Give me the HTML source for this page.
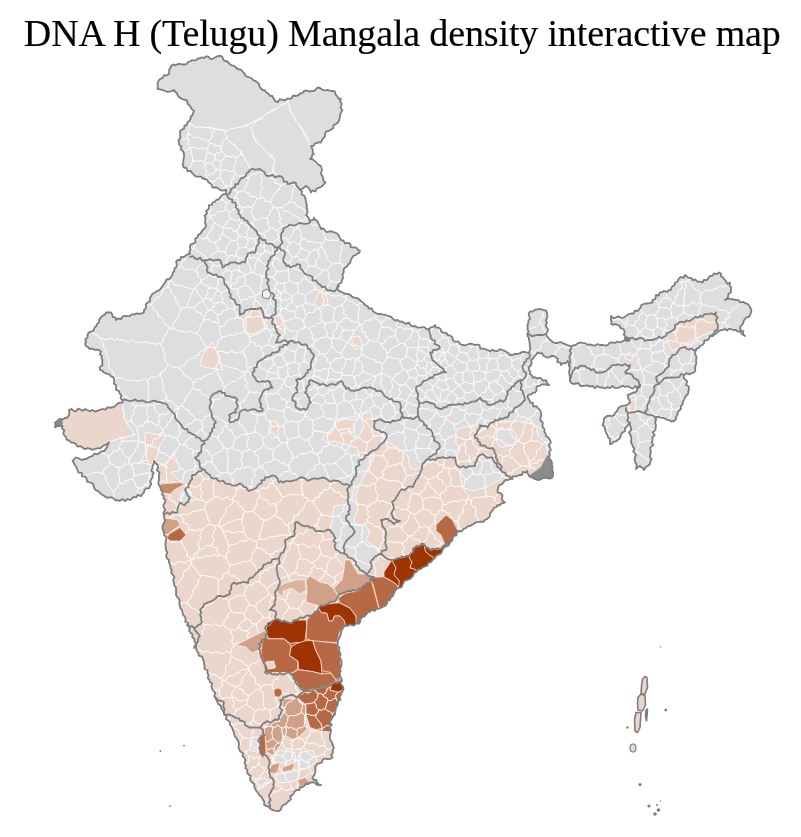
<!DOCTYPE html>
<html><head><meta charset="utf-8"><title>DNA H (Telugu) Mangala density interactive map</title>
<style>
html,body{margin:0;padding:0;background:#fff}
body{width:801px;height:837px;position:relative;overflow:hidden}
h1{position:absolute;left:1.75px;top:10.6px;width:801px;margin:0;text-align:center;font-family:"Liberation Serif","Times New Roman",serif;font-weight:normal;font-size:38px;line-height:44px;color:#000;white-space:nowrap;letter-spacing:-0.128px;word-spacing:-0.118px;-webkit-text-stroke:0.15px #000}
</style></head><body>
<h1>DNA H (Telugu) Mangala density interactive map</h1>
<svg width="801" height="837" viewBox="0 0 801 837" style="position:absolute;left:0;top:0">
<defs><clipPath id="ind"><path d="M157.5 84.0 L158.1 82.2 L158.7 80.4 L160.0 79.0 L162.4 78.1 L163.9 75.5 L166.8 75.3 L169.0 74.0 L169.2 71.9 L169.1 69.8 L170.5 68.0 L171.0 66.0 L173.2 64.4 L175.6 65.3 L177.9 64.0 L180.2 63.8 L182.6 64.5 L185.0 64.5 L186.9 63.9 L188.0 62.0 L190.0 61.5 L191.8 60.2 L194.1 60.3 L196.3 60.2 L198.0 58.5 L200.0 58.2 L201.9 57.3 L204.2 58.0 L206.0 56.5 L208.5 56.6 L210.1 58.8 L212.5 59.0 L214.5 57.8 L216.5 56.7 L218.6 55.9 L221.0 56.0 L222.6 57.5 L223.3 59.7 L225.0 61.0 L227.7 61.5 L229.3 63.8 L231.4 65.3 L234.0 65.9 L236.0 67.5 L237.7 69.1 L240.4 69.5 L242.2 71.0 L243.8 72.8 L245.0 75.0 L246.8 76.7 L249.3 77.3 L251.5 78.3 L253.2 80.2 L255.5 81.1 L257.5 82.5 L259.1 84.1 L259.4 86.6 L260.9 88.4 L262.5 90.0 L264.9 90.5 L266.4 92.6 L268.5 93.7 L269.9 95.8 L272.5 96.0 L273.0 97.8 L274.4 99.2 L275.0 101.0 L277.7 102.1 L279.8 99.2 L282.5 99.8 L285.1 100.4 L287.4 98.3 L290.0 99.0 L292.0 97.8 L293.3 95.5 L296.3 96.0 L298.4 95.1 L300.1 93.5 L302.6 93.1 L304.0 91.0 L306.5 90.5 L309.0 91.5 L311.5 91.2 L314.0 91.0 L315.8 89.3 L317.5 87.5 L320.0 88.0 L322.3 89.7 L324.7 90.5 L327.5 89.8 L329.9 90.9 L332.5 91.0 L335.1 91.6 L335.5 94.6 L337.3 96.1 L338.3 98.5 L341.0 99.0 L340.0 101.2 L341.6 103.5 L341.3 105.8 L340.5 108.0 L342.4 110.2 L341.0 112.5 L340.1 114.8 L339.9 117.5 L339.1 119.9 L338.2 122.2 L336.0 124.0 L333.6 125.1 L333.1 128.2 L331.0 129.6 L328.9 130.9 L326.1 131.5 L325.0 134.0 L324.9 136.6 L323.1 138.3 L321.9 140.3 L321.0 142.5 L318.7 142.2 L316.7 143.1 L314.7 143.7 L313.2 145.9 L311.0 146.0 L311.9 147.9 L312.8 149.9 L312.5 152.3 L314.0 154.0 L312.1 155.2 L311.8 157.7 L310.0 159.0 L312.4 159.3 L314.1 160.7 L315.9 161.8 L317.4 163.6 L319.0 165.1 L321.0 166.0 L321.5 168.0 L322.0 170.0 L321.2 172.0 L321.0 174.0 L322.4 176.0 L323.1 178.3 L323.4 180.9 L325.5 182.5 L323.8 184.1 L322.5 186.0 L320.6 187.0 L318.5 187.9 L316.5 188.8 L315.5 191.5 L312.3 190.4 L311.0 192.5 L310.2 190.5 L309.1 188.8 L307.8 187.2 L306.0 186.0 L304.1 187.5 L302.1 188.8 L300.0 190.0 L302.1 191.6 L301.6 194.3 L304.2 195.7 L305.2 197.8 L305.8 200.0 L306.0 202.5 L307.0 205.0 L306.5 207.5 L307.3 210.0 L307.5 212.5 L306.0 215.0 L307.7 216.5 L308.8 218.3 L309.3 220.5 L310.0 222.5 L310.7 220.3 L313.2 219.6 L314.0 217.5 L314.9 219.6 L317.2 220.8 L318.1 222.9 L319.1 224.9 L320.2 226.9 L321.0 229.0 L323.6 228.5 L325.4 231.2 L327.6 232.2 L330.4 231.2 L332.7 231.9 L335.0 232.5 L337.3 233.7 L338.8 235.6 L339.8 237.9 L341.0 240.0 L343.5 240.6 L344.7 243.3 L347.8 242.8 L350.2 243.7 L350.9 247.3 L353.6 247.4 L356.3 247.6 L357.8 249.9 L360.0 251.0 L359.2 252.8 L357.3 253.6 L356.0 255.0 L353.4 255.8 L352.0 257.9 L350.8 260.0 L350.3 262.6 L348.4 264.2 L347.3 266.4 L345.0 267.5 L343.6 269.8 L343.7 272.5 L342.4 274.8 L343.1 277.6 L342.0 280.0 L341.5 282.6 L339.0 284.1 L337.5 286.2 L337.5 289.0 L339.0 290.9 L341.1 291.8 L343.1 292.8 L345.2 293.6 L347.5 294.0 L350.1 294.6 L351.9 296.7 L354.4 297.6 L357.1 298.1 L359.3 299.5 L361.2 301.4 L363.4 302.7 L365.0 305.2 L367.5 306.0 L368.8 308.5 L371.8 308.5 L373.0 311.1 L375.0 312.6 L377.2 313.8 L380.0 314.0 L382.3 314.4 L384.6 314.7 L386.8 315.5 L389.0 316.1 L391.2 316.9 L393.0 318.9 L394.9 320.4 L397.5 320.0 L399.4 321.7 L401.9 321.4 L403.9 322.7 L406.0 323.9 L408.8 322.6 L410.5 325.0 L412.4 326.4 L415.0 326.0 L417.2 327.3 L419.5 327.7 L422.0 327.4 L424.5 327.1 L426.5 329.3 L429.0 329.0 L430.8 327.4 L433.3 326.8 L435.0 325.0 L435.9 327.5 L438.8 327.6 L440.5 329.1 L441.3 331.8 L443.5 332.7 L446.3 332.8 L447.5 335.0 L450.2 335.6 L452.3 337.2 L453.0 340.5 L455.3 341.7 L458.5 341.6 L460.0 344.0 L462.5 345.0 L465.0 345.4 L467.5 344.5 L470.0 343.6 L472.5 344.0 L474.6 345.0 L477.2 344.7 L479.5 345.2 L480.5 348.7 L483.0 348.7 L485.3 349.2 L487.5 350.0 L490.0 351.3 L492.5 349.8 L495.0 351.1 L497.5 351.0 L500.0 349.1 L502.5 350.0 L504.7 350.8 L506.5 352.1 L508.5 353.2 L510.0 355.0 L512.5 354.8 L514.9 353.9 L517.5 354.0 L520.0 353.2 L522.3 351.9 L525.0 352.0 L526.9 352.7 L529.0 352.5 L530.5 349.0 L529.9 346.7 L529.8 344.3 L529.5 342.0 L529.0 340.0 L528.8 337.8 L527.5 336.0 L527.3 333.8 L528.7 331.6 L527.5 329.4 L527.6 327.2 L527.5 325.0 L528.4 322.9 L528.4 320.5 L530.0 318.8 L529.5 316.9 L528.7 315.0 L528.8 313.0 L530.2 311.5 L532.4 311.7 L534.0 310.5 L535.9 309.4 L538.0 309.3 L540.0 308.8 L542.0 309.7 L544.1 310.1 L546.2 310.6 L546.9 312.3 L547.1 314.2 L547.5 316.0 L546.9 318.2 L545.9 320.4 L547.0 322.9 L545.6 325.0 L546.3 326.7 L547.5 328.2 L548.0 330.0 L547.2 332.1 L546.0 334.0 L546.6 335.8 L547.8 337.2 L548.8 338.8 L550.8 340.3 L552.6 342.0 L555.0 343.0 L557.6 343.0 L560.0 342.0 L561.9 342.6 L563.7 343.7 L565.6 344.3 L567.5 345.0 L571.0 346.5 L573.3 345.5 L575.7 345.0 L577.7 343.4 L580.0 342.5 L582.5 342.9 L585.0 343.1 L587.3 344.8 L589.9 344.3 L592.4 345.2 L594.8 345.7 L597.6 344.0 L600.0 345.0 L602.5 344.9 L605.2 345.7 L607.6 345.1 L609.9 342.7 L612.4 342.3 L615.0 343.0 L617.3 341.5 L620.0 342.5 L622.3 341.2 L624.7 340.1 L627.6 341.1 L630.0 340.0 L627.6 339.1 L625.0 339.0 L625.7 336.6 L623.7 334.6 L624.8 332.2 L624.0 330.0 L622.6 328.5 L620.3 328.1 L619.6 325.6 L617.5 325.0 L615.5 323.9 L613.1 324.8 L611.0 324.0 L611.9 322.0 L610.8 320.0 L611.0 318.0 L611.0 316.0 L613.0 317.8 L615.4 317.8 L618.1 316.2 L620.2 317.4 L622.5 318.0 L624.7 317.0 L626.6 315.6 L628.5 314.2 L630.8 313.5 L633.5 313.6 L634.7 310.7 L637.5 311.0 L639.2 309.3 L640.6 307.4 L641.5 304.9 L644.0 304.0 L646.1 303.3 L648.3 303.5 L650.4 302.9 L652.5 302.5 L652.5 300.2 L655.2 299.2 L655.7 297.1 L656.0 295.0 L658.6 295.6 L659.9 292.4 L662.2 292.2 L664.1 290.8 L667.0 292.2 L668.6 290.1 L671.0 290.0 L671.3 287.7 L672.8 286.2 L674.8 284.8 L675.0 282.5 L677.6 281.8 L678.6 278.9 L680.4 277.2 L683.8 277.5 L685.0 275.0 L686.8 276.4 L688.5 277.9 L691.2 277.9 L692.5 280.0 L695.3 279.5 L697.4 281.7 L700.0 281.7 L702.5 282.5 L703.7 280.0 L707.0 280.1 L708.4 277.9 L710.0 276.0 L712.5 275.8 L714.1 273.3 L717.1 274.2 L719.0 272.5 L721.0 273.6 L720.9 276.2 L722.8 277.3 L724.0 279.0 L725.4 280.5 L726.3 282.4 L727.5 284.0 L730.0 282.5 L729.5 285.1 L731.1 287.4 L731.0 290.0 L730.8 292.6 L728.5 294.0 L728.1 296.4 L727.2 298.6 L725.0 300.0 L727.2 299.0 L729.4 298.7 L731.6 299.1 L733.8 299.5 L736.0 300.0 L738.5 300.2 L740.3 302.3 L743.1 301.8 L745.2 303.2 L747.5 304.0 L749.1 305.4 L750.0 307.2 L751.0 309.0 L751.4 311.1 L750.7 313.1 L750.0 315.0 L748.8 317.0 L746.4 317.4 L745.0 319.0 L743.6 321.1 L743.2 323.7 L741.3 325.4 L740.0 327.5 L740.3 330.2 L743.4 331.2 L743.0 334.3 L745.0 336.0 L743.1 335.0 L741.4 333.6 L740.1 331.6 L737.6 331.5 L736.0 330.0 L733.8 330.0 L731.5 329.4 L729.2 328.6 L727.0 330.5 L724.8 329.0 L722.5 330.0 L720.1 330.4 L718.2 331.6 L716.4 333.3 L714.4 334.4 L712.7 336.2 L710.0 336.0 L709.1 338.5 L707.6 340.2 L704.5 340.5 L703.9 343.2 L702.4 345.0 L700.0 346.0 L699.1 347.8 L697.0 348.3 L696.0 350.0 L695.0 352.5 L695.6 355.0 L696.6 357.5 L696.0 360.0 L696.4 362.6 L695.8 365.1 L694.9 367.5 L695.4 370.2 L694.0 372.5 L691.5 373.3 L689.2 374.4 L686.2 373.2 L684.0 375.0 L683.5 377.8 L685.5 379.7 L687.2 381.7 L686.0 384.8 L688.7 386.5 L689.0 389.0 L688.3 391.3 L688.1 393.8 L686.3 395.5 L685.0 397.5 L684.0 399.7 L682.8 401.8 L682.6 404.3 L680.7 406.1 L681.0 408.9 L679.2 410.7 L677.5 412.5 L677.5 415.0 L676.0 416.8 L675.9 419.3 L674.0 421.0 L671.4 421.5 L669.4 420.2 L667.1 419.8 L665.0 418.5 L662.8 417.9 L660.5 417.7 L658.3 416.8 L656.0 417.0 L655.7 419.0 L655.6 421.0 L655.2 423.0 L656.0 425.0 L655.7 427.6 L655.3 430.1 L652.8 432.2 L654.7 435.2 L652.4 437.3 L652.5 440.0 L651.8 442.4 L653.4 444.9 L650.7 447.1 L650.3 449.5 L650.9 452.0 L650.3 454.3 L649.8 456.7 L651.6 459.3 L650.2 461.6 L650.0 464.0 L648.5 465.5 L646.5 466.5 L645.0 468.0 L644.0 470.0 L643.0 468.3 L641.4 467.2 L640.0 466.0 L637.7 467.1 L636.0 469.0 L636.5 466.7 L636.6 464.3 L635.2 462.0 L634.6 459.7 L634.9 457.3 L636.0 455.0 L634.8 453.1 L633.2 451.3 L634.4 448.4 L632.8 446.6 L632.2 444.4 L631.0 442.5 L631.2 440.0 L631.3 437.5 L630.5 435.0 L628.9 432.6 L631.2 429.9 L630.9 427.5 L630.0 425.0 L630.0 422.5 L628.5 424.5 L626.9 426.4 L625.1 428.2 L625.0 431.3 L622.5 432.5 L620.8 434.1 L620.5 436.6 L619.6 438.7 L617.5 440.0 L615.9 441.5 L613.5 441.6 L612.2 443.6 L610.0 444.0 L609.9 441.6 L609.9 439.2 L608.1 437.3 L607.5 435.0 L606.2 433.2 L605.4 431.0 L605.0 428.8 L604.2 426.7 L602.5 425.0 L603.4 423.2 L604.0 421.3 L603.6 419.1 L605.0 417.5 L607.0 416.0 L609.3 415.7 L611.9 416.2 L614.0 415.0 L614.9 413.2 L616.4 411.7 L617.5 410.0 L618.8 407.5 L621.0 406.4 L623.4 405.7 L626.1 405.4 L628.2 404.2 L630.0 402.5 L629.7 400.5 L628.3 398.9 L628.2 396.9 L627.5 395.0 L629.4 394.3 L631.2 393.7 L632.9 392.4 L635.0 392.5 L637.0 391.1 L636.9 388.4 L639.7 387.5 L640.0 385.0 L637.5 387.5 L635.1 386.1 L632.4 388.7 L630.0 387.3 L627.5 386.1 L625.0 387.0 L622.5 385.6 L620.0 387.3 L617.5 387.8 L615.0 388.1 L612.5 385.9 L610.0 388.2 L607.5 387.1 L605.0 388.5 L602.5 387.4 L600.0 387.5 L597.6 385.9 L594.9 388.2 L592.6 385.9 L590.0 386.6 L587.6 385.3 L585.1 385.6 L582.5 386.0 L580.1 385.9 L578.8 383.2 L576.2 383.5 L573.6 384.0 L571.5 383.2 L570.0 381.0 L570.0 378.8 L569.9 376.5 L569.4 374.2 L568.9 372.0 L569.5 369.8 L570.0 367.5 L568.9 365.5 L568.9 362.9 L567.5 361.0 L565.9 363.2 L562.9 363.2 L561.0 365.0 L560.4 362.6 L557.3 362.1 L557.8 358.8 L555.9 357.4 L554.0 356.0 L551.7 355.8 L549.7 357.4 L547.5 357.5 L545.3 356.8 L543.4 355.8 L542.1 353.2 L539.6 353.3 L537.5 352.5 L536.1 354.6 L534.4 356.4 L533.1 358.5 L531.0 360.0 L531.7 362.7 L531.0 365.2 L528.6 367.3 L529.0 370.0 L530.3 371.7 L529.9 374.1 L532.1 375.4 L532.5 377.5 L534.9 377.2 L537.0 378.4 L539.4 377.8 L541.6 378.8 L543.5 380.9 L546.0 380.0 L546.5 382.0 L547.6 383.6 L549.0 385.0 L546.7 384.8 L544.3 384.2 L542.0 384.3 L539.8 385.7 L537.5 386.0 L536.3 388.0 L536.6 390.6 L535.0 392.5 L532.9 392.9 L531.3 394.3 L529.1 394.6 L527.5 396.0 L528.1 398.3 L529.5 400.2 L530.0 402.5 L532.8 402.9 L533.2 406.5 L536.7 406.1 L538.1 408.4 L540.0 410.0 L540.9 412.4 L541.4 414.9 L540.5 417.6 L540.3 420.2 L542.8 422.4 L542.5 425.0 L542.8 427.3 L544.5 429.2 L544.4 431.7 L545.6 433.7 L546.0 436.0 L547.7 437.0 L549.0 438.3 L550.0 440.0 L550.9 442.5 L548.8 445.0 L550.0 447.5 L550.8 450.0 L548.8 452.5 L550.0 455.0 L548.8 457.7 L550.7 460.0 L551.9 462.4 L552.0 464.9 L552.6 467.4 L552.1 469.9 L553.2 472.4 L553.0 474.9 L552.5 477.5 L550.1 478.6 L547.5 478.1 L544.8 477.6 L542.4 478.4 L540.0 479.8 L537.5 480.0 L535.3 479.2 L533.3 477.9 L531.0 477.3 L529.0 476.0 L528.3 474.4 L527.4 472.8 L527.5 471.0 L525.8 472.6 L522.9 471.8 L522.0 475.0 L519.5 475.0 L517.5 476.0 L515.3 476.3 L513.0 476.3 L511.5 478.8 L509.4 479.3 L507.3 480.1 L505.0 480.0 L503.7 482.2 L502.1 484.1 L499.4 485.2 L498.2 487.4 L497.5 490.0 L497.8 492.7 L501.2 493.4 L502.5 495.5 L502.0 498.7 L502.7 501.0 L505.0 502.5 L503.1 503.2 L501.2 503.6 L499.7 505.3 L497.5 505.0 L496.5 507.0 L493.9 507.9 L492.9 509.9 L491.6 511.7 L490.1 513.4 L490.0 516.0 L488.6 517.7 L487.1 519.2 L485.0 520.0 L483.2 521.8 L480.7 521.7 L478.4 522.1 L475.9 522.2 L474.0 523.7 L472.0 524.7 L470.0 526.0 L467.5 526.3 L465.7 528.1 L463.3 528.9 L461.8 531.3 L459.0 531.0 L456.8 532.4 L456.6 535.3 L453.5 536.0 L452.7 538.4 L452.0 540.9 L450.0 542.5 L449.2 544.7 L447.5 546.0 L445.2 546.7 L443.6 548.1 L442.5 550.0 L441.7 552.5 L440.1 554.2 L437.4 554.9 L435.7 556.5 L434.4 558.6 L432.5 560.0 L431.0 562.2 L428.3 562.8 L427.4 565.7 L424.9 566.5 L422.5 567.5 L420.7 569.2 L417.9 569.6 L416.6 571.9 L414.3 572.9 L413.2 575.4 L411.8 577.5 L409.9 579.0 L407.5 580.0 L404.8 580.5 L403.5 582.7 L402.5 585.1 L401.3 587.4 L398.6 587.9 L396.4 589.0 L395.0 591.0 L393.9 593.4 L393.1 595.8 L390.9 597.5 L390.0 600.0 L387.4 600.6 L386.9 603.7 L385.5 605.7 L383.1 606.6 L381.0 607.8 L378.9 608.8 L376.4 608.8 L374.7 610.9 L371.9 610.0 L370.0 611.6 L367.8 612.5 L366.2 614.3 L364.8 616.2 L362.5 617.0 L360.4 618.8 L360.3 621.7 L358.8 623.8 L356.4 623.1 L354.5 625.2 L352.3 625.5 L349.9 624.2 L347.9 625.9 L345.6 625.6 L343.4 626.9 L342.5 629.2 L341.0 631.0 L341.0 633.6 L340.2 636.0 L339.0 638.3 L338.0 640.6 L337.8 643.0 L337.4 645.4 L339.6 647.6 L339.0 650.0 L339.8 652.3 L340.7 654.6 L339.3 657.3 L341.0 659.4 L341.6 661.8 L341.6 664.2 L341.3 666.5 L340.0 668.8 L340.7 670.9 L339.6 673.5 L340.1 675.7 L340.9 677.9 L342.0 680.0 L340.7 682.3 L341.1 684.5 L343.0 686.6 L343.5 688.7 L342.8 691.0 L341.4 692.8 L341.0 695.0 L339.5 696.8 L340.6 699.7 L338.0 701.1 L338.0 703.5 L337.2 705.6 L336.0 707.5 L335.6 709.8 L335.3 712.0 L334.9 714.3 L333.3 716.1 L332.2 718.1 L331.0 720.0 L329.5 722.4 L331.8 725.1 L329.1 727.4 L331.2 730.1 L330.6 732.5 L330.0 735.0 L329.8 737.7 L330.4 740.2 L332.1 742.5 L332.5 745.0 L333.9 747.5 L332.6 750.0 L332.9 752.5 L331.2 755.0 L332.5 757.5 L330.2 758.9 L327.6 759.1 L324.7 758.3 L322.5 760.0 L321.9 762.4 L319.7 763.2 L317.4 763.9 L316.0 765.5 L315.0 767.5 L315.6 770.3 L315.0 772.8 L314.3 775.3 L312.5 777.5 L313.4 779.9 L316.4 780.0 L317.1 782.5 L318.5 784.4 L321.0 785.0 L318.7 785.0 L316.5 784.7 L314.7 782.2 L312.3 782.7 L310.0 782.5 L308.3 784.1 L305.7 783.9 L304.2 786.0 L302.3 787.1 L300.0 787.5 L299.5 790.0 L296.5 790.0 L294.7 791.2 L293.7 793.2 L292.5 795.0 L290.2 796.1 L291.0 799.4 L289.2 800.8 L287.4 802.2 L286.0 804.0 L283.4 804.9 L281.7 806.7 L281.0 809.5 L279.0 811.0 L276.8 811.1 L274.6 810.5 L272.5 810.0 L270.3 808.7 L268.6 806.6 L266.0 806.0 L264.0 804.7 L264.4 801.8 L263.1 800.1 L262.2 798.1 L260.9 796.4 L259.0 795.0 L258.2 792.8 L256.4 791.1 L255.3 789.0 L254.3 786.9 L254.3 784.2 L252.5 782.5 L250.5 780.9 L250.0 778.7 L250.7 776.0 L248.5 774.4 L247.1 772.6 L247.5 770.0 L245.3 768.1 L246.0 765.3 L244.5 763.2 L245.5 760.2 L244.4 757.9 L242.5 756.0 L243.2 753.3 L240.4 751.6 L239.2 749.5 L238.5 747.2 L238.9 744.6 L238.8 742.1 L237.5 740.0 L236.3 737.9 L234.6 736.1 L234.1 733.7 L233.5 731.3 L232.6 729.1 L231.7 726.8 L230.0 725.0 L229.9 722.4 L228.3 720.5 L225.8 719.1 L226.6 716.0 L224.1 714.6 L223.8 712.1 L222.5 710.0 L221.1 708.2 L221.0 705.7 L218.5 704.4 L217.5 702.4 L216.4 700.4 L216.0 698.0 L214.2 696.1 L215.4 693.0 L213.6 691.1 L212.1 689.0 L211.4 686.7 L212.2 683.8 L210.0 682.0 L209.3 679.7 L207.7 677.8 L208.6 675.0 L207.4 672.9 L207.6 670.3 L204.4 668.9 L204.7 666.3 L204.0 664.0 L203.9 661.4 L202.9 659.1 L202.1 656.7 L198.7 655.6 L198.4 653.0 L197.0 651.0 L196.1 648.6 L196.0 646.0 L196.4 643.3 L194.5 641.5 L194.5 638.9 L192.1 637.3 L192.6 634.5 L190.5 632.7 L189.1 630.7 L189.7 627.9 L188.0 626.0 L188.4 623.2 L185.2 621.8 L185.7 619.0 L184.9 616.7 L182.9 614.9 L182.5 612.4 L182.0 610.0 L180.3 608.1 L179.8 605.8 L179.3 603.5 L179.6 601.0 L179.1 598.8 L177.1 596.9 L175.9 594.9 L176.2 592.4 L176.0 590.0 L176.0 587.4 L174.1 585.2 L173.9 582.6 L173.1 580.2 L174.4 577.3 L173.1 575.0 L171.2 572.8 L172.0 570.0 L170.5 568.4 L170.3 566.3 L169.8 564.3 L169.0 562.5 L168.8 559.9 L166.6 557.8 L166.2 555.2 L167.2 552.4 L166.0 550.0 L165.8 547.5 L165.4 545.0 L165.5 542.5 L166.0 540.0 L166.6 537.1 L164.1 535.2 L164.1 532.4 L162.8 530.1 L162.5 527.5 L162.7 525.0 L164.2 522.6 L164.9 520.2 L164.0 517.5 L163.8 515.0 L163.4 512.4 L165.2 510.0 L163.8 507.4 L163.4 504.9 L165.0 502.5 L165.5 500.0 L163.4 498.4 L163.9 496.0 L162.1 494.3 L162.8 491.7 L161.0 490.0 L160.4 487.5 L159.1 485.2 L158.2 482.8 L159.0 480.0 L158.9 477.5 L158.9 475.0 L159.5 472.4 L156.8 470.1 L158.1 467.5 L157.5 465.0 L156.2 463.8 L155.2 462.3 L154.0 461.0 L154.0 462.8 L153.3 464.4 L152.5 466.0 L152.4 468.3 L151.2 470.6 L153.7 472.9 L152.5 475.2 L152.5 477.5 L151.2 479.4 L150.2 481.4 L151.3 484.1 L150.0 486.0 L149.3 488.3 L146.1 488.3 L144.5 489.9 L144.0 492.4 L142.5 494.0 L141.0 496.2 L137.8 494.8 L136.4 497.3 L133.6 496.9 L131.9 498.7 L130.0 500.0 L127.5 499.0 L125.0 501.0 L122.5 499.1 L120.0 500.8 L117.5 500.3 L115.0 500.0 L113.1 498.0 L110.7 497.1 L107.6 497.9 L105.3 496.8 L103.2 495.3 L101.0 494.0 L99.5 492.3 L97.6 491.0 L95.5 489.9 L94.2 488.0 L93.6 485.3 L92.4 483.3 L90.0 482.5 L87.2 481.7 L86.6 478.8 L85.2 476.6 L81.9 476.3 L81.8 472.9 L78.5 472.6 L77.5 470.0 L76.5 467.6 L75.1 465.4 L74.0 463.1 L72.5 461.0 L74.1 459.1 L76.0 457.5 L78.2 458.2 L80.3 459.3 L82.5 460.0 L84.4 459.0 L86.7 458.8 L88.4 457.5 L90.4 456.6 L92.5 456.0 L94.2 453.7 L97.2 454.3 L99.4 453.0 L101.4 451.3 L104.0 451.0 L105.8 449.2 L107.1 447.1 L107.7 444.6 L109.0 442.5 L107.2 444.1 L105.0 445.0 L103.0 445.9 L101.4 447.6 L99.4 448.4 L97.1 448.4 L95.0 449.0 L92.4 449.9 L90.0 448.6 L87.5 448.1 L84.8 449.2 L82.5 447.5 L80.4 446.1 L77.4 446.6 L75.9 443.9 L73.6 442.7 L71.0 442.5 L69.3 440.6 L66.6 439.6 L65.8 436.9 L64.0 435.0 L63.3 432.8 L64.3 430.3 L62.0 428.4 L62.5 426.0 L59.9 425.8 L57.3 426.0 L55.0 427.5 L55.3 425.0 L55.0 422.5 L57.0 421.7 L58.1 419.8 L60.0 419.0 L62.7 419.4 L65.0 418.0 L67.5 417.5 L68.9 415.2 L69.3 412.7 L69.0 410.0 L71.3 409.0 L73.6 410.9 L75.9 411.3 L78.2 408.7 L80.6 409.6 L82.9 410.8 L85.2 409.0 L87.5 410.0 L89.9 411.3 L92.6 409.9 L94.9 411.6 L97.5 411.0 L99.0 409.9 L100.8 409.7 L102.5 409.0 L105.2 409.7 L107.4 407.5 L109.9 407.3 L112.5 407.5 L114.5 406.5 L116.3 405.0 L117.9 403.3 L120.1 402.7 L122.5 402.5 L122.5 400.0 L120.5 398.4 L121.5 395.2 L119.7 393.5 L119.2 391.1 L116.2 390.0 L116.0 387.5 L116.2 385.2 L113.7 383.6 L114.3 381.2 L114.0 379.0 L113.0 377.0 L110.9 376.3 L109.4 374.2 L107.1 373.9 L105.0 373.0 L103.4 371.9 L102.0 370.5 L100.0 370.0 L99.6 367.2 L102.5 365.3 L102.2 362.6 L102.5 360.0 L101.5 358.1 L101.9 355.7 L99.8 354.2 L101.0 351.6 L99.0 350.0 L96.8 349.6 L94.5 349.8 L92.3 348.6 L90.0 349.0 L88.3 347.4 L86.2 346.1 L85.0 344.0 L86.2 341.9 L85.2 339.2 L87.6 337.5 L87.5 335.0 L88.6 332.7 L91.1 331.7 L93.5 330.6 L94.3 328.0 L96.1 326.4 L96.9 323.9 L99.0 322.5 L99.2 319.6 L100.7 317.7 L102.3 315.9 L104.9 314.7 L106.0 312.5 L108.5 312.4 L111.0 312.5 L112.2 314.4 L112.7 316.8 L115.5 317.6 L116.0 320.0 L118.1 318.5 L120.8 319.1 L122.6 316.6 L124.9 315.9 L127.5 316.2 L130.0 316.0 L132.0 314.3 L134.6 314.4 L136.8 313.4 L139.4 313.9 L141.7 313.3 L144.0 312.5 L143.9 310.2 L145.7 308.6 L146.0 306.5 L145.9 304.2 L147.5 302.5 L150.0 301.3 L149.9 298.0 L151.2 295.9 L152.5 293.8 L155.0 292.5 L157.1 291.1 L159.4 290.0 L161.1 288.2 L162.5 286.0 L163.9 284.0 L165.3 281.9 L166.4 279.5 L169.5 279.0 L171.0 277.0 L172.5 275.0 L172.8 272.7 L174.3 270.9 L174.5 268.5 L176.6 266.8 L176.7 264.5 L176.1 261.9 L177.5 260.0 L180.1 260.1 L181.1 256.8 L183.8 257.1 L185.7 255.7 L187.6 254.3 L190.0 254.0 L189.3 251.8 L190.5 249.7 L190.0 247.5 L190.3 244.6 L193.1 243.6 L195.6 242.3 L195.1 238.9 L197.5 237.5 L198.2 234.9 L200.6 233.5 L201.8 231.3 L203.5 229.4 L205.4 227.6 L206.0 225.0 L205.0 222.7 L205.4 220.3 L205.4 218.0 L204.6 215.7 L207.2 213.3 L206.0 211.0 L207.9 209.8 L209.1 208.0 L208.8 205.1 L212.0 204.8 L212.5 202.5 L214.8 201.9 L216.3 200.0 L218.7 199.5 L220.1 197.5 L221.7 195.7 L223.4 194.2 L226.0 194.0 L226.0 190.0 L223.6 190.4 L221.2 190.5 L219.2 189.2 L217.1 187.6 L214.9 187.3 L212.5 187.5 L211.9 185.2 L210.4 183.5 L208.3 182.2 L207.5 180.0 L205.3 179.0 L202.9 178.5 L201.1 176.7 L198.5 176.6 L196.0 176.5 L194.0 175.0 L192.3 173.2 L190.8 170.9 L187.5 171.2 L186.7 168.1 L184.0 167.5 L182.7 165.0 L183.4 162.5 L183.3 160.0 L184.0 157.5 L184.0 155.1 L183.8 152.8 L182.6 150.8 L180.7 149.1 L181.5 146.4 L179.2 144.8 L179.0 142.5 L178.4 140.1 L180.6 138.0 L180.0 135.6 L180.4 133.4 L180.0 131.0 L181.9 129.6 L184.1 128.5 L184.4 125.8 L186.8 124.9 L187.5 122.5 L189.1 120.9 L190.6 119.2 L190.6 116.7 L192.4 115.2 L193.1 113.0 L194.0 111.0 L192.5 109.7 L191.1 108.4 L190.4 106.3 L189.0 105.0 L187.5 103.7 L187.5 101.3 L186.0 100.0 L183.4 99.5 L181.1 98.5 L179.1 97.1 L177.5 95.0 L176.9 92.9 L175.0 91.8 L174.0 90.0 L171.8 91.1 L169.6 91.6 L167.4 91.8 L165.0 91.0 L162.6 90.0 L160.1 89.4 L157.5 89.0 L157.8 86.5Z"/></clipPath></defs>
<path d="M157.5 84.0 L158.1 82.2 L158.7 80.4 L160.0 79.0 L162.4 78.1 L163.9 75.5 L166.8 75.3 L169.0 74.0 L169.2 71.9 L169.1 69.8 L170.5 68.0 L171.0 66.0 L173.2 64.4 L175.6 65.3 L177.9 64.0 L180.2 63.8 L182.6 64.5 L185.0 64.5 L186.9 63.9 L188.0 62.0 L190.0 61.5 L191.8 60.2 L194.1 60.3 L196.3 60.2 L198.0 58.5 L200.0 58.2 L201.9 57.3 L204.2 58.0 L206.0 56.5 L208.5 56.6 L210.1 58.8 L212.5 59.0 L214.5 57.8 L216.5 56.7 L218.6 55.9 L221.0 56.0 L222.6 57.5 L223.3 59.7 L225.0 61.0 L227.7 61.5 L229.3 63.8 L231.4 65.3 L234.0 65.9 L236.0 67.5 L237.7 69.1 L240.4 69.5 L242.2 71.0 L243.8 72.8 L245.0 75.0 L246.8 76.7 L249.3 77.3 L251.5 78.3 L253.2 80.2 L255.5 81.1 L257.5 82.5 L259.1 84.1 L259.4 86.6 L260.9 88.4 L262.5 90.0 L264.9 90.5 L266.4 92.6 L268.5 93.7 L269.9 95.8 L272.5 96.0 L273.0 97.8 L274.4 99.2 L275.0 101.0 L277.7 102.1 L279.8 99.2 L282.5 99.8 L285.1 100.4 L287.4 98.3 L290.0 99.0 L292.0 97.8 L293.3 95.5 L296.3 96.0 L298.4 95.1 L300.1 93.5 L302.6 93.1 L304.0 91.0 L306.5 90.5 L309.0 91.5 L311.5 91.2 L314.0 91.0 L315.8 89.3 L317.5 87.5 L320.0 88.0 L322.3 89.7 L324.7 90.5 L327.5 89.8 L329.9 90.9 L332.5 91.0 L335.1 91.6 L335.5 94.6 L337.3 96.1 L338.3 98.5 L341.0 99.0 L340.0 101.2 L341.6 103.5 L341.3 105.8 L340.5 108.0 L342.4 110.2 L341.0 112.5 L340.1 114.8 L339.9 117.5 L339.1 119.9 L338.2 122.2 L336.0 124.0 L333.6 125.1 L333.1 128.2 L331.0 129.6 L328.9 130.9 L326.1 131.5 L325.0 134.0 L324.9 136.6 L323.1 138.3 L321.9 140.3 L321.0 142.5 L318.7 142.2 L316.7 143.1 L314.7 143.7 L313.2 145.9 L311.0 146.0 L311.9 147.9 L312.8 149.9 L312.5 152.3 L314.0 154.0 L312.1 155.2 L311.8 157.7 L310.0 159.0 L312.4 159.3 L314.1 160.7 L315.9 161.8 L317.4 163.6 L319.0 165.1 L321.0 166.0 L321.5 168.0 L322.0 170.0 L321.2 172.0 L321.0 174.0 L322.4 176.0 L323.1 178.3 L323.4 180.9 L325.5 182.5 L323.8 184.1 L322.5 186.0 L320.6 187.0 L318.5 187.9 L316.5 188.8 L315.5 191.5 L312.3 190.4 L311.0 192.5 L310.2 190.5 L309.1 188.8 L307.8 187.2 L306.0 186.0 L304.1 187.5 L302.1 188.8 L300.0 190.0 L302.1 191.6 L301.6 194.3 L304.2 195.7 L305.2 197.8 L305.8 200.0 L306.0 202.5 L307.0 205.0 L306.5 207.5 L307.3 210.0 L307.5 212.5 L306.0 215.0 L307.7 216.5 L308.8 218.3 L309.3 220.5 L310.0 222.5 L310.7 220.3 L313.2 219.6 L314.0 217.5 L314.9 219.6 L317.2 220.8 L318.1 222.9 L319.1 224.9 L320.2 226.9 L321.0 229.0 L323.6 228.5 L325.4 231.2 L327.6 232.2 L330.4 231.2 L332.7 231.9 L335.0 232.5 L337.3 233.7 L338.8 235.6 L339.8 237.9 L341.0 240.0 L343.5 240.6 L344.7 243.3 L347.8 242.8 L350.2 243.7 L350.9 247.3 L353.6 247.4 L356.3 247.6 L357.8 249.9 L360.0 251.0 L359.2 252.8 L357.3 253.6 L356.0 255.0 L353.4 255.8 L352.0 257.9 L350.8 260.0 L350.3 262.6 L348.4 264.2 L347.3 266.4 L345.0 267.5 L343.6 269.8 L343.7 272.5 L342.4 274.8 L343.1 277.6 L342.0 280.0 L341.5 282.6 L339.0 284.1 L337.5 286.2 L337.5 289.0 L339.0 290.9 L341.1 291.8 L343.1 292.8 L345.2 293.6 L347.5 294.0 L350.1 294.6 L351.9 296.7 L354.4 297.6 L357.1 298.1 L359.3 299.5 L361.2 301.4 L363.4 302.7 L365.0 305.2 L367.5 306.0 L368.8 308.5 L371.8 308.5 L373.0 311.1 L375.0 312.6 L377.2 313.8 L380.0 314.0 L382.3 314.4 L384.6 314.7 L386.8 315.5 L389.0 316.1 L391.2 316.9 L393.0 318.9 L394.9 320.4 L397.5 320.0 L399.4 321.7 L401.9 321.4 L403.9 322.7 L406.0 323.9 L408.8 322.6 L410.5 325.0 L412.4 326.4 L415.0 326.0 L417.2 327.3 L419.5 327.7 L422.0 327.4 L424.5 327.1 L426.5 329.3 L429.0 329.0 L430.8 327.4 L433.3 326.8 L435.0 325.0 L435.9 327.5 L438.8 327.6 L440.5 329.1 L441.3 331.8 L443.5 332.7 L446.3 332.8 L447.5 335.0 L450.2 335.6 L452.3 337.2 L453.0 340.5 L455.3 341.7 L458.5 341.6 L460.0 344.0 L462.5 345.0 L465.0 345.4 L467.5 344.5 L470.0 343.6 L472.5 344.0 L474.6 345.0 L477.2 344.7 L479.5 345.2 L480.5 348.7 L483.0 348.7 L485.3 349.2 L487.5 350.0 L490.0 351.3 L492.5 349.8 L495.0 351.1 L497.5 351.0 L500.0 349.1 L502.5 350.0 L504.7 350.8 L506.5 352.1 L508.5 353.2 L510.0 355.0 L512.5 354.8 L514.9 353.9 L517.5 354.0 L520.0 353.2 L522.3 351.9 L525.0 352.0 L526.9 352.7 L529.0 352.5 L530.5 349.0 L529.9 346.7 L529.8 344.3 L529.5 342.0 L529.0 340.0 L528.8 337.8 L527.5 336.0 L527.3 333.8 L528.7 331.6 L527.5 329.4 L527.6 327.2 L527.5 325.0 L528.4 322.9 L528.4 320.5 L530.0 318.8 L529.5 316.9 L528.7 315.0 L528.8 313.0 L530.2 311.5 L532.4 311.7 L534.0 310.5 L535.9 309.4 L538.0 309.3 L540.0 308.8 L542.0 309.7 L544.1 310.1 L546.2 310.6 L546.9 312.3 L547.1 314.2 L547.5 316.0 L546.9 318.2 L545.9 320.4 L547.0 322.9 L545.6 325.0 L546.3 326.7 L547.5 328.2 L548.0 330.0 L547.2 332.1 L546.0 334.0 L546.6 335.8 L547.8 337.2 L548.8 338.8 L550.8 340.3 L552.6 342.0 L555.0 343.0 L557.6 343.0 L560.0 342.0 L561.9 342.6 L563.7 343.7 L565.6 344.3 L567.5 345.0 L571.0 346.5 L573.3 345.5 L575.7 345.0 L577.7 343.4 L580.0 342.5 L582.5 342.9 L585.0 343.1 L587.3 344.8 L589.9 344.3 L592.4 345.2 L594.8 345.7 L597.6 344.0 L600.0 345.0 L602.5 344.9 L605.2 345.7 L607.6 345.1 L609.9 342.7 L612.4 342.3 L615.0 343.0 L617.3 341.5 L620.0 342.5 L622.3 341.2 L624.7 340.1 L627.6 341.1 L630.0 340.0 L627.6 339.1 L625.0 339.0 L625.7 336.6 L623.7 334.6 L624.8 332.2 L624.0 330.0 L622.6 328.5 L620.3 328.1 L619.6 325.6 L617.5 325.0 L615.5 323.9 L613.1 324.8 L611.0 324.0 L611.9 322.0 L610.8 320.0 L611.0 318.0 L611.0 316.0 L613.0 317.8 L615.4 317.8 L618.1 316.2 L620.2 317.4 L622.5 318.0 L624.7 317.0 L626.6 315.6 L628.5 314.2 L630.8 313.5 L633.5 313.6 L634.7 310.7 L637.5 311.0 L639.2 309.3 L640.6 307.4 L641.5 304.9 L644.0 304.0 L646.1 303.3 L648.3 303.5 L650.4 302.9 L652.5 302.5 L652.5 300.2 L655.2 299.2 L655.7 297.1 L656.0 295.0 L658.6 295.6 L659.9 292.4 L662.2 292.2 L664.1 290.8 L667.0 292.2 L668.6 290.1 L671.0 290.0 L671.3 287.7 L672.8 286.2 L674.8 284.8 L675.0 282.5 L677.6 281.8 L678.6 278.9 L680.4 277.2 L683.8 277.5 L685.0 275.0 L686.8 276.4 L688.5 277.9 L691.2 277.9 L692.5 280.0 L695.3 279.5 L697.4 281.7 L700.0 281.7 L702.5 282.5 L703.7 280.0 L707.0 280.1 L708.4 277.9 L710.0 276.0 L712.5 275.8 L714.1 273.3 L717.1 274.2 L719.0 272.5 L721.0 273.6 L720.9 276.2 L722.8 277.3 L724.0 279.0 L725.4 280.5 L726.3 282.4 L727.5 284.0 L730.0 282.5 L729.5 285.1 L731.1 287.4 L731.0 290.0 L730.8 292.6 L728.5 294.0 L728.1 296.4 L727.2 298.6 L725.0 300.0 L727.2 299.0 L729.4 298.7 L731.6 299.1 L733.8 299.5 L736.0 300.0 L738.5 300.2 L740.3 302.3 L743.1 301.8 L745.2 303.2 L747.5 304.0 L749.1 305.4 L750.0 307.2 L751.0 309.0 L751.4 311.1 L750.7 313.1 L750.0 315.0 L748.8 317.0 L746.4 317.4 L745.0 319.0 L743.6 321.1 L743.2 323.7 L741.3 325.4 L740.0 327.5 L740.3 330.2 L743.4 331.2 L743.0 334.3 L745.0 336.0 L743.1 335.0 L741.4 333.6 L740.1 331.6 L737.6 331.5 L736.0 330.0 L733.8 330.0 L731.5 329.4 L729.2 328.6 L727.0 330.5 L724.8 329.0 L722.5 330.0 L720.1 330.4 L718.2 331.6 L716.4 333.3 L714.4 334.4 L712.7 336.2 L710.0 336.0 L709.1 338.5 L707.6 340.2 L704.5 340.5 L703.9 343.2 L702.4 345.0 L700.0 346.0 L699.1 347.8 L697.0 348.3 L696.0 350.0 L695.0 352.5 L695.6 355.0 L696.6 357.5 L696.0 360.0 L696.4 362.6 L695.8 365.1 L694.9 367.5 L695.4 370.2 L694.0 372.5 L691.5 373.3 L689.2 374.4 L686.2 373.2 L684.0 375.0 L683.5 377.8 L685.5 379.7 L687.2 381.7 L686.0 384.8 L688.7 386.5 L689.0 389.0 L688.3 391.3 L688.1 393.8 L686.3 395.5 L685.0 397.5 L684.0 399.7 L682.8 401.8 L682.6 404.3 L680.7 406.1 L681.0 408.9 L679.2 410.7 L677.5 412.5 L677.5 415.0 L676.0 416.8 L675.9 419.3 L674.0 421.0 L671.4 421.5 L669.4 420.2 L667.1 419.8 L665.0 418.5 L662.8 417.9 L660.5 417.7 L658.3 416.8 L656.0 417.0 L655.7 419.0 L655.6 421.0 L655.2 423.0 L656.0 425.0 L655.7 427.6 L655.3 430.1 L652.8 432.2 L654.7 435.2 L652.4 437.3 L652.5 440.0 L651.8 442.4 L653.4 444.9 L650.7 447.1 L650.3 449.5 L650.9 452.0 L650.3 454.3 L649.8 456.7 L651.6 459.3 L650.2 461.6 L650.0 464.0 L648.5 465.5 L646.5 466.5 L645.0 468.0 L644.0 470.0 L643.0 468.3 L641.4 467.2 L640.0 466.0 L637.7 467.1 L636.0 469.0 L636.5 466.7 L636.6 464.3 L635.2 462.0 L634.6 459.7 L634.9 457.3 L636.0 455.0 L634.8 453.1 L633.2 451.3 L634.4 448.4 L632.8 446.6 L632.2 444.4 L631.0 442.5 L631.2 440.0 L631.3 437.5 L630.5 435.0 L628.9 432.6 L631.2 429.9 L630.9 427.5 L630.0 425.0 L630.0 422.5 L628.5 424.5 L626.9 426.4 L625.1 428.2 L625.0 431.3 L622.5 432.5 L620.8 434.1 L620.5 436.6 L619.6 438.7 L617.5 440.0 L615.9 441.5 L613.5 441.6 L612.2 443.6 L610.0 444.0 L609.9 441.6 L609.9 439.2 L608.1 437.3 L607.5 435.0 L606.2 433.2 L605.4 431.0 L605.0 428.8 L604.2 426.7 L602.5 425.0 L603.4 423.2 L604.0 421.3 L603.6 419.1 L605.0 417.5 L607.0 416.0 L609.3 415.7 L611.9 416.2 L614.0 415.0 L614.9 413.2 L616.4 411.7 L617.5 410.0 L618.8 407.5 L621.0 406.4 L623.4 405.7 L626.1 405.4 L628.2 404.2 L630.0 402.5 L629.7 400.5 L628.3 398.9 L628.2 396.9 L627.5 395.0 L629.4 394.3 L631.2 393.7 L632.9 392.4 L635.0 392.5 L637.0 391.1 L636.9 388.4 L639.7 387.5 L640.0 385.0 L637.5 387.5 L635.1 386.1 L632.4 388.7 L630.0 387.3 L627.5 386.1 L625.0 387.0 L622.5 385.6 L620.0 387.3 L617.5 387.8 L615.0 388.1 L612.5 385.9 L610.0 388.2 L607.5 387.1 L605.0 388.5 L602.5 387.4 L600.0 387.5 L597.6 385.9 L594.9 388.2 L592.6 385.9 L590.0 386.6 L587.6 385.3 L585.1 385.6 L582.5 386.0 L580.1 385.9 L578.8 383.2 L576.2 383.5 L573.6 384.0 L571.5 383.2 L570.0 381.0 L570.0 378.8 L569.9 376.5 L569.4 374.2 L568.9 372.0 L569.5 369.8 L570.0 367.5 L568.9 365.5 L568.9 362.9 L567.5 361.0 L565.9 363.2 L562.9 363.2 L561.0 365.0 L560.4 362.6 L557.3 362.1 L557.8 358.8 L555.9 357.4 L554.0 356.0 L551.7 355.8 L549.7 357.4 L547.5 357.5 L545.3 356.8 L543.4 355.8 L542.1 353.2 L539.6 353.3 L537.5 352.5 L536.1 354.6 L534.4 356.4 L533.1 358.5 L531.0 360.0 L531.7 362.7 L531.0 365.2 L528.6 367.3 L529.0 370.0 L530.3 371.7 L529.9 374.1 L532.1 375.4 L532.5 377.5 L534.9 377.2 L537.0 378.4 L539.4 377.8 L541.6 378.8 L543.5 380.9 L546.0 380.0 L546.5 382.0 L547.6 383.6 L549.0 385.0 L546.7 384.8 L544.3 384.2 L542.0 384.3 L539.8 385.7 L537.5 386.0 L536.3 388.0 L536.6 390.6 L535.0 392.5 L532.9 392.9 L531.3 394.3 L529.1 394.6 L527.5 396.0 L528.1 398.3 L529.5 400.2 L530.0 402.5 L532.8 402.9 L533.2 406.5 L536.7 406.1 L538.1 408.4 L540.0 410.0 L540.9 412.4 L541.4 414.9 L540.5 417.6 L540.3 420.2 L542.8 422.4 L542.5 425.0 L542.8 427.3 L544.5 429.2 L544.4 431.7 L545.6 433.7 L546.0 436.0 L547.7 437.0 L549.0 438.3 L550.0 440.0 L550.9 442.5 L548.8 445.0 L550.0 447.5 L550.8 450.0 L548.8 452.5 L550.0 455.0 L548.8 457.7 L550.7 460.0 L551.9 462.4 L552.0 464.9 L552.6 467.4 L552.1 469.9 L553.2 472.4 L553.0 474.9 L552.5 477.5 L550.1 478.6 L547.5 478.1 L544.8 477.6 L542.4 478.4 L540.0 479.8 L537.5 480.0 L535.3 479.2 L533.3 477.9 L531.0 477.3 L529.0 476.0 L528.3 474.4 L527.4 472.8 L527.5 471.0 L525.8 472.6 L522.9 471.8 L522.0 475.0 L519.5 475.0 L517.5 476.0 L515.3 476.3 L513.0 476.3 L511.5 478.8 L509.4 479.3 L507.3 480.1 L505.0 480.0 L503.7 482.2 L502.1 484.1 L499.4 485.2 L498.2 487.4 L497.5 490.0 L497.8 492.7 L501.2 493.4 L502.5 495.5 L502.0 498.7 L502.7 501.0 L505.0 502.5 L503.1 503.2 L501.2 503.6 L499.7 505.3 L497.5 505.0 L496.5 507.0 L493.9 507.9 L492.9 509.9 L491.6 511.7 L490.1 513.4 L490.0 516.0 L488.6 517.7 L487.1 519.2 L485.0 520.0 L483.2 521.8 L480.7 521.7 L478.4 522.1 L475.9 522.2 L474.0 523.7 L472.0 524.7 L470.0 526.0 L467.5 526.3 L465.7 528.1 L463.3 528.9 L461.8 531.3 L459.0 531.0 L456.8 532.4 L456.6 535.3 L453.5 536.0 L452.7 538.4 L452.0 540.9 L450.0 542.5 L449.2 544.7 L447.5 546.0 L445.2 546.7 L443.6 548.1 L442.5 550.0 L441.7 552.5 L440.1 554.2 L437.4 554.9 L435.7 556.5 L434.4 558.6 L432.5 560.0 L431.0 562.2 L428.3 562.8 L427.4 565.7 L424.9 566.5 L422.5 567.5 L420.7 569.2 L417.9 569.6 L416.6 571.9 L414.3 572.9 L413.2 575.4 L411.8 577.5 L409.9 579.0 L407.5 580.0 L404.8 580.5 L403.5 582.7 L402.5 585.1 L401.3 587.4 L398.6 587.9 L396.4 589.0 L395.0 591.0 L393.9 593.4 L393.1 595.8 L390.9 597.5 L390.0 600.0 L387.4 600.6 L386.9 603.7 L385.5 605.7 L383.1 606.6 L381.0 607.8 L378.9 608.8 L376.4 608.8 L374.7 610.9 L371.9 610.0 L370.0 611.6 L367.8 612.5 L366.2 614.3 L364.8 616.2 L362.5 617.0 L360.4 618.8 L360.3 621.7 L358.8 623.8 L356.4 623.1 L354.5 625.2 L352.3 625.5 L349.9 624.2 L347.9 625.9 L345.6 625.6 L343.4 626.9 L342.5 629.2 L341.0 631.0 L341.0 633.6 L340.2 636.0 L339.0 638.3 L338.0 640.6 L337.8 643.0 L337.4 645.4 L339.6 647.6 L339.0 650.0 L339.8 652.3 L340.7 654.6 L339.3 657.3 L341.0 659.4 L341.6 661.8 L341.6 664.2 L341.3 666.5 L340.0 668.8 L340.7 670.9 L339.6 673.5 L340.1 675.7 L340.9 677.9 L342.0 680.0 L340.7 682.3 L341.1 684.5 L343.0 686.6 L343.5 688.7 L342.8 691.0 L341.4 692.8 L341.0 695.0 L339.5 696.8 L340.6 699.7 L338.0 701.1 L338.0 703.5 L337.2 705.6 L336.0 707.5 L335.6 709.8 L335.3 712.0 L334.9 714.3 L333.3 716.1 L332.2 718.1 L331.0 720.0 L329.5 722.4 L331.8 725.1 L329.1 727.4 L331.2 730.1 L330.6 732.5 L330.0 735.0 L329.8 737.7 L330.4 740.2 L332.1 742.5 L332.5 745.0 L333.9 747.5 L332.6 750.0 L332.9 752.5 L331.2 755.0 L332.5 757.5 L330.2 758.9 L327.6 759.1 L324.7 758.3 L322.5 760.0 L321.9 762.4 L319.7 763.2 L317.4 763.9 L316.0 765.5 L315.0 767.5 L315.6 770.3 L315.0 772.8 L314.3 775.3 L312.5 777.5 L313.4 779.9 L316.4 780.0 L317.1 782.5 L318.5 784.4 L321.0 785.0 L318.7 785.0 L316.5 784.7 L314.7 782.2 L312.3 782.7 L310.0 782.5 L308.3 784.1 L305.7 783.9 L304.2 786.0 L302.3 787.1 L300.0 787.5 L299.5 790.0 L296.5 790.0 L294.7 791.2 L293.7 793.2 L292.5 795.0 L290.2 796.1 L291.0 799.4 L289.2 800.8 L287.4 802.2 L286.0 804.0 L283.4 804.9 L281.7 806.7 L281.0 809.5 L279.0 811.0 L276.8 811.1 L274.6 810.5 L272.5 810.0 L270.3 808.7 L268.6 806.6 L266.0 806.0 L264.0 804.7 L264.4 801.8 L263.1 800.1 L262.2 798.1 L260.9 796.4 L259.0 795.0 L258.2 792.8 L256.4 791.1 L255.3 789.0 L254.3 786.9 L254.3 784.2 L252.5 782.5 L250.5 780.9 L250.0 778.7 L250.7 776.0 L248.5 774.4 L247.1 772.6 L247.5 770.0 L245.3 768.1 L246.0 765.3 L244.5 763.2 L245.5 760.2 L244.4 757.9 L242.5 756.0 L243.2 753.3 L240.4 751.6 L239.2 749.5 L238.5 747.2 L238.9 744.6 L238.8 742.1 L237.5 740.0 L236.3 737.9 L234.6 736.1 L234.1 733.7 L233.5 731.3 L232.6 729.1 L231.7 726.8 L230.0 725.0 L229.9 722.4 L228.3 720.5 L225.8 719.1 L226.6 716.0 L224.1 714.6 L223.8 712.1 L222.5 710.0 L221.1 708.2 L221.0 705.7 L218.5 704.4 L217.5 702.4 L216.4 700.4 L216.0 698.0 L214.2 696.1 L215.4 693.0 L213.6 691.1 L212.1 689.0 L211.4 686.7 L212.2 683.8 L210.0 682.0 L209.3 679.7 L207.7 677.8 L208.6 675.0 L207.4 672.9 L207.6 670.3 L204.4 668.9 L204.7 666.3 L204.0 664.0 L203.9 661.4 L202.9 659.1 L202.1 656.7 L198.7 655.6 L198.4 653.0 L197.0 651.0 L196.1 648.6 L196.0 646.0 L196.4 643.3 L194.5 641.5 L194.5 638.9 L192.1 637.3 L192.6 634.5 L190.5 632.7 L189.1 630.7 L189.7 627.9 L188.0 626.0 L188.4 623.2 L185.2 621.8 L185.7 619.0 L184.9 616.7 L182.9 614.9 L182.5 612.4 L182.0 610.0 L180.3 608.1 L179.8 605.8 L179.3 603.5 L179.6 601.0 L179.1 598.8 L177.1 596.9 L175.9 594.9 L176.2 592.4 L176.0 590.0 L176.0 587.4 L174.1 585.2 L173.9 582.6 L173.1 580.2 L174.4 577.3 L173.1 575.0 L171.2 572.8 L172.0 570.0 L170.5 568.4 L170.3 566.3 L169.8 564.3 L169.0 562.5 L168.8 559.9 L166.6 557.8 L166.2 555.2 L167.2 552.4 L166.0 550.0 L165.8 547.5 L165.4 545.0 L165.5 542.5 L166.0 540.0 L166.6 537.1 L164.1 535.2 L164.1 532.4 L162.8 530.1 L162.5 527.5 L162.7 525.0 L164.2 522.6 L164.9 520.2 L164.0 517.5 L163.8 515.0 L163.4 512.4 L165.2 510.0 L163.8 507.4 L163.4 504.9 L165.0 502.5 L165.5 500.0 L163.4 498.4 L163.9 496.0 L162.1 494.3 L162.8 491.7 L161.0 490.0 L160.4 487.5 L159.1 485.2 L158.2 482.8 L159.0 480.0 L158.9 477.5 L158.9 475.0 L159.5 472.4 L156.8 470.1 L158.1 467.5 L157.5 465.0 L156.2 463.8 L155.2 462.3 L154.0 461.0 L154.0 462.8 L153.3 464.4 L152.5 466.0 L152.4 468.3 L151.2 470.6 L153.7 472.9 L152.5 475.2 L152.5 477.5 L151.2 479.4 L150.2 481.4 L151.3 484.1 L150.0 486.0 L149.3 488.3 L146.1 488.3 L144.5 489.9 L144.0 492.4 L142.5 494.0 L141.0 496.2 L137.8 494.8 L136.4 497.3 L133.6 496.9 L131.9 498.7 L130.0 500.0 L127.5 499.0 L125.0 501.0 L122.5 499.1 L120.0 500.8 L117.5 500.3 L115.0 500.0 L113.1 498.0 L110.7 497.1 L107.6 497.9 L105.3 496.8 L103.2 495.3 L101.0 494.0 L99.5 492.3 L97.6 491.0 L95.5 489.9 L94.2 488.0 L93.6 485.3 L92.4 483.3 L90.0 482.5 L87.2 481.7 L86.6 478.8 L85.2 476.6 L81.9 476.3 L81.8 472.9 L78.5 472.6 L77.5 470.0 L76.5 467.6 L75.1 465.4 L74.0 463.1 L72.5 461.0 L74.1 459.1 L76.0 457.5 L78.2 458.2 L80.3 459.3 L82.5 460.0 L84.4 459.0 L86.7 458.8 L88.4 457.5 L90.4 456.6 L92.5 456.0 L94.2 453.7 L97.2 454.3 L99.4 453.0 L101.4 451.3 L104.0 451.0 L105.8 449.2 L107.1 447.1 L107.7 444.6 L109.0 442.5 L107.2 444.1 L105.0 445.0 L103.0 445.9 L101.4 447.6 L99.4 448.4 L97.1 448.4 L95.0 449.0 L92.4 449.9 L90.0 448.6 L87.5 448.1 L84.8 449.2 L82.5 447.5 L80.4 446.1 L77.4 446.6 L75.9 443.9 L73.6 442.7 L71.0 442.5 L69.3 440.6 L66.6 439.6 L65.8 436.9 L64.0 435.0 L63.3 432.8 L64.3 430.3 L62.0 428.4 L62.5 426.0 L59.9 425.8 L57.3 426.0 L55.0 427.5 L55.3 425.0 L55.0 422.5 L57.0 421.7 L58.1 419.8 L60.0 419.0 L62.7 419.4 L65.0 418.0 L67.5 417.5 L68.9 415.2 L69.3 412.7 L69.0 410.0 L71.3 409.0 L73.6 410.9 L75.9 411.3 L78.2 408.7 L80.6 409.6 L82.9 410.8 L85.2 409.0 L87.5 410.0 L89.9 411.3 L92.6 409.9 L94.9 411.6 L97.5 411.0 L99.0 409.9 L100.8 409.7 L102.5 409.0 L105.2 409.7 L107.4 407.5 L109.9 407.3 L112.5 407.5 L114.5 406.5 L116.3 405.0 L117.9 403.3 L120.1 402.7 L122.5 402.5 L122.5 400.0 L120.5 398.4 L121.5 395.2 L119.7 393.5 L119.2 391.1 L116.2 390.0 L116.0 387.5 L116.2 385.2 L113.7 383.6 L114.3 381.2 L114.0 379.0 L113.0 377.0 L110.9 376.3 L109.4 374.2 L107.1 373.9 L105.0 373.0 L103.4 371.9 L102.0 370.5 L100.0 370.0 L99.6 367.2 L102.5 365.3 L102.2 362.6 L102.5 360.0 L101.5 358.1 L101.9 355.7 L99.8 354.2 L101.0 351.6 L99.0 350.0 L96.8 349.6 L94.5 349.8 L92.3 348.6 L90.0 349.0 L88.3 347.4 L86.2 346.1 L85.0 344.0 L86.2 341.9 L85.2 339.2 L87.6 337.5 L87.5 335.0 L88.6 332.7 L91.1 331.7 L93.5 330.6 L94.3 328.0 L96.1 326.4 L96.9 323.9 L99.0 322.5 L99.2 319.6 L100.7 317.7 L102.3 315.9 L104.9 314.7 L106.0 312.5 L108.5 312.4 L111.0 312.5 L112.2 314.4 L112.7 316.8 L115.5 317.6 L116.0 320.0 L118.1 318.5 L120.8 319.1 L122.6 316.6 L124.9 315.9 L127.5 316.2 L130.0 316.0 L132.0 314.3 L134.6 314.4 L136.8 313.4 L139.4 313.9 L141.7 313.3 L144.0 312.5 L143.9 310.2 L145.7 308.6 L146.0 306.5 L145.9 304.2 L147.5 302.5 L150.0 301.3 L149.9 298.0 L151.2 295.9 L152.5 293.8 L155.0 292.5 L157.1 291.1 L159.4 290.0 L161.1 288.2 L162.5 286.0 L163.9 284.0 L165.3 281.9 L166.4 279.5 L169.5 279.0 L171.0 277.0 L172.5 275.0 L172.8 272.7 L174.3 270.9 L174.5 268.5 L176.6 266.8 L176.7 264.5 L176.1 261.9 L177.5 260.0 L180.1 260.1 L181.1 256.8 L183.8 257.1 L185.7 255.7 L187.6 254.3 L190.0 254.0 L189.3 251.8 L190.5 249.7 L190.0 247.5 L190.3 244.6 L193.1 243.6 L195.6 242.3 L195.1 238.9 L197.5 237.5 L198.2 234.9 L200.6 233.5 L201.8 231.3 L203.5 229.4 L205.4 227.6 L206.0 225.0 L205.0 222.7 L205.4 220.3 L205.4 218.0 L204.6 215.7 L207.2 213.3 L206.0 211.0 L207.9 209.8 L209.1 208.0 L208.8 205.1 L212.0 204.8 L212.5 202.5 L214.8 201.9 L216.3 200.0 L218.7 199.5 L220.1 197.5 L221.7 195.7 L223.4 194.2 L226.0 194.0 L226.0 190.0 L223.6 190.4 L221.2 190.5 L219.2 189.2 L217.1 187.6 L214.9 187.3 L212.5 187.5 L211.9 185.2 L210.4 183.5 L208.3 182.2 L207.5 180.0 L205.3 179.0 L202.9 178.5 L201.1 176.7 L198.5 176.6 L196.0 176.5 L194.0 175.0 L192.3 173.2 L190.8 170.9 L187.5 171.2 L186.7 168.1 L184.0 167.5 L182.7 165.0 L183.4 162.5 L183.3 160.0 L184.0 157.5 L184.0 155.1 L183.8 152.8 L182.6 150.8 L180.7 149.1 L181.5 146.4 L179.2 144.8 L179.0 142.5 L178.4 140.1 L180.6 138.0 L180.0 135.6 L180.4 133.4 L180.0 131.0 L181.9 129.6 L184.1 128.5 L184.4 125.8 L186.8 124.9 L187.5 122.5 L189.1 120.9 L190.6 119.2 L190.6 116.7 L192.4 115.2 L193.1 113.0 L194.0 111.0 L192.5 109.7 L191.1 108.4 L190.4 106.3 L189.0 105.0 L187.5 103.7 L187.5 101.3 L186.0 100.0 L183.4 99.5 L181.1 98.5 L179.1 97.1 L177.5 95.0 L176.9 92.9 L175.0 91.8 L174.0 90.0 L171.8 91.1 L169.6 91.6 L167.4 91.8 L165.0 91.0 L162.6 90.0 L160.1 89.4 L157.5 89.0 L157.8 86.5Z" fill="#dedede"/>
<g clip-path="url(#ind)" stroke-linejoin="round">
<path d="M658.7 383.7 L658.1 384.3 L659.0 384.0ZM296.3 185.4 L297.1 185.5 L296.0 183.0 L296.2 185.2ZM306.0 393.4 L305.8 391.6 L305.0 392.5ZM501.1 469.8 L501.8 470.9 L501.9 470.7 L501.3 469.0ZM190.4 480.5 L190.0 482.5 L190.8 480.2ZM188.5 484.2 L188.5 484.7 L190.0 482.5ZM430.7 338.1 L431.2 338.7 L431.6 338.0 L430.7 336.2ZM288.0 481.1 L285.7 481.1 L284.5 481.9 L289.5 481.3ZM281.1 481.3 L279.0 482.5 L282.7 482.1ZM278.0 480.1 L277.3 478.3 L276.7 478.8 L279.0 482.5ZM470.0 402.5 L470.7 402.2 L468.3 403.1 L468.3 403.5ZM298.9 770.8 L299.6 770.1 L298.7 770.3ZM282.9 340.7 L281.4 341.7 L283.8 342.0 L283.3 340.6ZM347.0 554.9 L345.0 554.0 L347.4 555.9ZM678.3 323.2 L677.5 324.0 L678.4 323.7ZM277.3 478.3 L277.0 477.7 L275.0 476.0 L276.7 478.8ZM185.0 490.0 L185.2 490.3 L185.6 489.3 L185.3 489.5ZM179.8 481.8 L180.0 482.0 L181.8 482.6 L181.3 480.9ZM631.7 412.2 L631.1 411.9 L630.4 412.8ZM628.5 424.5 L629.5 423.1 L629.0 422.5 L628.2 421.6 L628.7 422.5 L628.4 424.6ZM630.0 423.6 L630.0 422.5 L629.5 423.1ZM247.5 410.8 L248.2 410.6 L247.2 410.1 L246.1 409.9ZM430.7 335.7 L430.2 334.4 L430.0 334.7 L430.7 336.2ZM505.1 430.2 L506.5 429.4 L504.3 429.5ZM425.8 460.1 L425.1 461.4 L428.0 459.0ZM218.9 189.0 L219.2 189.2 L221.2 190.5 L221.5 190.5 L221.5 190.5 L219.2 189.0ZM660.1 374.4 L662.3 373.2 L662.8 372.7 L659.9 373.9 L659.8 374.6ZM274.8 253.5 L274.4 253.7 L273.9 254.3 L274.0 254.9 L274.9 254.4ZM305.1 478.3 L304.0 477.9 L303.5 478.2 L303.3 478.3 L305.7 478.9ZM522.7 365.7 L522.5 367.5 L522.5 367.6 L524.3 367.0 L522.8 365.6ZM230.7 294.3 L230.3 293.9 L230.1 295.7 L230.5 296.0ZM717.6 317.4 L716.3 316.1 L716.6 319.0ZM349.2 514.3 L348.7 513.2 L348.1 514.8ZM349.9 505.8 L348.7 504.8 L349.5 507.8ZM417.9 385.9 L416.3 387.2 L418.0 386.7 L418.3 385.8ZM245.0 409.3 L244.0 409.5 L244.2 409.6 L246.1 409.9ZM571.4 348.7 L571.4 348.4 L570.7 348.7 L571.0 349.2ZM684.0 375.0 L683.8 374.9 L683.2 376.7 L683.6 377.4ZM686.3 380.7 L685.5 379.7 L683.9 378.2 L684.2 378.9 L685.8 380.8ZM391.8 398.6 L389.7 399.1 L389.9 399.3 L389.9 399.3ZM306.6 409.3 L307.4 408.2 L308.2 406.4 L307.7 406.7 L306.5 409.0ZM333.0 533.7 L331.4 532.1 L334.0 536.0ZM628.2 404.2 L628.0 404.4 L628.1 404.9 L629.0 406.1 L629.0 403.5ZM297.6 186.8 L297.8 187.0 L297.1 185.5 L296.3 185.4ZM658.4 375.4 L659.8 376.6 L659.8 374.6ZM321.0 174.0 L322.9 177.5 L322.4 176.0ZM348.3 484.6 L346.1 484.1 L345.5 484.2 L350.0 486.0ZM522.9 393.3 L524.0 395.0 L524.1 395.6 L524.5 394.9 L522.9 391.8 L522.8 391.8ZM533.4 424.0 L533.5 424.6 L534.7 424.9ZM276.5 774.7 L275.0 775.0 L275.5 776.4ZM290.0 267.5 L291.4 266.9 L290.2 266.2 L289.8 267.0ZM656.0 385.0 L655.3 385.5 L657.7 384.7 L658.1 384.3ZM322.0 228.8 L322.7 229.5 L322.8 228.6ZM675.0 282.5 L674.9 283.7 L675.4 283.5 L676.5 282.1ZM442.5 457.2 L440.0 458.0 L444.9 457.8ZM437.6 457.6 L436.9 458.3 L440.0 458.0ZM436.6 451.5 L436.5 451.7 L436.2 452.8 L436.9 451.6ZM508.8 390.0 L507.3 391.5 L508.8 390.7 L510.3 389.3ZM349.2 500.3 L347.8 499.1 L347.8 499.2 L347.9 501.2ZM298.0 771.7 L298.9 770.8 L298.7 770.3 L296.8 770.6ZM109.0 442.5 L105.8 444.7 L107.2 444.1ZM355.9 437.5 L355.7 437.8 L357.3 438.7 L358.1 437.3ZM628.2 421.6 L627.3 419.9 L627.1 420.4ZM261.4 480.4 L261.5 481.5 L262.6 480.2ZM422.0 421.1 L421.1 420.7 L421.6 421.8 L422.5 421.5ZM246.5 487.5 L245.8 488.0 L247.2 489.4ZM418.8 417.2 L418.0 415.3 L418.0 416.0ZM357.5 418.7 L356.5 419.1 L356.9 419.9ZM311.9 156.6 L310.0 159.0 L311.8 157.7ZM256.0 779.8 L255.0 780.0 L255.8 780.8ZM439.5 448.3 L440.0 446.0 L438.5 448.9ZM437.4 449.7 L436.6 451.5 L436.9 451.6 L438.3 449.1ZM304.0 477.9 L302.7 477.4 L300.0 477.5 L300.0 477.5 L303.3 478.3 L303.5 478.2ZM605.4 431.0 L605.6 431.4 L606.0 431.2 L605.6 428.6 L605.0 429.0ZM627.6 339.1 L629.9 340.0 L628.1 338.8 L627.0 339.1ZM463.3 487.5 L462.4 487.0 L462.5 487.5 L463.4 487.8ZM694.4 317.7 L694.3 317.6 L693.3 318.4 L695.3 317.7ZM686.3 320.3 L685.7 321.1 L687.2 320.6ZM224.6 266.3 L225.7 266.6 L225.8 264.9ZM327.6 479.6 L327.5 480.0 L328.1 480.5 L329.0 481.0ZM452.5 457.6 L450.0 457.2 L448.6 457.7 L455.0 457.5ZM290.1 183.7 L287.6 184.0 L287.7 184.0 L289.6 183.9ZM285.2 181.6 L283.4 179.6 L283.7 181.6ZM246.5 487.5 L246.4 487.3 L244.7 487.1 L245.8 488.0ZM266.2 381.4 L265.3 381.8 L263.8 381.4 L265.2 382.9 L266.2 381.4ZM465.9 467.9 L466.8 467.3 L465.3 467.4ZM457.8 464.1 L459.0 467.0 L458.0 463.9ZM433.5 349.6 L432.7 351.5 L433.8 351.4 L433.7 349.6ZM434.6 343.9 L435.5 344.3 L436.5 342.7 L434.7 343.0ZM280.7 342.2 L281.4 341.7 L281.0 341.7 L279.2 342.4ZM306.6 390.8 L305.8 391.0 L305.8 391.6ZM215.3 478.3 L215.4 478.2 L213.6 478.5 L214.1 478.7ZM178.3 462.9 L177.4 462.4 L178.7 466.3ZM694.3 317.6 L694.4 317.7 L695.3 317.7 L696.6 317.2 L695.3 316.9ZM325.0 384.9 L326.9 385.8 L326.0 384.5 L324.8 384.8ZM265.1 173.7 L265.4 174.5 L267.5 176.0 L266.8 175.3 L266.5 175.3 L266.1 174.7ZM268.0 175.6 L267.5 176.0 L269.6 175.8Z" fill="#dedede" stroke="#dedede" stroke-width="0.5"/>
<path d="M220.2 595.9 L219.6 595.4 L219.3 596.0ZM214.3 599.6 L215.9 598.1 L214.2 597.9 L214.1 599.7ZM276.0 619.0 L280.0 620.0 L280.0 620.0 L278.1 619.3ZM296.8 684.2 L298.7 685.6 L300.0 687.5 L300.0 687.5 L297.3 683.4 L296.4 683.7ZM302.9 692.4 L300.9 693.8 L300.6 694.0 L301.6 693.9 L305.0 691.0ZM217.9 480.6 L220.3 481.5 L220.9 481.4 L217.6 480.1ZM225.1 483.3 L227.5 484.0 L224.9 483.0ZM492.5 457.5 L492.3 457.5 L491.6 457.8 L492.0 458.0 L492.8 458.5ZM492.8 458.5 L493.4 458.8 L492.5 457.5ZM192.2 479.1 L191.8 477.1 L190.8 480.2ZM349.2 525.4 L353.3 530.0 L350.0 526.0 L349.5 525.2ZM356.0 532.0 L355.5 532.5 L356.0 533.0ZM283.6 482.6 L284.5 481.9 L282.7 482.1ZM290.3 481.4 L292.5 481.0 L289.5 481.3ZM296.6 479.9 L298.2 478.6 L300.0 477.5 L294.4 480.1ZM262.8 733.7 L263.3 734.0 L263.4 733.9 L263.9 732.9 L263.3 731.3ZM357.8 590.1 L357.7 590.1 L355.3 590.7 L355.7 590.8ZM314.0 613.5 L313.8 613.6 L315.6 612.5 L315.5 611.6ZM494.2 450.1 L492.7 448.2 L493.6 450.1 L494.5 451.9ZM507.9 428.6 L506.5 429.4 L508.6 429.3ZM517.3 441.6 L516.7 439.9 L516.0 441.9ZM186.2 488.1 L185.6 489.3 L186.6 488.7ZM183.0 504.7 L183.2 504.8 L183.6 504.0 L181.7 503.3ZM188.3 501.9 L188.4 501.8 L188.7 500.3 L187.6 502.1ZM261.4 655.9 L261.0 655.0 L261.0 655.0 L261.0 655.0 L261.0 656.2ZM255.5 635.3 L258.0 634.0 L256.2 634.6ZM185.0 505.0 L185.0 504.6 L183.6 504.0 L183.2 504.8ZM276.8 774.2 L276.5 774.7 L279.4 774.1ZM344.5 549.7 L344.0 546.0 L343.4 548.1ZM344.3 552.1 L345.0 554.0 L344.6 550.5ZM347.9 557.3 L350.0 558.0 L347.4 555.9ZM304.5 704.3 L306.0 705.0 L305.0 704.2ZM295.0 680.0 L293.4 677.6 L293.3 678.4ZM186.1 488.0 L185.3 489.5 L185.6 489.3 L186.2 488.1 L186.2 488.0ZM363.0 585.8 L362.5 586.9 L364.1 585.4 L363.3 585.6ZM362.5 586.9 L363.0 585.8 L359.9 588.4 L361.2 588.0ZM370.0 580.0 L363.3 585.6 L364.1 585.4ZM283.3 673.1 L284.8 672.5 L282.2 672.5 L282.2 672.7ZM341.0 678.1 L340.9 677.9 L340.7 677.3 L340.6 677.4 L340.4 677.5 L340.2 677.7 L340.1 677.8 L340.0 678.0 L339.9 678.2 L339.8 678.4 L339.7 678.6 L339.7 678.8 L339.6 679.0 L340.7 678.5ZM422.3 465.0 L422.6 463.5 L424.7 462.2 L425.1 461.4 L422.1 463.9ZM342.5 629.2 L342.7 628.7 L341.9 629.4 L342.2 629.6ZM270.0 610.0 L271.3 610.0 L271.3 610.0 L270.7 609.2ZM278.7 291.3 L279.0 290.0 L277.0 289.5 L277.9 290.9ZM279.9 672.9 L280.5 673.2 L282.2 672.7 L282.2 672.5 L278.1 672.5 L279.4 673.4ZM262.3 659.3 L262.2 659.2 L261.0 657.3 L261.0 656.2 L261.0 656.3 L260.5 658.7ZM279.9 672.9 L279.4 673.4 L279.6 673.5 L280.5 673.2ZM283.6 322.2 L283.5 323.1 L283.9 324.0 L283.6 322.2ZM214.6 348.3 L215.9 350.3 L214.9 348.1ZM420.5 472.0 L420.3 472.9 L420.6 472.8 L420.8 471.5ZM422.0 466.0 L422.0 466.8 L422.4 466.2 L422.3 465.0ZM386.9 603.7 L387.0 603.3 L384.4 606.1 L385.5 605.7ZM317.6 478.9 L320.1 478.3 L322.5 477.5 L316.5 478.7ZM263.4 733.9 L263.3 734.0 L264.3 734.6 L264.5 734.5 L263.9 732.9ZM265.4 741.6 L265.7 741.6 L265.4 737.0 L265.1 736.2ZM262.1 734.8 L264.3 734.6 L263.3 734.0ZM310.0 782.5 L307.0 784.0 L308.3 784.1ZM697.5 317.4 L698.0 317.6 L700.0 316.0 L697.5 316.9ZM715.2 315.1 L716.3 316.1 L716.0 312.5ZM715.9 320.1 L716.5 322.4 L716.9 322.7 L716.6 319.0ZM334.0 540.0 L333.3 540.9 L334.5 541.9 L334.3 540.1ZM334.6 545.6 L335.0 548.0 L334.8 545.3ZM336.3 549.9 L338.0 550.7 L337.6 549.9 L335.0 548.0ZM349.5 525.2 L347.9 522.9 L348.0 524.0 L349.2 525.4ZM348.0 504.0 L348.0 504.0 L348.0 504.2 L348.7 504.8 L348.0 502.0ZM347.3 515.2 L347.4 516.6 L348.1 514.8ZM354.3 426.8 L354.3 427.6 L355.0 427.5 L354.3 426.1ZM356.3 421.3 L356.2 421.6 L357.3 420.7 L356.9 419.9ZM339.6 647.6 L337.7 645.7 L338.2 647.4 L339.6 647.7ZM505.0 472.7 L502.5 472.0 L505.5 474.1ZM348.2 487.8 L347.0 490.0 L350.0 486.0ZM272.8 778.9 L272.6 778.4 L271.1 777.5 L272.7 778.9 L272.8 778.9ZM266.8 636.6 L266.9 636.4 L266.9 636.2 L267.0 636.0 L267.0 635.8 L267.0 635.5 L267.0 635.3 L267.0 635.1 L266.9 634.9 L266.9 634.9 L266.7 636.7 L266.7 636.8ZM292.9 621.5 L296.0 620.0 L293.6 620.3ZM286.1 621.6 L284.1 620.9 L283.6 621.1 L284.6 621.4 L289.2 622.7 L289.4 622.8 L289.4 622.8 L288.0 622.3ZM200.1 614.9 L201.0 617.0 L200.9 614.3 L200.6 613.8ZM274.0 782.5 L273.9 782.8 L274.3 782.1 L273.5 780.4ZM436.0 454.0 L436.2 452.8 L435.5 454.1ZM436.9 451.6 L436.2 452.8 L436.0 454.0 L437.2 451.6ZM347.9 501.3 L347.9 501.2 L347.8 499.2 L347.6 499.6ZM365.4 455.3 L365.1 456.1 L368.0 455.0ZM274.7 752.6 L273.3 754.5 L275.2 753.2ZM260.5 754.4 L260.3 756.4 L261.4 756.4ZM188.5 486.1 L186.1 487.4 L186.2 488.0 L188.5 486.9ZM267.5 477.3 L269.1 476.9 L269.0 476.9 L265.0 477.5ZM251.3 490.0 L253.5 489.4 L253.2 489.3 L252.8 488.8 L249.0 491.0ZM295.0 698.0 L294.0 698.8 L295.0 698.8 L295.5 697.8ZM297.5 697.5 L297.7 697.2 L297.6 696.8 L296.6 697.2ZM376.1 421.0 L378.0 420.0 L374.0 421.0ZM376.1 421.0 L374.0 421.0 L375.0 422.0 L378.0 420.0ZM714.9 330.6 L714.8 330.9 L717.5 330.0ZM284.2 329.7 L285.0 330.0 L284.9 329.2ZM438.5 448.9 L440.0 446.0 L438.3 449.1ZM438.3 449.1 L436.9 451.6 L437.2 451.6 L438.5 448.9ZM322.8 294.0 L324.1 293.6 L322.5 293.3ZM684.6 322.5 L685.7 321.1 L683.1 322.0ZM331.2 481.7 L331.9 481.3 L329.0 481.0ZM492.3 457.5 L491.0 457.5 L491.6 457.8ZM492.3 457.5 L492.3 457.5 L490.0 457.0 L491.0 457.5ZM315.5 611.6 L315.6 612.5 L317.1 611.6 L317.3 611.4 L317.5 611.3 L317.6 611.1 L317.7 611.1 L315.5 611.5ZM335.6 600.4 L335.5 600.3 L332.6 601.7 L334.3 601.7ZM446.3 458.0 L447.5 458.1 L448.6 457.7 L446.1 457.8ZM339.6 679.0 L339.6 679.0 L339.6 679.2 L339.7 679.5 L339.7 679.7 L339.7 679.8 L340.7 678.5ZM475.2 437.8 L474.8 437.6 L474.8 436.7 L472.4 437.3 L475.1 437.8ZM243.7 486.9 L244.7 487.1 L242.5 485.0ZM456.4 431.5 L456.0 431.1 L456.0 433.7ZM393.9 508.8 L393.7 507.4 L393.4 507.5 L393.2 509.9ZM459.0 467.0 L457.8 464.1 L456.8 465.1ZM338.0 596.0 L336.0 600.0 L337.1 598.1ZM213.3 478.6 L213.6 478.5 L211.0 477.5ZM697.5 317.7 L697.5 317.4 L696.6 317.2 L695.3 317.7ZM697.5 317.4 L697.5 316.9 L696.6 317.2ZM280.2 620.1 L282.0 620.6 L281.4 619.7ZM259.5 748.8 L259.5 747.4 L259.1 748.0Z" fill="#ebd6cc" stroke="#ebd6cc" stroke-width="0.5"/>
<path d="M263.4 730.7 L262.8 729.9 L263.3 731.3ZM280.2 742.6 L281.3 742.8 L281.6 741.3ZM297.8 736.5 L296.0 738.0 L295.8 738.2 L298.2 737.3ZM296.6 697.2 L295.9 697.0 L295.5 697.8Z" fill="#d1a088" stroke="#d1a088" stroke-width="0.5"/>
<path d="M328.6 684.9 L329.8 685.0 L329.7 684.9 L329.5 684.9 L329.3 684.8 L329.1 684.7 L328.8 684.7 L328.6 684.7 L328.4 684.7 L328.2 684.8 L328.0 684.8 L328.0 684.8 L326.9 685.2 L325.7 685.6 L326.5 685.7Z" fill="#b66944" stroke="#b66944" stroke-width="0.5"/>
<path d="M189.2 128.5 L189.7 125.7 L187.3 123.1 L186.8 124.9 L184.6 125.8 L184.4 126.0 L184.1 128.5 L181.9 129.6 L180.0 131.0 L180.4 133.4 L180.0 135.6 L180.6 138.0 L180.2 138.4 L180.9 138.1 L184.3 139.5 L187.0 138.2 L188.0 134.2 L187.9 131.4ZM197.4 293.6 L197.2 290.2 L194.6 288.8 L192.7 289.5 L192.4 292.5 L191.0 295.2 L190.2 298.1 L189.0 300.9 L187.2 303.4 L187.5 306.6 L190.2 307.7 L193.1 307.7 L195.2 306.3 L197.3 304.9 L199.0 303.1 L201.1 301.6 L203.2 300.3 L203.6 299.2 L201.1 297.7 L199.6 295.4ZM552.0 464.9 L551.9 462.4 L551.1 460.7 L551.6 465.9 L552.2 465.5ZM305.1 298.6 L305.4 295.7 L303.1 294.1 L299.9 294.3 L298.0 291.9 L296.4 293.7 L294.2 294.8 L292.3 296.3 L291.9 297.5 L292.3 300.8 L293.1 303.4 L294.9 305.1 L297.2 306.5 L302.0 305.4 L304.3 304.0 L305.6 301.5ZM280.8 463.3 L284.1 462.8 L286.0 465.3 L288.9 465.7 L289.5 462.6 L292.0 460.5 L293.1 457.8 L291.9 455.2 L291.7 452.2 L289.5 450.0 L288.0 447.5 L286.9 444.9 L287.2 441.7 L284.8 442.9 L282.2 442.8 L280.1 444.9 L277.3 446.1 L275.3 448.3 L272.9 450.1 L273.3 452.9 L272.9 455.8 L273.8 458.6 L276.3 459.7 L278.9 460.8ZM201.4 340.0 L200.4 337.0 L198.4 334.9 L195.9 333.2 L193.1 332.8 L190.5 331.4 L187.7 331.3 L184.6 332.6 L182.0 330.7 L179.1 331.3 L176.5 329.7 L174.0 327.9 L170.9 328.7 L169.7 329.3 L167.3 331.2 L166.2 333.9 L164.6 336.2 L163.1 338.6 L163.0 341.9 L160.8 343.8 L161.3 346.6 L163.9 348.7 L162.7 352.1 L165.3 354.1 L164.5 357.4 L165.0 360.1 L166.1 362.7 L168.3 364.9 L171.0 366.0 L173.6 367.5 L176.9 366.7 L179.4 368.2 L181.6 366.1 L184.5 365.1 L185.9 362.3 L188.1 360.2 L190.3 358.4 L194.2 358.5 L195.9 356.1 L198.8 355.0 L199.9 351.6 L202.9 350.7 L205.2 348.9 L207.1 346.6 L204.2 345.2 L203.1 342.3ZM620.5 347.2 L619.7 344.5 L620.4 342.3 L620.0 342.5 L617.3 341.5 L615.0 343.0 L612.4 342.3 L609.9 342.7 L607.6 345.1 L605.2 345.7 L605.2 345.7 L604.7 346.2 L603.4 348.6 L604.5 351.7 L603.1 354.0 L605.6 354.8 L608.5 354.4 L610.7 356.2 L613.0 357.8 L615.5 358.5 L618.1 358.8 L620.9 355.2 L622.1 352.4 L620.1 349.9ZM216.1 370.0 L218.1 372.0 L217.8 375.3 L220.4 377.0 L220.2 380.3 L223.1 381.8 L222.4 385.3 L225.0 387.0 L227.1 384.9 L229.5 383.4 L231.7 381.4 L235.3 381.8 L237.2 379.4 L239.8 378.2 L241.9 376.2 L244.6 375.0 L245.5 372.4 L242.7 371.8 L240.0 370.9 L237.7 368.8 L234.7 368.6 L232.0 367.7 L229.2 367.1 L226.6 366.0 L223.9 365.0 L221.3 363.9 L220.7 363.6 L222.5 370.0 L216.0 368.9ZM218.2 279.0 L217.8 281.7 L218.5 284.5 L216.3 287.1 L217.5 289.9 L217.7 290.2 L222.0 292.7 L224.2 291.0 L226.5 290.0 L229.1 290.4 L229.2 289.5 L227.5 287.5 L226.4 285.5 L224.5 284.0 L224.1 281.8 L223.0 279.9 L221.6 277.7ZM224.4 282.2 L224.1 281.8 L224.5 284.0 L226.4 285.5 L227.5 287.5 L229.2 289.5 L229.1 290.4 L229.3 290.4 L231.4 288.4 L231.1 286.1 L228.4 285.3 L228.4 281.5ZM221.3 150.7 L219.8 153.0 L216.8 152.8 L215.2 154.9 L214.7 159.8 L217.0 160.0 L219.2 160.5 L221.0 162.2 L222.3 160.3 L223.9 158.7 L225.2 156.9 L227.5 156.0 L224.9 154.9 L223.3 152.5ZM631.6 342.6 L633.5 344.4 L634.4 346.8 L636.7 348.1 L638.0 350.3 L640.1 349.3 L639.9 346.5 L640.4 343.8 L642.5 341.6 L641.5 338.6 L641.8 338.2 L640.1 337.9 L637.5 339.0 L634.9 339.5 L633.1 338.1 L632.5 338.2 L630.5 340.3ZM635.7 337.3 L633.1 338.1 L634.9 339.5 L637.5 339.0 L640.1 337.9 L641.8 338.2 L643.2 336.2 L640.6 332.3 L638.7 332.0 L637.3 334.8ZM283.7 300.3 L286.5 299.5 L289.3 299.0 L291.9 297.5 L292.3 296.3 L289.7 295.0 L287.2 293.5 L285.5 291.1 L282.5 292.0 L280.6 294.5 L280.0 299.0 L280.7 299.9ZM238.6 288.8 L240.6 286.7 L243.5 286.8 L245.7 285.5 L244.7 282.9 L245.9 280.1 L245.2 277.5 L244.9 274.9 L244.0 274.6 L242.6 276.9 L239.1 276.8 L237.1 278.4 L236.8 282.2 L234.4 283.3 L231.9 284.3 L231.1 286.1 L231.4 288.4 L236.1 289.4ZM195.3 161.4 L192.7 161.0 L191.4 163.6 L190.8 166.5 L188.1 168.2 L187.7 171.2 L190.8 170.9 L192.3 173.2 L194.0 175.0 L196.0 176.5 L198.5 176.6 L201.1 176.7 L202.9 178.5 L205.1 179.0 L206.3 178.0 L206.7 176.7 L205.4 174.2 L207.1 171.4 L204.9 169.0 L204.4 166.4 L205.3 163.7 L203.3 162.2 L200.8 160.3 L198.1 161.1ZM654.1 415.2 L652.9 415.6 L654.0 416.0 L655.3 417.9 L655.7 419.0 L655.7 419.0 L656.0 417.0 L658.0 416.8 L657.7 416.0 L654.6 415.2ZM651.5 429.3 L654.8 429.8 L655.0 430.4 L655.3 430.1 L655.7 427.6 L656.0 425.0 L655.2 423.0 L655.6 421.0 L655.7 419.0 L655.3 417.9 L654.0 416.0 L652.9 415.6 L651.7 416.1 L650.7 418.8 L647.8 419.2 L647.4 422.5 L644.8 423.3 L647.8 424.3 L649.3 427.3ZM456.5 359.4 L456.3 357.3 L453.6 356.6 L451.7 354.9 L449.7 353.2 L447.7 351.6 L445.0 352.7 L444.8 353.6 L444.9 356.5 L445.0 359.4 L446.9 361.0 L447.4 363.7 L449.1 365.5 L452.5 365.4 L453.1 363.0 L454.4 360.9ZM300.8 453.6 L304.0 454.2 L306.7 453.3 L309.4 452.4 L312.2 451.5 L312.6 448.8 L311.4 446.6 L309.6 444.6 L309.5 442.1 L308.0 440.0 L305.4 440.1 L303.1 439.6 L301.2 437.7 L299.1 436.6 L296.5 438.0 L293.3 437.6 L290.6 438.6 L288.1 440.4 L287.2 441.7 L286.9 444.9 L288.0 447.5 L289.5 450.0 L291.7 452.2 L291.9 455.2 L293.1 457.8 L296.0 457.4 L298.4 455.5ZM478.6 352.9 L477.2 350.4 L477.4 347.8 L477.6 345.2 L475.5 346.2 L473.0 346.2 L470.9 347.3 L470.4 349.7 L468.8 351.3 L467.2 352.9 L467.1 355.7 L469.3 357.6 L469.9 360.1 L472.5 360.3 L475.1 360.2 L477.6 359.5 L479.0 358.0 L478.6 355.5ZM332.5 403.8 L335.2 403.1 L334.8 400.4 L333.6 398.0 L332.7 395.4 L332.5 392.7 L331.8 390.1 L330.0 389.6 L328.7 392.7 L325.6 393.8 L323.3 395.7 L324.2 397.9 L325.3 400.1 L324.6 402.6 L327.2 403.4 L329.9 403.0ZM242.9 155.2 L243.6 155.8 L241.1 151.8 L240.1 154.4ZM492.3 402.5 L492.4 404.3 L494.4 403.9 L496.2 402.1 L498.5 401.8 L500.3 400.0 L503.3 401.9 L505.0 400.0 L506.3 398.2 L506.4 396.1 L505.0 394.9 L506.2 392.2 L505.4 392.0 L502.5 391.2 L500.0 392.5 L497.9 395.0 L495.0 394.5 L493.6 397.0 L492.5 399.7ZM495.9 408.8 L498.0 409.0 L499.7 410.1 L501.6 408.3 L503.7 407.6 L506.5 408.9 L508.4 407.4 L507.1 405.0 L508.1 402.3 L508.7 399.6 L507.6 397.2 L506.4 396.1 L506.3 398.2 L505.0 400.0 L503.3 401.9 L500.3 400.0 L498.5 401.8 L496.2 402.1 L494.4 403.9 L492.4 404.3 L492.4 405.2 L494.2 407.5ZM249.9 252.8 L252.4 252.4 L255.0 252.5 L255.4 251.6 L255.1 250.2 L253.6 248.0 L249.4 249.7 L249.1 252.2 L249.2 253.2ZM251.2 258.3 L253.9 256.5 L255.9 259.2 L258.5 258.6 L259.2 258.3 L260.1 256.0 L259.1 253.6 L255.7 252.9 L255.4 251.6 L255.0 252.5 L252.4 252.4 L249.9 252.8 L249.2 253.2 L249.2 254.7 L248.9 257.2ZM616.0 317.4 L615.4 317.8 L613.0 317.8 L611.0 316.0 L611.0 318.0 L610.8 320.0 L611.5 321.3 L613.6 320.6 L616.2 319.2ZM485.0 428.8 L485.0 426.0 L483.8 426.1 L481.7 426.0 L480.0 425.0 L480.0 427.5 L478.6 429.3 L477.4 431.2 L477.2 431.7 L484.6 429.1ZM475.9 425.0 L472.7 425.5 L475.0 432.5 L477.2 431.7 L477.4 431.2 L478.6 429.3 L480.0 427.5 L480.0 425.0 L481.7 426.0 L483.8 426.1 L485.0 426.0 L485.0 420.5 L483.5 419.7 L481.7 418.3 L478.6 419.2 L477.5 422.4ZM420.0 349.7 L417.2 349.1 L418.1 351.5 L416.4 354.0 L417.0 356.5 L417.9 359.0 L417.2 361.5 L419.8 361.5 L422.0 360.5 L424.3 359.4 L424.9 356.8 L426.3 354.5 L424.4 352.5 L422.1 351.2ZM369.3 456.9 L370.9 459.5 L368.7 462.2 L370.4 464.8 L368.6 467.4 L368.8 468.0 L370.0 466.0 L374.0 456.0 L371.3 455.6ZM339.2 263.4 L336.5 263.1 L334.0 263.4 L331.7 264.8 L330.3 266.8 L328.3 268.4 L326.8 270.2 L329.1 272.5 L328.4 275.8 L328.8 278.7 L330.3 281.3 L333.2 281.0 L335.7 282.7 L338.7 281.8 L341.3 282.5 L341.5 282.6 L341.5 282.6 L342.0 280.0 L343.1 277.6 L342.4 274.8 L343.7 272.5 L343.6 269.8 L345.0 267.5 L342.9 266.5 L341.8 263.7ZM263.5 233.8 L265.1 236.2 L265.4 239.2 L267.3 241.4 L269.2 242.4 L271.3 242.0 L273.3 242.0 L275.5 240.6 L277.7 239.4 L279.1 237.2 L278.1 234.9 L278.7 232.3 L277.9 230.0 L274.9 230.6 L272.7 227.8 L269.8 228.0 L268.5 230.8 L265.2 231.4ZM658.7 383.7 L659.0 384.0 L660.6 382.2 L662.2 380.5 L662.5 380.2 L661.2 380.2 L659.7 382.6ZM667.0 394.8 L668.4 392.5 L671.4 392.4 L673.5 391.1 L674.7 388.7 L673.8 386.3 L672.5 384.2 L670.9 382.4 L668.6 381.2 L666.2 380.3 L663.7 380.2 L662.5 380.2 L662.2 380.5 L660.6 382.2 L659.0 384.0 L658.1 384.3 L657.7 384.7 L658.9 387.2 L659.1 390.0 L659.7 392.7 L660.1 395.4 L662.5 395.9 L664.8 396.0ZM411.4 394.2 L411.7 390.6 L409.3 388.8 L407.7 386.2 L404.9 384.8 L401.6 385.0 L399.6 387.2 L399.4 389.9 L400.5 393.0 L399.1 395.3 L397.5 397.6 L399.6 398.6 L402.0 399.0 L404.1 400.3 L406.4 401.0 L407.8 398.6 L408.8 395.8ZM616.8 438.6 L613.8 439.3 L613.3 441.9 L613.5 441.6 L615.9 441.5 L617.5 440.0 L619.6 438.7 L620.5 436.6 L620.8 434.1 L622.2 432.8 L620.1 433.3 L618.0 435.4ZM638.8 447.3 L638.0 443.9 L640.3 441.7 L638.5 439.5 L638.1 436.9 L638.7 433.8 L636.7 431.7 L634.3 431.6 L631.9 431.8 L630.7 430.5 L628.9 432.6 L630.5 435.0 L631.3 437.5 L631.2 440.0 L631.0 442.5 L632.2 444.4 L632.8 446.6 L634.4 448.4 L633.2 451.3 L634.8 453.1 L634.8 453.2 L636.5 452.5 L636.4 449.4ZM296.0 183.0 L292.1 183.5 L292.4 184.1 L294.9 185.2 L296.3 185.4 L296.2 185.2ZM298.3 400.0 L300.2 398.6 L301.9 397.1 L303.7 395.5 L306.3 395.3 L306.0 393.4 L305.0 392.5 L305.8 391.6 L305.8 391.0 L304.0 388.9 L301.5 390.8 L298.6 391.3 L297.3 391.8 L297.2 392.5 L294.7 393.5 L293.5 395.4 L292.5 397.5 L292.4 398.1 L294.6 397.9 L296.6 398.5ZM293.5 395.4 L294.7 393.5 L297.2 392.5 L297.3 391.8 L295.9 392.2 L292.8 392.2 L293.2 395.2 L292.3 398.1 L292.4 398.1 L292.5 397.5ZM135.6 448.7 L135.1 451.9 L132.7 453.6 L131.4 456.2 L129.1 458.0 L128.7 460.8 L129.5 463.5 L131.1 464.6 L133.5 463.3 L136.3 463.1 L139.2 463.5 L140.8 462.7 L140.0 462.5 L146.0 452.5 L145.6 444.8 L145.1 444.6 L143.2 442.2 L140.5 441.9 L137.8 443.4 L137.9 447.0ZM639.2 309.3 L637.5 311.0 L634.7 310.7 L633.5 313.6 L630.8 313.5 L628.9 314.1 L628.5 314.7 L627.3 317.4 L627.9 320.7 L625.9 323.2 L626.7 324.4 L628.9 324.0 L630.8 326.0 L633.0 325.3 L635.4 323.9 L635.5 320.6 L639.0 320.1 L639.0 316.8 L640.1 314.4 L642.7 313.1 L642.0 310.3 L639.3 309.3ZM215.2 154.9 L216.8 152.8 L219.8 153.0 L221.3 150.7 L220.4 146.2 L217.7 145.8 L215.0 145.6 L212.7 143.7 L209.9 143.6 L208.6 145.9 L207.0 148.0 L208.4 152.4 L210.6 153.4 L212.9 154.3ZM310.7 364.8 L311.0 367.5 L310.2 369.5 L307.5 370.2 L307.7 372.8 L305.6 373.8 L305.0 376.0 L302.9 377.4 L302.4 377.8 L303.1 378.5 L305.3 376.7 L308.5 378.6 L310.9 377.5 L313.1 375.8 L313.2 375.7 L314.4 374.0 L314.7 371.9 L315.2 369.9 L313.9 367.5 L313.4 364.8 L310.8 364.6 L310.7 364.6ZM303.7 361.7 L299.2 363.8 L299.7 366.2 L298.7 368.8 L298.9 371.3 L299.5 373.7 L300.7 376.0 L302.4 377.8 L302.9 377.4 L305.0 376.0 L305.6 373.8 L307.7 372.8 L307.5 370.2 L310.2 369.5 L311.0 367.5 L310.7 364.8 L310.7 364.6 L308.3 364.0 L306.4 361.7ZM147.4 484.4 L149.1 486.8 L149.7 487.0 L150.0 486.0 L151.3 484.1 L150.2 481.4 L151.2 479.4 L152.5 477.5 L152.5 476.3 L149.9 476.0 L149.6 478.9 L147.9 481.5ZM225.0 235.5 L222.6 234.1 L220.3 235.6 L220.1 239.0 L217.9 240.6 L215.5 242.0 L215.5 245.1 L217.7 247.5 L218.4 250.4 L221.1 251.4 L224.0 251.9 L226.4 250.4 L226.3 247.1 L228.1 245.1 L229.1 242.6 L231.3 240.9 L229.8 238.3 L227.0 237.4ZM278.1 337.1 L278.3 336.5 L280.0 335.0 L278.0 333.6 L276.6 331.9 L276.5 329.2 L275.0 327.5 L274.0 327.6 L272.1 329.6 L269.2 329.7 L269.8 332.3 L271.4 334.4 L274.0 335.4 L276.4 337.3ZM283.0 335.0 L285.2 333.1 L284.2 329.8 L284.2 329.7 L277.5 327.5 L277.4 327.1 L276.8 327.3 L275.0 327.5 L276.5 329.2 L276.6 331.9 L278.0 333.6 L280.0 335.0 L278.3 336.5 L278.1 337.1 L279.5 336.9 L282.2 337.6ZM286.4 327.8 L284.7 325.6 L283.9 324.0 L284.9 329.2ZM343.2 313.5 L346.7 315.4 L346.4 318.5 L349.0 318.7 L350.9 321.2 L353.4 321.7 L355.9 322.2 L358.5 322.2 L358.7 319.2 L358.1 316.3 L358.1 313.4 L358.9 310.4 L359.0 307.4 L358.1 304.5 L355.3 304.3 L353.5 302.0 L350.8 301.3 L348.3 300.4 L346.3 298.4 L345.5 301.0 L343.9 303.0 L342.1 304.9 L342.2 307.8 L344.3 310.2ZM223.3 480.7 L220.9 481.4 L224.9 483.0ZM216.2 478.1 L215.4 478.2 L215.3 478.3 L214.1 478.7 L217.6 480.1ZM233.1 479.0 L230.5 477.1 L230.3 474.1 L227.9 473.0 L225.5 472.3 L223.0 473.1 L220.6 472.8 L219.7 475.6 L216.3 475.5 L215.4 478.2 L216.2 478.1 L217.6 480.1 L220.9 481.4 L223.3 480.7 L224.9 483.0 L227.5 484.0 L233.3 484.4 L232.7 482.2ZM450.4 345.1 L449.0 347.1 L448.5 349.4 L447.7 351.6 L449.7 353.2 L451.7 354.9 L453.6 356.6 L456.3 357.3 L457.0 355.3 L459.2 354.4 L460.3 352.7 L459.1 350.6 L458.9 348.4 L458.7 346.1 L457.7 345.3 L455.3 344.8 L452.9 345.0ZM239.3 258.3 L237.9 260.9 L239.0 263.4 L238.9 263.6 L240.0 263.6 L242.5 261.6 L245.0 262.5 L245.7 260.4 L245.9 258.1 L246.2 257.7 L244.8 257.1 L242.0 257.8ZM245.7 260.4 L245.0 262.5 L242.5 261.6 L240.0 263.6 L238.9 263.6 L238.3 266.0 L239.3 268.6 L239.2 271.2 L242.1 272.1 L244.0 274.6 L244.9 274.9 L247.8 274.1 L250.2 272.4 L250.7 269.4 L250.5 266.5 L248.6 263.9 L247.2 261.3 L247.6 258.3 L246.2 257.7 L245.9 258.1ZM437.4 367.6 L439.7 368.9 L441.6 367.9 L441.5 367.7 L441.2 367.5 L439.5 366.0 L437.6 364.6 L436.1 362.9 L435.7 362.6 L435.7 362.8 L437.4 365.0ZM437.6 364.6 L439.5 366.0 L441.2 367.5 L441.5 367.7 L440.8 366.0 L441.6 363.7 L440.4 361.9 L436.7 360.2 L435.8 360.2 L435.7 362.6 L436.1 362.9ZM384.3 343.3 L385.3 339.6 L387.5 337.8 L390.1 336.6 L393.2 336.2 L395.4 334.3 L395.8 330.0 L392.8 330.5 L390.5 328.1 L387.9 327.0 L384.9 327.3 L382.1 327.1 L379.8 329.4 L379.2 332.2 L379.0 335.2 L378.2 338.1 L377.2 340.8 L378.9 342.6 L381.2 343.7ZM219.2 321.2 L217.9 323.3 L220.5 326.7 L223.7 326.4 L225.2 323.5 L227.1 321.3 L229.3 319.4 L232.0 318.3 L235.6 318.7 L237.3 316.0 L237.1 313.6 L234.9 312.1 L234.2 309.9 L232.3 308.9 L230.2 308.4 L228.0 308.5 L225.9 310.1 L222.9 310.5 L222.0 313.9 L219.1 314.4 L217.9 316.5 L217.5 318.7ZM239.0 248.4 L237.2 250.4 L236.3 252.8 L236.2 255.6 L239.3 258.3 L242.0 257.8 L244.8 257.1 L246.2 257.7 L247.3 256.3 L247.5 254.0 L249.2 253.2 L249.1 252.2 L249.4 249.7 L246.6 247.4 L243.9 247.0 L241.5 248.0ZM249.2 254.7 L249.2 253.2 L247.5 254.0 L247.3 256.3 L246.2 257.7 L247.6 258.3 L248.9 257.2ZM669.5 309.4 L667.1 308.2 L664.5 307.8 L661.9 307.5 L659.3 307.6 L658.6 309.9 L657.5 311.9 L656.8 314.1 L654.5 315.3 L656.6 317.8 L659.1 318.9 L662.0 317.3 L664.3 319.5 L667.0 319.5 L669.4 318.0 L672.0 316.9 L671.6 314.2 L671.4 311.5ZM241.4 401.9 L244.6 400.9 L245.3 397.9 L247.2 395.8 L248.4 393.2 L248.9 390.4 L246.8 388.1 L245.3 385.7 L247.8 382.5 L244.9 380.4 L244.9 377.7 L244.6 375.0 L241.9 376.2 L239.8 378.2 L237.2 379.4 L235.3 381.8 L231.7 381.4 L229.5 383.4 L227.1 384.9 L225.0 387.0 L223.6 389.6 L223.6 392.3 L223.7 392.8 L224.8 392.8 L225.3 395.5 L227.5 396.0 L229.7 396.2 L231.6 397.3 L234.0 397.2 L236.0 397.9 L237.5 400.0 L235.9 402.3 L237.7 402.9 L239.9 404.3ZM231.0 398.7 L233.4 399.7 L235.1 402.0 L235.9 402.3 L237.5 400.0 L236.0 397.9 L234.0 397.2 L231.6 397.3 L229.7 396.2 L227.5 396.0 L225.3 395.5 L224.8 392.8 L223.7 392.8 L223.8 395.1 L226.3 396.1 L229.2 396.5ZM225.0 387.0 L222.4 385.3 L223.1 381.8 L220.2 380.3 L220.4 377.0 L217.8 375.3 L218.1 372.0 L216.1 370.0 L213.7 371.8 L211.3 373.5 L208.4 374.4 L205.9 375.9 L203.0 376.8 L201.1 379.4 L197.3 378.5 L195.8 381.9 L192.8 382.5 L193.6 387.2 L195.4 389.8 L199.3 389.2 L200.7 392.4 L202.7 394.6 L205.8 395.4 L208.1 397.2 L210.2 399.0 L210.7 397.2 L212.5 395.0 L214.3 393.3 L216.7 392.8 L218.6 391.3 L221.0 391.0 L222.2 392.9 L223.7 392.8 L223.6 392.3 L223.6 389.6ZM221.0 391.0 L218.6 391.3 L216.7 392.8 L214.3 393.3 L212.5 395.0 L210.7 397.2 L210.2 399.0 L210.3 399.1 L213.2 400.1 L216.2 399.7 L219.2 399.0 L221.7 397.4 L223.8 395.1 L223.7 392.8 L222.2 392.9ZM414.2 361.4 L412.1 359.9 L410.3 358.1 L408.3 356.5 L405.6 356.4 L404.4 358.5 L401.8 358.8 L400.4 360.6 L399.8 363.3 L401.7 365.1 L401.6 367.5 L403.4 369.3 L406.6 370.6 L409.3 370.6 L411.4 369.3 L413.8 368.5 L415.6 366.5 L416.3 365.5 L416.5 362.2ZM316.1 360.5 L316.0 363.4 L313.4 364.8 L313.9 367.5 L315.2 369.9 L317.8 370.4 L320.5 371.1 L322.9 368.8 L325.6 368.7 L328.2 369.1 L330.0 367.7 L330.3 362.9 L327.3 361.7 L327.2 358.2 L324.7 356.6 L323.4 354.1 L319.9 353.8 L317.9 355.6 L316.0 357.5ZM323.4 234.3 L324.6 236.5 L325.6 238.8 L328.0 240.5 L330.6 240.3 L333.2 240.0 L335.7 241.1 L338.5 239.3 L341.0 240.0 L343.4 241.0 L343.6 241.0 L343.5 240.6 L341.0 240.0 L339.8 237.9 L338.8 235.6 L337.3 233.7 L335.0 232.5 L332.7 231.9 L330.4 231.2 L327.6 232.2 L325.4 231.2 L323.6 228.5 L322.8 228.6 L322.7 229.5 L323.9 231.6ZM497.4 462.9 L499.2 464.1 L497.5 460.0ZM491.5 463.2 L490.9 466.5 L492.2 469.1 L493.4 471.7 L495.6 472.4 L497.9 472.7 L500.2 472.8 L501.6 471.1 L500.8 470.1 L499.4 468.0 L497.0 466.6 L496.6 463.9 L494.5 462.2 L493.4 460.0 L492.8 458.5 L492.0 458.0 L491.6 457.8 L490.3 458.4 L489.6 460.9ZM493.4 460.0 L494.5 462.2 L496.6 463.9 L497.0 466.6 L499.4 468.0 L500.8 470.1 L501.6 471.1 L501.8 470.9 L501.1 469.8 L501.3 469.0 L499.2 464.1 L497.4 462.9 L497.5 460.0 L492.5 457.5 L493.4 458.8 L492.8 458.5ZM287.0 344.9 L288.6 343.0 L290.0 341.0 L287.8 342.3 L286.0 340.9 L284.6 342.7 L284.7 344.8ZM292.5 340.6 L294.3 342.6 L296.7 342.4 L299.1 342.2 L299.2 341.9 L296.8 340.5 L296.4 338.0 L293.5 337.7 L292.1 340.7ZM286.0 340.9 L287.8 342.3 L290.0 341.0 L291.8 340.7 L288.8 339.5 L286.4 340.4ZM290.0 341.0 L288.6 343.0 L287.0 344.9 L284.7 344.8 L284.8 345.6 L286.0 348.2 L288.5 349.4 L290.9 351.2 L293.9 351.2 L296.7 350.6 L298.1 347.9 L300.4 346.6 L298.1 345.1 L299.1 342.2 L296.7 342.4 L294.3 342.6 L292.5 340.6 L292.1 340.7 L292.0 340.8 L291.8 340.7ZM190.0 482.5 L190.4 480.5 L190.8 480.2 L191.8 477.1 L191.8 476.8 L192.5 475.0 L197.1 472.2 L195.6 470.9 L194.5 468.3 L192.4 469.4 L190.0 469.7 L187.9 471.0 L185.7 471.7 L184.2 473.8 L182.7 475.9 L183.8 479.3 L181.3 480.9 L181.8 482.6 L186.0 484.0 L187.5 486.2 L188.5 484.7 L188.5 484.2ZM621.3 320.6 L619.1 319.1 L616.2 319.2 L613.6 320.6 L611.5 321.3 L611.9 322.0 L611.0 324.0 L613.1 324.8 L615.5 323.9 L617.5 325.0 L619.6 325.6 L620.3 328.1 L622.6 328.5 L623.2 329.1 L623.3 328.7 L625.2 326.7 L626.7 324.4 L625.9 323.2 L623.2 322.9ZM250.3 288.6 L248.3 286.7 L245.7 285.5 L243.5 286.8 L240.6 286.7 L238.6 288.8 L236.1 289.4 L238.4 290.9 L237.1 294.4 L239.2 296.1 L239.7 298.5 L241.7 300.2 L244.2 299.0 L247.2 299.3 L249.2 296.6 L252.3 296.9 L254.8 295.9 L255.2 295.0 L253.1 293.3 L252.0 290.6ZM226.3 204.5 L225.0 207.0 L225.8 209.4 L228.7 212.1 L231.4 211.5 L233.3 209.2 L236.2 209.0 L236.7 208.4 L235.7 207.4 L236.0 205.0 L235.2 202.7 L232.2 202.3 L232.3 199.3 L230.2 199.0 L228.6 202.2 L225.4 202.1ZM238.5 199.1 L235.9 197.5 L233.2 198.6 L230.2 198.9 L230.2 199.0 L232.3 199.3 L232.2 202.3 L235.2 202.7 L236.0 205.0 L235.7 207.4 L236.7 208.4 L238.2 206.8 L241.1 206.8 L239.4 204.7 L237.5 202.7ZM419.8 337.2 L421.9 339.4 L424.9 338.7 L427.6 339.1 L429.9 340.6 L431.2 338.7 L430.7 338.1 L430.7 336.2 L430.0 334.7 L430.2 334.4 L429.9 333.6 L429.3 331.3 L429.0 329.0 L426.5 329.3 L425.0 327.6 L424.4 328.7 L421.1 327.9 L419.4 330.4 L417.0 331.4 L418.4 333.1 L418.5 335.4ZM433.5 326.6 L433.3 326.8 L430.8 327.4 L429.0 329.0 L429.3 331.3 L429.9 333.6 L430.2 334.4 L431.7 332.1 L431.8 329.2ZM427.7 362.7 L424.3 359.4 L422.0 360.5 L419.8 361.5 L417.2 361.5 L416.5 362.2 L416.3 365.5 L419.2 365.4 L420.5 368.6 L423.8 367.6 L425.6 369.7 L426.9 367.5 L426.6 364.9ZM474.0 390.0 L471.7 390.9 L469.8 392.9 L466.9 392.3 L464.8 393.8 L463.5 397.4 L465.1 399.3 L466.8 401.2 L468.3 403.1 L470.7 402.2 L472.1 401.6 L474.6 401.6 L476.6 400.6 L478.2 399.7 L478.6 399.4 L479.3 396.9 L479.3 396.3 L476.6 394.9 L475.3 392.5ZM476.3 401.3 L478.2 399.7 L476.6 400.6 L474.6 401.6 L472.1 401.6 L470.7 402.2 L470.8 402.1 L473.8 402.2ZM343.8 523.4 L344.2 526.3 L340.9 528.3 L341.2 531.2 L341.3 534.0 L340.2 536.5 L339.7 539.2 L342.1 543.3 L344.3 544.6 L344.4 544.6 L344.7 543.6 L345.9 541.6 L347.4 539.8 L349.0 538.0 L350.8 536.8 L352.4 535.4 L353.6 533.6 L355.0 532.0 L353.8 530.4 L353.1 528.5 L351.8 527.1 L350.0 526.0 L353.3 530.0 L349.2 525.4 L348.9 525.6 L346.5 523.3ZM354.5 524.9 L351.9 523.9 L349.7 525.1 L350.0 526.0 L351.8 527.1 L353.1 528.5 L353.8 530.4 L355.0 532.0 L353.6 533.6 L352.4 535.4 L350.8 536.8 L349.0 538.0 L347.4 539.8 L345.9 541.6 L344.7 543.6 L344.4 544.6 L346.6 545.8 L349.2 546.2 L351.3 547.9 L354.2 547.2 L357.3 546.5 L358.5 543.0 L361.5 542.1 L361.9 539.4 L361.7 536.6 L361.4 533.9 L363.1 531.2 L362.0 528.4 L362.5 525.7 L359.8 525.3 L357.1 525.3ZM356.0 532.0 L356.0 533.0 L355.5 532.5ZM282.3 474.0 L279.9 475.6 L277.9 477.7 L277.3 478.3 L278.0 480.1 L279.0 482.5 L281.1 481.3 L282.7 482.1 L284.5 481.9 L285.7 481.1 L288.0 481.1 L289.5 481.3 L292.5 481.0 L294.4 480.1 L294.4 480.1 L300.0 477.5 L300.0 477.5 L300.0 477.4 L297.0 476.8 L295.8 474.1 L292.6 473.8 L290.8 471.9 L289.6 469.3 L287.8 471.7 L284.1 471.5ZM364.9 563.5 L362.2 562.2 L359.5 560.5 L356.5 560.4 L355.8 561.9 L356.0 562.0 L358.8 567.6 L359.1 568.0 L360.0 570.0 L362.3 570.9 L364.4 572.1 L366.0 574.0 L370.0 570.0 L371.1 564.5 L370.8 564.4 L367.7 564.6ZM364.4 572.1 L362.3 570.9 L360.0 570.0 L366.0 574.0ZM292.3 398.1 L293.2 395.2 L292.8 392.2 L292.5 390.1 L291.2 388.5 L289.8 387.0 L287.5 386.6 L285.6 385.6 L284.3 383.5 L281.6 384.9 L281.5 388.3 L278.9 389.7 L277.4 392.1 L278.8 394.6 L280.8 396.6 L282.1 399.3 L285.4 400.0 L287.1 402.2 L289.2 401.3 L289.9 398.7ZM480.3 406.7 L481.1 403.8 L479.6 401.7 L478.6 399.4 L478.5 399.5 L478.2 399.7 L476.3 401.3 L473.8 402.2 L470.8 402.1 L470.7 402.2 L470.0 402.5 L468.3 403.5 L468.1 405.5 L466.4 407.4 L465.2 409.5 L465.9 412.1 L466.2 412.7 L469.0 414.5 L472.1 413.2 L475.0 413.9 L477.8 415.0 L480.9 414.4 L482.5 411.3 L482.5 408.7ZM141.4 488.0 L138.9 488.0 L137.5 490.6 L138.0 493.7 L136.4 496.2 L136.6 497.0 L137.8 494.8 L141.0 496.2 L142.5 494.0 L144.0 492.4 L144.5 489.9 L146.1 488.3 L149.3 488.3 L149.7 487.0 L149.1 486.8 L147.4 484.4 L144.8 484.1 L143.6 487.4ZM125.3 396.6 L123.3 394.6 L121.0 392.9 L119.7 390.2 L118.8 387.1 L116.1 385.7 L116.1 385.7 L116.0 387.5 L116.2 390.0 L119.2 391.1 L119.7 393.5 L121.5 395.2 L120.6 398.3 L122.5 398.0 L122.5 400.0 L125.0 399.7 L127.5 400.3 L130.0 400.8 L132.2 400.9 L130.2 399.8 L128.1 397.9ZM131.3 421.1 L131.5 418.4 L131.7 415.7 L134.7 413.9 L133.2 410.6 L135.2 408.5 L136.1 406.0 L132.9 405.1 L132.8 401.3 L132.2 400.9 L130.0 400.8 L127.5 400.3 L125.0 399.7 L122.5 400.0 L122.5 402.5 L125.0 420.0 L126.2 421.8 L128.5 420.9ZM424.2 434.3 L421.5 434.2 L418.7 434.4 L418.2 436.9 L418.0 439.4 L416.2 441.6 L415.9 444.1 L416.0 446.7 L415.7 449.2 L418.2 448.0 L420.8 448.7 L423.3 448.7 L425.8 448.4 L428.4 448.2 L429.4 445.6 L430.1 442.8 L431.6 440.4 L432.3 437.7 L432.4 436.2 L432.3 436.1 L432.6 435.3 L432.6 434.8 L429.8 434.8 L427.0 435.5ZM225.4 202.1 L222.7 200.1 L220.3 199.9 L218.1 201.7 L215.6 201.3 L215.0 201.6 L214.8 201.9 L214.5 202.0 L213.0 202.9 L211.7 205.3 L210.3 207.5 L210.8 210.9 L208.9 212.9 L209.0 214.4 L210.3 216.0 L210.4 216.1 L213.2 215.4 L215.7 214.2 L217.5 211.5 L220.7 211.8 L223.6 211.4 L225.8 209.4 L225.0 207.0 L226.3 204.5ZM719.1 330.3 L718.7 331.3 L720.1 330.4 L722.5 330.0 L724.8 329.0 L727.0 330.5 L729.2 328.6 L730.4 329.0 L729.7 326.3 L726.2 325.4 L725.1 322.4 L724.0 323.3 L721.7 325.3 L721.4 328.3ZM300.5 759.6 L299.3 760.4 L299.7 763.0 L299.0 765.6 L298.8 766.1 L299.9 769.7 L300.9 768.7 L303.6 768.7 L306.1 768.3 L307.2 768.2 L308.8 767.8 L309.3 765.9 L308.8 763.9 L308.3 761.8 L305.4 762.0 L303.1 760.4ZM164.4 322.7 L163.4 319.9 L161.8 317.5 L158.2 316.7 L157.9 313.4 L156.5 310.9 L153.4 309.7 L153.4 306.1 L150.7 304.6 L147.7 305.7 L146.0 305.5 L146.0 306.5 L145.7 308.6 L143.9 310.2 L144.0 312.5 L141.7 313.3 L139.4 313.9 L136.8 313.4 L134.6 314.4 L132.0 314.3 L130.0 316.0 L127.5 316.2 L124.9 315.9 L122.6 316.6 L120.8 319.1 L118.1 318.5 L116.0 320.0 L115.5 317.6 L112.7 316.8 L112.2 314.4 L111.0 312.5 L108.5 312.4 L106.0 312.5 L104.9 314.7 L102.3 315.9 L100.7 317.7 L99.2 319.6 L99.0 322.5 L96.9 323.9 L96.1 326.4 L94.3 328.0 L93.5 330.6 L91.7 331.4 L92.8 333.4 L95.3 334.8 L97.9 336.1 L99.7 338.3 L102.6 338.2 L105.4 339.9 L108.4 339.2 L111.5 337.9 L114.1 341.1 L117.3 338.3 L120.0 340.4 L123.0 339.8 L125.8 341.3 L128.7 342.0 L131.8 339.8 L134.6 342.2 L137.4 342.9 L140.5 341.7 L143.3 342.7 L146.4 341.3 L149.1 343.4 L152.1 342.9 L154.9 344.6 L158.0 342.8 L160.8 343.8 L163.0 341.9 L163.1 338.6 L164.6 336.2 L166.2 333.9 L167.3 331.2 L169.7 329.3 L168.8 326.4 L165.9 325.1ZM210.3 216.0 L209.0 214.4 L206.3 214.6 L205.9 214.5 L204.6 215.7 L205.4 218.0 L205.4 220.3 L205.3 221.2 L207.1 220.7 L208.8 218.4ZM294.9 305.1 L293.1 303.4 L292.3 300.8 L290.4 303.0 L287.9 304.6 L286.4 307.2 L283.8 308.6 L286.5 309.2 L288.9 311.1 L291.9 311.0 L294.6 311.6 L296.3 309.2 L297.2 306.5ZM409.4 377.7 L408.9 375.2 L407.2 373.1 L406.6 370.6 L403.4 369.3 L401.1 371.0 L399.5 373.5 L396.1 374.0 L394.7 376.8 L392.6 378.7 L392.7 378.9 L394.6 380.9 L396.3 383.2 L398.6 384.6 L401.6 385.0 L404.9 384.8 L405.7 382.0 L407.9 380.1ZM181.5 264.7 L181.7 261.4 L185.3 260.6 L184.8 256.8 L187.4 255.2 L187.6 254.3 L187.6 254.3 L185.7 255.7 L183.8 257.1 L181.1 256.8 L180.1 260.1 L177.5 260.0 L176.1 261.9 L176.7 264.5 L176.6 266.8 L174.8 268.3 L176.9 267.0 L179.5 266.7ZM194.1 246.3 L194.9 243.9 L194.7 242.7 L193.1 243.6 L190.3 244.6 L190.0 247.5 L190.5 249.7 L189.6 251.1 L190.5 250.6 L192.9 248.9ZM458.7 346.1 L461.3 346.1 L462.3 344.9 L460.0 344.0 L458.5 341.6 L457.2 341.7 L456.8 342.6 L457.7 345.3ZM246.9 359.6 L246.9 362.7 L246.1 365.9 L248.0 368.5 L250.3 366.7 L253.6 367.7 L255.6 365.1 L257.1 364.8 L257.1 364.8 L257.5 362.5 L259.5 360.9 L261.7 359.7 L262.7 359.0 L262.9 358.9 L263.0 355.9 L263.2 353.0 L261.5 350.4 L261.2 347.5 L259.3 345.4 L255.8 346.3 L255.0 342.4 L252.0 342.3 L249.8 341.0 L249.8 343.9 L248.2 345.7 L245.9 347.1 L243.9 348.8 L243.5 351.4 L244.0 354.3 L245.3 357.0ZM261.2 360.6 L262.7 359.0 L261.7 359.7 L259.5 360.9 L257.5 362.5 L257.1 364.8 L257.1 364.8 L258.4 364.7 L260.3 363.1ZM411.4 394.2 L408.8 395.8 L407.8 398.6 L406.4 401.0 L406.8 402.4 L409.7 402.7 L411.9 405.2 L414.9 405.2 L417.4 406.7 L418.9 406.9 L419.5 406.1 L419.0 404.0 L418.8 403.0 L419.0 403.0 L418.6 400.8 L417.3 398.7 L417.7 397.1 L416.2 395.5 L413.1 396.3ZM417.7 397.1 L417.3 398.7 L418.6 400.8 L419.0 403.0 L421.2 403.2 L421.6 403.1 L421.7 402.2 L422.4 399.7 L420.1 398.8 L418.0 397.5ZM421.6 403.1 L421.2 403.2 L419.0 403.0 L418.8 403.0 L419.0 404.0 L419.5 406.1 L418.9 406.9 L420.3 407.1 L421.4 404.8ZM245.1 319.3 L243.2 320.6 L244.0 323.3 L242.8 326.2 L243.8 328.9 L244.7 331.6 L245.7 333.7 L248.2 334.5 L249.1 336.7 L252.0 336.3 L253.2 334.5 L246.0 332.5 L246.0 320.0 L246.3 317.7ZM266.7 328.4 L266.7 325.5 L264.3 323.0 L266.4 319.9 L265.1 317.5 L264.1 317.5 L262.6 317.9 L264.8 328.8ZM238.5 237.2 L236.0 240.5 L238.0 242.7 L238.3 245.6 L239.0 248.4 L241.5 248.0 L243.9 247.0 L246.6 247.4 L246.3 244.4 L248.2 241.7 L247.7 238.7 L245.9 237.3 L243.4 237.1 L241.0 236.4ZM512.4 445.3 L509.6 445.3 L507.0 444.8 L504.4 444.2 L502.6 441.3 L500.2 440.1 L497.6 439.4 L496.1 439.6 L496.0 440.0 L500.0 447.5 L512.4 445.4ZM273.2 357.5 L272.5 359.6 L273.4 362.0 L274.3 364.5 L278.1 367.2 L281.1 367.8 L283.5 366.7 L285.7 365.0 L288.1 363.9 L285.4 362.3 L284.2 359.6 L283.3 356.7 L281.2 354.6 L276.4 354.9 L275.3 356.6ZM221.8 180.0 L220.2 178.1 L217.0 178.3 L215.1 181.2 L212.0 181.8 L212.9 184.1 L212.8 186.6 L213.2 187.5 L214.9 187.3 L217.1 187.6 L218.9 189.0 L219.2 189.0 L221.5 190.5 L223.1 188.7 L224.8 187.3 L226.7 185.9 L224.2 184.7 L223.2 182.1ZM512.4 435.2 L510.1 433.6 L509.8 430.5 L508.6 429.3 L506.5 429.4 L505.1 430.2 L504.3 429.5 L497.5 430.0 L496.1 439.6 L497.6 439.4 L500.2 440.1 L502.6 441.3 L504.4 444.2 L507.0 444.8 L509.6 445.3 L512.4 445.3 L514.1 444.2 L515.1 442.1 L516.0 441.9 L516.7 439.9 L516.4 438.9 L513.4 437.8ZM237.0 231.0 L233.9 231.4 L231.7 228.4 L229.0 227.8 L225.8 228.5 L223.2 227.5 L222.7 229.7 L222.6 231.9 L222.6 234.1 L225.0 235.5 L227.0 237.4 L229.8 238.3 L231.3 240.9 L236.0 240.5 L238.5 237.2 L238.6 235.0 L237.3 233.1ZM200.1 264.6 L203.1 263.5 L203.2 260.1 L205.9 258.8 L205.0 255.7 L202.2 254.4 L199.9 252.6 L197.5 250.9 L195.2 249.2 L194.1 246.3 L192.9 248.9 L190.5 250.6 L189.6 251.1 L189.3 251.8 L190.0 254.0 L187.6 254.3 L187.4 255.2 L184.8 256.8 L185.3 260.6 L181.7 261.4 L181.5 264.7 L179.5 266.7 L182.3 267.1 L184.7 269.1 L187.4 269.9 L190.6 268.9 L193.5 269.2 L195.8 271.5 L197.0 269.0 L198.3 266.6ZM289.0 422.0 L286.1 421.6 L283.2 425.5 L284.0 428.0 L284.4 430.6 L284.3 433.4 L285.8 435.6 L287.3 437.9 L288.1 440.4 L290.6 438.6 L293.3 437.6 L296.5 438.0 L299.1 436.6 L298.9 433.8 L298.3 431.0 L298.9 428.1 L298.2 425.2 L297.9 422.4 L295.0 421.6 L292.1 421.0ZM186.9 494.1 L188.1 496.1 L190.0 497.5 L188.8 499.4 L188.7 500.3 L190.0 498.0 L191.0 494.1 L189.9 492.3 L187.7 490.5 L186.6 488.7 L185.6 489.3 L185.2 490.3 L186.2 491.9ZM182.7 496.2 L181.0 497.4 L181.0 503.0 L181.7 503.3 L181.7 503.3 L183.6 504.0 L184.6 502.2 L187.5 502.2 L187.6 502.1 L188.7 500.3 L188.8 499.4 L190.0 497.5 L188.1 496.1 L186.9 494.1 L186.2 491.9 L185.2 490.3 L185.0 490.8 L183.7 493.5ZM208.7 288.6 L207.1 290.8 L208.5 293.8 L205.4 295.5 L205.7 298.3 L208.4 299.0 L211.1 299.2 L213.8 297.7 L214.5 294.8 L216.0 292.5 L217.7 290.2 L217.5 289.9 L214.7 288.4 L211.8 287.8ZM294.6 242.0 L297.3 244.5 L299.9 243.3 L302.1 239.5 L301.1 236.8 L301.0 233.7 L300.7 230.7 L298.4 228.2 L298.3 225.2 L297.2 225.6 L296.9 228.8 L293.6 230.1 L293.1 233.2 L291.5 235.6 L290.0 238.0 L287.5 239.7 L289.3 243.2 L292.0 241.6ZM314.6 339.6 L312.1 338.1 L312.4 335.2 L311.3 333.0 L311.3 330.3 L309.1 328.6 L304.6 327.0 L302.7 329.1 L299.5 329.3 L297.6 331.7 L297.1 333.8 L295.8 335.7 L296.4 338.0 L296.8 340.5 L299.2 341.9 L299.1 342.2 L299.1 342.2 L300.9 344.3 L303.1 344.8 L305.6 344.2 L307.5 346.0 L307.6 347.0 L308.0 346.6 L310.3 345.8 L312.9 346.0 L313.5 343.9 L314.8 341.9ZM303.2 347.4 L306.0 348.2 L307.6 347.0 L307.5 346.0 L305.6 344.2 L303.1 344.8 L300.9 344.3 L299.1 342.2 L299.1 342.2 L298.1 345.1 L300.4 346.6ZM297.3 244.5 L294.6 242.0 L292.0 241.6 L289.3 243.2 L289.3 245.8 L286.8 247.6 L286.8 250.2 L289.1 251.5 L289.5 254.0 L291.6 255.4 L292.0 257.9 L294.9 256.6 L296.6 254.9 L298.4 253.2 L299.6 251.1 L300.4 248.7 L300.2 246.0 L299.9 243.3ZM228.5 256.3 L226.8 258.6 L226.4 261.3 L225.8 263.9 L225.8 264.9 L226.0 264.6 L228.6 264.4 L230.0 262.5 L232.5 262.6 L235.0 262.1 L237.5 263.5 L238.9 263.6 L239.0 263.4 L237.9 260.9 L239.3 258.3 L236.2 255.6 L233.6 256.3 L230.9 255.0ZM231.2 271.5 L233.8 270.3 L236.4 270.1 L239.2 271.2 L239.3 268.6 L238.3 266.0 L238.9 263.6 L237.5 263.5 L235.0 262.1 L232.5 262.6 L230.0 262.5 L228.6 264.4 L226.0 264.6 L225.8 264.9 L225.7 266.6 L227.2 270.1ZM411.9 405.2 L409.7 402.7 L406.8 402.4 L406.6 404.7 L406.0 407.0 L405.2 409.2 L407.1 411.1 L408.2 413.4 L409.0 415.9 L411.9 414.6 L414.9 415.4 L417.8 414.8 L418.0 414.5 L418.0 412.0 L417.8 409.9 L418.0 407.9 L418.9 406.9 L417.4 406.7 L414.9 405.2ZM417.8 409.9 L418.0 412.0 L418.0 414.5 L419.1 412.8 L419.1 410.3 L420.7 408.4 L420.3 407.1 L418.9 406.9 L418.0 407.9ZM265.4 437.2 L262.9 437.7 L262.5 440.0 L263.4 442.2 L263.5 444.4 L265.8 445.9 L267.6 448.3 L270.4 449.0 L272.9 450.1 L275.3 448.3 L277.3 446.1 L280.1 444.9 L282.2 442.8 L279.6 441.5 L279.1 438.0 L276.1 437.3 L276.0 437.0 L272.0 438.7 L269.0 433.0 L268.4 433.7 L266.7 435.2ZM187.5 502.2 L185.7 502.8 L185.0 505.0 L185.2 504.7 L186.0 505.0 L187.6 502.2ZM185.7 502.8 L187.5 502.2 L184.6 502.2 L183.6 504.0 L185.0 504.6 L185.0 505.0ZM691.7 348.3 L693.6 350.4 L696.0 350.0 L697.0 348.3 L699.1 347.8 L700.0 346.0 L702.4 345.0 L702.9 344.3 L701.6 343.5 L699.9 341.2 L697.4 340.9 L694.8 342.3 L692.3 343.7 L691.2 346.3 L690.6 348.8ZM691.6 354.8 L691.1 357.5 L690.5 360.2 L689.7 362.9 L691.8 364.4 L694.9 362.9 L695.8 365.1 L695.8 365.1 L696.4 362.6 L696.0 360.0 L696.6 357.5 L695.6 355.0 L695.0 352.5 L696.0 350.0 L693.6 350.4 L691.7 348.3 L690.6 348.8 L690.6 349.1 L692.7 352.1ZM278.6 342.6 L279.2 342.4 L278.4 342.5 L276.0 342.5 L277.0 340.6 L277.6 338.5 L278.1 337.1 L276.4 337.3 L274.0 335.4 L271.4 334.4 L271.6 337.2 L268.8 339.4 L269.5 342.2 L269.3 344.9 L271.8 346.3 L274.6 346.7 L276.8 345.1ZM282.9 340.7 L283.3 340.6 L282.2 337.6 L279.5 336.9 L278.1 337.1 L277.6 338.5 L277.0 340.6 L276.0 342.5 L278.4 342.5 L279.2 342.4 L281.0 341.7 L281.4 341.7ZM286.2 761.8 L285.5 763.9 L289.2 764.8 L291.2 764.0 L295.8 760.2 L292.7 758.3 L290.7 759.8 L288.3 760.5ZM441.5 367.7 L441.9 367.9 L446.0 367.8 L449.1 365.5 L447.4 363.7 L446.9 361.0 L445.0 359.4 L442.7 360.6 L440.4 361.9 L441.6 363.7 L440.8 366.0ZM205.9 435.3 L204.8 433.1 L202.8 431.5 L202.1 429.1 L199.7 430.5 L198.0 432.9 L195.2 433.8 L194.9 435.0 L195.0 435.0 L196.1 437.3 L198.6 437.4 L200.3 438.8 L201.5 440.9 L204.0 441.0 L205.9 440.2 L206.5 439.8 L206.6 439.3 L207.5 437.0ZM188.9 448.8 L191.9 448.8 L193.2 451.5 L195.8 451.4 L198.3 450.8 L200.6 449.7 L201.3 449.3 L201.5 447.7 L201.7 445.3 L204.7 443.6 L204.0 441.0 L201.5 440.9 L200.3 438.8 L198.6 437.4 L196.1 437.3 L195.0 435.0 L194.9 435.0 L194.3 437.0 L190.3 436.6 L188.8 439.1 L186.3 440.4 L185.1 443.4 L182.5 444.6 L184.9 445.6 L187.6 446.2ZM204.9 443.9 L206.1 441.8 L206.5 439.8 L205.9 440.2 L204.0 441.0 L204.7 443.6 L201.7 445.3 L201.5 447.7 L201.3 449.3 L202.9 448.3 L203.7 446.1ZM288.5 780.4 L285.7 779.0 L285.2 776.2 L284.9 773.2 L284.6 773.1 L280.7 773.9 L280.5 774.1 L279.4 774.1 L276.5 774.7 L275.5 776.4 L277.5 782.5 L287.5 782.5 L289.8 781.9ZM351.6 469.6 L353.7 466.8 L352.8 464.2 L352.1 461.6 L350.4 459.1 L351.7 456.3 L350.1 454.4 L347.7 454.0 L345.8 452.7 L344.2 455.4 L342.0 457.4 L339.6 459.1 L337.7 461.4 L335.1 463.0 L337.2 465.1 L339.3 467.2 L341.5 469.2 L343.0 471.9 L345.8 473.3 L347.4 475.9 L350.1 476.0 L353.2 472.1ZM504.5 378.9 L506.0 381.6 L508.4 383.2 L511.4 384.1 L512.3 381.6 L513.9 379.4 L511.9 377.3 L509.4 375.7 L509.0 372.1 L506.1 370.9 L503.3 370.9 L500.7 371.8 L500.3 375.0 L503.3 375.9ZM550.3 443.2 L550.9 442.5 L550.0 440.0 L549.2 438.6 L549.0 439.6 L549.5 442.2ZM511.0 388.6 L511.0 388.6 L511.6 386.6 L514.2 386.1 L515.0 383.8 L516.9 382.3 L518.7 380.8 L521.0 380.0 L520.8 381.1 L521.0 381.0 L522.5 380.0 L523.7 379.0 L522.4 378.5 L520.9 376.5 L518.5 376.1 L516.1 377.5 L513.9 379.4 L512.3 381.6 L511.4 384.1ZM525.1 387.9 L525.7 385.8 L526.1 383.5 L525.5 381.4 L524.6 379.3 L523.7 379.0 L522.5 380.0 L521.0 381.0 L520.8 381.1 L520.5 382.5 L521.7 385.0 L521.0 387.5 L520.8 389.8 L522.8 391.1 L522.8 391.8 L522.9 391.8 L523.6 389.7ZM517.9 391.4 L520.3 391.9 L522.8 391.8 L522.8 391.1 L520.8 389.8 L521.0 387.5 L521.7 385.0 L520.5 382.5 L520.8 381.1 L521.0 380.0 L518.7 380.8 L516.9 382.3 L515.0 383.8 L514.2 386.1 L511.6 386.6 L511.0 388.6 L513.4 389.0 L515.4 391.0ZM628.1 404.9 L628.0 404.4 L626.1 405.4 L623.4 405.7 L621.0 406.4 L618.8 407.5 L617.5 410.0 L616.4 411.7 L614.9 413.2 L614.2 414.6 L615.4 414.1 L618.1 414.1 L620.9 415.3 L623.7 414.9 L626.5 416.1 L627.7 415.4 L627.7 415.2 L627.9 413.9 L630.0 413.0 L630.4 412.8 L631.1 411.9 L630.2 410.8 L629.0 411.0 L629.0 406.1ZM630.0 413.0 L627.9 413.9 L627.7 415.2 L627.7 415.4 L629.2 414.4 L630.4 412.8ZM340.2 545.3 L340.3 548.1 L337.6 549.7 L337.6 549.9 L342.0 553.0 L343.4 548.1 L343.4 548.1 L344.0 546.0 L344.4 544.6 L344.3 544.6 L342.1 543.3ZM346.6 545.8 L344.4 544.6 L344.0 546.0 L344.5 549.7 L344.7 550.0 L344.6 550.5 L345.0 554.0 L347.0 554.9 L347.4 555.9 L350.0 558.0 L352.5 558.6 L354.2 560.4 L355.8 561.9 L356.5 560.4 L356.1 557.7 L354.5 555.3 L356.5 552.3 L355.1 549.8 L354.2 547.2 L351.3 547.9 L349.2 546.2ZM355.8 561.9 L354.2 560.4 L352.5 558.6 L350.0 558.0 L355.8 561.9ZM316.2 266.3 L313.7 266.4 L311.2 266.1 L308.8 266.6 L306.7 268.7 L305.3 271.1 L304.8 273.5 L304.8 273.5 L305.0 273.9 L307.5 275.0 L310.1 275.7 L312.4 276.8 L312.6 280.6 L314.5 280.6 L315.0 277.7 L317.2 276.0 L318.8 273.9 L321.3 272.4 L322.6 270.1 L320.4 269.0 L318.3 267.7ZM307.4 280.2 L309.6 281.9 L312.5 282.6 L314.5 280.7 L314.5 280.6 L312.6 280.6 L312.4 276.8 L310.1 275.7 L307.5 275.0 L305.0 273.9 L304.8 273.5 L305.1 275.8 L305.5 278.1ZM312.5 282.6 L309.6 281.9 L307.4 280.2 L305.5 278.1 L302.9 278.7 L301.5 281.4 L299.5 282.9 L296.8 283.4 L297.7 286.2 L298.5 288.9 L298.0 291.9 L299.9 294.3 L303.1 294.1 L305.4 295.7 L307.0 293.6 L309.5 293.1 L311.2 291.2 L313.4 290.1 L315.7 289.3 L314.7 287.1 L314.2 284.6ZM214.8 304.0 L214.1 306.2 L212.0 307.6 L211.4 309.8 L213.5 310.6 L214.8 312.8 L216.6 314.3 L219.1 314.4 L222.0 313.9 L222.9 310.5 L225.9 310.1 L228.0 308.5 L226.6 305.9 L224.8 303.6 L221.8 302.5 L219.3 302.3 L217.0 302.8ZM318.9 257.6 L318.8 254.5 L318.0 251.4 L319.0 248.5 L317.2 250.4 L314.2 249.6 L312.0 250.7 L310.3 252.6 L309.7 254.9 L307.5 256.3 L306.9 258.5 L306.5 260.8 L307.4 262.7 L308.5 264.5 L308.8 266.6 L311.2 266.1 L313.7 266.4 L316.2 266.3 L315.9 263.2 L316.1 260.2ZM641.5 393.1 L642.8 395.8 L644.4 397.9 L646.5 399.6 L649.3 398.8 L649.8 398.9 L650.0 397.5 L651.6 395.7 L653.1 393.8 L654.2 391.8 L654.6 389.4 L654.0 386.6 L655.3 385.5 L654.8 385.7 L651.9 385.1 L649.0 385.1 L646.0 384.3 L643.1 384.8 L641.7 387.5 L641.7 390.3ZM658.2 397.6 L660.1 395.4 L659.7 392.7 L659.1 390.0 L658.9 387.2 L657.7 384.7 L655.3 385.5 L654.0 386.6 L654.6 389.4 L654.2 391.8 L653.1 393.8 L651.6 395.7 L650.0 397.5 L649.8 398.9 L652.6 400.1 L655.1 397.0ZM670.2 377.6 L671.2 377.4 L673.9 377.6 L676.5 377.4 L679.1 377.2 L681.2 373.9 L683.8 374.9 L684.2 373.6 L683.6 371.3 L681.2 369.6 L678.7 369.6 L676.1 369.9 L673.8 371.2 L671.1 373.0 L671.5 376.3ZM670.9 382.4 L672.5 384.2 L673.8 386.3 L674.7 388.7 L677.2 389.0 L679.7 387.3 L681.0 384.4 L682.7 381.8 L685.8 380.8 L684.2 378.9 L683.9 378.2 L683.5 377.8 L683.6 377.4 L683.2 376.7 L683.8 374.9 L681.2 373.9 L679.1 377.2 L676.5 377.4 L673.9 377.6 L671.2 377.4 L670.2 377.6 L669.3 378.3 L668.6 381.2ZM680.1 397.2 L681.8 399.4 L683.7 400.2 L684.0 399.7 L685.0 397.5 L686.3 395.5 L688.1 393.8 L688.3 391.3 L689.0 389.0 L688.7 386.5 L686.0 384.8 L687.2 381.7 L686.3 380.7 L685.8 380.8 L682.7 381.8 L681.0 384.4 L679.7 387.3 L677.2 389.0 L678.3 391.7 L680.7 393.5ZM327.0 336.3 L324.9 338.4 L322.0 337.2 L319.6 338.2 L317.4 340.1 L314.6 339.6 L314.8 341.9 L313.5 343.9 L312.9 346.0 L315.1 347.5 L316.4 349.9 L319.0 351.1 L319.9 353.8 L323.4 354.1 L326.4 353.6 L328.3 351.8 L329.8 349.5 L331.4 347.3 L332.3 344.5 L331.5 341.6 L331.7 338.8 L331.5 338.6 L329.2 337.7ZM275.5 372.2 L277.7 374.2 L278.7 371.9 L277.9 369.5 L278.1 367.2 L274.3 364.5 L272.1 365.7 L271.4 368.4 L268.5 368.9 L267.5 371.3 L270.1 372.0 L272.5 373.2ZM470.9 347.3 L473.0 346.2 L475.5 346.2 L477.6 345.2 L477.7 344.8 L477.2 344.7 L474.6 345.0 L472.5 344.0 L470.0 343.6 L467.5 344.5 L467.3 344.6 L467.7 344.8 L469.6 345.6ZM433.7 349.0 L433.7 349.6 L436.1 349.8 L438.3 349.1 L440.0 347.5 L438.9 345.6 L436.7 344.8 L435.5 344.3 L435.2 344.7 L433.9 346.7ZM441.1 352.3 L443.8 352.1 L442.8 349.4 L440.3 347.5 L439.9 344.4 L437.6 342.5 L436.5 342.7 L435.5 344.3 L436.7 344.8 L438.9 345.6 L440.0 347.5 L438.3 349.1 L436.1 349.8 L433.7 349.6 L433.8 351.4 L435.8 353.0 L438.4 351.7ZM675.0 324.9 L674.9 326.7 L677.5 324.0ZM675.0 324.9 L677.5 324.0 L678.3 323.2 L678.0 321.2 L676.7 318.9 L674.7 317.2 L672.0 316.9 L669.4 318.0 L667.0 319.5 L665.1 321.9 L667.7 324.9 L664.5 327.1 L665.3 329.9 L667.8 330.6 L670.3 331.5 L674.9 326.7ZM307.6 347.0 L307.7 348.6 L310.4 349.4 L310.9 351.8 L312.5 353.4 L314.0 355.0 L313.4 357.5 L312.0 359.8 L311.1 362.2 L310.7 364.6 L310.8 364.6 L313.4 364.8 L316.0 363.4 L316.1 360.5 L316.0 357.5 L317.9 355.6 L319.9 353.8 L319.0 351.1 L316.4 349.9 L315.1 347.5 L312.9 346.0 L310.3 345.8 L308.0 346.6ZM305.0 353.6 L303.9 356.2 L304.3 359.1 L303.7 361.7 L306.4 361.7 L308.3 364.0 L310.7 364.6 L311.1 362.2 L312.0 359.8 L313.4 357.5 L314.0 355.0 L312.5 353.4 L310.9 351.8 L310.4 349.4 L307.7 348.6 L307.6 347.0 L306.0 348.2 L305.9 351.0ZM407.1 411.1 L405.2 409.2 L402.7 409.7 L400.4 410.8 L400.4 410.8 L400.4 411.6 L402.5 413.6 L402.0 416.0 L404.0 418.0 L406.1 417.7 L408.0 418.3 L409.0 418.1 L409.0 415.9 L408.2 413.4ZM393.2 418.3 L395.5 419.4 L397.1 420.5 L397.6 420.4 L400.0 420.0 L401.3 418.1 L402.0 416.0 L402.5 413.6 L400.4 411.6 L400.4 410.8 L398.2 412.5 L395.5 412.0 L395.1 414.3 L393.4 416.0ZM402.3 423.1 L404.2 425.0 L404.1 422.0 L405.3 419.8 L408.9 418.8 L409.0 418.1 L408.0 418.3 L406.1 417.7 L404.0 418.0 L402.0 416.0 L401.3 418.1 L400.0 420.0 L397.6 420.4 L397.1 420.5 L397.7 420.9 L399.8 422.4ZM272.3 475.3 L270.0 476.7 L269.4 476.8 L275.0 476.0ZM267.0 473.1 L267.9 475.7 L269.0 476.9 L269.4 476.8 L270.0 476.7 L272.3 475.3 L275.0 476.0 L277.0 477.7 L277.3 478.3 L277.9 477.7 L279.9 475.6 L282.3 474.0 L284.1 471.5 L287.8 471.7 L289.6 469.3 L288.9 465.7 L286.0 465.3 L284.1 462.8 L280.8 463.3 L278.9 460.8 L276.3 459.7 L273.8 458.6 L271.7 460.8 L269.1 462.4 L265.6 462.6 L263.3 464.5 L261.7 467.4 L263.4 469.3 L265.4 471.1ZM667.7 324.9 L665.1 321.9 L667.0 319.5 L664.3 319.5 L662.0 317.3 L659.1 318.9 L656.6 317.8 L657.3 320.0 L657.8 322.3 L657.2 324.6 L657.0 326.8 L659.3 328.2 L662.3 328.2 L664.2 330.3 L665.3 329.9 L664.5 327.1ZM339.2 447.9 L337.1 444.8 L333.8 446.5 L331.4 444.6 L328.6 444.4 L327.0 446.5 L323.8 446.8 L321.9 448.5 L321.8 452.2 L318.4 452.4 L317.2 454.9 L318.8 457.5 L319.4 460.4 L320.1 463.3 L322.8 464.9 L325.3 464.7 L327.6 463.2 L330.3 464.5 L332.7 463.5 L335.1 463.0 L337.7 461.4 L339.6 459.1 L342.0 457.4 L344.2 455.4 L345.8 452.7 L345.0 450.4 L342.1 447.6ZM655.7 345.3 L652.9 345.5 L650.7 346.7 L649.7 349.0 L652.6 352.6 L655.2 351.9 L658.0 352.3 L660.5 350.8 L663.2 350.9 L664.5 348.2 L663.1 345.3 L663.9 342.6 L661.3 340.2 L659.2 341.6 L656.8 342.3ZM182.7 496.2 L183.7 493.5 L185.0 490.8 L185.2 490.3 L185.0 490.0 L185.3 489.5 L181.0 492.0 L181.0 497.4ZM224.1 281.8 L224.1 281.7 L224.0 279.2 L222.5 277.5 L221.6 277.2 L221.6 277.7 L223.0 279.9ZM230.7 279.2 L231.3 276.6 L232.1 274.0 L231.2 271.5 L227.2 270.1 L224.9 271.3 L223.3 273.1 L221.9 274.9 L221.6 277.2 L222.5 277.5 L224.0 279.2 L224.1 281.7 L224.1 281.8 L224.4 282.2 L228.4 281.5 L228.4 285.3 L231.1 286.1 L231.9 284.3 L230.7 281.8ZM636.7 431.7 L638.5 429.5 L639.7 426.7 L643.3 426.2 L644.4 423.4 L644.0 420.7 L640.7 420.0 L640.0 417.5 L640.2 414.4 L637.6 413.2 L635.4 412.9 L633.1 413.0 L631.7 412.2 L630.4 412.8 L629.2 414.4 L630.2 417.3 L627.8 419.1 L627.3 419.9 L628.2 421.6 L629.0 422.5 L629.5 423.1 L630.0 422.5 L630.0 423.6 L630.0 425.0 L630.9 427.5 L631.2 429.9 L630.7 430.5 L631.9 431.8 L634.3 431.6ZM386.3 374.3 L388.0 376.7 L390.6 377.0 L392.6 378.7 L394.7 376.8 L396.1 374.0 L399.5 373.5 L401.1 371.0 L403.4 369.3 L401.6 367.5 L401.7 365.1 L399.8 363.3 L400.4 360.6 L398.1 358.5 L395.2 358.5 L392.5 358.3 L390.0 356.6 L387.0 357.4 L385.8 360.2 L384.0 362.5 L381.8 364.4 L381.9 366.8 L382.6 369.2 L381.5 371.4 L381.0 373.7 L381.0 373.7 L383.6 374.1ZM318.6 377.1 L316.0 376.3 L313.2 375.7 L313.1 375.8 L312.9 378.9 L314.9 381.4 L314.9 382.0 L316.1 382.7 L318.3 383.3 L320.0 385.0 L322.5 383.7 L324.8 384.8 L326.0 384.5 L326.2 380.7 L323.6 379.7 L321.0 378.8ZM317.4 388.3 L319.7 387.8 L321.9 387.0 L323.7 385.1 L324.8 384.8 L322.5 383.7 L320.0 385.0 L318.3 383.3 L316.1 382.7 L314.9 382.0 L314.9 384.4 L315.8 387.2ZM439.2 371.4 L439.4 373.6 L441.0 372.7 L443.3 371.9 L446.0 372.5 L444.1 371.2 L443.3 368.6 L441.9 367.9 L441.6 367.9 L439.7 368.9ZM445.5 379.9 L446.9 379.0 L445.2 376.3 L446.3 373.4 L445.4 370.7 L446.0 367.8 L441.9 367.9 L443.3 368.6 L444.1 371.2 L446.0 372.5 L443.3 371.9 L441.0 372.7 L439.4 373.6 L439.5 374.1 L437.7 376.2 L439.2 379.8 L441.3 380.6 L443.4 380.4ZM138.9 405.5 L136.1 406.0 L135.2 408.5 L133.2 410.6 L134.7 413.9 L131.7 415.7 L131.5 418.4 L131.3 421.1 L132.5 423.2 L134.6 424.2 L135.6 426.5 L138.1 427.1 L140.3 425.6 L143.6 426.0 L144.5 422.1 L147.5 422.1 L147.1 419.3 L149.0 416.6 L146.3 413.8 L146.7 411.0 L147.3 408.2 L147.6 405.5 L144.7 406.3 L141.8 405.3ZM244.0 409.5 L241.2 409.0 L240.5 411.2 L242.5 410.0ZM237.0 419.9 L237.2 420.0 L237.5 420.0 L238.7 418.1 L239.2 415.9 L239.3 413.4 L239.7 412.5 L238.4 414.2 L236.9 416.7ZM239.3 413.4 L239.2 415.9 L238.7 418.1 L237.5 420.0 L237.2 420.0 L239.8 421.6 L239.8 424.8 L243.4 426.1 L244.3 428.9 L246.0 431.2 L246.5 434.1 L246.8 434.2 L249.1 433.4 L251.8 433.8 L253.7 432.0 L255.7 429.5 L254.4 426.2 L256.9 423.8 L257.9 421.1 L256.3 417.7 L258.0 415.1 L255.2 414.2 L252.1 413.9 L249.9 411.3 L248.2 410.6 L247.5 410.8 L246.1 409.9 L244.2 409.6 L244.0 409.5 L242.5 410.0 L240.5 411.2 L240.2 411.8 L239.7 412.5ZM217.7 145.8 L220.4 146.2 L222.4 144.4 L222.4 141.3 L224.6 139.6 L226.5 137.7 L226.6 136.7 L225.0 131.0 L214.9 129.1 L214.7 130.5 L211.4 132.2 L212.5 135.7 L210.8 138.1 L209.1 140.5 L209.9 143.6 L212.7 143.7 L215.0 145.6ZM455.9 434.3 L453.7 435.6 L451.3 436.6 L448.8 437.2 L447.2 439.5 L444.6 440.1 L445.7 442.8 L444.0 445.5 L444.8 448.2 L446.5 450.2 L449.6 449.7 L452.5 450.8 L455.4 451.5 L457.6 450.1 L459.5 449.0 L456.0 442.5 L456.0 434.5ZM200.1 312.5 L196.8 312.0 L195.2 309.6 L193.1 307.7 L190.2 307.7 L187.5 306.6 L185.7 307.6 L183.5 307.9 L181.6 308.9 L179.9 311.2 L178.8 313.8 L178.7 316.9 L176.6 319.0 L175.0 321.3 L173.6 323.8 L172.3 326.3 L170.9 328.7 L174.0 327.9 L176.5 329.7 L179.1 331.3 L182.0 330.7 L184.6 332.6 L187.7 331.3 L190.5 331.4 L193.1 332.8 L195.9 333.2 L198.4 331.6 L199.8 329.5 L200.0 326.6 L201.0 324.2 L202.9 322.4 L203.6 319.8 L203.5 317.2 L201.5 315.2ZM272.4 263.1 L274.7 259.1 L274.0 254.9 L272.5 255.9 L270.6 257.5 L270.0 260.0 L268.0 261.7 L268.6 264.1 L267.5 265.1 L268.4 265.1 L270.5 264.5ZM261.9 262.4 L263.7 264.0 L266.2 265.0 L267.5 265.1 L268.6 264.1 L268.0 261.7 L270.0 260.0 L270.6 257.5 L272.5 255.9 L274.0 254.9 L273.9 254.3 L272.1 252.2 L269.1 253.6 L267.5 250.8 L264.8 251.4 L263.9 253.6 L261.2 254.0 L260.1 256.0 L259.2 258.3 L260.0 260.9ZM286.2 761.8 L285.8 759.4 L283.4 757.9 L283.1 755.4 L280.6 756.2 L278.2 754.9 L275.7 755.3 L273.6 758.8 L274.0 762.1 L280.0 762.5 L285.5 763.9ZM432.2 341.8 L434.1 343.0 L434.7 343.0 L434.9 340.6 L432.5 340.0 L431.2 338.7 L429.9 340.6 L430.2 341.0ZM430.2 334.4 L430.7 335.7 L430.7 336.2 L431.6 338.0 L431.2 338.7 L432.5 340.0 L434.9 340.6 L434.7 343.0 L436.5 342.7 L437.6 342.5 L438.6 340.2 L441.3 339.6 L442.6 337.6 L442.2 334.6 L439.8 332.6 L438.9 329.9 L438.6 327.6 L435.9 327.5 L435.0 325.0 L433.5 326.6 L431.8 329.2 L431.7 332.1ZM450.4 345.1 L452.9 345.0 L455.3 344.8 L457.7 345.3 L456.8 342.6 L457.2 341.7 L455.3 341.7 L453.0 340.5 L452.3 337.2 L451.2 336.3 L449.7 337.3 L447.6 338.6 L448.8 340.7 L449.1 343.1ZM515.1 419.8 L516.4 417.1 L518.8 415.4 L516.1 411.3 L514.1 408.9 L514.0 408.9 L513.6 409.6 L512.7 412.1 L509.4 412.6 L508.8 415.3 L507.5 417.5 L504.9 417.5 L502.6 418.9 L499.9 418.5 L497.7 420.6 L497.5 420.5 L497.6 420.6 L496.9 422.0 L500.0 422.5 L514.2 421.3ZM496.7 417.7 L497.5 420.5 L497.7 420.6 L499.9 418.5 L502.6 418.9 L504.9 417.5 L507.5 417.5 L508.8 415.3 L509.4 412.6 L512.7 412.1 L513.6 409.6 L514.0 408.9 L510.8 409.1 L508.4 407.4 L506.5 408.9 L503.7 407.6 L501.6 408.3 L499.7 410.1 L500.0 412.9 L497.5 415.1ZM222.0 292.7 L220.8 295.1 L222.0 297.6 L223.1 300.1 L221.8 302.5 L224.8 303.6 L226.6 305.9 L228.0 308.5 L230.2 308.4 L232.3 308.9 L234.2 309.9 L235.1 307.8 L233.6 305.5 L234.9 302.3 L231.4 300.8 L232.2 298.7 L230.4 297.2 L230.5 296.0 L230.1 295.7 L230.3 293.9 L229.1 292.3 L229.1 290.4 L226.5 290.0 L224.2 291.0ZM230.3 293.9 L230.5 292.8 L229.3 290.4 L229.1 290.4 L229.1 292.3ZM230.4 297.2 L232.2 298.7 L232.6 297.6 L230.5 296.0ZM420.8 448.7 L418.2 448.0 L415.7 449.2 L414.5 450.2 L415.6 453.0 L417.1 455.5 L417.2 458.8 L418.7 461.4 L422.0 463.1 L422.1 463.9 L425.1 461.4 L425.8 460.1 L428.0 459.0 L429.7 457.2 L431.6 455.9 L432.1 455.6 L431.5 453.9 L432.7 451.6 L431.0 449.3 L428.4 448.2 L425.8 448.4 L423.3 448.7ZM432.1 455.6 L431.6 455.9 L429.7 457.2 L428.0 459.0 L432.4 458.6 L432.4 458.5 L432.3 456.2ZM222.5 195.0 L221.7 195.7 L220.1 197.5 L218.7 199.5 L216.3 200.0 L215.4 201.1 L215.6 201.3 L218.1 201.7 L220.3 199.9 L222.7 200.1 L222.2 197.7 L222.7 195.2ZM519.1 358.7 L520.9 356.9 L522.7 354.7 L524.9 352.8 L525.1 352.0 L525.0 352.0 L522.3 351.9 L520.0 353.2 L517.5 354.0 L514.9 353.9 L512.5 354.8 L510.0 355.0 L508.5 353.2 L506.5 352.1 L506.4 352.0 L505.7 352.6 L504.7 354.9 L506.6 356.3 L509.0 357.0 L511.0 358.2 L512.3 360.4 L514.7 360.2 L516.5 358.4ZM239.3 220.4 L241.5 223.2 L244.1 224.0 L246.7 225.2 L249.3 224.4 L248.2 223.5 L247.5 220.9 L244.7 220.3 L243.5 218.2 L240.8 217.6 L240.0 215.0 L239.8 214.8 L239.7 215.0 L239.9 217.8ZM239.8 214.8 L240.0 215.0 L240.8 217.6 L243.5 218.2 L244.7 220.3 L247.5 220.9 L248.2 223.5 L249.3 224.4 L249.5 224.4 L252.0 223.6 L254.5 219.6 L253.6 217.2 L252.7 214.8 L250.7 212.7 L252.5 209.4 L250.6 207.3 L248.0 206.6 L245.4 206.7 L242.9 207.8 L242.0 210.3 L240.7 212.6ZM149.3 465.2 L151.5 466.7 L152.5 466.1 L152.5 466.0 L152.9 465.2 L152.7 464.5 L152.5 465.0 L149.0 464.3ZM154.4 461.4 L157.5 462.0 L164.2 465.2 L164.5 465.2 L165.6 463.2 L167.5 461.8 L169.1 460.1 L170.3 458.2 L168.5 455.9 L165.7 455.3 L164.0 452.8 L160.6 453.0 L159.0 450.4 L158.7 450.1 L157.5 455.0 L154.3 461.4ZM386.4 420.6 L386.6 422.1 L388.0 422.0 L390.6 422.6 L392.7 420.5 L395.2 421.0 L397.1 420.5 L395.5 419.4 L393.2 418.3 L390.9 419.2 L388.8 420.3ZM384.5 437.0 L386.7 436.5 L387.0 435.0 L385.4 433.2 L383.9 432.2 L384.2 433.6 L383.6 435.8 L384.0 436.0 L383.8 436.4ZM384.3 428.3 L383.7 430.8 L383.9 432.2 L385.4 433.2 L387.0 435.0 L386.7 436.5 L387.3 436.4 L389.9 435.3 L392.3 433.4 L395.4 433.7 L397.7 431.5 L401.1 433.0 L403.4 431.0 L405.2 428.3 L404.2 425.0 L402.3 423.1 L399.8 422.4 L397.7 420.9 L397.1 420.5 L395.2 421.0 L392.7 420.5 L390.6 422.6 L388.0 422.0 L386.6 422.1 L386.7 423.4 L386.1 425.9ZM664.6 367.9 L663.5 370.1 L663.1 372.4 L664.1 371.3 L665.4 369.0 L667.5 367.5 L667.8 367.2 L667.0 366.5 L664.5 365.2ZM663.9 378.8 L666.0 377.5 L668.7 377.8 L670.2 377.6 L671.5 376.3 L671.1 373.0 L673.8 371.2 L671.3 370.1 L669.1 368.3 L667.8 367.2 L667.5 367.5 L665.4 369.0 L664.1 371.3 L663.1 372.4 L663.0 372.6 L662.8 372.7 L662.3 373.2 L660.1 374.4 L659.8 374.6 L659.8 376.6 L661.2 380.2 L662.5 380.2ZM668.6 381.2 L669.3 378.3 L670.2 377.6 L668.7 377.8 L666.0 377.5 L663.9 378.8 L662.5 380.2 L663.7 380.2 L666.2 380.3ZM155.6 377.7 L158.1 376.4 L160.4 374.4 L161.1 371.7 L163.8 370.8 L165.5 369.0 L166.8 366.8 L168.3 364.9 L166.1 362.7 L165.0 360.1 L164.5 357.4 L165.3 354.1 L162.7 352.1 L163.9 348.7 L161.3 346.6 L160.8 343.8 L158.0 342.8 L154.9 344.6 L152.1 342.9 L149.1 343.4 L146.4 341.3 L143.3 342.7 L140.5 341.7 L137.4 342.9 L134.6 342.2 L131.8 339.8 L128.7 342.0 L125.8 341.3 L123.0 339.8 L120.0 340.4 L117.3 338.3 L114.1 341.1 L111.5 337.9 L108.4 339.2 L105.4 339.9 L102.6 338.2 L99.7 338.3 L101.9 340.6 L103.0 343.2 L103.3 346.2 L105.3 348.6 L105.5 351.6 L107.0 354.1 L107.6 357.0 L109.1 359.5 L108.5 362.8 L108.7 365.8 L109.9 368.5 L112.0 370.8 L113.7 373.2 L114.0 376.2 L115.2 378.9 L118.1 377.8 L121.0 377.8 L123.9 378.9 L126.8 380.5 L129.7 380.2 L132.6 380.3 L135.5 380.7 L138.4 380.9 L141.3 380.6 L144.3 378.6 L147.2 379.9 L149.7 378.4 L151.9 376.4ZM195.5 137.9 L198.7 137.0 L200.9 139.2 L203.9 138.7 L206.1 141.1 L209.1 140.5 L210.8 138.1 L212.5 135.7 L211.4 132.2 L214.7 130.5 L214.9 129.1 L206.0 127.5 L194.0 126.0 L187.5 122.5 L187.3 123.1 L189.7 125.7 L189.2 128.5 L187.9 131.4 L188.0 134.2 L190.7 134.9 L193.1 136.3ZM334.1 371.8 L332.5 369.0 L330.0 367.7 L328.2 369.1 L328.8 371.9 L328.4 374.6 L327.7 377.2 L326.9 379.9 L329.6 379.9 L332.3 378.5 L335.1 380.4 L337.8 379.9 L340.5 379.4 L341.3 377.0 L342.3 374.7 L342.3 374.6 L340.4 372.2 L336.9 372.6ZM610.4 417.6 L611.0 416.0 L609.3 415.7 L607.0 416.0 L605.0 417.5 L603.6 419.0 L605.6 420.4 L608.4 419.5ZM144.2 473.6 L141.6 474.2 L139.1 473.8 L136.7 475.9 L134.0 474.8 L133.4 477.3 L132.3 479.6 L134.5 481.3 L135.7 483.8 L136.0 486.9 L138.9 488.0 L141.4 488.0 L143.6 487.4 L144.8 484.1 L147.4 484.4 L147.9 481.5 L149.6 478.9 L149.9 476.0 L149.3 473.4 L146.7 472.9ZM203.7 303.4 L203.2 300.3 L201.1 301.6 L199.0 303.1 L197.3 304.9 L195.2 306.3 L193.1 307.7 L195.2 309.6 L196.8 312.0 L200.1 312.5 L201.5 315.2 L203.5 317.2 L205.6 315.3 L206.3 312.2 L209.0 310.7 L207.2 308.3 L205.7 305.7ZM330.3 266.8 L331.7 264.8 L330.9 262.2 L328.6 260.4 L326.7 258.4 L326.8 255.2 L324.2 253.6 L325.0 250.1 L322.6 248.4 L321.3 246.0 L319.0 248.5 L318.0 251.4 L318.8 254.5 L318.9 257.6 L316.1 260.2 L315.9 263.2 L316.2 266.3 L318.3 267.7 L320.4 269.0 L322.6 270.1 L326.8 270.2 L328.3 268.4ZM378.6 447.1 L380.0 445.0 L381.9 443.4 L384.0 442.0 L385.1 440.1 L384.8 439.8 L384.5 437.0 L383.8 436.4 L380.0 444.0 L377.0 449.0ZM386.7 441.9 L385.1 440.1 L384.0 442.0 L386.7 442.0ZM381.9 443.4 L380.0 445.0 L378.6 447.1 L377.0 449.0 L384.0 442.0ZM369.3 456.9 L371.3 455.6 L368.3 455.1ZM280.0 241.4 L281.2 244.0 L282.5 242.5 L281.3 240.1 L281.1 238.2 L279.1 237.2 L277.7 239.4ZM289.3 245.8 L289.3 243.2 L287.5 239.7 L285.0 238.0 L281.8 238.5 L281.1 238.2 L281.3 240.1 L282.5 242.5 L281.2 244.0 L281.2 244.0 L282.4 246.6 L282.2 249.7 L286.8 250.2 L286.8 247.6ZM445.0 359.4 L444.9 356.5 L444.8 353.6 L442.2 354.5 L440.0 355.9 L439.6 359.5 L436.7 360.2 L440.4 361.9 L442.7 360.6ZM666.2 291.8 L664.1 290.8 L662.2 292.2 L659.9 292.4 L658.6 295.6 L656.0 295.0 L655.7 297.1 L655.2 299.2 L654.8 299.3 L655.1 299.7 L656.6 302.0 L658.5 303.9 L660.6 302.4 L662.1 299.9 L664.0 298.1 L667.0 297.9 L666.8 295.2 L666.1 292.6ZM431.3 368.8 L433.1 367.6 L431.9 365.1 L431.3 362.4 L427.7 362.7 L426.6 364.9 L426.9 367.5 L425.6 369.7 L427.3 372.6 L429.1 372.3 L430.6 370.9ZM289.9 262.7 L290.7 260.2 L292.0 257.9 L291.6 255.4 L289.5 254.0 L289.1 251.5 L286.8 250.2 L282.2 249.7 L281.1 250.1 L281.1 250.2 L283.7 250.4 L285.0 252.5 L284.8 255.0 L283.8 257.4 L283.0 259.9 L283.1 260.0 L285.2 260.1 L287.4 262.2ZM279.5 261.6 L282.5 260.0 L283.1 260.0 L283.0 259.9 L283.8 257.4 L284.8 255.0 L285.0 252.5 L283.7 250.4 L281.1 250.2 L281.1 250.1 L279.4 250.6 L277.0 252.4 L274.8 253.5 L274.9 254.4 L274.0 254.9 L274.7 259.1 L277.6 258.2ZM445.6 382.4 L445.5 379.9 L443.4 380.4 L441.3 380.6 L439.2 379.8 L437.0 381.2 L436.1 383.5 L434.6 385.5 L436.8 386.4 L438.7 387.8 L440.6 389.1 L442.1 391.1 L444.9 389.9 L447.8 389.5 L448.5 386.8 L447.2 384.6ZM462.8 377.5 L463.2 380.1 L464.5 382.6 L466.9 382.1 L469.0 383.3 L471.2 384.0 L473.5 384.1 L473.5 381.7 L474.2 379.1 L473.5 376.8 L473.3 374.4 L471.6 372.2 L469.3 371.0 L467.0 370.0 L463.4 372.3 L462.7 375.0ZM280.1 291.9 L280.6 294.5 L282.5 292.0 L285.5 291.1 L284.5 288.4 L284.2 285.6 L285.2 282.9 L282.4 283.4 L279.7 283.6 L276.9 282.8 L275.6 285.4 L274.3 288.0 L276.6 288.9 L277.0 289.5 L279.0 290.0 L278.7 291.3ZM533.8 327.6 L536.4 326.6 L538.3 324.7 L540.3 322.8 L539.6 319.7 L542.9 317.6 L543.2 314.7 L542.6 311.6 L543.7 310.0 L542.0 309.7 L540.0 308.8 L538.0 309.3 L535.9 309.4 L534.0 310.5 L532.4 311.7 L530.2 311.5 L528.8 313.0 L528.7 315.0 L529.5 316.9 L530.0 318.8 L528.4 320.5 L528.4 322.9 L527.5 325.0 L527.6 327.2 L527.5 329.4 L528.5 331.2 L529.2 330.4 L530.9 328.3ZM425.9 374.9 L427.3 372.6 L425.6 369.7 L423.8 367.6 L420.5 368.6 L419.2 365.4 L416.3 365.5 L415.6 366.5 L415.7 368.9 L416.9 371.1 L417.6 373.3 L417.8 375.7 L420.5 375.5 L423.3 375.9ZM294.9 330.6 L297.6 331.7 L299.5 329.3 L302.7 329.1 L304.6 327.0 L304.2 325.0 L304.3 322.9 L303.0 321.2 L301.3 319.8 L299.7 318.1 L296.7 318.5 L295.5 316.2 L293.7 318.6 L291.0 319.2 L288.6 320.3 L285.8 320.6 L283.6 322.2 L283.9 324.0 L284.7 325.6 L286.4 327.8 L288.8 330.1 L291.5 331.2ZM324.2 253.6 L326.8 255.2 L326.7 258.4 L328.6 260.4 L330.9 262.2 L331.7 264.8 L334.0 263.4 L336.5 263.1 L339.2 263.4 L340.1 260.7 L340.4 257.8 L340.1 254.9 L341.3 252.2 L341.6 249.3 L341.6 246.4 L344.0 244.0 L343.4 241.0 L341.0 240.0 L338.5 239.3 L335.7 241.1 L333.2 240.0 L330.6 240.3 L328.0 240.5 L325.6 238.8 L324.5 241.5 L322.1 243.1 L321.3 246.0 L322.6 248.4 L325.0 250.1ZM226.0 352.9 L228.9 352.7 L231.8 350.8 L234.8 353.1 L237.7 352.5 L240.6 352.2 L243.5 351.4 L243.9 348.8 L245.9 347.1 L248.2 345.7 L249.8 343.9 L249.8 341.0 L249.1 336.7 L248.2 334.5 L245.7 333.7 L244.7 331.6 L242.1 332.5 L239.5 333.6 L236.3 332.7 L234.5 336.3 L231.0 334.7 L228.3 335.3 L225.7 336.3 L223.0 337.1 L220.6 338.9 L217.8 340.4 L218.0 343.9 L216.9 346.5 L214.9 348.1 L215.9 350.3 L217.2 352.3 L220.1 351.1 L223.0 351.5ZM284.0 380.8 L286.1 379.8 L286.2 377.0 L288.3 376.0 L288.2 373.6 L287.3 371.2 L288.2 368.8 L287.6 366.4 L288.2 364.0 L288.1 363.9 L285.7 365.0 L283.5 366.7 L281.1 367.8 L278.1 367.2 L277.9 369.5 L278.7 371.9 L277.7 374.2 L279.0 377.6 L281.7 378.8ZM457.6 450.1 L455.4 451.5 L456.0 454.2 L456.5 456.5 L460.0 450.0 L459.5 449.0ZM256.3 748.6 L253.7 747.1 L251.4 745.3 L250.0 747.6 L250.0 750.0 L259.0 752.5 L258.5 749.5ZM240.4 176.3 L243.4 175.1 L244.5 177.0 L245.9 175.9 L246.5 173.2 L248.6 171.9 L250.0 170.0 L252.4 168.8 L255.0 169.7 L257.5 169.3 L260.0 169.0 L250.0 168.0 L245.0 158.0 L243.6 155.8 L242.9 155.2 L240.1 154.4 L238.4 156.6 L235.7 157.7 L235.4 160.2 L236.2 162.9 L234.4 165.2 L234.0 167.7 L233.5 170.2 L235.7 174.0 L237.8 176.1ZM250.3 176.3 L252.2 174.0 L255.2 174.3 L257.3 172.6 L260.2 172.4 L262.1 170.9 L260.0 169.0 L257.5 169.3 L255.0 169.7 L252.4 168.8 L250.0 170.0 L248.6 171.9 L246.5 173.2 L245.9 175.9 L244.5 177.0 L245.2 178.0 L248.0 177.5ZM391.4 404.7 L390.6 402.0 L389.9 399.3 L389.9 399.3 L389.0 402.2 L387.1 404.0 L383.5 404.4 L383.1 407.7 L380.8 409.2 L380.9 411.6 L381.6 413.9 L381.6 416.3 L383.4 417.6 L384.5 419.6 L386.4 420.6 L388.8 420.3 L390.9 419.2 L393.2 418.3 L393.4 416.0 L395.1 414.3 L395.5 412.0 L394.2 409.6 L394.7 406.3ZM380.8 409.2 L378.7 407.3 L376.2 406.3 L373.5 405.5 L371.4 407.6 L369.0 409.4 L366.2 410.8 L364.2 413.0 L363.9 413.5 L370.8 411.7 L372.7 419.0 L373.7 419.2 L376.4 418.5 L378.6 415.7 L381.6 416.3 L381.6 413.9 L380.9 411.6ZM360.5 417.7 L362.5 419.9 L362.8 420.0 L362.1 415.9ZM422.0 463.1 L418.7 461.4 L417.2 458.8 L417.1 455.5 L415.6 453.0 L414.5 450.2 L411.6 449.4 L408.9 451.1 L406.1 450.8 L404.7 451.5 L403.8 452.8 L408.0 456.0 L410.0 468.0 L416.0 470.0 L422.0 464.0 L422.1 463.9ZM456.7 396.9 L457.5 399.2 L459.6 398.6 L461.7 398.6 L463.5 397.4 L464.8 393.8 L464.6 391.1 L462.7 389.5 L461.2 387.6 L459.4 386.0 L458.3 385.9 L456.4 387.8 L454.3 389.5 L452.3 391.4 L453.5 393.4 L456.0 394.6ZM645.8 327.7 L643.4 328.4 L641.7 330.1 L640.6 332.3 L643.2 336.2 L645.2 336.7 L647.1 337.5 L649.0 338.4 L651.7 337.4 L653.5 335.2 L653.2 332.5 L653.2 329.8 L650.5 330.0 L648.2 328.8ZM255.8 250.7 L256.0 248.7 L256.3 246.7 L257.5 245.0 L258.0 244.5 L256.2 244.3 L253.6 248.0 L255.1 250.2 L255.4 251.6ZM260.1 256.0 L261.2 254.0 L263.9 253.6 L264.8 251.4 L263.9 247.0 L261.7 245.0 L259.0 244.6 L258.0 244.5 L257.5 245.0 L256.3 246.7 L256.0 248.7 L255.8 250.7 L255.4 251.6 L255.7 252.9 L259.1 253.6ZM412.4 326.4 L410.5 325.0 L408.8 322.6 L406.0 323.9 L403.9 322.7 L401.9 321.4 L399.4 321.7 L397.5 320.0 L397.0 320.1 L398.3 322.1 L396.4 325.2 L398.2 327.7 L401.1 327.2 L403.7 329.8 L406.7 328.1 L409.5 328.9 L412.3 329.1 L413.8 326.5 L413.7 326.2ZM208.0 238.1 L205.0 238.3 L202.2 238.9 L199.2 237.5 L196.7 240.6 L195.3 240.0 L195.6 242.3 L194.7 242.7 L194.9 243.9 L194.1 246.3 L195.2 249.2 L197.5 250.9 L199.9 252.6 L202.2 254.4 L205.0 255.7 L205.9 258.8 L208.9 259.1 L210.9 257.5 L211.8 254.6 L214.0 253.2 L216.4 252.0 L218.4 250.4 L217.7 247.5 L215.5 245.1 L215.5 242.0 L212.4 242.4 L209.7 241.5ZM327.5 480.0 L327.6 479.6 L327.1 479.3 L325.0 478.1 L322.5 477.5 L328.1 480.5ZM314.9 478.4 L312.4 478.8 L310.0 480.0 L316.5 478.7ZM326.7 471.8 L325.1 469.6 L324.4 467.1 L322.8 464.9 L320.1 463.3 L317.5 464.6 L315.1 466.0 L314.7 469.8 L311.1 469.9 L309.1 471.9 L307.4 474.2 L305.9 476.7 L304.0 477.9 L305.1 478.3 L305.7 478.9 L310.0 480.0 L312.4 478.8 L314.9 478.4 L316.5 478.7 L322.5 477.5 L325.0 478.1 L327.1 479.3 L327.6 479.6 L328.4 476.8 L327.4 474.4ZM359.8 325.3 L359.9 324.2 L358.5 322.2 L355.9 322.2 L353.4 321.7 L350.9 321.2 L349.0 318.7 L346.4 318.5 L343.6 318.5 L342.2 321.1 L340.0 322.2 L337.7 323.2 L337.9 323.9 L339.8 325.8 L341.5 327.8 L342.9 330.2 L345.6 330.1 L348.3 330.2 L351.0 330.9 L353.6 330.1 L356.4 329.5 L357.4 326.6ZM506.4 352.0 L504.7 350.8 L502.5 350.0 L500.0 349.1 L498.2 350.4 L498.7 350.8 L499.5 353.4 L500.0 356.2 L504.7 354.9 L505.7 352.6ZM680.6 305.4 L683.1 306.0 L683.1 305.9 L684.0 303.2 L684.1 300.5 L683.7 297.7 L684.4 295.0 L685.2 292.4 L684.2 289.5 L686.8 287.1 L685.9 284.2 L686.1 281.5 L683.8 281.8 L681.2 283.8 L682.5 287.7 L679.5 289.5 L677.1 291.6 L678.0 295.4 L675.1 297.2 L675.6 300.8 L673.0 302.8 L673.1 303.3 L675.6 304.0 L677.7 306.0ZM488.9 382.9 L488.7 387.8 L489.9 389.9 L491.8 391.2 L493.7 392.6 L495.0 394.5 L497.9 395.0 L500.0 392.5 L502.5 391.2 L505.4 392.0 L503.4 390.0 L502.8 386.9 L500.3 385.3 L497.7 383.8 L496.7 381.0 L493.9 380.8 L491.7 382.8ZM579.2 384.1 L580.1 385.9 L582.5 386.0 L584.6 385.7 L583.7 384.0 L580.8 383.3ZM518.4 371.2 L519.9 369.1 L522.0 367.8 L522.5 367.6 L522.5 367.5 L522.7 365.7 L522.8 365.6 L522.1 364.9 L521.6 362.3 L520.4 359.9 L520.9 356.9 L519.1 358.7 L516.5 358.4 L514.7 360.2 L512.3 360.4 L511.4 363.2 L512.3 366.0 L513.7 368.4 L516.1 369.8ZM229.4 198.9 L227.9 197.2 L227.0 195.0 L229.0 193.7 L230.5 191.9 L230.9 189.2 L232.5 188.3 L232.1 187.6 L230.5 185.6 L226.7 185.9 L224.8 187.3 L223.1 188.7 L221.5 190.5 L221.5 190.5 L223.6 190.4 L226.0 190.0 L226.0 194.0 L223.4 194.2 L222.5 195.0 L222.7 195.2 L222.2 197.7 L222.7 200.1 L225.4 202.1 L228.6 202.2 L230.2 199.0ZM235.9 197.5 L237.2 193.0 L236.5 190.3 L233.5 189.7 L232.5 188.3 L230.9 189.2 L230.5 191.9 L229.0 193.7 L227.0 195.0 L227.9 197.2 L229.4 198.9 L230.2 199.0 L230.2 198.9 L233.2 198.6ZM205.9 154.2 L208.4 152.4 L207.0 148.0 L204.1 149.0 L201.2 147.4 L198.3 149.2 L195.4 147.2 L192.5 147.2 L189.6 148.6 L191.7 150.7 L190.9 153.6 L192.6 155.8 L192.4 158.5 L192.7 161.0 L195.3 161.4 L198.1 161.1 L200.8 160.3 L203.3 162.2 L205.6 160.3 L206.2 157.5ZM356.5 375.3 L354.1 376.9 L354.5 379.3 L355.6 381.5 L355.8 384.0 L357.5 385.9 L358.7 386.6 L358.7 386.6 L360.5 384.0 L363.0 382.4 L365.2 380.5 L368.7 380.2 L370.8 378.0 L373.0 376.1 L371.4 374.0 L368.5 374.6 L366.5 373.4 L364.6 371.8 L361.4 371.9 L359.8 375.4ZM341.9 444.7 L342.1 447.6 L345.0 450.4 L347.9 449.2 L349.2 446.6 L349.6 445.7 L348.3 445.4 L342.7 443.6ZM355.9 437.5 L355.4 434.7 L353.4 432.5 L350.6 432.1 L349.0 431.8 L349.4 434.0 L355.7 437.8ZM512.4 445.3 L512.4 445.4 L515.0 445.0 L516.0 441.9 L515.1 442.1 L514.1 444.2ZM218.6 354.7 L217.2 352.3 L215.9 350.3 L219.0 357.5 L219.2 358.1 L219.2 357.2ZM207.1 346.6 L205.2 348.9 L202.9 350.7 L199.9 351.6 L198.8 355.0 L195.9 356.1 L194.2 358.5 L190.3 358.4 L188.1 360.2 L185.9 362.3 L184.5 365.1 L181.6 366.1 L179.4 368.2 L181.0 370.6 L183.1 372.4 L184.1 375.3 L186.8 376.7 L189.8 377.7 L191.5 379.9 L192.8 382.5 L195.8 381.9 L197.3 378.5 L201.1 379.4 L203.0 376.8 L205.9 375.9 L208.4 374.4 L211.3 373.5 L213.7 371.8 L216.1 370.0 L216.0 368.9 L207.5 367.5 L200.0 365.0 L202.5 355.0 L208.9 347.0ZM655.2 351.9 L652.6 352.6 L651.7 355.0 L651.5 357.4 L652.0 359.8 L652.7 362.2 L655.7 361.1 L658.4 362.1 L661.1 363.5 L664.0 363.7 L665.5 361.5 L666.3 358.8 L667.8 356.5 L666.1 354.8 L664.6 352.9 L663.2 350.9 L660.5 350.8 L658.0 352.3ZM636.4 449.4 L636.5 452.5 L639.5 453.2 L641.3 455.9 L644.3 456.6 L646.3 458.9 L648.4 461.1 L650.1 462.5 L650.2 461.6 L651.6 459.3 L649.8 456.7 L650.3 454.3 L650.9 452.0 L650.3 449.5 L650.7 447.1 L653.4 444.9 L651.8 442.4 L652.4 440.4 L651.9 440.2 L649.1 441.1 L646.1 440.6 L643.4 442.6 L640.3 441.7 L638.0 443.9 L638.8 447.3ZM233.9 445.9 L231.6 447.7 L234.0 449.2 L236.6 450.2 L239.6 450.6 L241.5 453.1 L243.6 451.1 L246.5 450.9 L249.0 449.8 L247.4 447.4 L247.0 444.8 L246.4 442.2 L248.2 439.3 L248.2 436.7 L246.8 434.2 L246.5 434.1 L243.8 434.8 L240.7 434.9 L238.5 437.0 L236.0 438.3 L234.6 440.5 L233.2 442.7ZM231.4 211.5 L228.7 212.1 L229.4 214.2 L229.6 216.4 L230.3 218.4 L232.5 219.2 L234.6 220.1 L236.9 220.8 L239.3 220.4 L239.9 217.8 L239.7 215.0 L239.8 214.8 L238.3 213.4 L238.9 210.8 L237.4 209.1 L236.7 208.4 L236.2 209.0 L233.3 209.2ZM236.7 208.4 L237.4 209.1 L238.9 210.8 L238.3 213.4 L239.8 214.8 L240.7 212.6 L242.0 210.3 L242.9 207.8 L241.1 206.8 L238.2 206.8ZM189.0 410.7 L190.1 413.7 L192.5 415.4 L194.8 417.1 L196.8 419.3 L201.4 420.8 L203.8 419.6 L205.1 416.6 L207.8 415.7 L210.4 414.5 L209.9 411.5 L210.2 410.1 L209.4 407.8 L210.0 405.0 L211.4 402.7 L210.0 399.7 L210.2 399.0 L208.1 397.2 L205.8 395.4 L202.7 394.6 L200.7 392.4 L199.3 389.2 L195.4 389.8 L193.6 387.2 L192.0 389.5 L190.2 391.7 L188.6 394.1 L187.5 396.7 L184.8 398.3 L184.7 401.7 L182.4 403.6 L181.4 406.2 L184.2 407.3 L186.1 409.6ZM213.0 403.1 L213.2 400.1 L210.3 399.1 L210.2 399.0 L210.0 399.7 L211.4 402.7 L210.0 405.0 L209.4 407.8 L210.2 410.1 L210.5 408.6 L212.2 405.9ZM211.9 417.1 L212.1 417.1 L211.7 415.3 L211.5 412.6 L210.3 410.3 L210.2 410.1 L209.9 411.5 L210.4 414.5ZM235.1 418.7 L236.9 416.7 L238.4 414.2 L239.7 412.5 L240.2 411.4 L240.5 411.2 L241.2 409.0 L239.9 404.3 L237.7 402.9 L235.9 402.3 L235.9 402.3 L237.7 405.1 L237.5 407.6 L235.3 409.9 L236.0 412.5 L233.3 412.4 L231.2 413.7 L229.0 415.0 L230.2 417.4 L229.0 420.1 L229.8 422.0 L230.9 421.5 L232.4 419.2ZM216.2 399.7 L213.2 400.1 L213.0 403.1 L212.2 405.9 L210.5 408.6 L210.2 410.1 L210.3 410.3 L211.5 412.6 L211.7 415.3 L212.1 417.1 L215.4 416.1 L217.7 417.3 L219.7 419.2 L222.3 419.8 L224.0 422.1 L226.1 423.5 L228.5 422.5 L229.8 422.0 L229.0 420.1 L230.2 417.4 L229.0 415.0 L231.2 413.7 L233.3 412.4 L236.0 412.5 L235.3 409.9 L237.5 407.6 L237.7 405.1 L235.9 402.3 L235.9 402.3 L235.1 402.0 L233.4 399.7 L231.0 398.7 L229.2 396.5 L226.3 396.1 L223.8 395.1 L221.7 397.4 L219.2 399.0ZM267.2 376.5 L265.7 378.8 L266.2 381.4 L266.4 381.3 L268.4 379.2 L271.0 378.9 L273.7 378.3 L276.6 378.8 L279.0 377.6 L277.7 374.2 L275.5 372.2 L272.5 373.2 L270.1 372.0 L267.5 371.3 L267.3 371.4 L267.3 373.9ZM222.3 445.5 L223.8 447.8 L227.6 448.8 L231.6 447.7 L233.9 445.9 L233.2 442.7 L234.6 440.5 L236.0 438.3 L234.1 436.1 L232.8 433.7 L232.0 430.9 L228.9 429.7 L226.9 427.7 L226.1 424.9 L224.1 426.8 L222.7 429.0 L222.6 432.0 L220.0 433.5 L218.5 435.7 L217.9 438.4 L219.1 440.9 L221.9 442.4ZM233.6 305.5 L235.1 307.8 L236.3 305.5 L237.9 304.8 L236.4 304.6 L235.3 302.5 L234.7 300.1 L232.5 299.0 L232.2 298.7 L231.4 300.8 L234.9 302.3ZM230.3 293.9 L230.7 294.3 L230.5 296.0 L232.6 297.6 L232.2 298.7 L232.5 299.0 L234.7 300.1 L235.3 302.5 L236.4 304.6 L237.9 304.8 L238.8 304.3 L241.2 303.1 L241.7 300.2 L239.7 298.5 L239.2 296.1 L237.1 294.4 L238.4 290.9 L236.1 289.4 L231.4 288.4 L229.3 290.4 L230.5 292.8ZM625.0 372.5 L626.6 373.8 L628.9 373.2 L629.2 371.3 L628.1 369.2 L626.3 370.7ZM618.3 360.9 L616.6 362.7 L616.1 365.2 L617.5 364.0 L619.9 365.0 L622.4 365.5 L622.7 365.3 L621.1 365.3 L619.2 363.6ZM624.4 365.4 L622.7 365.3 L622.4 365.5 L619.9 365.0 L617.5 364.0 L616.1 365.2 L616.1 365.4 L613.8 366.8 L612.2 368.7 L611.3 371.1 L613.0 373.0 L614.8 374.8 L616.2 377.0 L617.7 379.1 L619.0 381.3 L621.9 382.1 L622.6 379.5 L625.2 378.1 L627.1 376.2 L628.7 374.2 L628.9 373.2 L626.6 373.8 L625.0 372.5 L626.3 370.7 L628.1 369.2 L628.0 369.0 L626.0 367.4ZM286.0 348.2 L284.8 350.6 L283.7 353.2 L281.2 354.6 L283.3 356.7 L284.2 359.6 L285.4 362.3 L288.1 363.9 L288.2 364.0 L290.0 363.0 L292.1 362.9 L293.9 361.9 L295.0 359.2 L295.1 356.5 L295.4 353.8 L293.9 351.2 L290.9 351.2 L288.5 349.4ZM115.0 489.5 L113.6 491.8 L113.9 494.4 L113.2 496.8 L112.4 497.8 L113.1 498.0 L115.0 500.0 L117.5 500.3 L120.0 500.8 L122.5 499.1 L125.0 501.0 L127.5 499.0 L130.0 500.0 L131.9 498.7 L133.6 496.9 L136.4 497.3 L136.6 497.0 L136.4 496.2 L138.0 493.7 L137.5 490.6 L138.9 488.0 L136.0 486.9 L135.7 483.8 L134.5 481.3 L132.3 479.6 L129.6 479.3 L127.4 480.5 L125.0 481.1 L123.3 484.1 L120.4 483.3 L118.1 484.9 L117.2 487.7ZM711.4 313.4 L709.1 313.8 L706.8 314.1 L704.4 314.2 L703.6 315.2 L711.6 313.5ZM724.0 323.3 L725.1 322.4 L724.9 319.5 L728.5 318.3 L729.4 315.8 L729.5 313.0 L726.7 312.1 L724.3 309.8 L720.9 310.4 L718.2 309.1 L715.6 307.7 L713.1 305.8 L709.5 306.9 L706.9 305.2 L703.9 304.8 L701.6 302.6 L701.5 305.2 L700.5 307.7 L698.4 309.8 L699.0 312.7 L697.4 315.0 L697.5 316.9 L700.0 316.0 L703.6 315.2 L704.4 314.2 L706.8 314.1 L709.1 313.8 L711.4 313.4 L711.6 313.5 L716.0 312.5 L716.3 316.1 L717.6 317.4 L716.6 319.0 L716.9 322.7 L718.1 323.7 L721.2 322.0ZM358.2 414.4 L354.8 413.6 L355.4 410.0 L352.8 408.6 L352.7 405.6 L350.2 404.1 L348.6 402.1 L345.3 400.8 L342.2 401.0 L340.2 403.3 L337.7 404.6 L336.0 407.0 L337.9 409.7 L336.9 412.1 L337.3 414.7 L335.8 417.0 L336.1 419.6 L338.8 419.9 L341.4 418.1 L344.1 418.0 L345.9 418.5 L346.0 418.4 L355.0 416.0 L356.5 419.1 L357.5 418.7 L359.0 417.4 L358.9 417.0ZM292.0 752.0 L285.7 751.0 L285.4 753.9 L283.1 755.4 L283.4 757.9 L285.8 759.4 L286.2 761.8 L288.3 760.5 L290.7 759.8 L292.7 758.3 L291.8 756.1 L292.7 753.6ZM358.7 386.6 L358.5 389.4 L358.2 389.9 L359.4 389.6 L361.1 388.4 L362.1 388.1 L361.4 387.3 L358.7 386.6ZM370.7 396.7 L371.2 395.5 L369.0 394.2 L366.3 393.6 L365.8 389.9 L363.1 389.3 L362.1 388.1 L361.1 388.4 L359.4 389.6 L358.2 389.9 L356.7 391.9 L356.8 394.8 L356.7 397.7 L358.4 399.7 L361.4 399.0 L363.2 400.9 L365.5 399.1 L367.7 397.1ZM334.3 540.1 L334.3 540.1 L334.5 541.9 L335.8 543.1 L334.8 545.3 L335.0 548.0 L337.6 549.9 L337.6 549.7 L340.3 548.1 L340.2 545.3 L342.1 543.3 L339.7 539.2 L337.0 540.6ZM335.8 543.1 L334.5 541.9 L334.8 545.3ZM454.2 404.7 L455.0 404.8 L457.5 404.4 L460.0 404.0 L462.7 404.8 L464.9 402.8 L467.6 403.8 L468.3 403.5 L468.3 403.1 L466.8 401.2 L465.1 399.3 L463.5 397.4 L461.7 398.6 L459.6 398.6 L457.5 399.2 L455.6 401.1 L454.6 403.6ZM456.7 407.0 L459.0 408.3 L461.0 410.3 L463.9 410.2 L465.9 412.1 L465.2 409.5 L466.4 407.4 L468.1 405.5 L468.3 403.5 L467.6 403.8 L464.9 402.8 L462.7 404.8 L460.0 404.0 L457.5 404.4 L455.0 404.8 L454.2 404.7 L453.8 406.1 L453.9 406.8ZM175.2 417.7 L176.4 419.8 L177.0 420.4 L176.5 418.8 L176.6 416.0 L177.0 413.1 L175.0 415.0 L175.0 415.0ZM170.0 421.6 L167.5 423.0 L167.1 426.3 L164.8 428.0 L162.2 429.3 L163.1 432.7 L165.3 434.0 L167.3 435.9 L170.3 435.5 L171.9 438.1 L175.3 436.9 L177.1 439.2 L177.9 436.9 L179.7 434.9 L179.9 432.4 L178.5 429.8 L179.5 426.8 L178.2 424.2 L177.3 421.5 L177.0 420.4 L176.4 419.8 L175.2 417.7 L175.0 415.0 L172.3 416.2 L171.4 419.1ZM636.9 388.4 L637.0 391.1 L635.0 392.5 L632.9 392.4 L631.2 393.7 L629.4 394.3 L627.5 395.0 L628.2 396.9 L628.3 398.9 L629.0 399.7 L629.0 397.5 L635.0 395.0 L635.3 400.1 L635.6 400.1 L637.3 397.0 L639.8 395.7 L642.8 395.8 L641.5 393.1 L641.7 390.3 L641.7 387.5 L639.7 387.1 L639.7 387.5ZM627.5 385.2 L625.1 387.0 L627.5 386.1 L630.0 387.3 L632.4 388.7 L634.3 386.8 L633.2 386.0 L630.2 387.0ZM403.7 329.8 L401.1 327.2 L398.2 327.7 L395.8 330.0 L395.4 334.3 L395.5 337.1 L397.3 339.1 L398.2 341.6 L400.0 343.6 L402.7 343.5 L405.1 344.8 L405.1 341.6 L407.1 339.5 L410.3 338.0 L410.9 335.1 L412.7 332.9 L412.8 329.8 L412.3 329.1 L409.5 328.9 L406.7 328.1ZM207.5 180.0 L208.3 182.2 L210.4 183.5 L211.9 185.2 L212.5 187.5 L213.2 187.5 L212.8 186.6 L212.9 184.1 L212.0 181.8 L210.1 180.6 L208.0 179.6 L206.3 178.0 L205.1 179.0 L205.3 179.0ZM428.6 349.0 L427.6 346.3 L425.2 347.6 L422.7 346.6 L420.2 347.3 L417.8 347.0 L416.8 348.3 L417.2 349.1 L420.0 349.7 L422.1 351.2 L424.4 352.5 L426.3 354.5 L427.6 353.8 L429.2 351.7ZM419.4 330.4 L421.1 327.9 L424.4 328.7 L425.0 327.6 L424.5 327.1 L422.0 327.4 L419.5 327.7 L417.2 327.3 L415.0 326.0 L413.7 326.2 L413.8 326.5 L412.3 329.1 L412.8 329.8 L417.0 331.4ZM603.1 354.0 L604.5 351.7 L603.4 348.6 L604.7 346.2 L605.2 345.7 L602.5 344.9 L600.0 345.0 L597.6 344.0 L594.8 345.7 L592.4 345.2 L589.9 344.3 L587.3 344.8 L586.5 344.2 L586.6 347.4 L590.3 348.1 L591.1 351.0 L591.9 353.9 L594.4 355.5 L596.0 357.7 L597.9 355.6 L600.8 355.4ZM344.0 506.5 L343.9 509.6 L342.5 511.9 L340.6 513.9 L339.2 516.1 L340.6 518.6 L341.1 521.7 L343.8 523.4 L346.5 523.3 L348.9 525.6 L349.2 525.4 L348.0 524.0 L347.9 522.9 L349.5 525.2 L349.7 525.1 L349.2 523.7 L348.1 521.5 L346.0 520.0 L346.1 517.7 L346.5 515.5 L347.3 515.2 L347.0 512.0 L348.0 504.2 L348.0 504.1 L348.0 504.0 L345.8 504.3 L345.7 504.4ZM355.3 502.7 L353.3 500.4 L350.8 499.6 L349.2 500.3 L347.9 501.2 L348.0 502.0 L348.7 504.8 L349.9 505.8 L349.5 507.8 L350.0 510.0 L348.7 513.2 L349.2 514.3 L348.1 514.8 L347.4 516.6 L347.3 515.2 L346.5 515.5 L346.1 517.7 L346.0 520.0 L348.1 521.5 L349.2 523.7 L349.7 525.1 L351.9 523.9 L354.5 524.9 L357.1 525.3 L359.8 525.3 L362.5 525.7 L362.9 525.4 L356.0 524.0 L356.0 525.0 L354.0 520.0 L358.0 510.0 L357.1 503.7ZM630.0 340.0 L630.0 340.0 L630.5 340.3 L632.5 338.2 L633.1 338.1 L632.6 337.6 L630.0 338.3 L627.5 337.7 L625.3 338.0 L625.0 339.0 L627.0 339.1 L628.1 338.8 L629.9 340.0ZM633.0 325.3 L630.8 326.0 L628.9 324.0 L626.7 324.4 L625.2 326.7 L623.3 328.7 L623.2 329.1 L624.0 330.0 L624.8 332.2 L623.7 334.6 L625.7 336.6 L625.3 338.0 L627.5 337.7 L630.0 338.3 L632.6 337.6 L633.1 338.1 L635.7 337.3 L637.3 334.8 L638.7 332.0 L637.7 329.0 L635.8 326.8ZM303.0 321.2 L304.3 322.9 L304.2 325.0 L304.6 327.0 L309.1 328.6 L311.1 326.3 L314.5 326.1 L316.4 323.7 L319.6 323.3 L321.6 320.9 L319.6 318.8 L321.7 315.9 L321.4 313.5 L320.7 311.1 L319.2 308.9 L317.7 308.8 L315.0 309.3 L313.7 312.4 L310.8 312.5 L307.9 312.4 L306.3 314.9 L304.9 316.9 L304.1 319.1ZM309.6 437.8 L308.0 440.0 L309.5 442.1 L309.6 444.6 L311.4 446.6 L312.6 448.8 L312.2 451.5 L313.3 453.4 L316.0 453.1 L317.2 454.9 L318.4 452.4 L321.8 452.2 L321.9 448.5 L323.8 446.8 L327.0 446.5 L328.6 444.4 L328.4 442.4 L325.8 443.0 L322.5 437.5 L327.4 434.8 L328.5 432.6 L325.6 432.7 L322.8 432.1 L320.0 431.6 L317.2 431.2 L314.3 430.9 L312.1 432.7 L312.3 436.3ZM362.5 525.7 L362.0 528.4 L363.1 531.2 L361.4 533.9 L361.7 536.6 L361.9 539.4 L361.5 542.1 L364.6 542.4 L366.6 545.5 L369.3 546.7 L372.6 546.5 L374.1 546.5 L366.0 540.0 L370.0 532.0 L366.0 526.0 L362.9 525.4ZM484.9 372.0 L486.8 369.6 L487.1 366.8 L486.3 363.6 L489.0 361.5 L489.3 358.6 L486.7 357.6 L484.1 358.6 L481.5 358.5 L479.0 358.0 L477.6 359.5 L477.8 362.2 L478.6 364.7 L479.8 367.2 L479.6 370.0 L481.9 371.4 L484.5 372.4ZM496.8 361.6 L497.5 358.8 L494.8 358.3 L492.0 358.8 L489.3 358.6 L489.3 358.6 L489.0 361.5 L486.3 363.6 L487.1 366.8 L486.8 369.6 L484.9 372.0 L488.0 373.0 L490.5 371.5 L493.0 369.1 L496.0 370.2 L498.7 369.5 L497.8 366.9 L498.4 364.1ZM271.3 242.0 L269.2 242.4 L267.3 241.4 L266.5 243.4 L268.7 243.6 L271.4 243.6 L273.4 245.0 L273.9 245.8 L274.5 244.8 L273.3 242.0ZM272.5 248.0 L273.9 245.8 L273.4 245.0 L271.4 243.6 L268.7 243.6 L266.5 243.4 L266.5 243.4 L264.6 244.8 L263.9 247.0 L264.8 251.4 L267.5 250.8 L269.1 253.6 L272.1 252.2 L273.9 254.3 L274.4 253.7 L272.9 250.9ZM298.2 378.9 L296.0 380.0 L297.1 381.7 L299.9 381.5 L302.6 380.5 L303.1 378.5 L302.4 377.8 L301.0 379.0ZM295.7 375.6 L293.3 375.4 L290.8 377.1 L288.3 376.0 L286.2 377.0 L286.1 379.8 L284.0 380.8 L284.3 383.5 L285.6 385.6 L287.5 386.6 L289.8 387.0 L292.5 385.9 L295.4 385.3 L296.8 381.7 L297.1 381.7 L296.0 380.0 L298.2 378.9 L301.0 379.0 L302.4 377.8 L300.7 376.0 L298.2 374.5ZM669.5 299.0 L667.0 297.9 L664.0 298.1 L662.1 299.9 L660.6 302.4 L658.5 303.9 L659.3 307.6 L661.9 307.5 L664.5 307.8 L667.1 308.2 L669.5 309.4 L671.6 307.9 L671.3 304.9 L673.1 303.3 L673.0 302.8 L671.6 300.5ZM273.6 758.8 L272.3 757.9 L272.0 762.0 L274.0 762.1ZM184.7 401.7 L184.8 398.3 L187.5 396.7 L188.6 394.1 L190.2 391.7 L192.0 389.5 L193.6 387.2 L192.8 382.5 L191.5 379.9 L189.8 377.7 L186.8 376.7 L184.1 375.3 L183.1 372.4 L181.0 370.6 L179.4 368.2 L176.9 366.7 L173.6 367.5 L171.0 366.0 L168.3 364.9 L166.8 366.8 L165.5 369.0 L163.8 370.8 L161.1 371.7 L160.4 374.4 L160.5 377.2 L162.6 379.5 L161.9 382.5 L164.3 384.7 L162.6 387.9 L162.8 390.6 L164.9 393.0 L166.9 395.3 L166.1 398.2 L167.7 400.8 L171.0 400.6 L172.6 403.0 L174.7 404.7 L177.0 406.1 L179.7 406.7 L181.4 406.2 L182.4 403.6ZM415.6 378.6 L413.6 377.8 L411.5 377.7 L409.4 377.7 L407.9 380.1 L405.7 382.0 L404.9 384.8 L407.7 386.2 L409.3 388.8 L411.7 390.6 L414.2 390.1 L415.5 387.5 L416.3 387.2 L417.9 385.9 L418.3 385.8 L418.5 385.1 L416.7 383.4 L416.5 380.8ZM254.1 392.9 L251.2 391.7 L248.4 393.2 L247.2 395.8 L245.3 397.9 L244.6 400.9 L241.4 401.9 L239.9 404.3 L241.2 409.0 L244.0 409.5 L245.0 409.3 L246.1 409.9 L247.2 410.1 L248.2 410.6 L250.0 410.0 L252.6 409.1 L255.1 409.3 L257.5 411.0 L260.0 411.4 L262.5 411.0 L262.6 408.7 L260.3 407.0 L261.4 404.4 L260.0 402.5 L259.4 399.7 L260.5 397.3 L261.8 395.0 L262.1 393.9 L259.8 392.9 L256.9 391.7ZM262.1 393.9 L261.8 395.0 L260.5 397.3 L259.4 399.7 L260.0 402.5 L261.4 404.4 L260.3 407.0 L262.6 408.7 L262.5 411.0 L260.0 411.4 L257.5 411.0 L255.1 409.3 L252.6 409.1 L250.0 410.0 L248.2 410.6 L249.9 411.3 L252.1 413.9 L255.2 414.2 L258.0 415.1 L261.1 415.0 L263.8 413.7 L266.3 411.9 L267.4 409.1 L268.4 406.1 L267.8 403.1 L265.6 400.3 L265.8 397.3 L266.8 394.3 L265.5 393.0 L262.7 394.2ZM190.2 298.1 L191.0 295.2 L192.4 292.5 L192.7 289.5 L190.2 288.4 L187.5 287.7 L184.6 287.5 L182.2 285.9 L179.4 285.4 L176.6 285.2 L173.9 284.4 L172.1 281.1 L169.1 281.3 L168.2 285.4 L169.1 288.0 L171.4 289.8 L171.2 293.0 L173.2 295.1 L175.1 297.1 L175.2 300.1 L177.9 301.7 L177.8 304.9 L179.8 306.8 L181.6 308.9 L183.5 307.9 L185.7 307.6 L187.5 306.6 L187.2 303.4 L189.0 300.9ZM488.4 352.8 L488.4 350.5 L487.5 350.0 L485.3 349.2 L483.0 348.7 L480.5 348.7 L479.5 345.2 L477.7 344.8 L477.6 345.2 L477.4 347.8 L477.2 350.4 L478.6 352.9 L478.6 355.5 L479.0 358.0 L481.5 358.5 L484.1 358.6 L486.7 357.6 L489.3 358.6 L489.3 358.6 L488.1 355.9ZM234.2 309.9 L234.9 312.1 L237.1 313.6 L237.3 316.0 L238.6 318.4 L241.6 318.6 L243.2 320.6 L245.1 319.3 L246.3 317.7 L247.5 310.0 L245.0 310.4 L244.1 313.0 L242.0 314.0 L240.0 315.0 L239.8 312.5 L239.5 310.0 L240.0 307.5 L239.5 304.9 L237.9 304.8 L236.3 305.5 L235.1 307.8ZM252.6 309.0 L252.5 309.0 L249.9 309.0 L247.5 310.0 L252.4 310.0ZM247.2 299.3 L244.2 299.0 L241.7 300.2 L241.2 303.1 L238.8 304.3 L237.9 304.8 L239.5 304.9 L240.0 307.5 L239.5 310.0 L239.8 312.5 L240.0 315.0 L242.0 314.0 L244.1 313.0 L245.0 310.4 L247.5 310.0 L249.9 309.0 L252.5 309.0 L252.6 309.0 L252.7 308.7 L254.6 306.3 L253.6 302.7 L255.4 300.2 L254.8 295.9 L252.3 296.9 L249.2 296.6ZM433.1 367.6 L437.4 367.6 L437.4 365.0 L435.7 362.8 L435.7 362.6 L434.3 361.5 L433.3 360.7 L431.3 362.4 L431.9 365.1ZM433.3 360.7 L434.3 361.5 L435.7 362.6 L435.8 360.2 L435.0 359.8 L433.8 360.1ZM678.0 295.4 L677.1 291.6 L679.5 289.5 L682.5 287.7 L681.2 283.8 L683.8 281.8 L681.5 282.2 L679.3 282.3 L677.7 281.5 L677.6 281.8 L676.5 282.1 L675.4 283.5 L674.9 283.7 L674.8 284.8 L672.8 286.2 L671.3 287.7 L671.0 290.0 L668.6 290.1 L667.0 292.2 L666.2 291.8 L666.1 292.6 L666.8 295.2 L667.0 297.9 L669.5 299.0 L671.6 300.5 L673.0 302.8 L675.6 300.8 L675.1 297.2ZM596.0 357.7 L594.4 355.5 L591.9 353.9 L591.1 351.0 L590.3 348.1 L586.6 347.4 L586.5 344.2 L585.0 343.1 L583.5 343.0 L582.5 344.1 L580.4 345.4 L577.0 344.3 L575.8 347.5 L573.1 347.8 L571.4 348.4 L571.4 348.7 L571.0 349.2 L572.3 351.3 L573.1 354.1 L572.8 357.2 L574.5 359.8 L574.1 362.9 L573.9 366.0 L576.3 367.9 L577.7 368.3 L579.9 365.8 L582.4 365.7 L585.0 366.0 L586.8 367.8 L587.6 367.9 L588.3 367.5 L591.2 367.2 L593.6 365.7 L594.4 363.0 L594.4 360.2ZM578.0 371.8 L580.2 369.8 L583.1 369.4 L585.9 368.9 L587.6 367.9 L586.8 367.8 L585.0 366.0 L582.4 365.7 L579.9 365.8 L577.7 368.3 L576.3 367.9 L576.7 368.2 L576.8 371.2ZM683.6 371.3 L684.2 373.6 L683.8 374.9 L684.0 375.0 L686.2 373.2 L689.2 374.4 L691.5 373.3 L694.0 372.5 L695.4 370.2 L694.9 367.5 L695.8 365.1 L694.9 362.9 L691.8 364.4 L689.7 362.9 L687.7 363.8 L685.3 363.4 L683.5 364.9 L681.6 366.9 L681.2 369.6ZM394.6 380.9 L392.7 378.9 L391.2 381.5 L392.8 384.6 L392.5 387.5 L391.2 390.1 L389.0 392.6 L391.1 395.9 L389.2 398.4 L389.7 399.1 L391.8 398.6 L392.4 398.4 L395.2 399.3 L397.5 397.6 L399.1 395.3 L400.5 393.0 L399.4 389.9 L399.6 387.2 L401.6 385.0 L398.6 384.6 L396.3 383.2ZM309.2 419.7 L312.1 420.1 L314.9 419.4 L317.7 418.7 L320.4 417.7 L322.8 416.0 L324.1 413.2 L323.1 410.5 L320.8 407.9 L321.8 405.1 L319.4 404.2 L317.0 403.1 L314.6 402.4 L311.8 403.3 L310.0 405.1 L308.2 406.4 L307.4 408.2 L306.6 409.3 L307.3 412.6 L304.9 414.0 L305.2 415.8 L307.6 417.2ZM209.8 272.6 L207.5 272.5 L206.7 270.1 L207.7 267.3 L206.4 264.9 L204.5 262.7 L205.0 260.0 L207.5 260.3 L209.0 259.5 L208.9 259.1 L205.9 258.8 L203.2 260.1 L203.1 263.5 L200.1 264.6 L198.3 266.6 L197.0 269.0 L195.8 271.5 L198.3 272.9 L197.6 276.3 L199.9 277.8 L201.1 280.1 L203.9 279.3 L206.3 277.8 L208.5 275.5 L211.7 275.6 L211.8 274.2 L211.7 274.2ZM211.7 267.7 L213.1 265.2 L212.5 262.6 L209.4 261.7 L209.0 259.5 L207.5 260.3 L205.0 260.0 L204.5 262.7 L206.4 264.9 L207.7 267.3 L206.7 270.1 L207.5 272.5 L209.8 272.6 L211.7 274.2 L211.8 274.2 L211.9 273.0 L211.6 270.3ZM339.2 516.1 L336.5 516.1 L333.6 516.8 L332.5 516.6 L332.0 520.0 L330.0 530.0 L331.4 532.1 L333.0 533.7 L334.0 536.0 L335.4 538.3 L334.3 539.7 L334.3 540.1 L334.3 540.1 L337.0 540.6 L339.7 539.2 L340.2 536.5 L341.3 534.0 L341.2 531.2 L340.9 528.3 L344.2 526.3 L343.8 523.4 L341.1 521.7 L340.6 518.6ZM335.4 538.3 L334.0 536.0 L334.3 539.7ZM354.3 426.1 L355.0 427.5 L354.3 427.6 L354.2 429.7 L353.4 432.5 L355.4 434.7 L355.9 437.5 L358.1 437.3 L364.0 427.4 L362.8 420.0 L362.5 419.9 L360.5 417.7 L359.0 417.4 L357.5 418.7 L356.9 419.9 L357.3 420.7 L356.2 421.6 L354.3 423.8ZM634.1 412.5 L636.0 411.6 L638.0 411.0 L638.2 411.1 L638.4 410.4 L641.4 409.4 L642.2 406.5 L643.8 404.3 L646.4 403.1 L646.5 399.6 L644.4 397.9 L642.8 395.8 L639.8 395.7 L637.3 397.0 L635.6 400.1 L635.3 400.1 L636.0 410.0 L630.2 410.8 L631.1 411.9 L631.7 412.2 L631.9 412.1ZM637.6 413.2 L638.2 411.1 L638.0 411.0 L636.0 411.6 L634.1 412.5 L631.9 412.1 L631.7 412.2 L633.1 413.0 L635.4 412.9ZM268.0 201.4 L265.2 201.3 L264.0 197.8 L261.1 198.1 L257.5 199.0 L255.7 201.0 L254.4 203.5 L253.5 206.2 L250.6 207.3 L252.5 209.4 L250.7 212.7 L252.7 214.8 L253.6 217.2 L254.5 219.6 L256.8 219.1 L259.4 220.1 L261.5 217.3 L264.1 218.5 L266.5 218.0 L268.0 215.9 L270.4 214.2 L269.7 210.7 L272.7 209.5 L273.4 206.8 L272.2 204.4 L270.5 202.3ZM474.2 379.1 L473.5 381.7 L473.5 384.1 L473.8 384.4 L475.6 382.2 L478.0 381.7 L480.8 381.9 L482.3 379.0 L485.2 379.5 L485.6 377.0 L485.3 374.7 L484.5 372.4 L481.9 371.4 L479.6 370.0 L477.1 371.1 L474.1 370.9 L471.6 372.2 L473.3 374.4 L473.5 376.8ZM226.6 366.0 L229.2 367.1 L232.0 367.7 L234.7 368.6 L237.7 368.8 L240.0 370.9 L242.7 371.8 L245.5 372.4 L246.3 371.7 L248.0 368.5 L246.1 365.9 L246.9 362.7 L246.9 359.6 L245.3 357.0 L244.0 354.3 L243.5 351.4 L240.6 352.2 L237.7 352.5 L234.8 353.1 L231.8 350.8 L228.9 352.7 L226.0 352.9 L223.0 351.5 L220.1 351.1 L217.2 352.3 L218.6 354.7 L219.2 357.2 L219.2 358.1 L220.7 363.6 L221.3 363.9 L223.9 365.0ZM490.5 371.5 L488.0 373.0 L484.9 372.0 L484.5 372.4 L485.3 374.7 L485.6 377.0 L485.2 379.5 L487.4 380.8 L488.9 382.9 L491.7 382.8 L493.9 380.8 L496.7 381.0 L498.0 379.0 L499.6 377.3 L500.3 375.0 L500.7 371.8 L498.7 369.5 L496.0 370.2 L493.0 369.1ZM558.4 349.9 L559.2 347.0 L556.8 345.3 L554.5 343.5 L553.6 342.4 L552.6 342.0 L551.7 341.1 L548.7 341.4 L547.2 338.3 L546.3 341.3 L542.3 341.7 L541.4 344.6 L540.8 347.9 L538.7 349.9 L535.5 350.9 L534.3 353.6 L535.4 355.4 L536.1 354.6 L537.5 352.5 L539.6 353.3 L542.1 353.2 L543.4 355.8 L545.3 356.8 L547.5 357.5 L549.7 357.4 L551.7 355.8 L554.0 356.0 L554.6 356.4 L555.2 355.0 L555.1 351.5ZM321.8 291.8 L319.8 290.9 L317.9 289.7 L315.7 289.3 L313.4 290.1 L311.2 291.2 L309.5 293.1 L307.0 293.6 L305.4 295.7 L305.1 298.6 L305.6 301.5 L307.3 304.1 L310.8 303.8 L313.3 305.2 L315.3 307.3 L317.7 308.8 L319.2 308.9 L320.0 307.5 L314.0 304.0 L319.0 292.5 L322.5 293.3ZM342.2 321.1 L343.6 318.5 L346.4 318.5 L346.7 315.4 L343.2 313.5 L344.3 310.2 L342.2 307.8 L342.1 304.9 L339.6 305.9 L337.1 306.8 L335.0 308.3 L334.7 310.9 L333.6 313.3 L334.2 315.9 L332.8 318.4 L333.8 321.0 L337.7 323.2 L340.0 322.2ZM463.3 487.5 L464.4 485.1 L464.4 482.4 L465.4 479.9 L464.3 477.4 L462.7 475.3 L460.7 473.4 L460.6 473.2 L460.0 475.0 L462.4 487.0ZM296.6 205.8 L299.1 207.1 L301.9 208.0 L304.2 209.6 L306.4 211.4 L307.4 210.4 L307.3 210.0 L306.5 207.5 L307.0 205.0 L306.0 202.5 L305.8 200.0 L305.2 197.8 L304.2 195.7 L301.6 194.3 L302.1 191.6 L301.1 190.9 L300.0 192.0 L297.8 187.0 L297.6 186.8 L296.3 185.4 L294.9 185.2 L294.7 188.0 L292.5 190.1 L292.3 193.0 L291.8 195.6 L291.8 198.6 L289.8 200.7 L291.9 202.6 L295.2 202.7ZM661.7 338.3 L658.8 336.5 L657.6 337.8 L658.6 340.0 L661.2 340.0 L662.7 337.8 L662.8 337.5ZM664.2 330.3 L662.3 328.2 L659.3 328.2 L657.0 326.8 L653.2 329.8 L653.2 332.5 L653.5 335.2 L655.3 336.6 L657.5 337.4 L657.6 337.8 L658.8 336.5 L661.7 338.3 L662.8 337.5 L664.0 335.5 L662.8 332.5ZM502.3 475.8 L503.9 473.0 L502.5 472.0 L501.6 471.1 L500.2 472.8 L501.2 474.9ZM359.7 408.6 L361.8 406.3 L362.0 403.4 L363.2 400.9 L361.4 399.0 L358.4 399.7 L356.7 397.7 L355.4 400.1 L352.6 399.9 L350.6 401.1 L348.6 402.1 L350.2 404.1 L352.7 405.6 L352.8 408.6 L355.4 410.0 L354.8 413.6 L358.2 414.4 L358.9 417.0 L359.7 414.4 L361.0 411.8ZM442.2 334.6 L442.6 337.6 L445.2 337.6 L447.6 338.6 L449.7 337.3 L451.2 336.3 L450.2 335.6 L447.5 335.0 L446.3 332.8 L443.5 332.7 L441.3 331.8 L440.5 329.1 L438.8 327.6 L438.6 327.6 L438.9 329.9 L439.8 332.6ZM210.1 180.6 L212.0 181.8 L215.1 181.2 L217.0 178.3 L220.2 178.1 L220.4 175.8 L220.2 173.4 L221.7 171.4 L220.5 170.4 L216.8 169.7 L215.0 171.4 L213.5 173.6 L210.9 174.1 L208.6 175.1 L206.7 176.7 L206.3 178.0 L208.0 179.6ZM655.7 361.1 L652.7 362.2 L651.1 364.6 L648.4 365.6 L646.0 367.0 L644.3 369.1 L646.6 371.0 L649.1 372.3 L652.2 372.5 L654.5 374.4 L657.5 374.7 L658.4 375.4 L659.8 374.6 L659.9 373.9 L662.8 372.7 L663.1 372.4 L663.5 370.1 L664.6 367.9 L664.5 365.2 L664.0 363.7 L661.1 363.5 L658.4 362.1ZM470.4 468.9 L472.7 471.1 L472.8 474.0 L475.3 474.3 L477.8 475.0 L480.3 473.9 L479.5 471.3 L481.9 469.0 L481.6 466.5 L482.9 464.0 L481.5 461.4 L479.8 460.2 L479.2 459.1 L475.0 467.5 L470.6 467.4ZM305.0 353.6 L305.9 351.0 L306.0 348.2 L303.2 347.4 L300.4 346.6 L298.1 347.9 L296.7 350.6 L293.9 351.2 L295.4 353.8 L295.1 356.5 L295.0 359.2 L293.9 361.9 L296.3 363.5 L299.2 363.8 L303.7 361.7 L304.3 359.1 L303.9 356.2ZM237.1 278.4 L239.1 276.8 L242.6 276.9 L244.0 274.6 L242.1 272.1 L239.2 271.2 L236.4 270.1 L233.8 270.3 L231.2 271.5 L232.1 274.0 L231.3 276.6 L230.7 279.2 L230.7 281.8 L231.9 284.3 L234.4 283.3 L236.8 282.2ZM357.5 385.9 L354.6 385.6 L352.9 388.6 L349.8 387.8 L348.8 388.5 L350.5 390.7 L352.8 390.6 L355.1 390.8 L357.5 390.0 L358.2 389.9 L358.5 389.4 L358.7 386.6ZM355.4 400.1 L356.7 397.7 L356.8 394.8 L356.7 391.9 L358.2 389.9 L357.5 390.0 L355.1 390.8 L352.8 390.6 L350.5 390.7 L348.8 388.5 L347.6 389.4 L345.1 390.4 L344.1 393.0 L343.7 395.6 L343.8 398.2 L345.3 400.8 L348.6 402.1 L350.6 401.1 L352.6 399.9ZM666.5 342.3 L668.0 341.4 L666.0 336.0 L663.8 336.8 L662.8 337.5 L662.7 337.8 L661.2 340.0 L661.3 340.2 L663.9 342.6ZM669.1 332.4 L666.8 333.4 L666.0 336.0 L669.9 331.9ZM665.3 329.9 L664.2 330.3 L662.8 332.5 L664.0 335.5 L662.8 337.5 L663.8 336.8 L666.0 336.0 L666.8 333.4 L669.1 332.4 L669.9 331.9 L670.3 331.5 L667.8 330.6ZM481.5 461.4 L482.9 464.0 L481.6 466.5 L481.9 469.0 L479.5 471.3 L480.3 473.9 L483.7 476.0 L485.8 474.1 L489.0 474.7 L491.2 473.1 L493.4 471.7 L492.2 469.1 L490.9 466.5 L491.5 463.2 L489.6 460.9 L486.8 460.4 L484.2 460.9ZM437.4 367.6 L433.1 367.6 L431.3 368.8 L430.6 370.9 L429.1 372.3 L430.6 374.6 L432.8 375.4 L433.7 375.7 L434.2 374.8 L436.7 374.7 L438.9 373.9 L439.4 373.6 L439.2 371.4 L439.7 368.9ZM438.9 373.9 L436.7 374.7 L434.2 374.8 L433.7 375.7 L435.1 376.1 L437.7 376.2 L439.5 374.1 L439.4 373.6ZM127.4 480.5 L129.6 479.3 L132.3 479.6 L133.4 477.3 L134.0 474.8 L133.6 472.1 L133.0 469.6 L132.8 466.9 L131.1 464.6 L129.5 463.5 L127.3 464.4 L124.6 463.6 L123.0 466.7 L120.6 467.2 L118.0 466.9 L119.6 469.5 L118.2 472.5 L119.2 475.1 L119.8 477.8 L119.1 480.7 L120.4 483.3 L123.3 484.1 L125.0 481.1ZM244.9 274.9 L245.2 277.5 L245.9 280.1 L244.7 282.9 L245.7 285.5 L248.3 286.7 L250.3 288.6 L252.0 290.6 L253.1 293.3 L255.2 295.0 L257.9 294.5 L259.8 292.4 L261.6 289.9 L260.2 287.0 L261.6 284.4 L261.6 281.7 L262.0 278.9 L261.7 276.2 L261.6 276.0 L259.5 274.6 L256.8 274.5 L254.6 273.1 L252.2 272.4 L250.2 272.4 L247.8 274.1ZM435.0 359.8 L435.8 360.2 L436.7 360.2 L439.6 359.5 L440.0 355.9 L442.2 354.5 L444.8 353.6 L445.0 352.7 L443.8 352.1 L441.1 352.3 L438.4 351.7 L435.8 353.0 L434.8 355.2 L435.9 357.6ZM347.8 499.1 L348.4 497.1 L348.1 494.7 L348.0 492.3 L347.0 490.0 L347.8 499.0ZM337.9 480.8 L337.1 480.8 L336.1 481.6 L340.0 482.0ZM339.4 478.4 L337.4 480.6 L337.1 480.8 L337.9 480.8 L340.0 482.0 L345.5 484.2 L346.1 484.1 L348.3 484.6 L350.0 486.0 L351.9 484.4 L351.7 481.6 L352.2 481.0 L351.6 478.6 L350.1 476.0 L347.4 475.9 L345.4 478.2 L342.2 477.9ZM352.3 497.2 L353.6 494.8 L352.3 491.6 L354.2 489.4 L354.6 486.7 L352.9 484.3 L352.3 481.4 L352.2 481.0 L351.7 481.6 L351.9 484.4 L350.0 486.0 L347.0 490.0 L348.0 492.3 L348.1 494.7 L348.4 497.1 L347.8 499.1 L349.2 500.3 L350.8 499.6ZM151.5 466.7 L149.3 465.2 L149.0 464.3 L140.8 462.7 L139.2 463.5 L136.3 463.1 L133.5 463.3 L131.1 464.6 L132.8 466.9 L133.0 469.6 L133.6 472.1 L134.0 474.8 L136.7 475.9 L139.1 473.8 L141.6 474.2 L144.2 473.6 L146.7 472.9 L149.3 473.4 L150.1 471.2 L149.8 468.7ZM467.1 355.7 L467.2 352.9 L464.9 353.2 L462.6 352.0 L460.3 352.7 L459.2 354.4 L457.0 355.3 L456.3 357.3 L456.5 359.4 L459.4 359.9 L461.3 362.6 L464.7 361.8 L466.8 364.0 L469.9 360.1 L469.3 357.6ZM340.7 381.2 L341.0 381.0 L342.9 382.6 L343.4 385.1 L345.4 386.6 L346.0 389.0 L348.4 387.9 L348.8 388.5 L349.8 387.8 L352.9 388.6 L354.6 385.6 L357.5 385.9 L355.8 384.0 L355.6 381.5 L354.5 379.3 L354.1 376.9 L351.5 375.0 L349.2 375.3 L346.9 375.7 L344.6 375.5 L342.3 374.7 L341.3 377.0 L340.5 379.4ZM340.7 385.9 L341.6 388.0 L343.1 389.4 L345.1 390.4 L347.6 389.4 L348.8 388.5 L348.4 387.9 L346.0 389.0 L345.4 386.6 L343.4 385.1 L342.9 382.6 L341.0 381.0 L340.7 381.2 L340.7 381.5 L341.4 383.7ZM522.1 364.9 L522.8 365.6 L524.1 364.3 L524.0 362.5 L526.0 361.4 L526.7 359.0 L529.1 358.2 L530.0 356.0 L529.0 352.5 L526.9 352.7 L525.1 352.0 L524.9 352.8 L522.7 354.7 L520.9 356.9 L520.4 359.9 L521.6 362.3ZM528.7 367.9 L528.6 367.3 L531.0 365.2 L531.7 362.7 L531.0 360.0 L533.1 358.5 L534.4 356.4 L535.4 355.4 L534.3 353.6 L532.6 351.7 L530.5 350.6 L529.7 350.9 L529.0 352.5 L530.0 356.0 L529.1 358.2 L526.7 359.0 L526.0 361.4 L524.0 362.5 L524.1 364.3 L522.8 365.6 L524.3 367.0 L526.4 368.0ZM506.4 396.1 L506.4 396.0 L507.7 394.2 L507.2 391.7 L507.3 391.5 L506.2 392.2 L505.0 394.9ZM517.1 408.9 L518.5 406.7 L520.4 404.7 L520.5 404.6 L520.0 405.0 L518.5 406.1 L516.9 407.2 L515.0 407.5 L514.0 408.9 L514.1 408.9 L516.1 411.3ZM515.4 391.0 L513.4 389.0 L511.0 388.6 L510.9 389.0 L510.3 389.3 L508.8 390.7 L507.3 391.5 L507.2 391.7 L507.7 394.2 L506.4 396.0 L506.4 396.1 L507.6 397.2 L508.7 399.6 L508.1 402.3 L507.1 405.0 L508.4 407.4 L510.8 409.1 L514.0 408.9 L515.0 407.5 L516.9 407.2 L518.5 406.1 L520.0 405.0 L520.5 404.6 L521.9 402.5 L521.9 399.5 L523.3 397.3 L524.1 395.6 L524.0 395.0 L522.9 393.3 L522.8 391.8 L520.3 391.9 L517.9 391.4ZM537.9 427.2 L535.7 425.6 L535.1 425.2 L539.0 437.5 L545.8 442.4 L546.9 441.9 L549.5 442.2 L549.0 439.6 L549.2 438.6 L549.0 438.3 L547.7 437.0 L546.0 436.0 L545.6 433.7 L544.4 431.7 L544.5 429.3 L542.8 429.5 L540.2 428.7ZM567.5 345.0 L565.6 344.3 L563.7 343.7 L563.3 343.5 L563.2 346.3 L565.4 348.0 L568.3 347.6 L570.7 348.7 L571.4 348.4 L571.0 346.5ZM577.0 344.3 L580.4 345.4 L582.5 344.1 L583.5 343.0 L582.5 342.9 L580.0 342.5 L577.7 343.4 L575.7 345.0 L573.3 345.5 L571.0 346.5 L571.4 348.4 L573.1 347.8 L575.8 347.5ZM207.1 171.4 L205.4 174.2 L206.7 176.7 L208.6 175.1 L210.9 174.1 L213.5 173.6 L215.0 171.4 L216.8 169.7 L214.5 168.0 L213.5 165.1 L210.9 163.5 L208.1 163.1 L205.3 163.7 L204.4 166.4 L204.9 169.0ZM353.0 479.7 L354.1 477.6 L356.0 476.0 L356.1 474.0 L356.4 472.0 L356.3 471.4 L355.8 471.3 L353.2 472.1 L350.1 476.0 L351.6 478.6 L352.2 481.0ZM354.6 486.7 L357.7 487.2 L358.9 486.4 L359.0 486.0 L364.0 476.0 L366.6 471.6 L364.1 470.9 L361.5 472.1 L358.7 472.0 L356.3 471.4 L356.4 472.0 L356.1 474.0 L356.0 476.0 L354.1 477.6 L353.0 479.7 L352.2 481.0 L352.3 481.4 L352.9 484.3ZM331.8 322.8 L333.8 321.0 L332.8 318.4 L334.2 315.9 L333.6 313.3 L334.7 310.9 L335.0 308.3 L332.5 307.7 L330.4 305.5 L327.9 304.9 L325.2 305.4 L322.5 309.0 L320.0 307.5 L319.2 308.9 L320.7 311.1 L321.4 313.5 L321.7 315.9 L319.6 318.8 L321.6 320.9 L324.9 322.6 L327.4 323.5 L329.5 322.9ZM438.5 401.7 L437.1 403.2 L435.3 405.7 L436.1 407.2 L437.8 408.1 L440.0 409.0 L442.2 408.8 L443.9 407.1 L446.3 407.3 L447.8 405.4 L450.0 405.0 L451.1 404.8 L450.5 402.1 L447.8 401.8 L445.5 400.8 L442.7 401.8 L439.9 401.0ZM436.3 413.1 L438.8 414.4 L440.5 416.8 L444.1 416.4 L445.7 419.0 L446.0 419.0 L446.5 415.9 L450.5 415.0 L451.0 411.8 L451.6 408.8 L453.9 406.8 L453.8 406.1 L451.3 405.4 L451.1 404.8 L450.0 405.0 L447.8 405.4 L446.3 407.3 L443.9 407.1 L442.2 408.8 L440.0 409.0 L437.8 408.1 L436.1 407.2 L437.0 408.9 L435.7 411.5ZM337.3 414.7 L336.9 412.1 L337.9 409.7 L336.0 407.0 L337.7 404.6 L335.2 403.1 L332.5 403.8 L329.9 403.0 L327.2 403.4 L324.6 402.6 L321.8 405.1 L320.8 407.9 L323.1 410.5 L324.1 413.2 L322.8 416.0 L325.1 417.3 L327.4 418.4 L330.0 418.8 L332.8 418.9 L334.7 421.0 L336.1 419.6 L335.8 417.0ZM217.8 281.7 L218.2 279.0 L216.6 276.8 L213.6 277.4 L211.7 275.6 L208.5 275.5 L206.3 277.8 L203.9 279.3 L201.1 280.1 L200.9 281.3 L201.9 284.2 L205.1 284.7 L207.8 285.7 L208.7 288.6 L211.8 287.8 L214.7 288.4 L217.5 289.9 L216.3 287.1 L218.5 284.5ZM304.8 273.5 L304.8 273.5 L305.3 271.1 L302.8 270.9 L303.5 272.0ZM297.5 269.5 L294.9 268.9 L292.6 267.5 L291.4 266.9 L290.0 267.5 L289.8 267.0 L288.5 269.7 L288.6 272.3 L289.1 274.8 L287.9 277.5 L289.5 280.0 L291.6 281.9 L293.9 283.2 L296.8 283.4 L299.5 282.9 L301.5 281.4 L302.9 278.7 L305.5 278.1 L305.1 275.8 L304.8 273.5 L303.5 272.0 L302.8 270.9 L302.6 270.9 L299.8 270.8ZM332.2 428.4 L329.9 430.1 L328.5 432.6 L327.4 434.8 L332.6 432.0 L333.9 426.7ZM328.6 444.4 L331.4 444.6 L333.8 446.5 L337.1 444.8 L339.2 447.9 L342.1 447.6 L341.9 444.7 L342.7 443.6 L334.8 441.0 L328.4 442.4ZM651.9 385.1 L654.8 385.7 L655.3 385.5 L656.0 385.0 L658.1 384.3 L658.7 383.7 L657.3 382.1 L656.8 379.8 L656.0 377.5 L657.8 375.7 L658.4 375.4 L657.5 374.7 L654.5 374.4 L652.2 372.5 L649.1 372.3 L646.6 371.0 L644.3 369.1 L641.9 369.8 L642.2 372.8 L643.6 375.7 L644.0 378.7 L644.1 381.7 L643.1 384.8 L646.0 384.3 L649.0 385.1ZM659.8 376.6 L658.4 375.4 L657.8 375.7 L656.0 377.5 L656.8 379.8 L657.3 382.1 L658.7 383.7 L659.7 382.6 L661.2 380.2ZM133.3 441.2 L130.4 441.0 L127.5 440.6 L124.7 441.6 L121.8 440.9 L121.4 443.8 L119.3 446.1 L119.2 449.0 L122.2 449.8 L122.6 453.3 L124.2 455.5 L126.3 457.2 L129.1 458.0 L131.4 456.2 L132.7 453.6 L135.1 451.9 L135.6 448.7 L137.9 447.0 L137.8 443.4 L140.5 441.9 L139.0 440.2 L136.2 441.2ZM287.4 262.2 L285.2 260.1 L283.1 260.0 L284.0 262.5 L285.5 263.8 L286.4 265.8 L289.1 265.5 L289.8 267.0 L290.2 266.2 L289.9 262.7ZM273.9 267.5 L275.8 269.1 L276.8 271.2 L279.9 272.0 L282.6 270.3 L285.7 271.4 L288.5 269.7 L289.8 267.0 L289.1 265.5 L286.4 265.8 L285.5 263.8 L284.0 262.5 L283.1 260.0 L282.5 260.0 L279.5 261.6 L277.6 258.2 L274.7 259.1 L272.4 263.1 L272.9 265.4ZM205.9 435.3 L207.5 437.0 L208.4 437.1 L208.4 437.1 L210.0 436.0 L210.0 433.3 L212.1 431.6 L212.1 428.8 L214.4 427.2 L213.8 424.2 L216.0 422.5 L214.0 420.0 L212.3 417.8 L212.1 417.1 L211.9 417.1 L210.4 414.5 L207.8 415.7 L205.1 416.6 L203.8 419.6 L201.4 420.8 L201.5 423.6 L203.2 426.2 L202.1 429.1 L202.8 431.5 L204.8 433.1ZM215.5 436.7 L217.9 438.4 L218.5 435.7 L220.0 433.5 L222.6 432.0 L222.7 429.0 L224.1 426.8 L226.1 424.9 L226.1 423.5 L224.0 422.1 L222.3 419.8 L219.7 419.2 L217.7 417.3 L215.4 416.1 L212.1 417.1 L212.3 417.8 L214.0 420.0 L216.0 422.5 L213.8 424.2 L214.4 427.2 L212.1 428.8 L212.1 431.6 L210.0 433.3 L210.0 436.0 L208.4 437.1 L208.4 437.1 L210.1 437.3 L212.9 436.3ZM208.9 212.9 L208.0 210.1 L207.8 209.8 L206.0 211.0 L207.2 213.3 L205.9 214.5 L206.3 214.6 L209.0 214.4ZM656.9 338.6 L654.7 339.2 L652.5 340.1 L650.0 340.0 L649.5 340.0 L649.8 341.1 L651.2 343.7 L650.7 346.7 L652.9 345.5 L655.7 345.3 L656.8 342.3 L659.2 341.6 L661.3 340.2 L661.2 340.0 L658.6 340.0 L657.6 337.8ZM653.5 335.2 L651.7 337.4 L649.0 338.4 L649.5 340.0 L650.0 340.0 L652.5 340.1 L654.7 339.2 L656.9 338.6 L657.6 337.8 L657.5 337.4 L655.3 336.6ZM549.0 457.2 L550.0 455.0 L548.8 452.5 L550.8 450.0 L550.0 447.5 L548.8 445.0 L550.3 443.2 L549.5 442.2 L546.9 441.9 L545.8 442.4 L546.0 442.5 L547.5 455.0ZM235.7 157.7 L238.4 156.6 L240.1 154.4 L241.1 151.8 L240.0 150.0 L227.5 140.0 L226.6 136.7 L226.5 137.7 L224.6 139.6 L222.4 141.3 L222.4 144.4 L220.4 146.2 L221.3 150.7 L223.3 152.5 L224.9 154.9 L227.5 156.0 L230.2 157.0 L233.2 156.1ZM210.9 163.5 L212.5 161.4 L214.7 159.8 L215.2 154.9 L212.9 154.3 L210.6 153.4 L208.4 152.4 L205.9 154.2 L206.2 157.5 L205.6 160.3 L203.3 162.2 L205.3 163.7 L208.1 163.1ZM345.3 400.8 L343.8 398.2 L343.7 395.6 L344.1 393.0 L345.1 390.4 L343.1 389.4 L341.6 388.0 L340.7 385.9 L338.6 387.1 L336.3 388.1 L334.5 390.1 L331.8 390.1 L332.5 392.7 L332.7 395.4 L333.6 398.0 L334.8 400.4 L335.2 403.1 L337.7 404.6 L340.2 403.3 L342.2 401.0ZM423.4 402.8 L425.6 401.7 L427.8 401.8 L430.0 403.0 L432.4 403.5 L434.6 404.4 L435.7 407.0 L436.1 407.2 L435.3 405.7 L437.1 403.2 L434.7 402.1 L432.6 400.4 L429.6 400.4 L428.2 397.2 L425.1 397.3 L422.4 399.7 L421.7 402.2 L421.6 403.1ZM420.7 408.4 L423.2 408.6 L425.7 409.1 L428.4 408.6 L430.6 411.0 L433.4 409.9 L435.7 411.5 L437.0 408.9 L436.1 407.2 L435.7 407.0 L434.6 404.4 L432.4 403.5 L430.0 403.0 L427.8 401.8 L425.6 401.7 L423.4 402.8 L421.6 403.1 L421.4 404.8 L420.3 407.1ZM248.5 229.7 L248.1 226.8 L249.4 224.5 L249.3 224.4 L246.7 225.2 L244.1 224.0 L241.5 223.2 L239.4 224.6 L239.8 227.4 L237.4 228.7 L237.0 231.0 L237.3 233.1 L238.6 235.0 L238.5 237.2 L241.0 236.4 L243.4 237.1 L245.9 237.3 L247.6 235.0 L245.9 231.7ZM361.9 349.9 L359.9 348.1 L359.3 347.5 L356.0 350.0 L354.2 345.5 L352.0 346.0 L350.4 343.5 L348.3 342.0 L346.7 342.3 L345.4 345.0 L344.5 347.9 L342.5 350.2 L341.4 352.9 L342.6 356.6 L345.3 358.6 L347.7 359.4 L350.2 358.9 L352.6 357.5 L355.1 358.7 L357.5 358.5 L358.4 358.1 L361.5 354.6ZM324.2 397.9 L323.3 395.7 L320.5 395.0 L318.5 392.9 L316.1 394.1 L314.9 396.6 L312.4 397.7 L311.0 400.0 L311.8 403.3 L314.6 402.4 L317.0 403.1 L319.4 404.2 L321.8 405.1 L324.6 402.6 L325.3 400.1ZM540.8 347.9 L541.4 344.6 L542.3 341.7 L546.3 341.3 L547.2 338.3 L546.2 335.7 L545.9 334.0 L544.0 334.6 L542.1 335.0 L540.0 335.0 L537.8 334.8 L535.7 335.1 L533.8 336.0 L531.5 336.2 L529.8 334.3 L527.5 334.5 L527.3 334.5 L527.5 336.0 L528.8 337.8 L529.0 340.0 L529.5 342.0 L529.8 344.3 L529.9 346.7 L530.5 349.0 L529.7 350.9 L530.5 350.6 L532.6 351.7 L534.3 353.6 L535.5 350.9 L538.7 349.9ZM543.0 327.8 L542.5 324.9 L540.3 322.8 L538.3 324.7 L536.4 326.6 L533.8 327.6 L530.9 328.3 L529.2 330.4 L528.5 331.2 L528.7 331.6 L527.3 333.8 L527.3 334.5 L527.5 334.5 L529.8 334.3 L531.5 336.2 L533.8 336.0 L535.7 335.1 L537.8 334.8 L540.0 335.0 L542.1 335.0 L544.0 334.6 L545.9 334.0 L545.8 332.8 L544.2 330.4ZM236.2 162.9 L235.4 160.2 L235.7 157.7 L233.2 156.1 L230.2 157.0 L227.5 156.0 L225.2 156.9 L223.9 158.7 L222.3 160.3 L221.0 162.2 L220.7 164.9 L220.4 167.6 L220.5 170.4 L221.7 171.4 L224.5 169.6 L227.6 170.4 L230.7 171.9 L233.5 170.2 L234.0 167.7 L234.4 165.2ZM346.3 298.4 L348.3 300.4 L350.8 301.3 L353.5 302.0 L355.3 304.3 L358.1 304.5 L360.4 302.9 L363.8 304.0 L364.0 303.7 L363.4 302.7 L361.2 301.4 L359.3 299.5 L357.1 298.1 L354.4 297.6 L351.9 296.7 L350.1 294.6 L347.5 294.0 L346.6 293.8 L346.8 294.2 L346.0 296.9ZM260.5 192.6 L261.3 189.9 L263.1 187.3 L260.4 184.4 L261.8 181.8 L261.9 179.1 L260.6 176.3 L262.2 173.6 L262.4 171.2 L262.1 170.9 L260.2 172.4 L257.3 172.6 L255.2 174.3 L252.2 174.0 L250.3 176.3 L248.0 177.5 L248.7 180.4 L246.4 182.6 L247.3 185.6 L244.3 187.6 L244.7 190.5 L246.2 192.9 L249.2 193.0 L250.3 195.9 L252.8 196.8 L256.2 196.3 L257.5 199.0 L261.1 198.1 L260.1 195.3ZM687.4 345.4 L689.8 344.5 L692.3 343.7 L694.8 342.3 L697.4 340.9 L696.7 338.4 L696.5 338.1 L686.1 343.9ZM357.8 253.4 L359.2 252.8 L360.0 251.0 L357.8 249.9 L356.4 247.8 L356.1 248.7 L357.3 251.5ZM553.2 472.4 L552.1 469.9 L552.6 467.4 L552.2 465.5 L551.6 465.9 L552.7 476.6 L553.0 474.9ZM385.8 350.4 L386.8 352.9 L389.6 352.2 L390.4 348.7 L393.1 347.8 L395.1 346.0 L398.2 345.7 L400.0 343.6 L398.2 341.6 L397.3 339.1 L395.5 337.1 L395.4 334.3 L393.2 336.2 L390.1 336.6 L387.5 337.8 L385.3 339.6 L384.3 343.3 L381.2 343.7 L381.7 346.5 L384.0 348.3ZM331.4 347.3 L334.4 347.8 L335.8 351.1 L338.2 352.7 L341.4 352.9 L342.5 350.2 L344.5 347.9 L345.4 345.0 L346.7 342.3 L344.8 340.6 L342.1 340.0 L340.3 338.2 L337.4 339.1 L334.5 338.5 L331.7 338.8 L331.5 341.6 L332.3 344.5ZM416.8 427.8 L416.2 430.4 L418.7 434.4 L421.5 434.2 L424.2 434.3 L427.0 435.5 L429.8 434.8 L432.6 434.8 L432.7 434.8 L432.9 433.8 L432.0 431.9 L431.0 430.0 L429.1 428.9 L426.9 428.4 L426.3 425.4 L424.0 425.0 L423.8 422.5 L422.5 421.5 L421.6 421.8 L421.0 424.5 L419.6 426.5ZM430.9 429.5 L429.9 427.0 L430.1 424.0 L428.0 422.1 L425.9 421.1 L423.7 421.1 L422.5 421.5 L423.8 422.5 L424.0 425.0 L426.3 425.4 L426.9 428.4 L429.1 428.9 L431.0 430.0 L432.0 431.9 L432.9 433.8 L432.7 434.8 L433.9 433.9 L434.1 430.8ZM177.9 301.7 L175.2 300.1 L175.1 297.1 L173.2 295.1 L171.2 293.0 L171.4 289.8 L169.1 288.0 L168.2 285.4 L166.7 287.9 L163.4 288.9 L162.0 291.4 L161.3 294.8 L159.4 296.9 L155.9 297.6 L154.6 300.3 L153.1 302.9 L150.7 304.6 L153.4 306.1 L153.4 309.7 L156.5 310.9 L157.9 313.4 L158.2 316.7 L161.8 317.5 L163.4 319.9 L164.4 322.7 L165.9 325.1 L168.8 326.4 L169.7 329.3 L170.9 328.7 L172.3 326.3 L173.6 323.8 L175.0 321.3 L176.6 319.0 L178.7 316.9 L178.8 313.8 L179.9 311.2 L181.6 308.9 L179.8 306.8 L177.8 304.9ZM189.4 148.3 L189.7 145.5 L187.7 143.3 L188.8 140.4 L187.0 138.2 L184.3 139.5 L180.9 138.1 L180.2 138.4 L178.4 140.1 L179.0 142.5 L179.2 144.8 L181.5 146.4 L180.7 149.1 L182.6 150.8 L183.2 151.8 L184.4 150.8 L187.2 150.2ZM267.5 265.1 L266.6 265.8 L268.7 268.8 L266.6 270.4 L266.0 272.5 L266.4 275.0 L266.2 277.2 L267.5 277.7 L270.6 276.6 L273.5 277.6 L274.0 275.1 L276.4 273.7 L276.8 271.2 L275.8 269.1 L273.9 267.5 L272.9 265.4 L272.4 263.1 L270.5 264.5 L268.4 265.1ZM265.0 271.0 L264.0 273.8 L261.6 276.0 L261.7 276.2 L264.6 276.6 L266.2 277.2 L266.4 275.0 L266.0 272.5 L266.6 270.4 L268.7 268.8 L266.6 265.8 L267.5 265.1 L266.2 265.0 L266.3 268.3ZM375.6 378.9 L373.7 381.3 L372.9 384.0 L372.9 386.9 L373.2 388.6 L375.0 389.0 L376.5 391.2 L379.9 390.7 L382.0 392.1 L383.5 394.4 L383.6 394.5 L384.3 392.2 L384.4 389.5 L382.2 387.1 L380.9 384.5 L380.7 381.8 L382.1 379.0 L380.6 376.4 L381.0 373.7 L381.0 373.7 L378.3 374.4 L376.0 376.0ZM371.4 395.3 L373.9 396.3 L376.2 393.9 L378.7 396.0 L381.0 393.7 L383.5 395.0 L383.6 394.5 L383.5 394.4 L382.0 392.1 L379.9 390.7 L376.5 391.2 L375.0 389.0 L373.2 388.6 L373.5 390.0 L372.2 392.6ZM472.8 474.0 L470.4 474.9 L468.9 476.7 L467.6 478.9 L465.4 479.9 L464.4 482.4 L464.4 485.1 L463.3 487.5 L463.4 487.8 L472.5 491.0 L485.0 487.5 L485.9 487.0 L484.7 484.5 L484.5 481.6 L484.9 478.7 L483.7 476.0 L480.3 473.9 L477.8 475.0 L475.3 474.3ZM681.4 313.5 L683.7 312.6 L683.4 310.4 L684.2 308.1 L683.1 306.0 L680.6 305.4 L677.7 306.0 L675.6 304.0 L673.1 303.3 L671.3 304.9 L671.6 307.9 L669.5 309.4 L671.4 311.5 L671.6 314.2 L672.0 316.9 L674.7 317.2 L676.7 318.9 L677.6 316.4 L680.0 315.6ZM175.3 436.9 L171.9 438.1 L170.3 435.5 L167.3 435.9 L165.3 434.0 L163.1 432.7 L160.1 433.2 L160.1 435.0 L166.0 436.0 L160.0 445.0 L158.7 450.1 L159.0 450.4 L160.6 453.0 L164.0 452.8 L165.7 455.3 L168.5 455.9 L170.3 458.2 L170.4 458.2 L174.0 452.5 L174.2 453.2 L175.3 450.8 L177.6 449.1 L178.5 446.4 L179.9 444.2 L178.3 441.8 L177.1 439.2ZM269.1 462.4 L271.7 460.8 L273.8 458.6 L272.9 455.8 L273.3 452.9 L272.9 450.1 L270.4 449.0 L267.6 448.3 L265.8 445.9 L263.5 444.4 L262.3 447.3 L259.7 448.4 L257.3 449.8 L255.0 451.4 L255.0 454.3 L258.1 456.2 L258.5 459.0 L258.1 461.9 L259.3 464.4 L259.7 467.2 L261.7 467.4 L263.3 464.5 L265.6 462.6ZM380.7 381.8 L380.9 384.5 L382.2 387.1 L384.4 389.5 L384.3 392.2 L383.6 394.5 L384.1 395.1 L385.8 395.4 L387.5 396.9 L389.2 398.4 L391.1 395.9 L389.0 392.6 L391.2 390.1 L392.5 387.5 L392.8 384.6 L391.2 381.5 L392.7 378.9 L392.6 378.7 L390.6 377.0 L388.0 376.7 L386.3 374.3 L383.6 374.1 L381.0 373.7 L380.6 376.4 L382.1 379.0ZM275.5 409.5 L272.8 409.1 L270.1 408.8 L267.4 409.1 L266.3 411.9 L263.8 413.7 L266.0 415.3 L265.4 418.7 L267.0 420.7 L270.6 421.4 L270.6 421.5 L270.8 420.7 L276.4 421.8 L277.9 425.4 L280.6 427.0 L283.2 425.5 L286.1 421.6 L285.3 418.7 L283.4 416.1 L283.9 413.0 L283.5 410.1 L280.7 411.2 L278.1 410.7ZM466.4 421.0 L463.8 419.5 L461.5 421.1 L459.2 422.4 L457.0 424.3 L453.9 423.9 L453.9 426.6 L454.3 429.2 L456.0 431.1 L456.0 430.0 L469.2 426.0 L469.2 425.9 L468.3 423.1ZM373.7 381.3 L375.6 378.9 L376.0 376.0 L373.0 376.1 L370.8 378.0 L368.7 380.2 L365.2 380.5 L363.0 382.4 L360.5 384.0 L358.7 386.6 L361.4 387.3 L362.1 388.1 L363.1 387.9 L365.0 387.5 L367.5 388.0 L370.2 387.2 L372.5 388.4 L373.2 388.6 L372.9 386.9 L372.9 384.0ZM373.2 388.6 L372.5 388.4 L370.2 387.2 L367.5 388.0 L365.0 387.5 L363.1 387.9 L362.1 388.1 L363.1 389.3 L365.8 389.9 L366.3 393.6 L369.0 394.2 L371.2 395.5 L371.4 395.3 L372.2 392.6 L373.5 390.0ZM304.1 219.3 L306.4 220.7 L308.9 221.6 L309.8 222.6 L310.0 222.5 L309.3 220.5 L308.8 218.3 L307.7 216.5 L306.0 215.0 L307.5 212.5 L307.4 210.4 L306.4 211.4 L305.3 213.9 L305.7 216.9ZM315.9 225.2 L318.8 225.6 L320.2 226.9 L320.2 226.9 L319.1 224.9 L318.1 222.9 L317.2 220.8 L314.9 219.6 L314.0 217.5 L313.2 219.6 L310.7 220.3 L310.0 222.5 L309.8 222.6 L310.8 223.7 L313.0 225.1ZM303.2 248.8 L300.4 248.7 L299.6 251.1 L298.4 253.2 L296.6 254.9 L294.9 256.6 L297.6 256.4 L299.2 259.2 L301.3 260.6 L304.5 259.1 L306.5 260.8 L306.9 258.5 L307.5 256.3 L309.7 254.9 L310.3 252.6 L308.1 250.9 L305.4 250.5ZM268.8 783.3 L264.8 782.6 L263.4 785.7 L262.1 787.1 L262.5 787.5 L270.0 782.5 L269.7 782.2ZM385.3 439.8 L386.5 437.6 L386.7 436.5 L384.5 437.0 L384.8 439.8 L385.1 440.1ZM402.3 449.8 L404.7 451.5 L406.1 450.8 L406.8 447.8 L405.0 445.2 L403.8 442.4 L404.4 439.5 L405.5 436.5 L403.3 433.9 L403.4 431.0 L401.1 433.0 L397.7 431.5 L395.4 433.7 L392.3 433.4 L389.9 435.3 L387.3 436.4 L386.7 436.5 L386.5 437.6 L385.3 439.8 L385.1 440.1 L386.7 441.9 L386.7 442.0 L388.0 442.0 L400.0 450.0 L400.8 450.6ZM431.4 356.2 L430.8 354.3 L430.0 352.5 L432.4 352.3 L432.7 351.5 L429.2 351.7 L427.6 353.8 L429.0 356.6 L431.6 357.0ZM435.0 359.8 L435.9 357.6 L434.8 355.2 L435.8 353.0 L433.8 351.4 L432.7 351.5 L432.4 352.3 L430.0 352.5 L430.8 354.3 L431.4 356.2 L431.6 357.0 L432.6 357.1 L433.8 360.1ZM308.3 761.8 L308.8 763.9 L309.3 765.9 L308.8 767.8 L310.0 767.5 L317.5 760.0 L315.9 756.8 L313.0 756.9 L311.9 759.0 L309.2 759.6ZM431.5 453.9 L432.1 455.6 L433.6 454.6 L435.5 454.1 L436.2 452.8 L436.5 451.7 L436.6 451.5 L435.3 451.3 L432.7 451.6ZM446.5 450.2 L444.8 448.2 L442.2 448.2 L440.3 450.7 L438.0 451.7 L437.2 451.6 L436.0 454.0 L435.3 454.4 L435.5 454.1 L433.6 454.6 L432.1 455.6 L432.3 456.2 L432.4 458.5 L432.4 458.6 L436.9 458.3 L437.6 457.6 L440.0 458.0 L442.5 457.2 L444.9 457.8 L446.1 457.8 L444.9 455.6 L445.9 453.0ZM429.1 372.3 L427.3 372.6 L425.9 374.9 L426.8 377.1 L426.7 379.3 L426.7 380.3 L428.3 379.3 L430.0 377.5 L432.6 377.8 L433.7 375.7 L432.8 375.4 L430.6 374.6ZM437.0 381.2 L439.2 379.8 L437.7 376.2 L435.1 376.1 L433.7 375.7 L432.6 377.8 L430.0 377.5 L428.3 379.3 L426.7 380.3 L426.7 381.5 L429.0 382.8 L431.1 384.5 L433.2 386.1 L434.6 385.5 L436.1 383.5ZM326.4 353.6 L323.4 354.1 L324.7 356.6 L327.2 358.2 L327.3 361.7 L330.3 362.9 L332.6 361.3 L334.9 359.7 L337.3 358.4 L340.3 358.3 L342.6 356.6 L341.4 352.9 L338.2 352.7 L335.8 351.1 L334.4 347.8 L331.4 347.3 L329.8 349.5 L328.3 351.8ZM458.9 348.4 L459.1 350.6 L460.3 352.7 L462.6 352.0 L464.9 353.2 L467.2 352.9 L468.8 351.3 L470.4 349.7 L470.9 347.3 L469.6 345.6 L467.7 344.8 L467.3 344.6 L465.0 345.4 L462.5 345.0 L462.3 344.9 L461.3 346.1 L458.7 346.1ZM709.2 290.5 L712.3 290.4 L714.9 288.8 L717.7 287.7 L720.0 285.4 L723.8 287.2 L726.5 285.8 L729.1 284.3 L729.8 283.5 L730.0 282.5 L727.5 284.0 L726.3 282.4 L725.4 280.5 L724.0 279.0 L722.8 277.3 L720.9 276.2 L721.0 273.6 L719.0 272.5 L717.1 274.2 L714.1 273.3 L712.5 275.8 L710.0 276.0 L708.4 277.9 L707.0 280.1 L703.7 280.0 L702.5 282.5 L700.0 281.7 L697.4 281.7 L695.3 279.5 L692.5 280.0 L691.2 277.9 L689.3 277.9 L688.0 280.7 L690.2 282.8 L692.0 285.1 L693.5 287.9 L695.9 289.7 L698.8 291.0 L700.7 293.3 L703.6 292.5 L705.9 290.1ZM496.7 381.0 L497.7 383.8 L500.3 385.3 L502.8 386.9 L503.4 390.0 L505.4 392.0 L506.2 392.2 L507.3 391.5 L508.8 390.0 L510.3 389.3 L511.0 388.6 L511.4 384.1 L508.4 383.2 L506.0 381.6 L504.5 378.9 L503.3 375.9 L500.3 375.0 L499.6 377.3 L498.0 379.0ZM506.1 370.9 L509.0 372.1 L509.4 375.7 L511.9 377.3 L513.9 379.4 L516.1 377.5 L518.5 376.1 L518.4 371.2 L516.1 369.8 L513.7 368.4 L512.3 366.0 L510.3 367.7 L508.4 369.6ZM669.5 418.0 L668.3 420.0 L669.4 420.2 L671.4 421.5 L674.0 421.0 L675.9 419.3 L676.0 416.8 L677.5 415.0 L677.5 412.5 L679.2 410.7 L681.0 408.9 L680.8 407.3 L678.7 407.6 L676.4 410.0 L673.4 409.0 L672.4 409.6 L670.3 412.1 L671.6 415.5ZM657.3 414.2 L654.6 415.2 L657.7 416.0 L658.0 416.8 L658.3 416.8 L660.5 417.7 L662.8 417.9 L665.0 418.5 L667.1 419.8 L668.3 420.0 L669.5 418.0 L671.6 415.5 L670.3 412.1 L672.4 409.6 L669.9 409.4 L667.4 408.6 L664.7 409.5 L662.3 408.0 L659.8 409.1 L658.2 411.3ZM526.2 421.1 L527.9 418.8 L525.8 417.4 L523.5 416.4 L520.6 417.5 L518.8 415.4 L516.4 417.1 L515.1 419.8 L514.2 421.3 L517.5 421.0 L525.1 422.7ZM509.8 430.5 L510.1 433.6 L512.4 435.2 L513.4 437.8 L516.4 438.9 L516.7 439.9 L517.5 437.5 L512.5 429.0 L508.6 429.3ZM688.5 277.9 L686.8 276.4 L685.0 275.0 L683.8 277.5 L680.4 277.2 L678.6 278.9 L677.7 281.5 L679.3 282.3 L681.5 282.2 L683.8 281.8 L686.1 281.5 L688.0 280.7 L689.3 277.9ZM285.5 291.1 L287.2 293.5 L289.7 295.0 L292.3 296.3 L294.2 294.8 L296.4 293.7 L298.0 291.9 L298.5 288.9 L297.7 286.2 L296.8 283.4 L293.9 283.2 L291.6 281.9 L289.5 280.0 L287.7 282.0 L285.2 282.9 L284.2 285.6 L284.5 288.4ZM333.6 516.8 L336.5 516.1 L339.2 516.1 L340.6 513.9 L342.5 511.9 L343.9 509.6 L344.0 506.5 L345.7 504.4 L345.8 504.3 L334.0 506.0 L332.5 516.6ZM299.0 765.6 L299.7 763.0 L299.3 760.4 L297.1 760.3 L298.8 766.1ZM121.8 440.9 L120.5 438.3 L117.5 439.0 L109.0 442.5 L107.7 444.6 L107.1 447.1 L105.8 449.2 L104.0 451.0 L101.5 451.3 L102.6 453.9 L105.9 454.1 L107.7 456.3 L110.3 455.4 L112.1 453.0 L113.8 450.7 L117.4 451.2 L119.2 449.0 L119.3 446.1 L121.4 443.8ZM211.1 299.2 L208.4 299.0 L205.7 298.3 L203.6 299.2 L203.2 300.3 L203.7 303.4 L205.7 305.7 L207.2 308.3 L209.0 310.7 L211.4 309.8 L212.0 307.6 L214.1 306.2 L214.8 304.0 L213.5 302.5 L211.5 301.4ZM643.8 404.3 L642.2 406.5 L641.4 409.4 L638.4 410.4 L638.2 411.1 L640.1 411.5 L642.1 412.3 L644.2 412.7 L646.0 414.0 L645.4 411.4 L647.4 409.4 L647.2 406.8 L647.3 406.1 L647.1 406.0 L646.4 403.1ZM651.3 410.2 L650.1 407.5 L647.3 406.1 L647.2 406.8 L647.4 409.4 L645.4 411.4 L646.0 414.0 L647.9 414.7 L650.1 414.8 L652.0 415.3 L652.9 415.6 L654.1 415.2 L652.8 412.6ZM647.8 419.2 L650.7 418.8 L651.7 416.1 L652.9 415.6 L652.0 415.3 L650.1 414.8 L647.9 414.7 L646.0 414.0 L644.2 412.7 L642.1 412.3 L640.1 411.5 L638.2 411.1 L637.6 413.2 L640.2 414.4 L640.0 417.5 L640.7 420.0 L644.0 420.7 L644.4 423.4 L644.8 423.3 L647.4 422.5ZM221.0 162.2 L219.2 160.5 L217.0 160.0 L214.7 159.8 L212.5 161.4 L210.9 163.5 L213.5 165.1 L214.5 168.0 L216.8 169.7 L220.5 170.4 L220.4 167.6 L220.7 164.9ZM349.2 446.6 L347.9 449.2 L345.0 450.4 L345.8 452.7 L347.7 454.0 L350.1 454.4 L351.7 456.3 L354.2 454.3 L357.5 456.2 L359.0 454.0 L357.3 447.6 L349.6 445.7ZM412.2 348.1 L410.0 347.4 L407.7 348.3 L406.9 351.0 L406.6 353.8 L405.6 356.4 L408.3 356.5 L410.3 358.1 L412.1 359.9 L414.2 361.4 L416.5 362.2 L417.2 361.5 L417.9 359.0 L417.0 356.5 L416.4 354.0 L418.1 351.5 L417.2 349.1 L416.8 348.3 L414.5 346.9ZM329.1 283.8 L330.3 281.3 L328.8 278.7 L328.4 275.8 L329.1 272.5 L326.8 270.2 L322.6 270.1 L321.3 272.4 L318.8 273.9 L317.2 276.0 L315.0 277.7 L314.5 280.6 L315.9 280.5 L317.5 282.5 L318.9 284.1 L320.8 285.3 L322.1 287.1 L325.1 286.6 L325.6 287.9 L325.7 287.9 L328.1 286.4ZM325.1 286.6 L322.1 287.1 L320.8 285.3 L318.9 284.1 L317.5 282.5 L315.9 280.5 L314.5 280.6 L314.5 280.7 L312.5 282.6 L314.2 284.6 L314.7 287.1 L315.7 289.3 L317.9 289.7 L319.8 290.9 L321.8 291.8 L322.8 289.0 L325.6 287.9ZM283.4 416.1 L285.3 418.7 L286.1 421.6 L289.0 422.0 L292.1 421.0 L295.0 421.6 L297.9 422.4 L300.2 421.3 L302.4 420.1 L303.9 418.1 L305.2 415.8 L304.9 414.0 L302.9 412.3 L299.7 412.6 L297.0 411.3 L294.1 411.0 L291.6 408.7 L289.0 407.1 L285.8 407.6 L283.5 410.1 L283.9 413.0ZM356.0 470.0 L355.7 467.5 L357.7 466.0 L359.6 464.5 L358.4 461.7 L360.0 460.0 L362.6 459.7 L364.4 458.1 L365.1 456.1 L360.0 458.0 L359.0 454.0 L357.5 456.2 L354.2 454.3 L351.7 456.3 L350.4 459.1 L352.1 461.6 L352.8 464.2 L353.7 466.8 L351.6 469.6 L353.2 472.1 L355.8 471.3 L356.3 471.4ZM364.1 470.9 L366.6 471.6 L368.8 468.0 L368.6 467.4 L370.4 464.8 L368.7 462.2 L370.9 459.5 L369.3 456.9 L368.3 455.1 L368.0 455.0 L365.1 456.1 L364.4 458.1 L362.6 459.7 L360.0 460.0 L358.4 461.7 L359.6 464.5 L357.7 466.0 L355.7 467.5 L356.0 470.0 L356.3 471.4 L358.7 472.0 L361.5 472.1ZM162.8 390.6 L162.6 387.9 L164.3 384.7 L161.9 382.5 L162.6 379.5 L160.5 377.2 L160.4 374.4 L158.1 376.4 L155.6 377.7 L151.9 376.4 L149.7 378.4 L147.2 379.9 L147.7 382.6 L148.8 385.4 L147.6 388.2 L148.5 391.0 L148.3 393.8 L148.2 396.6 L149.5 399.3 L147.2 402.2 L147.2 402.4 L147.5 402.5 L150.0 401.8 L152.5 401.0 L155.3 400.7 L157.5 402.2 L160.0 402.2 L160.8 400.4 L164.2 400.6 L166.1 398.2 L166.9 395.3 L164.9 393.0ZM153.8 405.4 L156.0 403.6 L159.3 403.6 L160.0 402.2 L157.5 402.2 L155.3 400.7 L152.5 401.0 L150.0 401.8 L147.5 402.5 L147.2 402.4 L148.3 405.0 L151.0 405.5ZM431.2 418.4 L429.9 420.5 L428.0 422.1 L430.1 424.0 L429.9 427.0 L430.9 429.5 L434.1 430.8 L433.9 433.9 L437.3 433.8 L440.1 432.1 L439.9 428.7 L440.8 426.0 L444.1 424.6 L444.3 421.4 L445.7 419.0 L444.1 416.4 L440.5 416.8 L438.8 414.4 L436.3 413.1 L434.1 414.4 L433.7 417.4ZM153.7 472.9 L151.2 470.6 L152.4 468.3 L152.5 466.1 L151.5 466.7 L149.8 468.7 L150.1 471.2 L149.3 473.4 L149.9 476.0 L152.5 476.3 L152.5 475.2ZM340.3 338.2 L340.8 335.4 L341.6 332.7 L342.9 330.2 L341.5 327.8 L339.8 325.8 L337.9 323.9 L336.3 326.1 L336.6 329.1 L333.6 330.8 L333.0 333.4 L333.9 336.7 L331.5 338.6 L331.7 338.8 L334.5 338.5 L337.4 339.1ZM464.7 361.8 L461.3 362.6 L459.4 359.9 L456.5 359.4 L454.4 360.9 L453.1 363.0 L452.5 365.4 L453.5 368.1 L455.2 370.3 L456.9 372.5 L459.1 372.8 L461.3 372.2 L463.4 372.3 L467.0 370.0 L467.4 367.0 L466.8 364.0ZM600.0 372.5 L602.4 372.3 L604.6 371.7 L606.6 370.7 L606.9 370.4 L606.2 369.7 L603.5 369.4 L601.1 368.3 L598.1 369.3 L595.8 367.8 L595.9 370.7 L597.9 372.8ZM596.4 379.3 L596.8 382.2 L599.0 384.7 L598.5 386.5 L600.0 387.5 L602.5 387.4 L605.0 388.5 L605.3 388.3 L605.1 385.7 L605.5 382.9 L605.7 380.1 L608.0 377.5 L608.6 374.7 L608.3 371.8 L606.9 370.4 L606.6 370.7 L604.6 371.7 L602.4 372.3 L600.0 372.5 L597.9 372.8 L598.2 373.2 L597.0 376.3ZM303.0 307.8 L302.0 305.4 L297.2 306.5 L296.3 309.2 L294.6 311.6 L295.5 316.2 L296.7 318.5 L299.7 318.1 L301.3 319.8 L303.0 321.2 L304.1 319.1 L304.9 316.9 L306.3 314.9 L304.5 312.9 L304.7 309.9ZM655.1 299.7 L654.8 299.3 L652.5 300.2 L652.5 302.5 L650.4 302.9 L648.3 303.5 L646.1 303.3 L644.0 304.0 L641.5 304.9 L640.6 307.4 L639.3 309.3 L642.0 310.3 L642.7 313.1 L646.1 315.2 L648.9 315.9 L651.7 314.4 L654.5 315.3 L656.8 314.1 L657.5 311.9 L658.6 309.9 L659.3 307.6 L658.5 303.9 L656.6 302.0ZM275.2 753.2 L273.3 754.5 L272.5 755.5 L272.5 755.5 L272.3 757.9 L273.6 758.8 L275.7 755.3 L275.3 753.3ZM362.7 364.4 L362.3 367.3 L362.4 370.1 L364.6 371.8 L366.5 373.4 L368.5 374.6 L371.4 374.0 L373.0 376.1 L376.0 376.0 L378.3 374.4 L381.0 373.7 L381.5 371.4 L382.6 369.2 L381.9 366.8 L381.8 364.4 L379.8 362.1 L376.5 362.3 L374.8 359.4 L371.7 359.2 L369.1 358.3 L366.5 357.1 L364.2 355.5 L361.5 354.6 L358.4 358.1 L359.1 360.6 L360.6 362.6ZM210.8 210.9 L210.3 207.5 L211.7 205.3 L213.0 202.9 L214.5 202.0 L212.5 202.5 L212.0 204.8 L208.8 205.1 L209.1 208.0 L207.9 209.8 L207.8 209.8 L208.0 210.1 L208.9 212.9ZM456.4 387.8 L458.3 385.9 L458.0 383.4 L455.0 382.6 L455.3 379.6 L453.3 378.2 L451.2 378.9 L449.0 378.6 L446.9 379.0 L445.5 379.9 L445.6 382.4 L447.2 384.6 L448.5 386.8 L447.8 389.5 L450.7 391.4 L452.3 391.4 L454.3 389.5ZM230.9 421.5 L229.8 422.0 L230.0 422.5 L231.9 421.9 L233.9 421.7 L235.4 419.8 L237.2 420.0 L237.0 419.9 L236.9 416.7 L235.1 418.7 L232.4 419.2ZM226.1 424.9 L226.9 427.7 L228.9 429.7 L232.0 430.9 L232.8 433.7 L234.1 436.1 L236.0 438.3 L238.5 437.0 L240.7 434.9 L243.8 434.8 L246.5 434.1 L246.0 431.2 L244.3 428.9 L243.4 426.1 L239.8 424.8 L239.8 421.6 L237.2 420.0 L235.4 419.8 L233.9 421.7 L231.9 421.9 L230.0 422.5 L229.8 422.0 L228.5 422.5 L226.1 423.5ZM298.7 368.8 L299.7 366.2 L299.2 363.8 L296.3 363.5 L293.9 361.9 L292.1 362.9 L290.0 363.0 L288.2 364.0 L287.6 366.4 L288.2 368.8 L287.3 371.2 L288.2 373.6 L288.3 376.0 L290.8 377.1 L293.3 375.4 L295.7 375.6 L298.2 374.5 L300.7 376.0 L299.5 373.7 L298.9 371.3ZM275.0 327.5 L275.0 327.5 L275.1 325.1 L272.3 323.9 L272.0 321.8 L273.1 319.0 L271.0 317.5 L268.7 318.3 L266.3 317.4 L265.1 317.5 L266.4 319.9 L264.3 323.0 L266.7 325.5 L266.7 328.4 L269.2 329.7 L272.1 329.6 L274.0 327.6ZM279.7 314.0 L277.1 315.8 L274.3 315.2 L273.8 315.0 L272.2 315.4 L271.0 317.5 L273.1 319.0 L272.0 321.8 L272.3 323.9 L275.1 325.1 L275.0 327.5 L275.0 327.5 L276.8 327.3 L277.4 327.1 L274.0 316.0 L280.4 316.0ZM266.0 315.7 L265.0 317.2 L265.1 317.5 L266.3 317.4 L268.7 318.3 L271.0 317.5 L272.2 315.4 L273.8 315.0 L271.3 314.2 L268.7 315.5ZM686.1 343.9 L682.5 346.0 L680.4 347.1 L680.4 347.4 L677.4 349.2 L676.9 352.0 L676.3 353.5 L677.0 352.7 L678.4 350.3 L680.0 348.4 L682.5 347.5 L684.9 346.9 L686.9 349.0 L689.1 349.6 L690.6 348.8 L691.2 346.3 L692.3 343.7 L689.8 344.5 L687.4 345.4ZM679.1 358.6 L679.3 361.6 L681.1 363.5 L683.5 364.9 L685.3 363.4 L687.7 363.8 L689.7 362.9 L690.5 360.2 L691.1 357.5 L691.6 354.8 L692.7 352.1 L690.6 349.1 L690.6 348.8 L689.1 349.6 L686.9 349.0 L684.9 346.9 L682.5 347.5 L680.0 348.4 L678.4 350.3 L677.0 352.7 L676.3 353.5 L675.9 354.6 L678.1 356.2ZM113.7 373.2 L112.0 370.8 L109.9 368.5 L108.7 365.8 L108.5 362.8 L109.1 359.5 L107.6 357.0 L107.0 354.1 L105.5 351.6 L105.3 348.6 L103.3 346.2 L103.0 343.2 L101.9 340.6 L99.7 338.3 L97.9 336.1 L95.3 334.8 L92.8 333.4 L91.7 331.4 L91.1 331.7 L88.6 332.7 L87.5 335.0 L87.6 337.5 L85.2 339.2 L86.2 341.9 L85.0 344.0 L86.2 346.1 L88.3 347.4 L90.0 349.0 L92.3 348.6 L94.5 349.8 L96.8 349.6 L99.0 350.0 L101.0 351.6 L99.8 354.2 L101.9 355.7 L101.5 358.1 L102.5 360.0 L102.2 362.6 L102.5 365.3 L99.6 367.2 L100.0 370.0 L102.0 370.5 L103.4 371.9 L105.0 373.0 L107.1 373.9 L109.4 374.2 L110.9 376.3 L113.0 377.0 L114.0 379.0 L114.3 381.2 L113.7 383.6 L114.2 383.9 L114.2 383.6 L115.2 378.9 L114.0 376.2ZM706.9 305.2 L709.5 306.9 L713.1 305.8 L715.6 307.7 L718.2 309.1 L720.9 310.4 L724.3 309.8 L726.7 312.1 L729.5 313.0 L731.6 310.9 L733.2 308.3 L736.3 307.3 L738.4 305.2 L740.6 303.2 L743.4 302.0 L743.1 301.8 L740.3 302.3 L738.5 300.2 L736.0 300.0 L733.8 299.5 L731.6 299.1 L729.4 298.7 L727.2 299.0 L725.0 300.0 L727.2 298.6 L728.1 296.4 L728.5 294.0 L730.8 292.6 L731.0 290.0 L731.1 287.4 L729.5 285.1 L729.8 283.5 L729.1 284.3 L726.5 285.8 L723.8 287.2 L720.0 285.4 L717.7 287.7 L714.9 288.8 L712.3 290.4 L709.2 290.5 L705.9 290.1 L703.6 292.5 L700.7 293.3 L700.3 296.1 L699.8 299.0 L701.2 301.7 L701.6 302.6 L703.9 304.8ZM304.0 388.9 L303.2 386.1 L304.0 383.1 L302.6 380.5 L299.9 381.5 L297.1 381.7 L297.6 382.3 L297.3 384.9 L296.0 387.7 L297.5 390.0 L297.3 391.8 L298.6 391.3 L301.5 390.8ZM292.8 392.2 L295.9 392.2 L297.3 391.8 L297.5 390.0 L296.0 387.7 L297.3 384.9 L297.6 382.3 L297.1 381.7 L296.8 381.7 L295.4 385.3 L292.5 385.9 L289.8 387.0 L291.2 388.5 L292.5 390.1ZM404.7 451.5 L402.3 449.8 L400.8 450.6 L403.8 452.8ZM308.9 753.3 L310.6 755.5 L313.0 756.9 L315.9 756.8 L312.5 750.0 L306.9 751.1 L307.1 751.3ZM256.3 417.7 L257.9 421.1 L256.9 423.8 L254.4 426.2 L255.7 429.5 L253.7 432.0 L256.8 432.3 L258.5 434.5 L261.0 435.6 L262.9 437.7 L265.4 437.2 L266.7 435.2 L268.4 433.7 L269.0 433.0 L268.5 432.0 L270.0 424.6 L270.0 422.5 L270.4 422.5 L270.6 421.5 L270.6 421.4 L267.0 420.7 L265.4 418.7 L266.0 415.3 L263.8 413.7 L261.1 415.0 L258.0 415.1ZM106.8 467.6 L108.6 465.8 L109.6 463.5 L109.2 461.1 L109.3 458.5 L107.7 456.3 L105.9 454.1 L102.6 453.9 L101.5 451.3 L101.4 451.3 L99.4 453.0 L97.2 454.3 L94.2 453.7 L92.5 456.0 L90.4 456.6 L88.4 457.5 L86.7 458.8 L84.4 459.0 L82.5 460.0 L80.3 459.3 L78.2 458.2 L76.0 457.5 L74.1 459.1 L72.5 461.0 L74.0 463.1 L75.1 465.4 L76.5 467.6 L77.5 470.0 L78.5 472.6 L81.8 472.9 L81.9 476.3 L84.7 476.6 L85.0 476.5 L87.8 474.9 L90.7 474.1 L93.5 472.8 L96.4 472.4 L99.3 472.4 L102.3 473.5 L103.3 471.2 L104.2 468.8ZM255.8 780.8 L262.1 787.1 L263.4 785.7 L264.8 782.6 L268.8 783.3 L269.7 782.2 L265.0 777.5 L256.0 779.8ZM627.1 420.4 L627.3 419.9 L627.2 419.6 L627.8 419.1 L628.6 417.5 L627.7 415.4 L626.5 416.1 L623.7 414.9 L620.9 415.3 L618.1 414.1 L615.4 414.1 L614.2 414.6 L614.0 415.0 L613.1 415.5 L615.2 416.5 L616.7 419.1 L618.3 421.3 L620.9 422.6 L622.3 425.1 L626.0 425.0 L626.7 426.6 L626.9 426.4 L628.4 424.6 L628.7 422.5 L628.2 421.6ZM627.7 415.4 L628.6 417.5 L627.8 419.1 L630.2 417.3 L629.2 414.4ZM690.7 303.2 L693.1 302.0 L696.4 304.4 L698.8 302.9 L701.2 301.7 L699.8 299.0 L700.3 296.1 L700.7 293.3 L698.8 291.0 L695.9 289.7 L693.5 287.9 L692.0 285.1 L690.2 282.8 L688.0 280.7 L686.1 281.5 L685.9 284.2 L686.8 287.1 L684.2 289.5 L685.2 292.4 L684.4 295.0 L683.7 297.7 L684.1 300.5 L684.0 303.2 L683.1 305.9 L685.7 305.4 L688.6 306.2ZM285.4 400.0 L282.1 399.3 L280.8 396.6 L278.8 394.6 L277.4 392.1 L275.0 393.7 L272.2 393.8 L269.4 393.7 L266.8 394.3 L265.8 397.3 L265.6 400.3 L267.8 403.1 L268.4 406.1 L267.4 409.1 L270.1 408.8 L272.8 409.1 L275.5 409.5 L278.1 410.7 L280.7 411.2 L283.5 410.1 L285.8 407.6 L286.7 404.9 L287.1 402.2ZM246.6 247.4 L249.4 249.7 L253.6 248.0 L256.2 244.3 L254.8 241.8 L254.8 239.0 L252.4 238.9 L250.1 238.1 L247.7 238.7 L248.2 241.7 L246.3 244.4ZM275.3 753.3 L275.7 755.3 L278.2 754.9 L280.6 756.2 L283.1 755.4 L285.4 753.9 L285.7 751.0 L280.0 750.0 L275.2 753.2ZM171.3 411.0 L171.6 411.3 L173.6 412.9 L175.0 415.0 L175.0 415.0 L175.0 415.0 L177.0 413.1 L178.6 408.4 L175.5 408.4 L173.7 411.7ZM165.7 414.7 L162.4 413.8 L159.9 415.1 L158.4 417.3 L158.7 419.8 L159.1 422.3 L158.5 424.7 L160.7 426.7 L162.2 429.3 L164.8 428.0 L167.1 426.3 L167.5 423.0 L170.0 421.6 L171.4 419.1 L172.3 416.2 L175.0 415.0 L175.0 415.0 L173.6 412.9 L171.6 411.3 L171.3 411.0 L170.3 410.7 L168.0 412.6ZM255.9 262.9 L254.7 265.2 L255.7 268.4 L254.2 270.5 L252.2 272.4 L254.6 273.1 L256.8 274.5 L259.5 274.6 L261.6 276.0 L264.0 273.8 L265.0 271.0 L266.3 268.3 L266.2 265.0 L263.7 264.0 L261.9 262.4 L260.0 260.9 L259.2 258.3 L258.5 258.6 L257.9 261.1ZM426.3 391.3 L425.6 394.0 L425.1 397.3 L428.2 397.2 L429.6 400.4 L432.6 400.4 L434.7 402.1 L437.1 403.2 L438.5 401.7 L437.8 399.2 L436.4 397.1 L435.4 394.7 L433.6 392.7 L432.9 390.3 L432.6 387.7 L431.4 389.9 L428.2 389.9ZM138.4 380.9 L135.5 380.7 L132.6 380.3 L129.7 380.2 L126.8 380.5 L123.9 378.9 L121.0 377.8 L118.1 377.8 L115.2 378.9 L114.2 383.6 L114.9 384.4 L116.2 385.2 L116.1 385.7 L116.1 385.7 L118.8 387.1 L119.7 390.2 L121.0 392.9 L123.3 394.6 L125.3 396.6 L128.1 397.9 L130.2 399.8 L132.2 400.9 L132.5 400.9 L135.1 399.4 L137.5 401.0 L140.0 401.2 L142.5 400.2 L145.0 401.7 L147.2 402.4 L147.2 402.2 L149.5 399.3 L148.2 396.6 L148.3 393.8 L148.5 391.0 L147.6 388.2 L148.8 385.4 L147.7 382.6 L147.2 379.9 L144.3 378.6 L141.3 380.6ZM136.1 406.0 L138.9 405.5 L141.8 405.3 L144.7 406.3 L147.6 405.5 L148.3 405.0 L147.2 402.4 L145.0 401.7 L142.5 400.2 L140.0 401.2 L137.5 401.0 L135.1 399.4 L132.5 400.9 L132.2 400.9 L132.8 401.3 L132.9 405.1ZM421.9 339.4 L419.8 337.2 L418.3 339.4 L418.4 342.0 L418.8 344.7 L417.8 347.0 L420.2 347.3 L422.7 346.6 L425.2 347.6 L427.6 346.3 L429.7 344.1 L430.2 341.0 L429.9 340.6 L427.6 339.1 L424.9 338.7ZM442.1 391.1 L440.3 393.3 L440.6 396.0 L440.0 398.4 L439.9 401.0 L442.7 401.8 L445.5 400.8 L446.4 398.2 L447.8 395.9 L449.9 394.0 L450.7 391.4 L447.8 389.5 L444.9 389.9ZM213.8 297.7 L211.1 299.2 L211.5 301.4 L213.5 302.5 L214.8 304.0 L217.0 302.8 L219.3 302.3 L221.8 302.5 L223.1 300.1 L222.0 297.6 L220.8 295.1 L222.0 292.7 L217.7 290.2 L216.0 292.5 L214.5 294.8ZM259.4 220.1 L256.8 219.1 L254.5 219.6 L252.0 223.6 L253.8 225.4 L253.7 228.5 L255.7 230.1 L258.3 231.3 L259.3 233.6 L263.5 233.8 L265.2 231.4 L268.5 230.8 L269.8 228.0 L268.2 225.7 L267.8 223.1 L268.0 220.2 L266.5 218.0 L264.1 218.5 L261.5 217.3ZM189.9 492.3 L191.0 494.1 L191.5 492.0 L189.6 490.6 L187.0 488.5 L186.6 488.7 L187.7 490.5ZM244.0 323.3 L243.2 320.6 L241.6 318.6 L238.6 318.4 L237.3 316.0 L235.6 318.7 L232.0 318.3 L229.3 319.4 L227.1 321.3 L225.2 323.5 L223.7 326.4 L220.5 326.7 L219.2 329.1 L220.4 331.6 L219.6 334.0 L221.9 336.4 L220.6 338.9 L223.0 337.1 L225.7 336.3 L228.3 335.3 L231.0 334.7 L234.5 336.3 L236.3 332.7 L239.5 333.6 L242.1 332.5 L244.7 331.6 L243.8 328.9 L242.8 326.2ZM250.6 207.3 L253.5 206.2 L254.4 203.5 L255.7 201.0 L257.5 199.0 L256.2 196.3 L252.8 196.8 L250.3 195.9 L249.2 193.0 L246.2 192.9 L244.7 190.5 L242.1 191.0 L239.5 191.5 L237.2 193.0 L235.9 197.5 L238.5 199.1 L237.5 202.7 L239.4 204.7 L241.1 206.8 L242.9 207.8 L245.4 206.7 L248.0 206.6ZM305.3 376.7 L303.1 378.5 L302.6 380.5 L304.0 383.1 L303.2 386.1 L304.0 388.9 L305.8 391.0 L306.6 390.8 L306.6 390.7 L306.2 388.2 L307.3 386.2 L309.4 384.6 L308.9 382.0 L310.0 380.0 L312.2 380.6 L314.2 381.6 L314.9 382.0 L314.9 381.4 L312.9 378.9 L313.1 375.8 L310.9 377.5 L308.5 378.6ZM312.8 387.0 L315.8 387.2 L314.9 384.4 L314.9 382.0 L314.2 381.6 L312.2 380.6 L310.0 380.0 L308.9 382.0 L309.4 384.6 L307.3 386.2 L306.2 388.2 L306.6 390.7 L306.6 390.8 L308.3 390.3 L311.1 389.9ZM357.7 487.2 L354.6 486.7 L354.2 489.4 L352.3 491.6 L353.6 494.8 L352.3 497.2 L350.8 499.6 L353.3 500.4 L355.3 502.7 L357.1 503.7 L356.0 496.0 L358.9 486.4ZM253.8 471.6 L255.0 474.6 L254.7 477.2 L252.2 479.2 L252.0 481.9 L252.1 484.6 L251.2 487.0 L252.8 488.8 L257.5 486.0 L258.9 484.2 L259.1 484.2 L261.5 481.5 L261.4 480.4 L262.6 480.2 L265.0 477.5 L269.0 476.9 L267.9 475.7 L267.0 473.1 L265.4 471.1 L263.4 469.3 L261.7 467.4 L259.7 467.2 L255.7 469.4ZM398.3 322.1 L397.0 320.1 L394.9 320.4 L393.0 318.9 L391.5 317.2 L389.9 318.7 L386.5 317.7 L384.9 320.2 L382.8 321.8 L380.1 322.0 L381.2 324.5 L382.1 327.1 L384.9 327.3 L387.9 327.0 L390.5 328.1 L392.8 330.5 L395.8 330.0 L398.2 327.7 L396.4 325.2ZM664.0 363.7 L664.5 365.2 L667.0 366.5 L667.8 367.2 L669.3 365.8 L668.5 363.1 L669.4 361.0 L669.6 358.7 L671.5 357.0 L672.0 356.1 L670.6 356.4 L667.8 356.5 L666.3 358.8 L665.5 361.5ZM673.8 371.2 L676.1 369.9 L678.7 369.6 L681.2 369.6 L681.6 366.9 L683.5 364.9 L681.1 363.5 L679.3 361.6 L679.1 358.6 L678.1 356.2 L675.9 354.6 L673.3 355.8 L672.0 356.1 L671.5 357.0 L669.6 358.7 L669.4 361.0 L668.5 363.1 L669.3 365.8 L667.8 367.2 L669.1 368.3 L671.3 370.1ZM176.6 416.0 L176.5 418.8 L177.0 420.4 L178.3 421.5 L180.0 423.4 L181.5 425.2 L182.5 427.5 L183.9 428.6 L185.7 426.8 L187.5 424.7 L190.1 423.8 L192.8 422.9 L194.1 420.2 L196.8 419.3 L194.8 417.1 L192.5 415.4 L190.1 413.7 L189.0 410.7 L186.1 409.6 L184.2 407.3 L181.4 406.2 L179.7 406.7 L178.6 408.4 L177.0 413.1ZM179.5 426.8 L178.5 429.8 L179.9 432.4 L182.2 430.9 L183.8 428.7 L183.9 428.6 L182.5 427.5 L181.5 425.2 L180.0 423.4 L178.3 421.5 L177.0 420.4 L177.3 421.5 L178.2 424.2ZM410.3 338.0 L407.1 339.5 L405.1 341.6 L405.1 344.8 L407.7 348.3 L410.0 347.4 L412.2 348.1 L414.5 346.9 L416.8 348.3 L417.8 347.0 L418.8 344.7 L418.4 342.0 L418.3 339.4 L419.8 337.2 L418.5 335.4 L418.4 333.1 L417.0 331.4 L412.8 329.8 L412.7 332.9 L410.9 335.1ZM649.5 340.0 L647.5 340.2 L644.9 340.8 L642.6 338.3 L641.8 338.2 L641.5 338.6 L642.5 341.6 L640.4 343.8 L639.9 346.5 L640.1 349.3 L642.5 348.5 L644.9 348.1 L647.3 349.2 L649.7 349.0 L650.7 346.7 L651.2 343.7 L649.8 341.1ZM645.2 336.7 L643.2 336.2 L641.8 338.2 L642.6 338.3 L644.9 340.8 L647.5 340.2 L649.5 340.0 L649.0 338.4 L647.1 337.5ZM497.5 358.8 L500.0 356.2 L499.5 353.4 L498.7 350.8 L498.2 350.4 L497.5 351.0 L495.0 351.1 L492.5 349.8 L490.0 351.3 L488.4 350.5 L488.4 352.8 L488.1 355.9 L489.3 358.6 L492.0 358.8 L494.8 358.3ZM278.7 232.3 L278.1 234.9 L279.1 237.2 L281.1 238.2 L281.1 237.6 L281.0 235.0 L281.7 232.9 L283.2 231.4 L283.3 229.0 L285.0 227.5 L287.4 226.5 L288.5 225.6 L287.1 224.7 L284.6 226.1 L282.1 226.2 L279.8 227.9 L277.9 230.0ZM287.5 239.7 L290.0 238.0 L291.5 235.6 L293.1 233.2 L293.6 230.1 L296.9 228.8 L297.2 225.6 L294.8 227.0 L292.2 227.3 L289.7 226.5 L288.5 225.6 L287.4 226.5 L285.0 227.5 L283.3 229.0 L283.2 231.4 L281.7 232.9 L281.0 235.0 L281.1 237.6 L281.1 238.2 L281.8 238.5 L285.0 238.0ZM616.2 377.0 L614.8 374.8 L613.0 373.0 L611.3 371.1 L608.3 371.8 L608.6 374.7 L608.0 377.5 L605.7 380.1 L605.5 382.9 L605.1 385.7 L605.3 388.3 L607.5 387.1 L610.0 388.2 L612.5 385.9 L615.0 388.1 L617.5 387.8 L620.0 387.3 L621.7 386.2 L621.9 382.1 L619.0 381.3 L617.7 379.1ZM418.0 414.5 L418.0 415.3 L418.8 417.2 L418.8 417.3 L420.6 419.3 L421.1 420.7 L422.0 421.1 L422.5 421.5 L423.7 421.1 L425.9 421.1 L428.0 422.1 L429.9 420.5 L431.2 418.4 L433.7 417.4 L434.1 414.4 L436.3 413.1 L435.7 411.5 L433.4 409.9 L430.6 411.0 L428.4 408.6 L425.7 409.1 L423.2 408.6 L420.7 408.4 L419.1 410.3 L419.1 412.8ZM279.7 314.0 L280.9 310.3 L279.5 307.9 L276.1 308.7 L275.6 308.1 L275.2 310.0 L276.0 312.5 L275.0 314.8 L273.8 315.0 L274.3 315.2 L277.1 315.8ZM273.8 315.0 L275.0 314.8 L276.0 312.5 L275.2 310.0 L275.6 308.1 L274.5 306.5 L272.3 305.4 L270.5 303.6 L268.1 304.8 L268.4 307.7 L266.6 309.3 L265.4 311.2 L266.0 315.7 L268.7 315.5 L271.3 314.2ZM364.2 413.0 L366.2 410.8 L369.0 409.4 L371.4 407.6 L373.5 405.5 L374.1 402.9 L372.8 400.9 L371.9 398.8 L370.7 396.7 L367.7 397.1 L365.5 399.1 L363.2 400.9 L362.0 403.4 L361.8 406.3 L359.7 408.6 L361.0 411.8 L359.7 414.4 L358.9 417.0 L359.0 417.4 L360.5 417.7 L362.1 415.9 L361.8 414.0 L363.9 413.5ZM386.5 317.7 L389.9 318.7 L391.5 317.2 L391.2 316.9 L389.0 316.1 L386.8 315.5 L384.6 314.7 L382.3 314.4 L380.0 314.0 L377.2 313.8 L375.4 312.8 L375.4 312.8 L376.3 315.7 L375.5 318.4 L377.9 320.1 L380.1 322.0 L382.8 321.8 L384.9 320.2ZM248.1 486.5 L246.5 487.5 L247.2 489.4 L249.0 491.0 L252.8 488.8 L251.2 487.0ZM411.9 414.6 L409.0 415.9 L409.0 418.1 L410.1 417.8 L412.0 419.0 L414.3 418.6 L416.0 417.1 L418.0 416.0 L418.0 415.3 L417.8 414.8 L414.9 415.4ZM410.7 429.4 L413.5 429.6 L416.2 430.4 L416.8 427.8 L419.6 426.5 L421.0 424.5 L421.6 421.8 L421.1 420.7 L419.7 420.1 L419.1 417.8 L418.8 417.3 L418.8 417.3 L418.8 417.2 L418.0 416.0 L416.0 417.1 L414.3 418.6 L412.0 419.0 L410.1 417.8 L409.0 418.1 L408.9 418.8 L405.3 419.8 L404.1 422.0 L404.2 425.0 L405.2 428.3 L408.0 428.6ZM419.1 417.8 L419.7 420.1 L421.1 420.7 L420.6 419.3 L418.8 417.3ZM609.1 436.0 L608.6 432.6 L606.0 431.2 L605.6 431.4 L606.2 433.2 L607.5 435.0 L608.1 437.3 L609.9 439.2 L609.9 441.6 L610.0 444.0 L612.2 443.6 L613.3 441.9 L613.8 439.3 L612.7 436.4ZM251.4 745.3 L251.5 742.9 L251.8 740.6 L250.0 740.0 L250.0 747.6ZM522.4 378.5 L523.7 379.0 L524.1 378.6 L525.4 377.0 L526.0 375.0 L526.1 372.7 L523.9 371.4 L523.1 369.5 L522.5 367.6 L522.0 367.8 L519.9 369.1 L518.4 371.2 L518.5 376.1 L520.9 376.5ZM528.3 375.7 L531.0 375.2 L531.3 374.9 L529.9 374.1 L530.3 371.7 L529.0 370.0 L528.7 367.9 L526.4 368.0 L524.3 367.0 L522.5 367.6 L523.1 369.5 L523.9 371.4 L526.1 372.7 L526.0 375.0 L525.4 377.0 L524.1 378.6 L523.7 379.0 L524.6 379.3 L527.2 378.5ZM115.4 467.4 L118.0 466.9 L120.6 467.2 L123.0 466.7 L124.6 463.6 L127.3 464.4 L129.5 463.5 L128.7 460.8 L129.1 458.0 L126.3 457.2 L124.2 455.5 L122.6 453.3 L122.2 449.8 L119.2 449.0 L117.4 451.2 L113.8 450.7 L112.1 453.0 L110.3 455.4 L107.7 456.3 L109.3 458.5 L109.2 461.1 L109.6 463.5 L111.8 464.0 L113.8 465.4ZM288.9 311.1 L286.5 309.2 L283.8 308.6 L282.0 309.0 L280.9 310.3 L279.7 314.0 L280.4 316.0 L282.5 316.0 L283.6 322.2 L285.8 320.6 L288.6 320.3 L291.0 319.2 L293.7 318.6 L295.5 316.2 L294.6 311.6 L291.9 311.0ZM279.4 215.8 L280.6 218.2 L279.2 221.4 L281.0 223.7 L282.1 226.2 L284.6 226.1 L287.1 224.7 L288.5 225.6 L289.6 224.7 L292.5 225.3 L295.2 225.4 L297.5 224.0 L299.9 222.9 L301.1 221.1 L299.3 218.5 L296.8 216.9 L294.3 215.4 L291.6 214.0 L289.3 212.0 L286.3 211.2 L283.1 210.6 L281.5 207.6 L277.1 208.0 L277.7 210.7 L279.4 213.0ZM294.8 227.0 L297.2 225.6 L298.3 225.2 L299.9 222.9 L297.5 224.0 L295.2 225.4 L292.5 225.3 L289.6 224.7 L288.5 225.6 L289.7 226.5 L292.2 227.3ZM255.0 451.4 L257.3 449.8 L259.7 448.4 L262.3 447.3 L263.5 444.4 L263.4 442.2 L262.5 440.0 L262.9 437.7 L261.0 435.6 L258.5 434.5 L256.8 432.3 L253.7 432.0 L251.8 433.8 L249.1 433.4 L246.8 434.2 L248.2 436.7 L248.2 439.3 L246.4 442.2 L247.0 444.8 L247.4 447.4 L249.0 449.8 L251.2 449.7 L252.8 451.8ZM461.0 410.3 L459.0 408.3 L456.7 407.0 L453.9 406.8 L451.6 408.8 L451.0 411.8 L450.5 415.0 L446.5 415.9 L446.0 419.0 L448.2 419.9 L449.7 421.8 L451.8 422.9 L453.9 423.9 L457.0 424.3 L459.2 422.4 L461.5 421.1 L463.8 419.5 L465.2 417.4 L464.6 414.7 L466.2 412.7 L465.9 412.1 L463.9 410.2ZM399.6 398.6 L397.5 397.6 L395.2 399.3 L392.4 398.4 L391.8 398.6 L391.9 398.6 L393.2 401.4 L395.5 401.6 L397.9 401.8 L400.0 402.5 L400.4 404.7 L401.4 406.9 L400.3 409.4 L400.4 410.8 L400.4 410.8 L402.7 409.7 L405.2 409.2 L406.0 407.0 L406.6 404.7 L406.8 402.4 L406.4 401.0 L404.1 400.3 L402.0 399.0ZM391.4 404.7 L394.7 406.3 L394.2 409.6 L395.5 412.0 L398.2 412.5 L400.4 410.8 L400.3 409.4 L401.4 406.9 L400.4 404.7 L400.0 402.5 L397.9 401.8 L395.5 401.6 L393.2 401.4 L391.9 398.6 L391.8 398.6 L389.9 399.3 L390.6 402.0ZM569.4 374.2 L569.9 376.5 L570.0 378.8 L570.0 381.0 L570.1 379.0 L571.1 377.1 L571.0 375.0 L572.2 373.2 L572.2 373.1 L571.6 373.8 L569.2 373.3ZM579.1 377.6 L579.5 374.4 L578.0 371.8 L576.8 371.2 L573.9 371.1 L572.2 373.1 L572.2 373.2 L571.0 375.0 L571.1 377.1 L570.1 379.0 L570.0 381.0 L571.5 383.2 L573.6 384.0 L576.2 383.5 L578.8 383.2 L579.2 384.1 L580.8 383.3 L579.7 380.5ZM306.1 768.3 L303.6 768.7 L300.9 768.7 L299.9 769.7 L300.0 770.0 L307.2 768.2ZM298.9 770.8 L298.0 771.7 L299.1 773.5 L300.0 770.0 L299.6 770.1ZM257.9 294.5 L255.2 295.0 L254.8 295.9 L255.4 300.2 L258.1 301.8 L259.6 304.4 L261.9 306.3 L263.6 308.8 L265.4 311.2 L266.6 309.3 L268.4 307.7 L268.1 304.8 L270.5 303.6 L270.2 298.7 L269.0 296.7 L267.0 295.4 L265.7 293.5 L262.7 293.4 L259.8 292.4ZM344.1 418.0 L341.4 418.1 L338.8 419.9 L336.1 419.6 L334.7 421.0 L334.1 423.7 L334.2 425.6 L334.8 423.0 L335.1 422.9 L335.0 422.5 L340.4 420.7 L345.9 418.5ZM350.6 432.1 L353.4 432.5 L354.2 429.7 L354.3 427.6 L348.5 428.4 L349.0 431.8ZM354.3 423.8 L356.2 421.6 L353.1 423.8 L354.3 426.1ZM321.2 172.0 L322.0 170.0 L321.5 168.0 L321.0 166.0 L321.0 172.1 L321.2 172.2ZM315.9 161.8 L314.1 160.7 L312.4 159.3 L310.0 159.0 L317.6 163.8 L317.4 163.6ZM311.9 147.9 L311.0 146.0 L310.0 146.0 L312.6 151.2 L312.8 149.9ZM644.3 456.6 L641.3 455.9 L639.5 453.2 L636.5 452.5 L634.8 453.2 L636.0 455.0 L634.9 457.3 L634.6 459.7 L635.2 462.0 L636.6 464.3 L636.5 466.7 L636.0 469.0 L637.7 467.1 L640.0 466.0 L641.4 467.2 L643.0 468.3 L644.0 470.0 L645.0 468.0 L646.5 466.5 L648.5 465.5 L650.0 464.0 L650.1 462.5 L648.4 461.1 L646.3 458.9ZM166.4 279.5 L165.3 281.9 L163.9 284.0 L162.5 286.0 L161.1 288.2 L159.4 290.0 L157.1 291.1 L155.0 292.5 L152.5 293.8 L151.2 295.9 L149.9 298.0 L150.0 301.3 L147.5 302.5 L145.9 304.2 L146.0 305.5 L147.7 305.7 L150.7 304.6 L153.1 302.9 L154.6 300.3 L155.9 297.6 L159.4 296.9 L161.3 294.8 L162.0 291.4 L163.4 288.9 L166.7 287.9 L168.2 285.4 L169.1 281.3 L168.5 279.1ZM172.6 403.0 L171.0 400.6 L167.7 400.8 L166.1 398.2 L164.2 400.6 L160.8 400.4 L160.0 402.2 L160.2 402.2 L162.6 403.2 L165.2 403.6 L167.5 405.0 L168.1 407.6 L170.0 409.4 L171.3 411.0 L173.7 411.7 L175.5 408.4 L178.6 408.4 L179.7 406.7 L177.0 406.1 L174.7 404.7ZM153.8 405.4 L154.5 408.4 L155.7 411.0 L158.0 412.9 L159.9 415.1 L162.4 413.8 L165.7 414.7 L168.0 412.6 L170.3 410.7 L171.3 411.0 L170.0 409.4 L168.1 407.6 L167.5 405.0 L165.2 403.6 L162.6 403.2 L160.2 402.2 L160.0 402.2 L159.3 403.6 L156.0 403.6ZM210.4 216.1 L210.3 216.0 L208.8 218.4 L207.1 220.7 L205.3 221.2 L205.0 222.7 L206.0 225.0 L205.4 227.6 L203.5 229.4 L201.8 231.3 L200.6 233.5 L198.2 234.9 L197.5 237.5 L195.1 238.9 L195.3 240.0 L196.7 240.6 L199.2 237.5 L202.2 238.9 L205.0 238.3 L207.3 236.6 L208.0 234.0 L210.1 232.2 L210.6 229.4 L213.6 228.3 L212.9 224.6 L215.2 223.0 L213.2 221.0 L211.0 219.1ZM191.4 163.6 L192.7 161.0 L192.4 158.5 L192.6 155.8 L190.9 153.6 L191.7 150.7 L189.6 148.6 L189.4 148.3 L187.2 150.2 L184.4 150.8 L183.2 151.8 L183.8 152.8 L184.0 155.1 L184.0 157.5 L183.3 160.0 L183.4 162.5 L182.7 165.0 L184.0 167.5 L186.7 168.1 L187.5 171.2 L187.7 171.2 L188.1 168.2 L190.8 166.5ZM285.2 776.2 L285.7 779.0 L288.5 780.4 L289.8 781.9 L297.5 780.0 L299.1 773.5 L298.0 771.7 L296.8 770.6 L287.5 772.5 L284.6 773.1 L284.9 773.2ZM241.0 458.5 L242.9 455.8 L241.5 453.1 L239.6 450.6 L236.6 450.2 L234.0 449.2 L231.6 447.7 L227.6 448.8 L226.8 451.5 L227.1 454.2 L228.1 456.9 L227.1 459.6 L228.3 462.2 L227.6 464.9 L228.2 467.6 L227.4 470.3 L227.9 473.0 L230.3 474.1 L232.5 472.5 L235.1 471.5 L236.2 468.3 L240.2 469.4 L241.5 466.6 L242.6 463.9 L241.4 461.2ZM290.4 303.0 L292.3 300.8 L291.9 297.5 L289.3 299.0 L286.5 299.5 L283.7 300.3 L280.7 299.9 L281.9 302.0 L280.2 304.6 L281.4 306.7 L282.0 309.0 L283.8 308.6 L286.4 307.2 L287.9 304.6ZM437.6 342.5 L439.9 344.4 L440.3 347.5 L442.8 349.4 L443.8 352.1 L445.0 352.7 L447.7 351.6 L448.5 349.4 L449.0 347.1 L450.4 345.1 L449.1 343.1 L448.8 340.7 L447.6 338.6 L445.2 337.6 L442.6 337.6 L441.3 339.6 L438.6 340.2ZM355.2 367.0 L354.3 369.8 L352.9 372.4 L351.5 375.0 L354.1 376.9 L356.5 375.3 L359.8 375.4 L361.4 371.9 L364.6 371.8 L362.4 370.1 L362.3 367.3 L362.7 364.4 L360.6 362.6 L359.1 360.6 L358.4 358.1 L357.5 358.5 L356.1 361.1 L354.3 363.5ZM334.9 359.7 L332.6 361.3 L330.3 362.9 L330.0 367.7 L332.5 369.0 L334.1 371.8 L336.9 372.6 L340.4 372.2 L342.3 374.6 L341.9 371.8 L342.2 369.1 L344.3 366.7 L345.3 364.1 L345.8 361.5 L345.3 358.6 L342.6 356.6 L340.3 358.3 L337.3 358.4ZM300.2 421.3 L297.9 422.4 L298.2 425.2 L298.9 428.1 L298.3 431.0 L298.9 433.8 L299.1 436.6 L301.2 437.7 L303.1 439.6 L305.4 440.1 L308.0 440.0 L309.6 437.8 L312.3 436.3 L312.1 432.7 L314.3 430.9 L312.4 428.5 L313.5 425.5 L312.9 422.8 L312.1 420.1 L309.2 419.7 L307.6 417.2 L305.2 415.8 L303.9 418.1 L302.4 420.1ZM381.6 416.3 L378.6 415.7 L376.4 418.5 L373.7 419.2 L372.7 419.0 L373.0 420.0 L374.0 430.0 L383.6 435.8 L384.2 433.6 L383.9 432.2 L383.6 431.9 L380.9 432.2 L379.3 430.4 L376.9 430.1 L375.0 429.0 L374.1 427.1 L374.1 425.1 L374.6 423.0 L374.0 421.0 L378.0 420.0 L380.7 419.3 L383.0 420.9 L385.4 422.1 L386.6 422.1 L386.4 420.6 L384.5 419.6 L383.4 417.6ZM386.1 425.9 L386.7 423.4 L386.6 422.1 L385.4 422.1 L383.0 420.9 L380.7 419.3 L378.0 420.0 L375.0 422.0 L374.0 421.0 L374.6 423.0 L374.1 425.1 L374.1 427.1 L375.0 429.0 L376.9 430.1 L379.3 430.4 L380.9 432.2 L383.6 431.9 L383.9 432.2 L383.7 430.8 L384.3 428.3ZM702.9 344.3 L703.9 343.2 L704.5 340.5 L707.6 340.2 L709.1 338.5 L710.0 336.0 L712.5 335.2 L714.0 333.3 L714.8 330.9 L710.0 332.5 L697.5 337.5 L696.5 338.1 L696.7 338.4 L697.4 340.9 L699.9 341.2 L701.6 343.5ZM717.7 327.5 L718.0 324.9 L716.9 323.2 L717.5 330.0ZM721.7 325.3 L724.0 323.3 L721.2 322.0 L718.1 323.7 L716.9 322.7 L716.9 323.2 L718.0 324.9 L717.7 327.5 L717.5 330.0 L714.8 330.9 L714.0 333.3 L712.5 335.2 L710.0 336.0 L712.7 336.2 L714.4 334.4 L716.4 333.3 L718.2 331.6 L718.7 331.3 L719.1 330.3 L721.4 328.3ZM276.1 437.3 L279.1 438.0 L279.6 441.5 L282.2 442.8 L284.8 442.9 L287.2 441.7 L288.1 440.4 L287.3 437.9 L285.8 435.6 L284.3 433.4 L284.4 430.6 L284.0 428.0 L283.2 425.5 L280.6 427.0 L277.9 425.4 L278.7 427.4 L277.5 436.4 L276.0 437.0ZM630.7 374.1 L632.5 375.0 L633.4 377.5 L635.6 378.9 L637.9 380.1 L639.0 382.5 L639.8 385.2 L640.0 385.0 L639.9 385.7 L639.7 387.1 L641.7 387.5 L643.1 384.8 L644.1 381.7 L644.0 378.7 L643.6 375.7 L642.2 372.8 L641.9 369.8 L640.7 369.1 L638.0 370.5 L635.0 370.3 L631.8 369.4 L629.2 371.3 L628.9 373.2 L628.9 373.2ZM625.2 378.1 L622.6 379.5 L621.9 382.1 L621.7 386.2 L622.5 385.6 L625.0 387.0 L625.1 387.0 L627.5 385.2 L630.2 387.0 L633.2 386.0 L634.3 386.8 L635.1 386.1 L637.4 387.4 L637.7 387.3 L639.8 385.2 L639.0 382.5 L637.9 380.1 L635.6 378.9 L633.4 377.5 L632.5 375.0 L630.7 374.1 L628.9 373.2 L628.9 373.2 L628.7 374.2 L627.1 376.2ZM199.7 430.5 L202.1 429.1 L203.2 426.2 L201.5 423.6 L201.4 420.8 L196.8 419.3 L194.1 420.2 L192.8 422.9 L190.1 423.8 L187.5 424.7 L185.7 426.8 L183.9 428.6 L184.4 429.0 L187.2 429.1 L188.2 432.1 L190.6 432.9 L192.6 434.3 L194.9 435.0 L195.2 433.8 L198.0 432.9ZM177.1 439.2 L178.3 441.8 L179.9 444.2 L182.5 444.6 L185.1 443.4 L186.3 440.4 L188.8 439.1 L190.3 436.6 L194.3 437.0 L194.9 435.0 L192.6 434.3 L190.6 432.9 L188.2 432.1 L187.2 429.1 L184.4 429.0 L183.9 428.6 L183.8 428.7 L182.2 430.9 L179.9 432.4 L179.7 434.9 L177.9 436.9ZM264.1 317.5 L264.0 317.5 L263.6 315.5 L263.2 313.4 L262.7 311.4 L261.6 309.5 L261.0 307.5 L259.1 308.4 L257.2 309.1 L255.0 309.0 L252.6 309.0 L252.4 310.0 L257.5 310.0 L262.5 317.5 L262.6 317.9ZM263.6 308.8 L261.9 306.3 L259.6 304.4 L258.1 301.8 L255.4 300.2 L253.6 302.7 L254.6 306.3 L252.7 308.7 L252.6 309.0 L255.0 309.0 L257.2 309.1 L259.1 308.4 L261.0 307.5 L261.6 309.5 L262.7 311.4 L263.2 313.4 L263.6 315.5 L264.0 317.5 L264.1 317.5 L265.0 317.2 L266.0 315.7 L265.4 311.2ZM324.3 328.3 L325.0 325.4 L324.9 322.6 L321.6 320.9 L319.6 323.3 L316.4 323.7 L314.5 326.1 L311.1 326.3 L309.1 328.6 L311.3 330.3 L311.3 333.0 L312.4 335.2 L312.1 338.1 L314.6 339.6 L317.4 340.1 L319.6 338.2 L322.0 337.2 L324.9 338.4 L327.0 336.3 L327.6 333.4 L326.3 330.8ZM565.4 348.0 L563.2 346.3 L559.2 347.0 L558.4 349.9 L555.1 351.5 L555.2 355.0 L554.6 356.4 L555.9 357.4 L557.8 358.8 L557.3 362.1 L560.4 362.6 L561.0 365.0 L562.9 363.2 L565.9 363.2 L567.5 361.0 L568.9 362.9 L568.9 365.5 L570.0 367.5 L569.2 365.0 L570.2 362.5 L569.9 360.0 L569.4 357.5 L570.0 355.0 L571.3 353.0 L569.6 350.6 L571.0 349.2 L570.7 348.7 L568.3 347.6ZM572.6 371.0 L574.4 369.6 L575.0 367.5 L576.3 367.9 L573.9 366.0 L574.1 362.9 L574.5 359.8 L572.8 357.2 L573.1 354.1 L572.3 351.3 L571.0 349.2 L569.6 350.6 L571.3 353.0 L570.0 355.0 L569.4 357.5 L569.9 360.0 L570.2 362.5 L569.2 365.0 L570.0 367.5 L569.5 369.8 L568.9 372.0 L569.2 373.3 L571.6 373.8 L572.2 373.1ZM576.7 368.2 L576.3 367.9 L575.0 367.5 L574.4 369.6 L572.6 371.0 L572.2 373.1 L573.9 371.1 L576.8 371.2ZM286.0 340.9 L285.2 340.2 L283.3 340.6 L283.8 342.0 L284.6 342.7ZM286.0 340.9 L286.4 340.4 L288.8 339.5 L291.8 340.7 L292.1 340.7 L293.5 337.7 L296.4 338.0 L295.8 335.7 L297.1 333.8 L297.6 331.7 L294.9 330.6 L291.5 331.2 L288.8 330.1 L286.4 327.8 L284.9 329.2 L285.0 330.0 L284.2 329.7 L284.2 329.8 L285.2 333.1 L283.0 335.0 L282.2 337.6 L283.3 340.6 L285.2 340.2ZM233.0 188.0 L235.1 187.0 L235.2 184.2 L238.1 184.0 L238.8 181.7 L240.0 180.0 L241.3 178.0 L244.1 177.4 L244.5 177.0 L243.4 175.1 L240.4 176.3 L237.8 176.1 L235.7 174.0 L233.6 175.8 L233.8 178.7 L231.3 180.3 L231.4 183.2 L230.5 185.6 L232.1 187.6 L232.5 188.3ZM237.2 193.0 L239.5 191.5 L242.1 191.0 L244.7 190.5 L244.3 187.6 L247.3 185.6 L246.4 182.6 L248.7 180.4 L248.0 177.5 L245.2 178.0 L244.5 177.0 L244.1 177.4 L241.3 178.0 L240.0 180.0 L238.8 181.7 L238.1 184.0 L235.2 184.2 L235.1 187.0 L233.0 188.0 L232.5 188.3 L233.5 189.7 L236.5 190.3ZM206.5 439.8 L207.5 439.1 L208.4 437.1 L207.5 437.0 L206.6 439.3ZM208.8 452.9 L210.2 455.0 L212.4 456.3 L214.2 454.1 L216.9 452.9 L219.8 452.0 L222.2 450.4 L223.8 447.8 L222.3 445.5 L221.9 442.4 L219.1 440.9 L217.9 438.4 L215.5 436.7 L212.9 436.3 L210.1 437.3 L208.4 437.1 L207.5 439.1 L206.5 439.8 L206.1 441.8 L204.9 443.9 L203.7 446.1 L202.9 448.3 L204.9 449.8 L207.7 450.3ZM430.1 442.8 L429.4 445.6 L428.4 448.2 L431.0 449.3 L432.7 451.6 L435.3 451.3 L436.6 451.5 L437.4 449.7 L438.3 449.1 L440.0 446.0 L439.1 443.9 L437.6 442.4 L435.5 441.5 L434.0 440.0 L434.4 437.7 L432.4 436.2 L432.3 437.7 L431.6 440.4ZM444.6 440.1 L442.0 439.5 L441.5 436.3 L440.0 434.3 L437.3 433.8 L433.9 433.9 L432.7 434.8 L432.6 435.3 L432.4 436.2 L434.4 437.7 L434.0 440.0 L435.5 441.5 L437.6 442.4 L439.1 443.9 L440.0 446.0 L439.5 448.3 L438.5 448.9 L437.2 451.6 L438.0 451.7 L440.3 450.7 L442.2 448.2 L444.8 448.2 L444.0 445.5 L445.7 442.8ZM588.3 367.5 L587.6 367.9 L589.2 368.1 L590.9 370.1 L593.9 369.1 L595.2 371.7 L597.3 372.9 L597.9 372.8 L595.9 370.7 L595.8 367.8 L593.6 365.7 L591.2 367.2ZM580.2 369.8 L578.0 371.8 L579.5 374.4 L579.1 377.6 L579.7 380.5 L580.8 383.3 L583.7 384.0 L584.6 385.7 L585.1 385.6 L587.6 385.3 L590.0 386.6 L592.6 385.9 L594.9 388.2 L597.6 385.9 L598.5 386.5 L599.0 384.7 L596.8 382.2 L596.4 379.3 L597.0 376.3 L598.2 373.2 L597.9 372.8 L597.3 372.9 L595.2 371.7 L593.9 369.1 L590.9 370.1 L589.2 368.1 L587.6 367.9 L585.9 368.9 L583.1 369.4ZM224.5 224.8 L223.1 227.3 L223.2 227.5 L225.8 228.5 L229.0 227.8 L231.7 228.4 L233.9 231.4 L237.0 231.0 L237.4 228.7 L239.8 227.4 L239.4 224.6 L241.5 223.2 L239.3 220.4 L236.9 220.8 L234.6 220.1 L232.5 219.2 L230.3 218.4 L228.2 220.4 L226.9 223.0ZM308.2 406.4 L308.3 406.1 L308.9 403.8 L311.0 402.5 L309.3 400.8 L309.4 398.6 L309.3 398.5 L307.2 397.5 L306.3 395.3 L303.7 395.5 L301.9 397.1 L300.2 398.6 L298.3 400.0 L298.1 402.9 L299.5 405.2 L302.0 407.0 L301.7 409.4 L303.7 408.6 L306.0 410.0 L306.6 409.3 L306.5 409.0 L307.7 406.7ZM306.6 409.3 L306.0 410.0 L303.7 408.6 L301.7 409.4 L301.7 410.0 L302.9 412.3 L304.9 414.0 L307.3 412.6ZM311.0 400.0 L309.4 398.6 L309.3 400.8 L311.0 402.5 L308.9 403.8 L308.3 406.1 L308.2 406.4 L310.0 405.1 L311.8 403.3ZM540.2 411.5 L540.5 411.4 L540.0 410.0 L538.1 408.4 L537.4 407.4 L537.4 407.8 L537.5 410.5ZM295.8 474.1 L297.0 476.8 L300.0 477.4 L300.0 477.5 L302.7 477.4 L304.0 477.9 L305.9 476.7 L307.4 474.2 L309.1 471.9 L311.1 469.9 L314.7 469.8 L315.1 466.0 L317.5 464.6 L320.1 463.3 L319.4 460.4 L318.8 457.5 L317.2 454.9 L316.0 453.1 L313.3 453.4 L312.2 451.5 L309.4 452.4 L306.7 453.3 L304.0 454.2 L300.8 453.6 L298.4 455.5 L296.0 457.4 L293.1 457.8 L292.0 460.5 L289.5 462.6 L288.9 465.7 L289.6 469.3 L290.8 471.9 L292.6 473.8ZM302.5 223.6 L305.1 223.8 L307.6 223.6 L309.8 222.6 L308.9 221.6 L306.4 220.7 L304.1 219.3 L301.1 221.1 L299.9 222.9 L299.9 222.9ZM300.7 230.7 L301.0 233.7 L301.1 236.8 L302.1 239.5 L305.2 238.9 L307.6 241.8 L310.6 241.5 L313.5 241.9 L316.3 242.8 L319.2 242.6 L322.1 243.1 L324.5 241.5 L325.6 238.8 L324.6 236.5 L323.4 234.3 L323.9 231.6 L322.7 229.5 L322.0 228.8 L321.0 229.0 L320.2 226.9 L318.8 225.6 L315.9 225.2 L313.0 225.1 L310.8 223.7 L309.8 222.6 L307.6 223.6 L305.1 223.8 L302.5 223.6 L299.9 222.9 L299.9 222.9 L298.3 225.2 L298.4 228.2ZM335.7 282.7 L333.2 281.0 L330.3 281.3 L329.1 283.8 L328.1 286.4 L325.7 287.9 L325.6 287.9 L326.0 289.0 L328.1 290.4 L330.5 290.2 L332.6 291.3 L335.0 291.0 L336.4 289.4 L337.3 287.4 L337.5 287.3 L337.5 286.2 L339.0 284.1 L341.5 282.6 L341.3 282.5 L338.7 281.8ZM328.7 293.9 L331.5 295.3 L334.3 296.0 L337.3 295.9 L340.4 294.8 L343.0 297.0 L346.0 296.9 L346.8 294.2 L346.6 293.8 L345.2 293.6 L343.1 292.8 L341.1 291.8 L339.0 290.9 L337.5 289.0 L337.5 287.3 L337.3 287.4 L336.4 289.4 L335.0 291.0 L332.6 291.3 L330.5 290.2 L328.1 290.4 L326.0 289.0 L325.6 287.9 L322.8 289.0 L321.8 291.8 L322.5 293.3 L324.1 293.6 L325.9 293.0ZM352.2 335.2 L353.6 333.0 L353.6 330.1 L351.0 330.9 L348.3 330.2 L345.6 330.1 L342.9 330.2 L341.6 332.7 L340.8 335.4 L340.3 338.2 L342.1 340.0 L344.8 340.6 L346.7 342.3 L348.3 342.0 L349.1 339.5 L350.4 337.2ZM524.1 395.6 L524.5 397.5 L525.0 400.0 L523.2 401.5 L521.8 403.5 L520.5 404.6 L520.4 404.7 L518.5 406.7 L517.1 408.9 L516.1 411.3 L518.8 415.4 L520.6 417.5 L523.5 416.4 L525.8 417.4 L527.9 418.8 L529.2 418.8 L530.9 416.3 L534.4 415.6 L535.1 412.2 L537.5 410.5 L537.4 407.8 L537.4 407.4 L536.7 406.1 L533.2 406.5 L532.8 402.9 L530.0 402.5 L529.5 400.2 L528.1 398.3 L527.5 396.0 L528.0 395.6 L527.1 395.3 L524.5 394.9ZM521.9 402.5 L520.5 404.6 L521.8 403.5 L523.2 401.5 L525.0 400.0 L524.5 397.5 L524.1 395.6 L523.3 397.3 L521.9 399.5ZM264.4 385.4 L265.5 387.9 L266.1 389.3 L268.5 389.5 L270.0 387.6 L272.5 387.5 L271.1 386.1 L270.6 384.3 L270.0 382.5 L267.9 380.6 L266.4 381.3 L266.2 381.4 L265.2 382.9ZM275.0 393.7 L277.4 392.1 L278.9 389.7 L281.5 388.3 L281.6 384.9 L284.3 383.5 L284.0 380.8 L281.7 378.8 L279.0 377.6 L276.6 378.8 L273.7 378.3 L271.0 378.9 L268.4 379.2 L266.4 381.3 L267.9 380.6 L270.0 382.5 L270.6 384.3 L271.1 386.1 L272.5 387.5 L270.0 387.6 L268.5 389.5 L266.1 389.3 L266.6 390.4 L265.5 393.0 L266.8 394.3 L269.4 393.7 L272.2 393.8ZM668.9 402.5 L672.2 403.8 L671.1 407.2 L673.4 409.0 L676.4 410.0 L678.7 407.6 L680.8 407.3 L680.7 406.1 L682.6 404.3 L682.8 401.8 L683.7 400.2 L681.8 399.4 L680.1 397.2 L680.7 393.5 L678.3 391.7 L677.2 389.0 L674.7 388.7 L673.5 391.1 L671.4 392.4 L668.4 392.5 L667.0 394.8 L667.4 397.4 L667.7 400.1ZM605.6 420.4 L603.6 419.0 L603.6 419.1 L604.0 421.3 L604.0 421.4 L605.6 420.9ZM478.0 381.7 L475.6 382.2 L473.8 384.4 L473.5 387.2 L474.0 390.0 L475.3 392.5 L476.6 394.9 L479.3 396.3 L480.9 394.3 L482.5 392.3 L485.9 392.3 L485.8 388.4 L488.7 387.8 L488.9 382.9 L487.4 380.8 L485.2 379.5 L482.3 379.0 L480.8 381.9ZM433.6 392.7 L435.4 394.7 L436.4 397.1 L437.8 399.2 L438.5 401.7 L439.9 401.0 L440.0 398.4 L440.6 396.0 L440.3 393.3 L442.1 391.1 L440.6 389.1 L438.7 387.8 L436.8 386.4 L434.6 385.5 L433.2 386.1 L432.6 387.7 L432.9 390.3ZM634.4 346.8 L633.5 344.4 L631.6 342.6 L630.5 340.3 L630.0 340.0 L627.6 341.1 L624.7 340.1 L622.3 341.2 L620.4 342.3 L619.7 344.5 L620.5 347.2 L620.1 349.9 L622.1 352.4 L620.9 355.2 L623.4 354.4 L626.0 355.1 L626.6 354.9 L629.0 352.5 L634.0 355.0 L633.5 356.0 L633.6 356.0 L636.1 354.4 L638.0 350.3 L636.7 348.1ZM484.4 398.9 L487.0 399.6 L489.8 399.5 L492.5 399.7 L493.6 397.0 L495.0 394.5 L493.7 392.6 L491.8 391.2 L489.9 389.9 L488.7 387.8 L485.8 388.4 L485.9 392.3 L482.5 392.3 L480.9 394.3 L479.3 396.3 L479.3 396.9 L482.0 397.2ZM275.5 240.6 L273.3 242.0 L274.5 244.8 L273.9 245.8 L274.8 247.5 L277.5 247.5 L279.7 246.4 L281.0 244.3 L281.2 244.0 L280.0 241.4 L277.7 239.4ZM281.2 244.0 L281.2 244.0 L281.0 244.3 L279.7 246.4 L277.5 247.5 L279.9 248.0 L281.1 250.1 L282.2 249.7 L282.4 246.6ZM281.1 250.1 L279.9 248.0 L277.5 247.5 L277.2 250.2 L274.8 251.5 L274.8 253.5 L277.0 252.4 L279.4 250.6ZM277.2 250.2 L277.5 247.5 L274.8 247.5 L273.9 245.8 L272.5 248.0 L272.9 250.9 L274.4 253.7 L274.8 253.5 L274.8 251.5ZM306.5 260.8 L304.5 259.1 L301.3 260.6 L299.2 259.2 L297.6 256.4 L294.9 256.6 L292.0 257.9 L290.7 260.2 L289.9 262.7 L290.2 266.2 L291.4 266.9 L291.9 266.7 L293.8 265.8 L295.9 265.4 L297.5 264.0 L300.2 264.9 L300.2 268.2 L302.1 269.9 L302.8 270.9 L305.3 271.1 L306.7 268.7 L308.8 266.6 L308.5 264.5 L307.4 262.7ZM297.5 269.5 L299.8 270.8 L302.6 270.9 L302.8 270.9 L302.1 269.9 L300.2 268.2 L300.2 264.9 L297.5 264.0 L295.9 265.4 L293.8 265.8 L291.9 266.7 L291.4 266.9 L292.6 267.5 L294.9 268.9ZM269.7 210.7 L270.4 214.2 L268.0 215.9 L266.5 218.0 L268.0 220.2 L267.8 223.1 L268.2 225.7 L269.8 228.0 L272.7 227.8 L274.9 230.6 L277.9 230.0 L279.8 227.9 L282.1 226.2 L281.0 223.7 L279.2 221.4 L280.6 218.2 L279.4 215.8 L279.4 213.0 L277.7 210.7 L277.1 208.0 L273.4 206.8 L272.7 209.5ZM333.6 330.8 L336.6 329.1 L336.3 326.1 L337.9 323.9 L337.7 323.2 L333.8 321.0 L331.8 322.8 L329.5 322.9 L327.4 323.5 L324.9 322.6 L325.0 325.4 L324.3 328.3 L326.3 330.8 L327.6 333.4 L327.0 336.3 L329.2 337.7 L331.5 338.6 L333.9 336.7 L333.0 333.4ZM231.3 180.3 L233.8 178.7 L233.6 175.8 L235.7 174.0 L233.5 170.2 L230.7 171.9 L227.6 170.4 L224.5 169.6 L221.7 171.4 L220.2 173.4 L220.4 175.8 L220.2 178.1 L221.8 180.0 L223.2 182.1 L224.2 184.7 L226.7 185.9 L230.5 185.6 L231.4 183.2ZM248.6 263.9 L250.5 266.5 L250.7 269.4 L250.2 272.4 L252.2 272.4 L254.2 270.5 L255.7 268.4 L254.7 265.2 L255.9 262.9 L257.9 261.1 L258.5 258.6 L255.9 259.2 L253.9 256.5 L251.2 258.3 L248.9 257.2 L247.6 258.3 L247.2 261.3ZM415.7 368.9 L415.6 366.5 L413.8 368.5 L411.4 369.3 L409.3 370.6 L406.6 370.6 L407.2 373.1 L408.9 375.2 L409.4 377.7 L411.5 377.7 L413.6 377.8 L415.6 378.6 L417.8 375.7 L417.6 373.3 L416.9 371.1ZM681.7 321.6 L679.4 322.1 L678.3 323.2 L678.4 323.7 L683.1 322.0ZM686.4 313.8 L683.7 312.6 L681.4 313.5 L680.0 315.6 L677.6 316.4 L676.7 318.9 L678.0 321.2 L678.3 323.2 L679.4 322.1 L681.7 321.6 L683.1 322.0 L685.7 321.1 L686.3 320.3 L687.2 320.6 L693.3 318.4 L694.3 317.6 L692.3 314.8 L688.8 315.7ZM300.7 757.0 L300.5 759.6 L303.1 760.4 L305.4 762.0 L308.3 761.8 L309.2 759.6 L311.9 759.0 L313.0 756.9 L310.6 755.5 L308.9 753.3 L307.1 751.3 L306.9 751.1 L301.4 752.2 L299.9 754.4ZM621.3 320.6 L623.2 322.9 L625.9 323.2 L627.9 320.7 L627.3 317.4 L628.5 314.7 L628.9 314.1 L628.5 314.2 L626.6 315.6 L624.7 317.0 L622.5 318.0 L620.2 317.4 L618.1 316.2 L616.0 317.4 L616.2 319.2 L619.1 319.1ZM216.4 252.0 L214.0 253.2 L211.8 254.6 L210.9 257.5 L208.9 259.1 L209.0 259.5 L210.0 258.9 L212.5 260.6 L215.0 260.2 L217.5 259.7 L220.0 260.0 L221.0 261.7 L221.4 263.7 L222.5 265.4 L222.5 265.6 L223.2 265.9 L224.6 266.3 L225.8 264.9 L225.8 263.9 L226.4 261.3 L226.8 258.6 L228.5 256.3 L226.5 255.4 L225.9 252.9 L224.0 251.9 L221.1 251.4 L218.4 250.4ZM213.1 265.2 L215.6 265.7 L218.1 266.0 L220.8 264.9 L222.5 265.6 L222.5 265.4 L221.4 263.7 L221.0 261.7 L220.0 260.0 L217.5 259.7 L215.0 260.2 L212.5 260.6 L210.0 258.9 L209.0 259.5 L209.4 261.7 L212.5 262.6ZM317.2 250.4 L319.0 248.5 L321.3 246.0 L322.1 243.1 L319.2 242.6 L316.3 242.8 L313.5 241.9 L310.6 241.5 L307.6 241.8 L305.2 238.9 L302.1 239.5 L299.9 243.3 L300.2 246.0 L300.4 248.7 L303.2 248.8 L305.4 250.5 L308.1 250.9 L310.3 252.6 L312.0 250.7 L314.2 249.6ZM292.7 753.6 L291.8 756.1 L292.7 758.3 L295.8 760.2 L296.0 760.0 L295.0 752.5 L292.0 752.0ZM299.3 760.4 L300.5 759.6 L300.7 757.0 L299.9 754.4 L301.4 752.2 L300.0 752.5 L297.0 760.0 L297.1 760.3ZM506.1 370.9 L508.4 369.6 L510.3 367.7 L512.3 366.0 L511.4 363.2 L512.3 360.4 L511.0 358.2 L509.0 357.0 L506.6 356.3 L504.7 354.9 L500.0 356.2 L497.5 358.8 L496.8 361.6 L498.4 364.1 L497.8 366.9 L498.7 369.5 L500.7 371.8 L503.3 370.9ZM620.9 422.6 L618.3 421.3 L616.7 419.1 L615.2 416.5 L613.1 415.5 L611.9 416.2 L611.0 416.0 L610.4 417.6 L608.4 419.5 L605.6 420.4 L605.6 420.9 L609.0 420.0 L610.0 426.0 L605.6 428.6 L606.0 431.2 L608.6 432.6 L609.1 436.0 L612.7 436.4 L613.8 439.3 L616.8 438.6 L618.0 435.4 L620.1 433.3 L622.2 432.8 L622.5 432.5 L625.0 431.3 L625.1 428.2 L626.7 426.6 L626.0 425.0 L622.3 425.1ZM177.6 449.1 L175.3 450.8 L174.2 453.2 L177.4 462.4 L178.3 462.9 L178.7 466.3 L178.8 466.6 L181.2 468.2 L183.7 469.7 L185.7 471.7 L187.9 471.0 L190.0 469.7 L192.4 469.4 L194.5 468.3 L194.8 467.6 L195.4 464.8 L194.1 462.2 L195.2 459.4 L194.7 456.8 L192.3 454.3 L193.2 451.5 L191.9 448.8 L188.9 448.8 L187.6 446.2 L184.9 445.6 L182.5 444.6 L179.9 444.2 L178.5 446.4ZM337.1 480.8 L335.7 480.9 L333.5 480.3 L331.9 481.3 L336.1 481.6ZM341.5 469.2 L339.3 467.2 L337.2 465.1 L335.1 463.0 L332.7 463.5 L330.3 464.5 L327.6 463.2 L325.3 464.7 L322.8 464.9 L324.4 467.1 L325.1 469.6 L326.7 471.8 L327.4 474.4 L328.4 476.8 L327.6 479.6 L329.0 481.0 L331.9 481.3 L333.5 480.3 L335.7 480.9 L337.1 480.8 L337.4 480.6 L339.4 478.4 L342.2 477.9 L345.4 478.2 L347.4 475.9 L345.8 473.3 L343.0 471.9ZM195.8 451.4 L193.2 451.5 L192.3 454.3 L194.7 456.8 L195.2 459.4 L194.1 462.2 L195.4 464.8 L194.8 467.6 L196.9 465.8 L199.8 466.2 L199.6 465.4 L199.6 462.7 L198.6 460.6 L196.2 459.4 L195.0 457.5 L196.8 456.6 L198.4 455.5 L198.9 453.0 L201.0 452.5 L201.3 450.1 L201.3 449.3 L200.6 449.7 L198.3 450.8ZM201.0 452.5 L198.9 453.0 L198.4 455.5 L196.8 456.6 L195.0 457.5 L196.2 459.4 L198.6 460.6 L199.6 462.7 L199.6 465.4 L199.8 466.2 L199.9 466.2 L202.3 465.1 L205.0 464.8 L206.6 461.5 L209.5 461.9 L212.0 461.1 L212.4 456.3 L210.2 455.0 L208.8 452.9 L207.7 450.3 L204.9 449.8 L202.9 448.3 L201.3 449.3 L201.3 450.1ZM375.0 556.4 L373.6 558.4 L372.0 560.0 L377.1 555.6ZM370.2 562.2 L371.2 564.1 L372.0 560.0ZM369.3 546.7 L366.6 545.5 L364.6 542.4 L361.5 542.1 L358.5 543.0 L357.3 546.5 L354.2 547.2 L355.1 549.8 L356.5 552.3 L354.5 555.3 L356.1 557.7 L356.5 560.4 L359.5 560.5 L362.2 562.2 L364.9 563.5 L367.7 564.6 L370.8 564.4 L371.1 564.5 L371.2 564.1 L370.2 562.2 L372.0 560.0 L373.6 558.4 L375.0 556.4 L377.1 555.6 L379.0 554.0 L376.0 548.0 L374.1 546.5 L372.6 546.5ZM646.2 320.2 L646.8 317.7 L646.1 315.2 L642.7 313.1 L640.1 314.4 L639.0 316.8 L639.0 320.1 L635.5 320.6 L635.4 323.9 L633.0 325.3 L635.8 326.8 L637.7 329.0 L638.7 332.0 L640.6 332.3 L641.7 330.1 L643.4 328.4 L645.8 327.7 L646.7 325.2 L644.4 322.7ZM408.0 428.6 L405.2 428.3 L403.4 431.0 L403.3 433.9 L405.5 436.5 L404.4 439.5 L403.8 442.4 L405.0 445.2 L406.8 447.8 L406.1 450.8 L408.9 451.1 L411.6 449.4 L414.5 450.2 L415.7 449.2 L416.0 446.7 L415.9 444.1 L416.2 441.6 L418.0 439.4 L418.2 436.9 L418.7 434.4 L416.2 430.4 L413.5 429.6 L410.7 429.4ZM481.5 461.4 L484.2 460.9 L486.8 460.4 L489.6 460.9 L490.3 458.4 L491.6 457.8 L491.0 457.5 L489.9 457.5 L487.2 457.8 L485.0 456.0 L484.5 455.6 L484.1 455.8 L480.0 457.5 L479.2 459.1 L479.8 460.2ZM485.0 456.0 L487.2 457.8 L489.9 457.5 L491.0 457.5 L490.0 457.0 L492.3 457.5 L492.4 457.5 L486.0 455.0 L484.5 455.6ZM427.7 362.7 L431.3 362.4 L433.3 360.7 L432.5 360.0 L431.8 358.1 L431.6 357.0 L429.0 356.6 L427.6 353.8 L426.3 354.5 L424.9 356.8 L424.3 359.4ZM431.6 357.0 L431.8 358.1 L432.5 360.0 L433.3 360.7 L433.8 360.1 L432.6 357.1ZM108.2 485.7 L108.0 482.6 L105.6 480.9 L106.3 477.4 L104.8 475.2 L102.3 473.5 L99.3 472.4 L96.4 472.4 L93.5 472.8 L90.7 474.1 L87.8 474.9 L85.0 476.5 L84.7 476.6 L85.2 476.6 L86.6 478.8 L87.2 481.7 L90.0 482.5 L92.4 483.3 L93.6 485.3 L94.2 488.0 L95.5 489.9 L97.6 491.0 L99.5 492.3 L101.0 494.0 L103.2 495.3 L105.3 496.8 L107.6 497.9 L110.7 497.1 L112.4 497.8 L113.2 496.8 L113.9 494.4 L113.6 491.8 L111.8 489.8 L110.3 487.5ZM313.7 312.4 L315.0 309.3 L317.7 308.8 L315.3 307.3 L313.3 305.2 L310.8 303.8 L307.3 304.1 L305.6 301.5 L304.3 304.0 L302.0 305.4 L303.0 307.8 L304.7 309.9 L304.5 312.9 L306.3 314.9 L307.9 312.4 L310.8 312.5ZM466.9 382.1 L464.5 382.6 L462.6 383.4 L460.6 384.1 L459.4 386.0 L461.2 387.6 L462.7 389.5 L464.6 391.1 L464.8 393.8 L466.9 392.3 L469.8 392.9 L471.7 390.9 L474.0 390.0 L473.5 387.2 L473.8 384.4 L473.5 384.1 L471.2 384.0 L469.0 383.3ZM320.5 371.1 L317.8 370.4 L315.2 369.9 L314.7 371.9 L314.4 374.0 L313.2 375.7 L316.0 376.3 L318.6 377.1 L321.0 378.8 L323.6 379.7 L326.2 380.7 L326.9 379.9 L327.7 377.2 L328.4 374.6 L328.8 371.9 L328.2 369.1 L325.6 368.7 L322.9 368.8ZM341.6 246.4 L341.6 249.3 L341.3 252.2 L340.1 254.9 L340.4 257.8 L340.1 260.7 L339.2 263.4 L341.8 263.7 L342.9 266.5 L345.0 267.5 L345.0 267.5 L347.3 266.4 L348.4 264.2 L350.3 262.6 L350.8 260.0 L352.0 257.9 L353.4 255.8 L356.0 255.0 L357.3 253.6 L357.8 253.4 L357.3 251.5 L356.1 248.7 L356.4 247.8 L356.3 247.6 L353.6 247.4 L350.9 247.3 L350.2 243.7 L347.8 242.8 L344.7 243.3 L343.6 241.0 L343.4 241.0 L344.0 244.0ZM385.8 395.4 L384.1 395.1 L385.1 396.5 L387.5 397.5 L389.2 399.3 L389.7 399.1 L389.2 398.4 L387.5 396.9ZM376.2 393.9 L373.9 396.3 L371.4 395.3 L371.2 395.5 L370.7 396.7 L371.9 398.8 L372.8 400.9 L374.1 402.9 L373.5 405.5 L376.2 406.3 L378.7 407.3 L380.8 409.2 L383.1 407.7 L383.5 404.4 L387.1 404.0 L389.0 402.2 L389.9 399.3 L389.7 399.1 L389.2 399.3 L387.5 397.5 L385.1 396.5 L384.1 395.1 L383.5 395.0 L381.0 393.7 L378.7 396.0ZM456.0 454.2 L455.4 451.5 L452.5 450.8 L449.6 449.7 L446.5 450.2 L445.9 453.0 L444.9 455.6 L446.1 457.8 L448.6 457.7 L450.0 457.2 L452.5 457.6 L455.0 457.5 L457.8 464.1 L458.0 463.9 L456.0 457.5 L456.5 456.5ZM263.9 346.7 L261.2 347.5 L261.5 350.4 L263.2 353.0 L263.0 355.9 L262.9 358.9 L262.9 358.9 L263.8 358.3 L265.8 356.7 L268.0 355.5 L270.8 355.3 L272.2 352.7 L275.0 352.5 L276.1 352.3 L276.1 352.3 L275.2 350.0 L274.0 347.9 L271.8 346.3 L269.3 344.9 L266.4 345.4ZM270.2 358.2 L272.5 359.6 L273.2 357.5 L275.3 356.6 L276.4 354.9 L276.1 352.3 L275.0 352.5 L272.2 352.7 L270.8 355.3 L268.0 355.5 L265.8 356.7 L263.8 358.3 L262.9 358.9 L265.2 359.9 L267.7 359.3ZM270.0 175.8 L272.5 174.8 L275.0 177.3 L277.5 176.4 L280.0 176.0 L272.5 172.0 L268.0 175.6 L269.6 175.8ZM287.4 183.9 L285.2 181.6 L283.7 181.6 L283.4 179.6 L280.0 176.0 L277.5 176.4 L275.0 177.3 L272.5 174.8 L270.0 175.8 L269.6 175.8 L269.8 175.9 L271.4 178.6 L274.9 179.0 L275.3 183.2 L278.5 184.0 L281.0 185.7 L283.7 184.4 L286.5 183.7ZM292.1 183.5 L290.1 183.7 L289.6 183.9 L287.7 184.0 L289.6 184.5 L292.4 184.1ZM222.5 267.5 L224.5 266.5 L224.6 266.3 L223.2 265.9 L222.5 265.6ZM216.6 276.8 L218.2 279.0 L221.6 277.7 L221.6 277.2 L220.4 276.7 L217.9 277.1 L216.4 274.3 L213.8 275.1 L211.8 274.2 L211.7 275.6 L213.6 277.4ZM224.5 266.5 L222.5 267.5 L222.5 265.6 L220.8 264.9 L218.1 266.0 L215.6 265.7 L213.1 265.2 L211.7 267.7 L211.6 270.3 L211.9 273.0 L211.8 274.2 L213.8 275.1 L216.4 274.3 L217.9 277.1 L220.4 276.7 L221.6 277.2 L221.9 274.9 L223.3 273.1 L224.9 271.3 L227.2 270.1 L225.7 266.6 L224.6 266.3ZM271.6 337.2 L271.4 334.4 L269.8 332.3 L269.2 329.7 L266.7 328.4 L264.8 328.8 L265.0 330.0 L255.0 335.0 L253.2 334.5 L252.0 336.3 L249.1 336.7 L249.8 341.0 L252.0 342.3 L255.0 342.4 L255.8 346.3 L259.3 345.4 L261.2 347.5 L263.9 346.7 L266.4 345.4 L269.3 344.9 L269.5 342.2 L268.8 339.4ZM158.5 424.7 L155.4 425.4 L153.0 423.5 L150.6 421.4 L147.5 422.1 L144.5 422.1 L143.6 426.0 L140.3 425.6 L138.1 427.1 L136.9 429.8 L137.6 432.4 L138.4 435.0 L138.2 437.6 L139.0 440.2 L140.5 441.9 L143.2 442.2 L145.1 444.6 L145.6 444.8 L145.0 432.5 L160.1 435.0 L160.1 433.2 L163.1 432.7 L162.2 429.3 L160.7 426.7ZM258.0 244.5 L259.0 243.4 L258.6 241.2 L258.9 239.2 L260.0 237.5 L258.9 235.5 L258.5 235.2 L258.2 235.8 L256.7 237.6 L254.8 239.0 L254.8 241.8 L256.2 244.3ZM265.1 236.2 L263.5 233.8 L259.3 233.6 L258.5 235.2 L258.9 235.5 L260.0 237.5 L262.5 240.0 L265.2 240.0 L266.2 243.3 L266.5 243.4 L267.3 241.4 L265.4 239.2ZM263.9 247.0 L264.6 244.8 L266.5 243.4 L266.5 243.4 L266.2 243.3 L265.2 240.0 L262.5 240.0 L260.0 237.5 L258.9 239.2 L258.6 241.2 L259.0 243.4 L258.0 244.5 L259.0 244.6 L261.7 245.0ZM198.3 149.2 L201.2 147.4 L204.1 149.0 L207.0 148.0 L208.6 145.9 L209.9 143.6 L209.1 140.5 L206.1 141.1 L203.9 138.7 L200.9 139.2 L198.7 137.0 L195.5 137.9 L193.1 136.3 L190.7 134.9 L188.0 134.2 L187.0 138.2 L188.8 140.4 L187.7 143.3 L189.7 145.5 L189.4 148.3 L189.6 148.6 L192.5 147.2 L195.4 147.2ZM539.3 384.2 L540.1 385.4 L542.0 384.3 L544.3 384.2 L546.7 384.8 L549.0 385.0 L547.6 383.6 L546.5 382.0 L546.0 380.0 L543.5 380.9 L541.6 378.8 L539.6 377.9 L539.9 379.6 L538.3 381.9ZM240.1 483.4 L237.5 484.6 L237.3 484.7 L242.5 485.0ZM247.5 466.3 L244.1 468.4 L241.5 466.6 L240.2 469.4 L236.2 468.3 L235.1 471.5 L232.5 472.5 L230.3 474.1 L230.5 477.1 L233.1 479.0 L232.7 482.2 L233.3 484.4 L237.3 484.7 L237.5 484.6 L240.1 483.4 L242.5 485.0 L244.7 487.1 L246.4 487.3 L246.5 487.5 L248.1 486.5 L251.2 487.0 L252.1 484.6 L252.0 481.9 L252.2 479.2 L254.7 477.2 L255.0 474.6 L253.8 471.6 L255.7 469.4 L252.8 469.5 L250.3 467.0ZM448.2 419.9 L446.0 419.0 L445.7 419.0 L444.3 421.4 L444.1 424.6 L440.8 426.0 L439.9 428.7 L440.1 432.1 L437.3 433.8 L440.0 434.3 L441.5 436.3 L442.0 439.5 L444.6 440.1 L447.2 439.5 L448.8 437.2 L451.3 436.6 L453.7 435.6 L455.9 434.3 L456.0 433.7 L456.0 431.1 L454.3 429.2 L453.9 426.6 L453.9 423.9 L451.8 422.9 L449.7 421.8ZM377.2 340.8 L378.2 338.1 L379.0 335.2 L379.2 332.2 L379.8 329.4 L382.1 327.1 L381.2 324.5 L380.1 322.0 L377.9 320.1 L375.5 318.4 L372.4 318.2 L370.2 320.1 L367.2 320.0 L364.7 321.1 L363.0 324.7 L359.9 324.2 L359.8 325.3 L362.4 327.3 L361.4 331.3 L365.3 332.5 L365.2 336.0 L368.1 337.8 L368.3 341.1 L371.2 340.0 L374.3 342.2ZM405.6 356.4 L406.6 353.8 L406.9 351.0 L407.7 348.3 L405.1 344.8 L402.7 343.5 L400.0 343.6 L398.2 345.7 L395.1 346.0 L393.1 347.8 L390.4 348.7 L389.6 352.2 L386.8 352.9 L387.0 357.4 L390.0 356.6 L392.5 358.3 L395.2 358.5 L398.1 358.5 L400.4 360.6 L401.8 358.8 L404.4 358.5ZM411.7 390.6 L411.4 394.2 L413.1 396.3 L416.2 395.5 L417.7 397.1 L418.0 396.3 L418.0 394.0 L417.0 391.9 L416.0 389.8 L416.0 387.5 L416.3 387.2 L415.5 387.5 L414.2 390.1ZM419.3 389.2 L418.0 386.7 L416.3 387.2 L416.0 387.5 L416.0 389.8 L417.0 391.9 L418.0 394.0 L418.0 396.3 L417.7 397.1 L418.0 397.5 L420.1 398.8 L422.4 399.7 L425.1 397.3 L425.6 394.0 L423.4 392.5 L422.0 390.1ZM474.1 370.9 L477.1 371.1 L479.6 370.0 L479.8 367.2 L478.6 364.7 L477.8 362.2 L477.6 359.5 L475.1 360.2 L472.5 360.3 L469.9 360.1 L466.8 364.0 L467.4 367.0 L467.0 370.0 L469.3 371.0 L471.6 372.2ZM366.5 357.1 L369.1 358.3 L371.7 359.2 L374.8 359.4 L376.5 362.3 L379.8 362.1 L381.8 364.4 L384.0 362.5 L385.8 360.2 L387.0 357.4 L386.8 352.9 L385.8 350.4 L384.0 348.3 L381.7 346.5 L381.2 343.7 L378.9 342.6 L377.2 340.8 L374.3 342.2 L371.2 340.0 L368.3 341.1 L367.5 343.9 L364.0 344.7 L362.6 347.0 L361.9 349.9 L361.5 354.6 L364.2 355.5ZM250.3 366.7 L248.0 368.5 L246.3 371.7 L249.3 372.1 L251.6 373.5 L252.7 377.0 L255.2 378.2 L255.6 378.3 L255.5 377.9 L253.5 376.6 L252.6 374.7 L252.5 372.5 L254.6 371.0 L253.8 368.1 L256.6 367.1 L257.1 364.8 L255.6 365.1 L253.6 367.7ZM260.1 367.0 L258.4 364.7 L257.1 364.8 L256.6 367.1 L253.8 368.1 L254.6 371.0 L252.5 372.5 L252.6 374.7 L253.5 376.6 L255.5 377.9 L255.6 378.3 L258.1 378.7 L259.9 381.0 L263.2 380.7 L263.8 381.4 L265.3 381.8 L266.2 381.4 L265.7 378.8 L267.2 376.5 L267.3 373.9 L267.3 371.4 L265.3 369.4 L262.1 369.0ZM272.1 365.7 L274.3 364.5 L273.4 362.0 L272.5 359.6 L270.2 358.2 L267.7 359.3 L265.2 359.9 L262.9 358.9 L262.7 359.0 L261.2 360.6 L260.3 363.1 L258.4 364.7 L260.1 367.0 L262.1 369.0 L265.3 369.4 L267.3 371.4 L267.5 371.3 L268.5 368.9 L271.4 368.4ZM332.3 378.5 L329.6 379.9 L326.9 379.9 L326.2 380.7 L326.0 384.5 L326.9 385.8 L327.5 386.2 L330.0 384.3 L332.5 383.8 L335.0 385.0 L337.1 383.9 L338.9 382.2 L340.7 381.2 L340.5 379.4 L337.8 379.9 L335.1 380.4ZM330.0 389.6 L331.8 390.1 L334.5 390.1 L336.3 388.1 L338.6 387.1 L340.7 385.9 L341.4 383.7 L340.7 381.5 L340.7 381.2 L338.9 382.2 L337.1 383.9 L335.0 385.0 L332.5 383.8 L330.0 384.3 L327.5 386.2 L326.9 385.8 L327.1 386.3 L328.4 388.1ZM663.2 350.9 L664.6 352.9 L666.1 354.8 L667.8 356.5 L670.6 356.4 L672.0 356.1 L672.5 355.0 L675.4 354.7 L676.3 353.5 L676.9 352.0 L677.4 349.2 L680.4 347.4 L680.4 347.1 L672.5 351.0 L669.0 344.0 L668.0 341.4 L666.5 342.3 L663.9 342.6 L663.1 345.3 L664.5 348.2ZM676.3 353.5 L675.4 354.7 L672.5 355.0 L672.0 356.1 L673.3 355.8 L675.9 354.6ZM285.2 282.9 L287.7 282.0 L289.5 280.0 L287.9 277.5 L289.1 274.8 L288.6 272.3 L288.5 269.7 L285.7 271.4 L282.6 270.3 L279.9 272.0 L276.8 271.2 L276.4 273.7 L274.0 275.1 L273.5 277.6 L274.3 279.6 L276.3 280.8 L276.9 282.8 L279.7 283.6 L282.4 283.4ZM201.9 284.2 L200.9 281.3 L199.5 283.4 L197.4 284.8 L195.9 286.7 L194.6 288.8 L197.2 290.2 L197.4 293.6 L199.6 295.4 L201.1 297.7 L203.6 299.2 L205.7 298.3 L205.4 295.5 L208.5 293.8 L207.1 290.8 L208.7 288.6 L207.8 285.7 L205.1 284.7ZM223.2 227.5 L223.1 227.3 L220.4 226.1 L217.7 224.7 L215.2 223.0 L212.9 224.6 L213.6 228.3 L210.6 229.4 L210.1 232.2 L208.0 234.0 L207.3 236.6 L205.0 238.3 L208.0 238.1 L209.7 241.5 L212.4 242.4 L215.5 242.0 L217.9 240.6 L220.1 239.0 L220.3 235.6 L222.6 234.1 L222.6 231.9 L222.7 229.7ZM460.7 473.4 L462.7 475.3 L464.3 477.4 L465.4 479.9 L467.6 478.9 L468.9 476.7 L470.4 474.9 L472.8 474.0 L472.7 471.1 L470.4 468.9 L470.6 467.4 L468.0 467.3 L466.8 467.3 L465.9 467.9 L465.3 467.4 L462.5 467.5 L460.6 473.2ZM276.3 280.8 L274.3 279.6 L273.5 277.6 L270.6 276.6 L267.5 277.7 L266.2 277.2 L266.2 277.7 L268.9 279.7 L267.2 282.7 L268.0 285.1 L269.0 287.5 L269.2 290.0 L269.9 291.9 L270.4 291.4 L272.8 290.3 L274.3 288.0 L275.6 285.4 L276.9 282.8ZM262.0 278.9 L261.6 281.7 L261.6 284.4 L260.2 287.0 L261.6 289.9 L259.8 292.4 L262.7 293.4 L265.7 293.5 L268.5 293.1 L269.9 291.9 L269.2 290.0 L269.0 287.5 L268.0 285.1 L267.2 282.7 L268.9 279.7 L266.2 277.7 L266.2 277.2 L264.6 276.6 L261.7 276.2ZM433.7 349.6 L433.7 349.0 L433.9 346.7 L435.2 344.7 L435.5 344.3 L434.6 343.9 L434.7 343.0 L434.1 343.0 L432.2 341.8 L430.2 341.0 L429.7 344.1 L427.6 346.3 L428.6 349.0 L429.2 351.7 L432.7 351.5 L433.5 349.6ZM657.8 322.3 L657.3 320.0 L656.6 317.8 L654.5 315.3 L651.7 314.4 L648.9 315.9 L646.1 315.2 L646.8 317.7 L646.2 320.2 L644.4 322.7 L646.7 325.2 L645.8 327.7 L648.2 328.8 L650.5 330.0 L653.2 329.8 L657.0 326.8 L657.2 324.6ZM646.0 367.0 L648.4 365.6 L651.1 364.6 L652.7 362.2 L652.0 359.8 L651.5 357.4 L651.7 355.0 L652.6 352.6 L649.7 349.0 L647.3 349.2 L644.9 348.1 L642.5 348.5 L640.1 349.3 L638.0 350.3 L636.1 354.4 L637.3 356.7 L639.1 358.8 L637.2 362.1 L639.6 364.1 L640.7 366.4 L640.7 369.1 L641.9 369.8 L644.3 369.1ZM298.1 402.9 L298.3 400.0 L296.6 398.5 L294.6 397.9 L292.4 398.1 L292.1 399.9 L294.8 401.2 L295.9 403.0 L295.4 405.5 L296.0 407.5 L298.4 408.7 L300.7 409.9 L301.7 409.4 L302.0 407.0 L299.5 405.2ZM294.1 411.0 L297.0 411.3 L299.7 412.6 L302.9 412.3 L301.7 410.0 L301.7 409.4 L300.7 409.9 L298.4 408.7 L296.0 407.5 L295.4 405.5 L295.9 403.0 L294.8 401.2 L292.1 399.9 L292.4 398.1 L292.3 398.1 L289.9 398.7 L289.2 401.3 L287.1 402.2 L286.7 404.9 L285.8 407.6 L289.0 407.1 L291.6 408.7ZM258.1 461.9 L258.5 459.0 L258.1 456.2 L255.0 454.3 L255.0 451.4 L252.8 451.8 L251.2 449.7 L249.0 449.8 L246.5 450.9 L243.6 451.1 L241.5 453.1 L242.9 455.8 L241.0 458.5 L241.4 461.2 L242.6 463.9 L241.5 466.6 L244.1 468.4 L247.5 466.3 L250.3 467.0 L252.8 469.5 L255.7 469.4 L259.7 467.2 L259.3 464.4ZM358.1 313.4 L358.1 316.3 L358.7 319.2 L358.5 322.2 L359.9 324.2 L363.0 324.7 L364.7 321.1 L367.2 320.0 L370.2 320.1 L372.4 318.2 L375.5 318.4 L376.3 315.7 L375.4 312.8 L375.4 312.8 L375.0 312.6 L373.0 311.1 L371.8 308.5 L368.8 308.5 L367.5 306.0 L365.0 305.2 L364.0 303.7 L363.8 304.0 L360.4 302.9 L358.1 304.5 L359.0 307.4 L358.9 310.4ZM276.1 352.3 L276.1 352.3 L277.6 352.0 L279.3 350.3 L279.8 347.1 L282.6 346.9 L284.0 344.8 L284.7 344.8 L284.6 342.7 L283.8 342.0 L281.4 341.7 L280.7 342.2 L279.2 342.4 L278.6 342.6 L276.8 345.1 L274.6 346.7 L271.8 346.3 L274.0 347.9 L275.2 350.0ZM283.7 353.2 L284.8 350.6 L286.0 348.2 L284.8 345.6 L284.7 344.8 L284.0 344.8 L282.6 346.9 L279.8 347.1 L279.3 350.3 L277.6 352.0 L276.1 352.3 L276.4 354.9 L281.2 354.6ZM309.3 398.5 L309.4 398.6 L309.4 398.0 L307.7 396.3 L306.9 394.1 L306.0 393.4 L306.3 395.3 L307.2 397.5ZM312.8 387.0 L311.1 389.9 L308.3 390.3 L306.6 390.8 L305.8 391.6 L306.0 393.4 L306.9 394.1 L307.7 396.3 L309.4 398.0 L309.4 398.6 L311.0 400.0 L312.4 397.7 L314.9 396.6 L316.1 394.1 L318.5 392.9 L317.4 388.3 L315.8 387.2ZM418.3 385.8 L420.4 385.2 L422.0 383.3 L422.4 382.8 L420.9 383.2 L418.5 385.1ZM426.7 381.5 L423.8 382.3 L422.4 382.8 L422.0 383.3 L420.4 385.2 L418.3 385.8 L418.0 386.7 L419.3 389.2 L422.0 390.1 L423.4 392.5 L425.6 394.0 L426.3 391.3 L428.2 389.9 L431.4 389.9 L432.6 387.7 L433.2 386.1 L431.1 384.5 L429.0 382.8ZM210.1 475.0 L207.9 473.8 L206.0 472.3 L204.8 470.1 L202.5 469.0 L211.0 477.5ZM194.5 468.3 L195.6 470.9 L197.1 472.2 L202.5 469.0 L200.2 467.8 L199.8 466.2 L196.9 465.8 L194.8 467.6ZM205.0 464.8 L202.3 465.1 L199.9 466.2 L199.8 466.2 L200.2 467.8 L202.5 469.0 L204.8 470.1 L206.0 472.3 L207.9 473.8 L210.1 475.0 L211.0 477.5 L213.6 478.5 L215.4 478.2 L216.3 475.5 L219.7 475.6 L220.6 472.8 L218.0 471.2 L216.0 469.0 L215.6 465.7 L212.8 464.2 L212.0 461.1 L209.5 461.9 L206.6 461.5ZM137.6 432.4 L136.9 429.8 L138.1 427.1 L135.6 426.5 L134.6 424.2 L132.5 423.2 L131.3 421.1 L128.5 420.9 L126.2 421.8 L135.0 435.0 L120.5 438.3 L121.8 440.9 L124.7 441.6 L127.5 440.6 L130.4 441.0 L133.3 441.2 L136.2 441.2 L139.0 440.2 L138.2 437.6 L138.4 435.0ZM525.1 422.7 L533.5 424.6 L533.4 424.0 L531.3 422.9 L531.0 420.2 L529.2 418.8 L527.9 418.8 L526.2 421.1ZM456.9 372.5 L455.6 374.3 L454.2 376.1 L453.3 378.2 L455.3 379.6 L455.0 382.6 L458.0 383.4 L458.3 385.9 L459.4 386.0 L460.6 384.1 L462.6 383.4 L464.5 382.6 L463.2 380.1 L462.8 377.5 L462.7 375.0 L463.4 372.3 L461.3 372.2 L459.1 372.8ZM560.0 342.0 L557.6 343.0 L555.0 343.0 L553.6 342.4 L554.5 343.5 L556.8 345.3 L559.2 347.0 L563.2 346.3 L563.3 343.5 L561.9 342.6ZM548.7 341.4 L551.7 341.1 L550.8 340.3 L548.8 338.8 L547.8 337.2 L546.6 335.8 L546.0 334.0 L545.9 334.0 L546.2 335.7 L547.2 338.3ZM542.9 317.6 L539.6 319.7 L540.3 322.8 L542.5 324.9 L543.0 327.8 L544.2 330.4 L545.8 332.8 L545.9 334.0 L546.0 334.0 L547.2 332.1 L548.0 330.0 L547.5 328.2 L546.3 326.7 L545.6 325.0 L547.0 322.9 L545.9 320.4 L546.9 318.2 L547.5 316.0 L547.1 314.2 L546.9 312.3 L546.2 310.6 L544.1 310.1 L543.7 310.0 L542.6 311.6 L543.2 314.7ZM215.6 465.7 L216.0 469.0 L218.0 471.2 L220.6 472.8 L223.0 473.1 L225.5 472.3 L227.9 473.0 L227.4 470.3 L228.2 467.6 L227.6 464.9 L228.3 462.2 L227.1 459.6 L228.1 456.9 L227.1 454.2 L226.8 451.5 L227.6 448.8 L223.8 447.8 L222.2 450.4 L219.8 452.0 L216.9 452.9 L214.2 454.1 L212.4 456.3 L212.0 461.1 L212.8 464.2ZM184.2 473.8 L185.7 471.7 L183.7 469.7 L181.2 468.2 L178.8 466.6 L180.0 470.0 L170.7 472.3 L172.0 474.0 L179.8 481.8 L181.3 480.9 L183.8 479.3 L182.7 475.9ZM170.3 458.2 L169.1 460.1 L167.5 461.8 L165.6 463.2 L164.5 465.2 L164.6 465.3 L166.0 466.0 L167.8 468.5 L166.0 465.0 L170.4 458.2ZM327.9 304.9 L330.4 305.5 L332.5 307.7 L335.0 308.3 L337.1 306.8 L339.6 305.9 L342.1 304.9 L343.9 303.0 L345.5 301.0 L346.3 298.4 L346.0 296.9 L343.0 297.0 L340.4 294.8 L337.3 295.9 L334.3 296.0 L331.5 295.3 L328.7 293.9 L325.9 293.0 L324.1 293.6 L326.0 294.0 L327.5 302.5 L325.2 305.4ZM367.5 343.9 L368.3 341.1 L368.1 337.8 L365.2 336.0 L365.3 332.5 L361.4 331.3 L362.4 327.3 L359.8 325.3 L357.4 326.6 L356.4 329.5 L353.6 330.1 L353.6 333.0 L352.2 335.2 L350.4 337.2 L349.1 339.5 L348.3 342.0 L350.4 343.5 L352.0 346.0 L354.2 345.5 L351.0 337.5 L359.0 336.0 L362.5 345.0 L359.3 347.5 L359.9 348.1 L361.9 349.9 L362.6 347.0 L364.0 344.7ZM446.4 398.2 L445.5 400.8 L447.8 401.8 L450.5 402.1 L451.1 404.8 L452.5 404.5 L454.2 404.7 L454.6 403.6 L455.6 401.1 L457.5 399.2 L456.7 396.9 L456.0 394.6 L453.5 393.4 L452.3 391.4 L450.7 391.4 L449.9 394.0 L447.8 395.9ZM454.2 404.7 L452.5 404.5 L451.1 404.8 L451.3 405.4 L453.8 406.1ZM669.9 409.4 L672.4 409.6 L673.4 409.0 L671.1 407.2 L672.2 403.8 L668.9 402.5 L667.7 400.1 L667.4 397.4 L667.0 394.8 L664.8 396.0 L662.5 395.9 L660.1 395.4 L658.2 397.6 L658.7 400.4 L658.9 403.3 L661.6 405.3 L662.3 408.0 L664.7 409.5 L667.4 408.6ZM497.6 420.6 L497.5 420.5 L495.0 420.0 L494.2 421.5 L496.9 422.0ZM485.0 420.5 L485.0 420.0 L494.2 421.5 L495.0 420.0 L497.5 420.5 L496.7 417.7 L497.5 415.1 L500.0 412.9 L499.7 410.1 L498.0 409.0 L495.9 408.8 L494.2 407.5 L491.8 408.2 L489.3 408.4 L487.5 410.8 L484.4 409.3 L482.5 411.3 L480.9 414.4 L481.7 418.3 L483.5 419.7ZM484.7 484.5 L485.9 487.0 L500.0 480.0 L502.3 475.8 L501.2 474.9 L500.2 472.8 L497.9 472.7 L495.6 472.4 L493.4 471.7 L491.2 473.1 L489.0 474.7 L485.8 474.1 L483.7 476.0 L484.9 478.7 L484.5 481.6ZM535.1 412.2 L534.4 415.6 L530.9 416.3 L529.2 418.8 L531.0 420.2 L531.3 422.9 L533.4 424.0 L534.7 424.9 L535.0 425.0 L535.1 425.2 L535.7 425.6 L537.9 427.2 L540.2 428.7 L542.8 429.5 L544.5 429.3 L544.5 429.2 L542.8 427.3 L542.5 425.0 L542.8 422.4 L540.3 420.2 L540.5 417.6 L541.4 414.9 L540.9 412.4 L540.5 411.4 L540.2 411.5 L537.5 410.5ZM453.3 378.2 L454.2 376.1 L455.6 374.3 L456.9 372.5 L455.2 370.3 L453.5 368.1 L452.5 365.4 L449.1 365.5 L446.0 367.8 L445.4 370.7 L446.3 373.4 L445.2 376.3 L446.9 379.0 L449.0 378.6 L451.2 378.9ZM698.4 309.8 L700.5 307.7 L701.5 305.2 L701.6 302.6 L701.2 301.7 L698.8 302.9 L696.4 304.4 L693.1 302.0 L690.7 303.2 L688.6 306.2 L685.7 305.4 L683.1 305.9 L683.1 306.0 L684.2 308.1 L683.4 310.4 L683.7 312.6 L686.4 313.8 L688.8 315.7 L692.3 314.8 L694.3 317.6 L695.3 316.9 L696.6 317.2 L697.5 316.9 L697.4 315.0 L699.0 312.7ZM213.5 310.6 L211.4 309.8 L209.0 310.7 L206.3 312.2 L205.6 315.3 L203.5 317.2 L203.6 319.8 L206.7 319.6 L209.7 319.7 L212.1 322.2 L215.2 321.8 L217.9 323.3 L219.2 321.2 L217.5 318.7 L217.9 316.5 L219.1 314.4 L216.6 314.3 L214.8 312.8ZM613.0 357.8 L610.7 356.2 L608.5 354.4 L605.6 354.8 L603.1 354.0 L600.8 355.4 L597.9 355.6 L596.0 357.7 L594.4 360.2 L594.4 363.0 L593.6 365.7 L595.8 367.8 L598.1 369.3 L601.1 368.3 L603.5 369.4 L606.2 369.7 L606.9 370.4 L608.3 369.2 L610.0 367.5 L611.6 366.0 L613.3 364.8 L615.9 365.4 L616.1 365.2 L616.6 362.7 L618.3 360.9 L618.1 358.8 L615.5 358.5ZM612.2 368.7 L613.8 366.8 L616.1 365.4 L616.1 365.2 L615.9 365.4 L613.3 364.8 L611.6 366.0 L610.0 367.5 L608.3 369.2 L606.9 370.4 L608.3 371.8 L611.3 371.1ZM472.1 413.2 L469.0 414.5 L466.2 412.7 L464.6 414.7 L465.2 417.4 L463.8 419.5 L466.4 421.0 L468.3 423.1 L469.2 425.9 L469.2 426.0 L472.5 425.0 L472.7 425.5 L475.9 425.0 L477.5 422.4 L478.6 419.2 L481.7 418.3 L480.9 414.4 L477.8 415.0 L475.0 413.9ZM647.4 404.4 L649.3 402.3 L649.6 399.9 L649.8 398.9 L649.3 398.8 L646.5 399.6 L646.4 403.1 L647.1 406.0 L647.3 406.1ZM652.8 412.6 L654.1 415.2 L654.6 415.2 L657.3 414.2 L658.2 411.3 L659.8 409.1 L662.3 408.0 L661.6 405.3 L658.9 403.3 L658.7 400.4 L658.2 397.6 L655.1 397.0 L652.6 400.1 L649.8 398.9 L649.6 399.9 L649.3 402.3 L647.4 404.4 L647.3 406.1 L650.1 407.5 L651.3 410.2ZM187.4 269.9 L184.7 269.1 L182.3 267.1 L179.5 266.7 L176.9 267.0 L174.8 268.3 L174.5 268.5 L174.3 270.9 L172.8 272.7 L172.5 275.0 L171.0 277.0 L169.5 279.0 L168.5 279.1 L169.1 281.3 L172.1 281.1 L173.9 284.4 L176.6 285.2 L179.4 285.4 L182.2 285.9 L184.6 287.5 L187.5 287.7 L190.2 288.4 L192.7 289.5 L194.6 288.8 L195.9 286.7 L197.4 284.8 L199.5 283.4 L200.9 281.3 L201.1 280.1 L199.9 277.8 L197.6 276.3 L198.3 272.9 L195.8 271.5 L193.5 269.2 L190.6 268.9ZM289.3 212.0 L291.6 214.0 L294.3 215.4 L296.8 216.9 L299.3 218.5 L301.1 221.1 L304.1 219.3 L305.7 216.9 L305.3 213.9 L306.4 211.4 L304.2 209.6 L301.9 208.0 L299.1 207.1 L296.6 205.8 L295.2 202.7 L291.9 202.6 L289.8 200.7 L288.5 203.4 L285.6 204.1 L284.0 206.3 L281.5 207.6 L283.1 210.6 L286.3 211.2ZM147.6 405.5 L147.3 408.2 L146.7 411.0 L146.3 413.8 L149.0 416.6 L147.1 419.3 L147.5 422.1 L150.6 421.4 L153.0 423.5 L155.4 425.4 L158.5 424.7 L159.1 422.3 L158.7 419.8 L158.4 417.3 L159.9 415.1 L158.0 412.9 L155.7 411.0 L154.5 408.4 L153.8 405.4 L151.0 405.5 L148.3 405.0ZM119.2 475.1 L118.2 472.5 L119.6 469.5 L118.0 466.9 L115.4 467.4 L113.8 465.4 L111.8 464.0 L109.6 463.5 L108.6 465.8 L106.8 467.6 L104.2 468.8 L103.3 471.2 L102.3 473.5 L104.8 475.2 L106.3 477.4 L105.6 480.9 L108.0 482.6 L108.2 485.7 L110.3 487.5 L111.8 489.8 L113.6 491.8 L115.0 489.5 L117.2 487.7 L118.1 484.9 L120.4 483.3 L119.1 480.7 L119.8 477.8ZM533.7 383.4 L531.3 386.5 L528.6 386.9 L525.7 385.8 L525.1 387.9 L523.6 389.7 L522.9 391.8 L524.5 394.9 L527.1 395.3 L528.0 395.6 L529.1 394.6 L531.3 394.3 L532.9 392.9 L535.0 392.5 L536.6 390.6 L536.3 388.0 L537.5 386.0 L539.8 385.7 L540.1 385.4 L539.3 384.2 L536.7 385.2ZM425.9 374.9 L423.3 375.9 L420.5 375.5 L417.8 375.7 L415.6 378.6 L416.5 380.8 L416.7 383.4 L418.5 385.1 L420.9 383.2 L422.4 382.8 L423.5 381.0 L426.2 380.6 L426.7 380.3 L426.7 379.3 L426.8 377.1ZM423.5 381.0 L422.4 382.8 L423.8 382.3 L426.7 381.5 L426.7 380.3 L426.2 380.6ZM285.6 204.1 L288.5 203.4 L289.8 200.7 L291.8 198.6 L291.8 195.6 L292.3 193.0 L292.5 190.1 L294.7 188.0 L294.9 185.2 L292.4 184.1 L289.6 184.5 L287.7 184.0 L287.5 184.0 L287.4 183.9 L286.5 183.7 L283.7 184.4 L281.0 185.7 L279.4 188.0 L278.5 190.7 L275.7 192.3 L274.2 194.6 L273.1 197.3 L270.8 199.1 L270.5 202.3 L272.2 204.4 L273.4 206.8 L277.1 208.0 L281.5 207.6 L284.0 206.3ZM269.9 291.9 L270.0 292.2 L272.9 293.5 L274.3 295.5 L272.7 298.8 L273.3 299.1 L275.1 298.8 L277.6 298.0 L280.0 299.0 L280.6 294.5 L280.1 291.9 L278.7 291.3 L277.5 296.0 L274.0 295.0 L275.0 289.0 L277.0 289.5 L276.6 288.9 L274.3 288.0 L272.8 290.3 L270.4 291.4ZM267.0 295.4 L269.0 296.7 L270.2 298.7 L272.7 299.2 L273.3 299.1 L272.7 298.8 L274.3 295.5 L272.9 293.5 L270.0 292.2 L269.9 291.9 L268.5 293.1 L265.7 293.5ZM244.9 377.7 L244.9 380.4 L247.8 382.5 L245.3 385.7 L246.8 388.1 L248.9 390.4 L248.4 393.2 L251.2 391.7 L254.1 392.9 L256.9 391.7 L259.8 392.9 L262.1 393.9 L262.5 392.5 L264.0 390.5 L265.9 389.2 L266.1 389.3 L265.5 387.9 L264.4 385.4 L265.2 382.9 L263.8 381.4 L263.0 381.2 L260.5 381.6 L258.1 381.8 L256.0 380.0 L255.6 378.3 L255.2 378.2 L252.7 377.0 L251.6 373.5 L249.3 372.1 L246.3 371.7 L245.5 372.4 L244.6 375.0ZM266.6 390.4 L266.1 389.3 L265.9 389.2 L264.0 390.5 L262.5 392.5 L262.1 393.9 L262.7 394.2 L265.5 393.0ZM258.1 378.7 L255.6 378.3 L256.0 380.0 L258.1 381.8 L260.5 381.6 L263.0 381.2 L263.8 381.4 L263.2 380.7 L259.9 381.0ZM209.7 319.7 L206.7 319.6 L203.6 319.8 L202.9 322.4 L201.0 324.2 L200.0 326.6 L199.8 329.5 L198.4 331.6 L195.9 333.2 L198.4 334.9 L200.4 337.0 L201.4 340.0 L203.1 342.3 L204.2 345.2 L207.1 346.6 L208.9 347.0 L212.5 342.5 L214.9 348.1 L216.9 346.5 L218.0 343.9 L217.8 340.4 L220.6 338.9 L221.9 336.4 L219.6 334.0 L220.4 331.6 L219.2 329.1 L220.5 326.7 L217.9 323.3 L215.2 321.8 L212.1 322.2ZM638.5 439.5 L640.3 441.7 L643.4 442.6 L646.1 440.6 L649.1 441.1 L651.9 440.2 L652.4 440.4 L652.5 440.0 L652.4 437.3 L654.7 435.2 L652.8 432.2 L655.0 430.4 L654.8 429.8 L651.5 429.3 L649.3 427.3 L647.8 424.3 L644.8 423.3 L644.4 423.4 L643.3 426.2 L639.7 426.7 L638.5 429.5 L636.7 431.7 L638.7 433.8 L638.1 436.9ZM480.0 397.5 L481.5 399.7 L483.5 401.2 L486.2 401.7 L487.3 404.5 L490.0 405.0 L492.2 404.4 L492.4 404.3 L492.3 402.5 L492.5 399.7 L489.8 399.5 L487.0 399.6 L484.4 398.9 L482.0 397.2 L479.3 396.9 L478.6 399.4 L478.6 399.4ZM480.3 406.7 L482.5 408.7 L482.5 411.3 L484.4 409.3 L487.5 410.8 L489.3 408.4 L491.8 408.2 L494.2 407.5 L492.4 405.2 L492.4 404.3 L492.2 404.4 L490.0 405.0 L487.3 404.5 L486.2 401.7 L483.5 401.2 L481.5 399.7 L480.0 397.5 L478.6 399.4 L479.6 401.7 L481.1 403.8ZM330.0 389.6 L328.4 388.1 L327.1 386.3 L326.9 385.8 L325.0 384.9 L324.8 384.8 L323.7 385.1 L321.9 387.0 L319.7 387.8 L317.4 388.3 L318.5 392.9 L320.5 395.0 L323.3 395.7 L325.6 393.8 L328.7 392.7ZM281.9 302.0 L280.7 299.9 L280.0 299.0 L277.6 298.0 L275.1 298.8 L273.3 299.1 L275.5 300.1 L276.0 302.5 L275.6 305.0 L275.8 307.5 L275.6 308.1 L276.1 308.7 L279.5 307.9 L280.9 310.3 L282.0 309.0 L281.4 306.7 L280.2 304.6ZM270.5 303.6 L272.3 305.4 L274.5 306.5 L275.6 308.1 L275.8 307.5 L275.6 305.0 L276.0 302.5 L275.5 300.1 L273.3 299.1 L272.7 299.2 L270.2 298.7ZM274.2 194.6 L275.7 192.3 L278.5 190.7 L279.4 188.0 L281.0 185.7 L278.5 184.0 L275.3 183.2 L274.9 179.0 L271.4 178.6 L269.8 175.9 L269.6 175.8 L267.5 176.0 L265.4 174.5 L265.1 173.7 L262.4 171.2 L262.2 173.6 L260.6 176.3 L261.9 179.1 L261.8 181.8 L260.4 184.4 L263.1 187.3 L261.3 189.9 L260.5 192.6 L260.1 195.3 L261.1 198.1 L264.0 197.8 L265.2 201.3 L268.0 201.4 L270.5 202.3 L270.8 199.1 L273.1 197.3ZM228.1 245.1 L226.3 247.1 L226.4 250.4 L224.0 251.9 L225.9 252.9 L226.5 255.4 L228.5 256.3 L230.9 255.0 L233.6 256.3 L236.2 255.6 L236.3 252.8 L237.2 250.4 L239.0 248.4 L238.3 245.6 L238.0 242.7 L236.0 240.5 L231.3 240.9 L229.1 242.6ZM527.2 378.5 L524.6 379.3 L525.5 381.4 L526.1 383.5 L525.7 385.8 L528.6 386.9 L531.3 386.5 L533.7 383.4 L536.7 385.2 L539.3 384.2 L538.3 381.9 L539.9 379.6 L539.6 377.9 L539.4 377.8 L537.0 378.4 L534.9 377.2 L532.5 377.5 L532.1 375.4 L531.3 374.9 L531.0 375.2 L528.3 375.7ZM251.5 742.9 L251.4 745.3 L253.7 747.1 L256.3 748.6 L258.5 749.5 L257.5 742.5 L251.8 740.6ZM730.4 329.0 L731.5 329.4 L733.8 330.0 L736.0 330.0 L737.6 331.5 L740.1 331.6 L741.4 333.6 L743.1 335.0 L745.0 336.0 L743.0 334.3 L743.4 331.2 L740.3 330.2 L740.0 327.5 L741.3 325.4 L743.2 323.7 L743.6 321.1 L745.0 319.0 L746.4 317.4 L748.8 317.0 L750.0 315.0 L750.7 313.1 L751.4 311.1 L751.0 309.0 L750.0 307.2 L749.1 305.4 L747.5 304.0 L745.2 303.2 L743.4 302.0 L740.6 303.2 L738.4 305.2 L736.3 307.3 L733.2 308.3 L731.6 310.9 L729.5 313.0 L729.4 315.8 L728.5 318.3 L724.9 319.5 L725.1 322.4 L726.2 325.4 L729.7 326.3ZM638.0 370.5 L640.7 369.1 L640.7 366.4 L639.6 364.1 L637.2 362.1 L639.1 358.8 L637.3 356.7 L636.1 354.4 L633.6 356.0 L633.5 356.0 L631.0 361.0 L624.0 357.5 L626.6 354.9 L626.0 355.1 L623.4 354.4 L620.9 355.2 L618.1 358.8 L618.3 360.9 L619.2 363.6 L621.1 365.3 L622.7 365.3 L625.1 363.9 L627.4 366.1 L630.0 365.0 L629.5 367.4 L628.2 369.2 L628.1 369.2 L629.2 371.3 L631.8 369.4 L635.0 370.3ZM628.0 369.0 L628.1 369.2 L628.2 369.2 L629.5 367.4 L630.0 365.0 L627.4 366.1 L625.1 363.9 L622.7 365.3 L624.4 365.4 L626.0 367.4ZM220.7 211.8 L217.5 211.5 L215.7 214.2 L213.2 215.4 L210.4 216.1 L211.0 219.1 L213.2 221.0 L215.2 223.0 L217.7 224.7 L220.4 226.1 L223.1 227.3 L224.5 224.8 L226.9 223.0 L228.2 220.4 L230.3 218.4 L229.6 216.4 L229.4 214.2 L228.7 212.1 L225.8 209.4 L223.6 211.4ZM252.4 238.9 L254.8 239.0 L256.7 237.6 L258.2 235.8 L258.5 235.2 L257.3 233.9 L256.9 231.5 L255.0 230.0 L253.4 228.3 L251.6 226.7 L250.0 225.0 L249.4 224.5 L248.1 226.8 L248.5 229.7 L245.9 231.7 L247.6 235.0 L245.9 237.3 L247.7 238.7 L250.1 238.1ZM255.7 230.1 L253.7 228.5 L253.8 225.4 L252.0 223.6 L249.5 224.4 L249.4 224.5 L250.0 225.0 L251.6 226.7 L253.4 228.3 L255.0 230.0 L256.9 231.5 L257.3 233.9 L258.5 235.2 L259.3 233.6 L258.3 231.3ZM350.2 358.9 L347.7 359.4 L345.3 358.6 L345.8 361.5 L345.3 364.1 L344.3 366.7 L342.2 369.1 L341.9 371.8 L342.3 374.6 L342.3 374.7 L344.6 375.5 L346.9 375.7 L349.2 375.3 L351.5 375.0 L352.9 372.4 L354.3 369.8 L355.2 367.0 L354.3 363.5 L356.1 361.1 L357.5 358.5 L355.1 358.7 L352.6 357.5ZM327.4 418.4 L325.1 417.3 L322.8 416.0 L320.4 417.7 L317.7 418.7 L314.9 419.4 L312.1 420.1 L312.9 422.8 L313.5 425.5 L312.4 428.5 L314.3 430.9 L317.2 431.2 L320.0 431.6 L322.8 432.1 L325.6 432.7 L328.5 432.6 L329.9 430.1 L332.2 428.4 L333.9 426.7 L334.2 425.6 L334.1 423.7 L334.7 421.0 L332.8 418.9 L330.0 418.8Z" fill="#dedede" stroke="#fff" stroke-width="0.72" stroke-opacity="0.92"/>
<path d="M542.4 460.2 L539.0 459.6 L537.5 462.9 L534.5 463.2 L531.6 463.8 L529.5 465.9 L529.5 465.9 L531.6 468.0 L534.6 468.2 L536.6 470.6 L536.6 470.6 L541.0 467.5 L546.0 457.8 L544.6 458.2ZM193.9 529.9 L191.4 530.0 L189.0 529.0 L187.4 531.0 L185.7 533.1 L185.4 534.3 L186.0 535.0 L186.0 535.0 L186.0 535.0 L183.7 537.3 L183.4 537.7 L181.5 539.6 L181.5 542.6 L182.6 545.3 L184.5 547.6 L185.4 550.3 L187.5 552.5 L187.1 556.0 L190.7 557.3 L191.0 560.4 L192.5 559.3 L193.7 556.7 L194.3 553.8 L198.2 552.9 L198.5 549.8 L199.5 547.1 L198.0 544.0 L198.9 541.2 L201.2 538.6 L199.5 535.5 L201.7 532.9 L201.3 529.9 L198.9 528.8 L196.2 531.1ZM261.6 527.6 L261.4 530.4 L260.1 532.8 L258.9 535.2 L259.6 538.2 L257.6 540.4 L260.4 538.9 L263.5 539.6 L266.4 538.8 L269.1 537.1 L272.1 537.1 L275.0 536.4 L278.0 536.3 L280.9 535.1 L283.8 534.5 L287.1 536.1 L289.9 535.0 L290.2 532.6 L288.3 530.7 L289.1 528.2 L287.9 526.2 L285.3 524.9 L283.9 522.2 L282.1 520.0 L280.0 518.2 L277.4 516.9 L274.8 515.7 L272.5 516.7 L270.6 518.6 L268.2 519.2 L266.1 520.4 L263.3 519.8 L263.2 522.6 L262.9 525.2ZM216.0 368.9 L222.5 370.0 L220.7 363.6 L218.7 362.5 L217.1 364.8 L215.8 367.1ZM221.5 597.0 L220.2 595.9 L219.3 596.0 L218.2 598.2 L215.9 598.1 L214.3 599.6 L214.1 599.7 L213.9 602.0 L211.7 603.8 L208.6 604.6 L206.0 606.0 L204.0 608.0 L202.3 610.5 L200.8 611.3 L201.3 612.2 L200.6 613.8 L200.9 614.3 L201.0 617.0 L201.1 617.2 L201.1 617.3 L202.9 619.5 L202.7 622.6 L204.4 624.9 L207.2 624.3 L209.9 624.8 L212.7 626.2 L215.4 623.5 L218.1 625.9 L220.9 625.7 L223.6 624.8 L224.0 622.0 L225.1 619.7 L227.5 618.0 L227.9 615.3 L229.0 612.9 L231.2 611.2 L230.6 608.6 L228.8 606.3 L229.8 603.2 L228.1 600.9 L226.7 598.5 L223.3 599.1ZM201.3 612.2 L200.8 611.3 L199.7 611.8 L200.6 613.8ZM271.8 604.6 L268.7 606.9 L270.7 609.2 L271.5 608.1 L273.0 606.3 L275.0 605.0 L274.3 602.5 L275.4 600.0 L275.7 598.1 L274.1 598.1 L271.6 596.5 L272.0 599.2 L269.8 601.7ZM268.9 617.8 L273.1 620.0 L274.7 619.5 L274.8 619.5 L276.0 619.0 L275.1 616.7 L276.3 614.3 L276.0 612.0 L274.3 610.6 L272.2 610.1 L271.3 610.0 L269.9 612.5 L269.6 615.1ZM272.2 610.1 L274.3 610.6 L276.0 612.0 L276.3 614.3 L275.1 616.7 L276.0 619.0 L278.1 619.3 L280.0 620.0 L280.0 620.0 L280.0 620.0 L280.2 620.1 L281.4 619.7 L283.5 617.6 L283.5 614.2 L286.4 612.4 L287.8 609.8 L288.6 606.9 L288.2 604.3 L285.5 602.7 L285.4 599.9 L282.6 599.6 L280.1 597.9 L277.1 598.1 L275.7 598.1 L275.4 600.0 L274.3 602.5 L275.0 605.0 L273.0 606.3 L271.5 608.1 L270.7 609.2 L271.3 610.0 L271.3 610.0ZM282.3 740.7 L282.7 737.6 L283.7 736.8 L282.0 731.3 L282.7 737.0 L281.6 741.3ZM209.9 499.1 L213.1 499.3 L214.7 496.8 L213.2 494.0 L213.8 490.9 L213.6 488.0 L213.0 485.1 L214.4 481.9 L212.8 479.1 L210.5 477.6 L207.9 479.6 L205.5 478.7 L203.0 478.7 L202.8 481.4 L201.0 483.2 L199.5 485.2 L201.2 487.5 L200.3 490.4 L202.7 492.5 L200.6 495.7 L201.3 498.2 L203.4 500.4 L205.6 502.3 L208.4 501.8ZM479.8 432.9 L481.4 430.3 L484.3 429.4 L484.6 429.1 L477.2 431.7 L476.7 433.3 L475.0 435.0 L474.8 436.7 L475.4 436.6 L476.6 433.5ZM486.4 427.5 L486.8 426.8 L485.9 425.9 L485.0 426.0 L485.0 428.8ZM472.4 425.5 L470.8 428.2 L472.3 430.6 L470.7 433.0 L469.3 435.4 L470.7 437.8 L472.4 437.3 L474.8 436.7 L475.0 435.0 L476.7 433.3 L477.2 431.7 L475.0 432.5 L472.7 425.5ZM485.9 425.9 L486.8 426.8 L488.0 424.9 L485.6 424.0 L485.6 420.9 L485.0 420.5 L485.0 426.0ZM230.2 675.6 L233.7 676.3 L235.6 673.6 L238.4 673.0 L240.4 670.5 L243.0 669.3 L246.3 669.5 L248.7 667.9 L248.7 667.7 L246.9 665.1 L243.9 664.3 L242.4 661.4 L239.4 660.5 L236.7 659.2 L233.9 658.2 L231.8 656.1 L230.4 658.4 L230.3 661.4 L229.2 663.9 L226.5 665.6 L225.4 668.1 L225.5 671.2 L225.4 674.1 L223.1 676.1 L221.7 678.4 L222.8 680.0 L225.9 680.0 L227.6 676.8ZM384.6 470.1 L386.0 467.9 L387.3 465.6 L387.7 462.4 L386.3 459.9 L383.8 457.7 L383.6 454.7 L380.9 456.0 L377.9 455.6 L374.8 454.6 L372.0 455.1 L371.3 455.6 L374.0 456.0 L370.0 466.0 L368.8 468.0 L369.5 470.0 L370.4 473.2 L373.3 474.5 L375.1 476.8 L377.6 478.5 L381.3 477.1 L383.9 475.6 L382.4 471.9ZM141.7 462.2 L144.1 460.5 L147.0 460.7 L146.6 458.1 L146.6 455.5 L145.9 452.9 L147.3 450.4 L147.9 447.9 L147.8 445.3 L145.6 444.8 L146.0 452.5 L140.0 462.5 L140.8 462.7ZM255.3 680.4 L255.0 677.1 L251.5 676.0 L250.7 673.1 L249.1 670.8 L246.7 672.5 L245.4 675.0 L243.4 677.0 L241.9 679.3 L242.0 682.9 L239.7 684.7 L237.5 686.6 L239.1 689.1 L242.6 689.3 L243.3 692.9 L245.9 694.2 L248.5 695.6 L251.0 694.3 L253.4 692.7 L255.0 690.0 L258.1 689.5 L260.1 687.4 L259.3 684.5 L255.6 683.5ZM279.7 563.0 L279.1 560.5 L279.0 558.0 L277.1 558.7 L275.0 559.0 L273.6 559.2 L273.5 561.2 L275.6 563.0 L276.6 565.5 L277.0 565.7 L277.1 565.1ZM280.1 549.6 L278.0 551.3 L274.8 551.0 L273.1 553.6 L270.2 553.8 L270.8 556.5 L273.7 558.0 L273.6 559.2 L275.0 559.0 L277.1 558.7 L279.0 558.0 L280.0 555.8 L280.7 553.5 L283.6 552.5 L284.0 550.0 L285.3 547.6 L285.6 545.1 L285.6 545.0 L284.2 545.7 L282.5 548.3ZM283.3 561.6 L283.9 558.7 L285.9 556.4 L285.4 552.9 L288.2 551.0 L290.3 548.8 L289.9 545.3 L292.0 543.1 L289.2 543.5 L286.6 544.5 L285.6 545.0 L285.6 545.1 L285.3 547.6 L284.0 550.0 L283.6 552.5 L280.7 553.5 L280.0 555.8 L279.0 558.0 L279.1 560.5 L279.7 563.0 L277.1 565.1 L277.0 565.7 L280.1 566.6 L282.0 564.3ZM232.7 691.7 L234.7 689.4 L235.7 686.8 L233.3 685.3 L230.5 684.6 L228.1 683.0 L225.7 681.3 L222.9 680.5 L221.4 682.8 L222.5 686.1 L219.5 688.0 L219.3 690.8 L219.4 693.9 L220.5 696.5 L222.4 698.9 L224.6 697.4 L226.9 697.4 L229.3 697.8 L231.7 697.9 L232.2 697.4 L231.7 694.3ZM163.4 480.6 L159.8 481.7 L158.8 480.8 L158.2 482.8 L159.1 485.2 L160.4 487.5 L160.4 487.6 L160.4 487.4 L160.0 484.0 L166.7 483.5 L165.4 483.0ZM284.9 329.2 L283.9 324.0 L283.5 323.1 L281.5 325.0 L279.3 326.5 L277.4 327.1 L277.5 327.5 L284.2 329.7ZM303.0 690.3 L305.0 691.0 L305.0 691.0 L301.0 688.2 L300.0 687.5 L300.0 687.5 L301.2 689.3ZM298.2 691.1 L297.4 693.8 L297.5 693.8 L300.1 694.0 L300.6 694.0 L300.9 693.8 L302.9 692.4 L305.0 691.0 L303.0 690.3 L301.2 689.3 L300.0 687.5 L298.7 685.6 L296.8 684.2 L296.4 683.7 L296.1 683.8 L295.7 686.4 L295.6 689.0ZM232.4 485.3 L230.0 484.2 L227.5 484.0 L225.1 483.3 L224.9 483.0 L220.9 481.4 L220.3 481.5 L217.9 480.6 L217.6 480.1 L214.1 478.7 L212.8 479.1 L214.4 481.9 L213.0 485.1 L213.6 488.0 L213.8 490.9 L213.2 494.0 L214.7 496.8 L217.4 495.9 L219.7 498.4 L222.3 499.2 L225.0 497.7 L227.7 496.8 L230.0 500.0 L232.7 498.9 L233.6 496.6 L235.7 494.7 L236.5 492.3 L236.6 489.7 L234.5 487.5 L233.6 485.4ZM230.0 484.2 L232.4 485.3 L233.6 485.4 L233.4 484.9 L233.3 484.4 L227.5 484.0ZM418.6 511.7 L420.6 510.6 L422.3 509.0 L423.7 506.6 L422.5 504.2 L422.7 501.8 L422.6 499.4 L421.0 497.0 L419.4 494.5 L417.1 494.1 L414.8 493.7 L412.4 493.7 L410.5 496.0 L409.9 498.7 L410.9 502.1 L407.3 503.7 L409.1 507.4 L406.8 509.5 L408.9 511.4 L411.2 513.2 L414.7 514.0 L417.0 513.4ZM275.7 784.3 L274.3 782.1 L273.9 782.8 L273.2 784.6 L273.7 787.2 L272.4 789.1 L271.1 791.0 L270.7 792.3 L270.7 793.2 L270.2 796.1 L272.1 794.0 L274.3 792.0 L277.7 792.0 L279.7 789.8 L282.1 788.3 L280.6 786.2 L277.8 785.7ZM270.7 790.2 L270.7 792.3 L271.1 791.0 L272.4 789.1 L273.7 787.2 L273.2 784.6 L273.9 782.8 L272.9 784.7 L273.1 787.8ZM495.8 457.9 L497.5 460.0 L499.2 464.1 L500.0 464.6 L501.5 466.2 L500.8 464.7 L502.9 462.3 L502.1 459.4 L503.1 456.9 L501.3 455.3 L498.7 455.3 L496.7 454.2 L494.9 452.7 L494.8 453.0 L496.1 455.0ZM501.8 466.9 L501.3 469.0 L501.9 470.7 L502.2 470.4 L502.1 467.7ZM492.4 457.5 L492.5 457.5 L497.5 460.0 L495.8 457.9 L496.1 455.0 L494.8 453.0 L494.4 455.3 L492.9 457.2ZM501.8 466.9 L501.5 466.2 L500.0 464.6 L499.2 464.1 L501.3 469.0ZM194.4 487.2 L197.1 487.0 L199.5 485.2 L201.0 483.2 L202.8 481.4 L203.0 478.7 L201.8 476.2 L200.5 473.8 L197.6 472.7 L197.4 472.5 L196.7 473.0 L195.1 474.8 L192.5 475.0 L191.8 477.1 L192.2 479.1 L190.8 480.2 L190.0 482.5 L188.5 484.7 L188.5 486.1 L188.7 486.0 L191.4 486.2ZM195.1 474.8 L196.7 473.0 L197.4 472.5 L197.1 472.2 L192.5 475.0ZM181.9 483.1 L184.9 484.0 L184.9 484.0 L185.0 484.0 L184.2 484.4 L185.1 484.8 L186.1 487.4 L188.5 486.1 L188.5 484.7 L187.5 486.2 L186.0 484.0 L181.8 482.6ZM273.2 483.0 L274.5 485.5 L276.5 487.6 L277.6 490.3 L280.2 492.0 L280.5 495.2 L283.0 496.9 L285.8 496.4 L288.6 494.9 L291.5 494.8 L294.3 494.3 L297.3 495.4 L300.1 494.3 L303.1 495.1 L302.7 492.5 L301.8 490.1 L302.2 487.5 L300.7 485.1 L303.0 482.2 L301.3 479.9 L300.0 477.5 L300.0 477.5 L298.2 478.6 L296.6 479.9 L294.4 480.1 L292.5 481.0 L290.3 481.4 L289.5 481.3 L284.5 481.9 L283.6 482.6 L282.7 482.1 L279.0 482.5 L276.7 478.8 L275.8 479.7 L273.4 481.3ZM371.6 567.7 L370.0 570.0 L369.0 571.6 L367.8 573.2 L366.0 574.0 L373.5 576.8 L375.2 574.9 L375.4 572.3 L375.7 569.7 L374.9 567.2 L373.7 564.8 L371.4 564.5 L371.7 565.1ZM356.0 564.5 L357.6 566.2 L358.8 567.6 L356.0 562.0ZM367.8 573.2 L369.0 571.6 L370.0 570.0 L366.0 574.0ZM371.6 567.7 L371.7 565.1 L371.4 564.5 L371.1 564.5 L370.0 570.0ZM351.8 563.2 L358.0 574.0 L366.0 574.0 L360.0 570.0 L358.8 567.6 L357.6 566.2 L356.0 564.5 L356.0 562.0 L355.8 561.9 L355.4 562.8 L352.0 562.7ZM299.2 552.8 L300.7 555.3 L300.6 558.2 L302.7 560.2 L306.0 558.9 L308.2 560.7 L310.3 562.6 L313.0 562.7 L314.7 560.8 L317.4 559.7 L318.7 557.5 L320.0 555.3 L321.0 552.8 L320.6 550.7 L319.8 548.7 L319.4 546.7 L316.4 547.5 L313.7 544.7 L310.7 547.1 L307.8 546.9 L305.1 544.8 L302.3 543.8 L299.3 544.7 L296.4 544.9 L298.6 547.1 L298.4 550.1ZM264.5 726.1 L262.3 724.9 L261.7 725.9 L260.0 727.5 L261.9 728.9 L262.8 729.9 L262.4 729.0 L265.7 726.6ZM262.8 733.7 L263.3 731.3 L262.8 729.9 L261.9 728.9 L260.0 727.5 L257.8 727.6 L255.6 727.7 L253.6 727.5 L253.3 729.4 L253.3 732.0 L251.2 734.7 L252.7 737.1 L254.9 737.5 L257.1 737.1 L259.3 737.3 L259.5 737.1 L259.5 735.1 L259.5 735.0 L259.6 735.0 L259.6 735.0 L262.1 734.8 L263.3 734.0ZM257.1 723.7 L255.3 721.4 L252.8 720.9 L251.8 721.7 L251.0 724.4 L253.7 726.8 L253.6 727.5 L255.6 727.7 L257.8 727.6 L260.0 727.5 L261.7 725.9 L262.3 724.9 L262.2 724.8 L260.1 723.4ZM298.2 768.2 L298.7 770.3 L299.6 770.1 L299.9 769.7 L298.8 766.1ZM296.0 580.0 L305.0 580.0 L306.0 590.0 L304.6 590.9 L306.4 593.6 L306.7 593.5 L307.0 590.0 L306.0 580.0 L309.2 576.8 L308.6 576.4 L306.1 576.2 L303.6 575.6 L301.1 575.3 L298.6 575.1 L296.6 572.3 L293.8 573.2 L291.2 574.0 L289.2 575.9 L288.8 579.1 L291.8 581.3ZM257.0 316.3 L254.3 317.4 L251.7 317.3 L249.0 316.9 L246.6 317.4 L246.3 317.7 L246.0 320.0 L246.0 332.5 L253.2 334.5 L253.8 333.7 L256.3 332.3 L259.4 332.5 L261.1 329.5 L263.9 329.0 L264.8 328.8 L262.6 317.9 L262.3 318.0 L259.7 316.3ZM357.4 591.1 L357.6 591.1 L357.8 591.0 L358.0 590.9 L358.1 590.8 L358.3 590.7 L358.5 590.6 L357.8 590.1 L355.7 590.8 L355.3 590.7 L355.2 590.7 L354.6 591.0 L354.7 591.6ZM310.0 616.0 L310.0 616.0 L307.3 615.4 L306.1 616.0 L306.6 616.3 L308.5 618.1ZM304.0 614.8 L306.1 616.0 L307.3 615.4 L310.0 616.0 L313.8 613.6 L314.0 613.5 L315.5 611.6 L315.3 610.6 L316.3 607.9 L316.8 605.1 L316.8 605.1 L313.0 604.0 L306.0 602.0 L306.2 599.4 L305.4 600.6 L302.0 601.4 L302.6 605.0 L300.2 606.5 L298.4 608.4 L299.5 611.3 L302.2 612.6ZM494.5 451.9 L494.9 452.7 L496.7 454.2 L498.7 455.3 L501.3 455.3 L503.1 456.9 L505.7 456.1 L508.3 455.5 L510.7 453.5 L509.1 449.9 L512.6 448.4 L512.4 445.4 L500.0 447.5 L496.0 440.0 L496.1 439.6 L494.7 439.8 L493.2 442.2 L492.4 444.7 L492.3 447.5 L492.7 448.2 L494.2 450.1ZM321.9 737.7 L321.6 734.8 L321.1 732.0 L321.3 731.1 L320.0 731.0 L317.3 730.1 L316.5 730.5 L313.8 731.4 L310.8 730.1 L310.2 732.7 L309.8 735.3 L307.0 737.1 L306.7 739.7 L306.4 742.4 L308.8 744.1 L311.7 743.2 L314.5 743.0 L316.8 745.1 L319.3 746.3 L322.1 745.7 L324.8 745.8 L324.2 743.1 L324.5 740.1ZM329.7 561.1 L327.5 563.2 L327.1 565.9 L327.2 568.9 L326.0 571.3 L326.3 572.1 L327.8 574.5 L330.1 575.9 L332.6 576.9 L334.9 578.3 L335.8 575.6 L338.3 574.3 L340.6 572.8 L342.8 571.2 L343.9 570.4 L344.0 570.0 L344.5 565.3 L343.9 564.6 L341.3 563.5 L339.4 561.5 L338.2 559.0 L336.0 557.4 L333.3 557.4 L330.8 558.6ZM501.9 427.8 L499.0 428.7 L496.1 429.5 L495.9 432.1 L493.8 434.3 L494.3 437.1 L494.7 439.8 L496.1 439.6 L497.5 430.0 L504.3 429.5ZM188.4 501.8 L190.3 501.0 L193.2 500.6 L195.5 498.7 L193.4 496.8 L191.4 494.8 L191.0 494.1 L190.0 498.0 L188.7 500.3ZM183.2 504.8 L183.0 504.7 L181.7 503.3 L181.0 503.0 L181.0 503.0 L180.0 502.5 L179.0 504.9 L178.1 506.8 L180.2 506.3 L182.9 505.3ZM179.9 498.2 L180.7 501.9 L177.4 503.6 L177.4 506.9 L178.1 506.8 L179.0 504.9 L180.0 502.5 L181.0 503.0 L181.0 497.4ZM258.9 648.3 L258.8 648.7 L260.5 650.5 L259.7 653.0 L261.0 655.0 L261.0 654.9 L261.0 654.9 L261.7 646.3 L261.7 646.1 L261.7 645.9 L261.7 645.7 L261.6 645.5 L261.5 645.3 L261.4 645.1 L261.3 644.9 L261.2 644.7 L261.0 644.6 L260.9 644.4 L260.7 644.3 L260.5 644.2 L260.3 644.1 L260.1 644.0 L259.9 644.0 L259.8 644.0 L259.6 644.8 L260.6 646.0ZM259.3 654.2 L261.0 656.3 L261.0 656.2 L261.0 655.0 L259.7 653.0 L260.5 650.5 L258.8 648.7 L258.5 650.0 L257.1 650.7 L258.4 651.5ZM259.6 644.8 L258.9 648.3 L260.6 646.0ZM274.5 435.0 L272.8 432.9 L270.0 432.0 L269.0 433.0 L272.0 438.7 L276.0 437.0ZM195.5 498.7 L193.2 500.6 L190.3 501.0 L188.4 501.8 L188.4 501.9 L188.3 501.9 L187.7 502.2 L187.6 502.2 L186.0 505.0 L185.2 504.7 L185.0 505.0 L183.2 504.8 L182.9 505.3 L180.2 506.3 L178.1 506.8 L177.8 507.3 L177.3 509.8 L177.5 512.5 L176.4 512.7 L176.6 513.9 L179.6 515.5 L182.4 514.6 L185.3 514.4 L188.3 514.6 L191.0 513.3 L193.4 511.1 L196.4 511.2 L199.1 510.3 L201.9 509.6 L204.8 509.3 L204.4 506.9 L206.4 504.7 L205.6 502.3 L203.4 500.4 L200.6 500.5 L198.1 499.3ZM176.1 509.4 L176.3 511.6 L176.4 512.7 L177.5 512.5 L177.3 509.8 L177.8 507.3 L178.1 506.8 L177.4 506.9 L177.0 507.3ZM221.6 653.5 L218.8 653.3 L216.1 651.5 L213.3 652.7 L210.5 653.0 L207.8 651.3 L205.0 651.9 L202.2 652.0 L199.5 650.0 L196.9 650.8 L197.0 651.0 L198.4 653.0 L198.7 655.6 L202.1 656.7 L202.9 659.1 L203.9 661.4 L204.0 664.0 L204.7 666.3 L204.4 668.9 L207.6 670.3 L207.5 671.7 L209.4 671.8 L211.1 675.0 L214.3 674.5 L217.2 674.9 L218.8 678.1 L221.7 678.4 L223.1 676.1 L225.4 674.1 L225.5 671.2 L225.4 668.1 L226.5 665.6 L229.2 663.9 L230.3 661.4 L230.4 658.4 L231.8 656.1 L230.0 652.5 L227.2 651.2 L224.4 653.6ZM285.4 764.1 L285.0 766.5 L289.2 764.8 L285.5 763.9ZM293.6 763.1 L294.3 762.2 L296.1 760.3 L295.8 760.2 L291.2 764.0ZM290.7 788.8 L293.4 789.8 L292.1 787.6 L290.3 785.5 L290.2 782.4 L289.8 781.9 L287.5 782.5 L277.5 782.5 L275.5 776.4 L275.2 777.0 L272.8 778.9 L273.5 780.3 L273.5 780.4 L274.3 782.1 L275.7 784.3 L277.8 785.7 L280.6 786.2 L282.1 788.3 L284.8 790.2 L287.6 790.3ZM282.8 771.9 L282.5 772.0 L282.5 771.7 L282.4 771.7 L280.7 773.9 L284.6 773.1ZM303.4 741.4 L305.4 742.9 L306.4 742.4 L306.7 739.7 L307.0 737.1 L309.8 735.3 L310.2 732.7 L310.8 730.1 L309.2 727.8 L306.7 727.3 L307.0 729.0 L299.0 737.0 L298.2 737.3 L299.0 738.9 L302.4 738.8ZM629.0 406.1 L629.0 411.0 L630.2 410.8 L629.4 409.8 L629.7 407.0ZM318.8 568.5 L321.8 568.0 L323.1 571.6 L326.0 571.3 L327.2 568.9 L327.1 565.9 L327.5 563.2 L329.7 561.1 L330.8 558.6 L328.3 557.3 L325.6 556.3 L322.6 555.6 L321.0 552.8 L320.0 555.3 L318.7 557.5 L317.4 559.7 L314.7 560.8 L313.0 562.7 L314.2 566.3 L316.1 568.3ZM401.3 509.8 L404.1 509.4 L406.8 509.5 L409.1 507.4 L407.3 503.7 L410.9 502.1 L409.9 498.7 L410.5 496.0 L412.4 493.7 L410.7 491.6 L408.3 490.4 L407.3 487.8 L406.4 488.7 L404.5 490.3 L401.8 489.1 L400.0 491.0 L399.0 492.7 L398.1 494.6 L396.8 496.1 L396.0 498.0 L395.0 499.7 L393.5 500.9 L392.1 501.9 L392.0 502.0 L393.0 504.2 L393.6 506.5 L393.7 507.4 L396.3 506.6 L399.0 507.1ZM393.0 504.2 L392.0 502.0 L390.9 503.8 L392.8 507.1 L393.4 507.5 L393.7 507.4 L393.6 506.5ZM402.2 485.3 L401.6 488.1 L398.9 489.6 L398.3 492.4 L397.0 494.8 L395.8 497.3 L394.4 499.6 L392.4 501.5 L392.1 501.9 L393.5 500.9 L395.0 499.7 L396.0 498.0 L396.8 496.1 L398.1 494.6 L399.0 492.7 L400.0 491.0 L401.8 489.1 L404.5 490.3 L406.4 488.7 L407.3 487.8 L407.2 487.6 L403.5 487.9ZM338.0 550.7 L338.3 550.8 L339.8 552.3 L342.0 553.0 L337.6 549.9ZM345.0 554.0 L344.3 552.1 L344.6 550.5 L344.5 549.7 L343.4 548.1 L342.0 553.0ZM336.0 557.4 L338.2 559.0 L339.4 561.5 L341.3 563.5 L343.9 564.6 L344.5 565.3 L345.0 560.0 L350.0 560.0 L351.8 563.2 L352.0 562.7 L355.4 562.8 L355.8 561.9 L350.0 558.0 L347.9 557.3 L347.4 555.9 L345.0 554.0 L342.0 553.0 L339.8 552.3 L338.3 550.8 L338.0 550.7 L339.1 553.2 L335.7 554.5ZM306.0 714.7 L306.0 705.0 L305.3 715.1ZM677.3 330.3 L677.6 327.9 L679.1 326.2 L678.4 323.7 L678.4 323.7 L677.5 324.0 L674.9 326.7 L674.9 328.1 L673.3 329.8 L671.3 331.2 L670.5 331.6 L672.9 332.2 L675.7 331.9ZM670.5 331.6 L671.3 331.2 L673.3 329.8 L674.9 328.1 L674.9 326.7 L670.3 331.5 L670.3 331.6ZM241.6 540.6 L239.2 541.9 L237.0 543.6 L234.6 544.5 L231.8 544.7 L229.4 545.8 L227.5 548.3 L229.1 551.8 L226.2 554.0 L226.1 557.0 L226.9 559.9 L228.8 562.3 L229.8 565.1 L232.8 565.1 L235.3 563.7 L238.2 563.5 L241.1 563.2 L243.4 561.0 L246.6 562.0 L249.1 560.4 L251.7 559.0 L251.7 556.3 L252.7 554.0 L253.9 551.7 L254.7 549.4 L257.1 547.7 L256.7 545.7 L256.8 543.6 L256.4 541.6 L253.8 541.1 L251.5 540.0 L249.2 538.5 L247.2 540.5 L244.7 541.4ZM273.4 481.3 L275.8 479.7 L276.7 478.8 L275.0 476.0 L269.4 476.8 L269.1 476.9 L269.7 477.6 L271.5 479.5ZM395.6 522.3 L394.0 524.0 L392.6 522.6 L391.2 521.3 L389.1 520.7 L388.0 519.0 L385.9 518.9 L385.3 520.1 L383.6 522.6 L382.0 524.1 L382.0 524.2 L382.5 526.3 L384.0 528.0 L385.5 530.2 L385.7 531.2 L387.7 529.1 L389.8 527.2 L392.5 526.9 L395.3 526.7 L397.7 525.4 L396.9 522.9 L396.4 522.1ZM394.0 512.8 L393.2 510.3 L393.2 509.9 L392.5 511.1 L391.4 513.5 L392.4 515.7 L393.0 518.0 L395.2 519.4 L395.7 519.7 L396.5 517.6 L394.3 515.4ZM395.2 519.4 L393.0 518.0 L392.4 515.7 L391.4 513.5 L392.5 511.1 L393.2 509.9 L393.4 507.5 L392.8 507.1 L390.5 509.1 L388.5 511.4 L387.9 514.7 L386.6 517.4 L385.9 518.9 L388.0 519.0 L389.1 520.7 L391.2 521.3 L392.6 522.6 L394.0 524.0 L395.6 522.3 L396.4 522.1 L395.5 520.5 L395.7 519.7ZM380.0 528.5 L381.5 530.0 L382.9 531.5 L385.7 531.2 L385.7 531.2 L385.5 530.2 L384.0 528.0 L382.5 526.3 L382.0 524.2 L382.0 524.1 L381.4 524.7 L379.0 526.7ZM289.3 672.5 L289.3 672.5 L289.0 672.5 L288.8 672.5 L284.8 672.5 L283.3 673.1 L285.6 673.5 L287.5 672.7ZM296.4 683.7 L297.3 683.4 L295.0 680.0 L295.4 682.4ZM289.8 678.3 L291.9 680.2 L294.0 682.0 L296.1 683.8 L296.4 683.7 L295.4 682.4 L295.0 680.0 L293.3 678.4 L293.4 677.6 L291.3 674.5 L291.2 674.4 L290.4 673.2 L290.4 673.1 L290.2 673.0 L290.0 672.9 L289.9 672.8 L289.7 672.7 L289.5 672.6 L289.3 672.5 L287.5 672.7 L285.6 673.5 L286.4 673.7 L288.3 675.8ZM174.3 489.8 L174.1 490.0 L173.9 490.1 L173.8 490.2 L170.0 494.0 L170.0 494.0 L166.4 493.4 L166.5 493.6 L169.9 494.7 L169.2 498.7 L171.5 500.6 L174.8 501.8 L175.8 504.6 L177.0 507.3 L177.4 506.9 L177.4 503.6 L180.7 501.9 L179.9 498.2 L181.0 497.4 L181.0 492.0 L185.3 489.5 L186.1 488.0 L186.2 488.0 L186.1 487.4 L185.1 484.8 L184.2 484.4ZM178.9 482.5 L176.2 482.5 L173.4 481.5 L170.9 482.6 L169.1 483.3 L180.0 482.5 L180.9 482.8 L181.9 483.1 L181.8 482.6 L180.0 482.0 L179.8 481.8ZM226.3 524.0 L228.6 522.0 L231.5 522.2 L233.8 520.5 L236.5 519.8 L239.2 519.4 L242.1 519.5 L242.9 516.8 L243.0 513.8 L245.3 511.6 L243.0 510.0 L242.1 506.8 L238.5 506.5 L238.2 502.7 L235.4 501.7 L233.0 500.0 L232.6 503.3 L230.2 505.3 L227.4 507.1 L225.6 509.5 L226.0 513.3 L223.5 515.3 L222.1 517.9 L220.0 520.2 L219.5 523.4 L217.6 525.7 L218.4 526.1 L221.4 526.8 L223.8 525.1ZM373.5 576.8 L374.0 577.0 L374.1 577.0 L376.5 577.0 L375.2 574.9ZM358.0 590.0 L357.8 590.1 L358.5 590.6 L358.5 590.6 L358.5 590.6 L361.2 588.0 L359.9 588.4ZM457.6 437.2 L456.0 434.5 L456.0 442.5 L459.5 449.0 L459.9 448.8 L460.1 445.3 L462.7 444.4 L464.7 442.7 L466.0 440.1 L463.2 439.1 L460.5 437.9ZM285.5 763.9 L280.0 762.5 L279.0 766.7 L280.1 769.4 L282.5 770.7 L282.5 767.5 L285.0 766.5 L285.4 764.1ZM274.1 763.3 L274.6 764.0 L280.0 762.5 L274.0 762.1ZM223.0 530.8 L225.6 532.1 L228.4 530.5 L230.9 532.7 L233.6 532.5 L236.2 532.8 L239.0 531.3 L241.6 532.1 L244.3 532.1 L243.2 529.7 L244.1 526.9 L241.9 524.7 L242.1 522.1 L242.1 519.5 L239.2 519.4 L236.5 519.8 L233.8 520.5 L231.5 522.2 L228.6 522.0 L226.3 524.0 L223.8 525.1 L221.4 526.8 L218.4 526.1 L220.3 527.3 L222.0 528.7ZM282.6 711.5 L282.4 708.5 L280.1 707.0 L279.8 706.9 L279.5 707.6 L282.2 709.9 L281.0 712.5 L280.5 714.5 L278.7 716.0 L279.2 718.5 L277.5 720.0 L274.8 719.5 L272.6 721.5 L271.2 722.2 L271.7 722.8 L279.9 721.2 L279.6 719.0 L284.5 712.4ZM272.5 709.0 L270.0 710.0 L270.1 712.7 L271.1 715.3 L270.3 718.0 L269.5 720.7 L271.2 722.2 L272.6 721.5 L274.8 719.5 L277.5 720.0 L279.2 718.5 L278.7 716.0 L280.5 714.5 L281.0 712.5 L282.2 709.9 L279.5 707.6 L279.8 706.9 L277.3 706.6 L274.8 707.6ZM247.3 606.5 L246.7 609.3 L245.7 611.6 L243.8 613.3 L245.3 617.8 L247.4 619.4 L250.4 619.9 L251.3 623.2 L254.1 623.9 L256.2 624.0 L258.0 622.3 L260.1 620.8 L261.7 618.8 L264.0 617.7 L262.4 615.4 L261.0 612.9 L257.9 611.7 L256.3 609.4 L255.7 606.4 L252.9 605.8 L250.0 605.5ZM497.1 426.1 L495.4 428.4 L496.1 429.5 L499.0 428.7 L501.9 427.8 L504.3 429.5 L506.5 429.4 L507.9 428.6 L511.0 427.4 L511.2 423.9 L513.6 422.2 L514.2 421.3 L500.0 422.5 L496.9 422.0 L496.3 423.1ZM426.8 462.2 L430.6 463.1 L432.6 460.8 L432.5 459.3 L430.5 460.0 L428.0 459.0 L425.1 461.4 L424.7 462.2 L422.6 463.5 L422.3 465.0 L422.4 466.2 L425.0 464.9ZM430.5 460.0 L432.5 459.3 L432.4 458.6 L428.0 459.0ZM418.1 539.7 L420.3 541.5 L421.9 544.1 L422.5 544.6 L423.8 544.1 L423.6 542.8 L425.4 540.3 L427.1 537.8 L427.7 534.9 L429.4 532.4 L429.0 529.2 L428.6 527.9 L426.3 527.3 L424.1 526.0 L421.5 527.7 L419.2 526.9 L418.5 529.7 L416.0 530.7 L414.6 532.9 L413.2 535.1 L410.4 535.8 L412.4 537.8 L414.9 539.3ZM145.9 452.9 L146.6 455.5 L146.6 458.1 L147.0 460.7 L148.5 462.7 L149.0 464.3 L152.5 465.0 L152.7 464.5 L152.0 461.0 L152.9 465.2 L153.3 464.4 L154.0 462.8 L154.0 461.0 L154.3 461.4 L157.5 455.0 L158.7 450.1 L157.1 448.3 L154.9 446.7 L151.3 447.1 L149.5 444.8 L147.8 445.3 L147.9 447.9 L147.3 450.4ZM155.2 462.3 L156.2 463.8 L157.5 465.0 L157.7 465.9 L159.3 465.9 L161.8 464.8 L164.2 465.2 L157.5 462.0 L154.4 461.4ZM262.0 599.9 L259.2 601.4 L256.8 603.2 L255.7 606.4 L256.3 609.4 L257.9 611.7 L261.0 612.9 L262.4 615.4 L264.0 617.7 L268.9 617.8 L269.6 615.1 L269.9 612.5 L271.3 610.0 L270.0 610.0 L270.7 609.2 L268.7 606.9 L271.8 604.6 L269.8 601.7 L272.0 599.2 L271.6 596.5 L268.4 593.7 L266.8 596.3 L264.2 598.0ZM236.3 643.1 L233.9 644.4 L234.2 647.0 L231.4 648.2 L232.1 651.0 L230.0 652.5 L231.8 656.1 L233.9 658.2 L236.7 659.2 L239.4 660.5 L242.4 661.4 L243.9 664.3 L246.9 665.1 L248.7 667.7 L250.3 664.8 L252.9 663.4 L256.3 663.0 L258.0 660.4 L260.5 658.7 L261.0 656.3 L259.3 654.2 L258.4 651.5 L257.1 650.7 L252.0 653.0 L246.0 647.0 L236.0 645.0 L239.8 643.1 L238.8 643.0ZM369.0 441.2 L366.7 442.0 L367.6 444.9 L366.5 447.5 L366.2 450.2 L365.5 452.9 L368.0 454.4 L368.2 454.7 L369.3 453.0 L371.1 451.8 L372.8 450.4 L375.1 450.1 L377.0 449.0 L380.0 444.0 L383.8 436.4 L383.5 436.2 L381.0 435.8 L378.6 435.3 L376.1 436.1 L373.6 436.1 L372.4 438.1 L370.6 439.5ZM374.8 454.6 L377.9 455.6 L380.9 456.0 L383.6 454.7 L384.2 452.3 L385.6 450.5 L388.3 449.5 L388.5 446.9 L386.0 445.0 L386.7 442.0 L384.0 442.0 L377.0 449.0 L375.1 450.1 L372.8 450.4 L371.1 451.8 L369.3 453.0 L368.2 454.7 L368.3 455.1 L371.3 455.6 L372.0 455.1ZM242.6 689.3 L239.1 689.1 L237.5 686.6 L235.7 686.8 L234.7 689.4 L232.7 691.7 L231.7 694.3 L232.2 697.4 L234.9 697.4 L236.9 699.5 L239.2 700.7 L241.6 701.4 L244.8 699.0 L246.8 701.2 L248.1 698.5 L248.5 695.6 L245.9 694.2 L243.3 692.9ZM292.3 741.0 L291.7 739.7 L290.8 740.0 L283.7 737.0 L283.7 736.8 L282.7 737.6 L282.3 740.7 L281.6 741.3 L281.3 742.8 L283.2 743.1 L283.9 746.5 L285.6 748.5 L288.4 749.3 L290.9 749.2 L291.7 748.7 L292.4 746.2 L291.2 743.5ZM261.0 657.3 L262.2 659.2 L262.3 659.3 L262.8 659.5 L261.4 655.9 L261.0 656.2ZM211.9 555.3 L209.3 556.5 L206.2 555.6 L203.5 556.6 L201.0 558.5 L197.9 557.0 L195.2 558.4 L192.5 559.3 L191.0 560.4 L190.7 561.4 L191.5 563.7 L192.2 566.4 L194.9 567.5 L196.3 569.6 L197.7 571.7 L198.8 574.1 L201.0 575.5 L204.1 575.5 L207.0 576.2 L209.9 576.4 L212.9 576.9 L215.6 578.3 L218.4 579.5 L220.9 578.9 L223.1 577.7 L223.2 574.0 L225.8 573.5 L227.7 571.9 L229.0 569.8 L229.9 567.6 L229.8 565.1 L228.8 562.3 L226.9 559.9 L226.1 557.0 L224.0 556.9 L222.2 556.0 L220.5 554.9 L217.9 556.8 L214.7 554.4ZM479.3 449.4 L477.0 447.7 L475.0 445.7 L473.1 443.6 L473.0 440.0 L470.2 438.7 L466.0 440.1 L464.7 442.7 L465.1 445.3 L465.7 447.8 L465.4 450.6 L465.6 453.2 L468.7 455.2 L469.5 457.7 L468.5 460.6 L468.5 460.6 L471.3 461.1 L473.2 459.5 L474.7 457.0 L477.2 457.0 L477.6 454.4 L478.5 451.9ZM468.5 460.6 L469.5 457.7 L468.7 455.2 L465.6 453.2 L465.4 450.6 L465.7 447.8 L465.1 445.3 L464.7 442.7 L462.7 444.4 L460.1 445.3 L459.9 448.8 L459.5 449.0 L460.0 450.0 L456.5 456.5 L456.6 457.0 L457.4 459.7 L459.7 461.7 L462.6 461.4 L465.6 461.5ZM435.7 493.1 L434.9 490.2 L433.2 488.2 L430.3 487.4 L430.3 483.7 L427.6 482.7 L426.0 485.1 L424.8 487.7 L423.7 490.5 L421.1 492.2 L419.4 494.5 L421.0 497.0 L422.6 499.4 L425.5 498.3 L428.3 497.3 L431.3 497.6 L434.2 497.0 L437.3 498.6 L440.1 497.6 L440.2 496.1 L438.4 494.2ZM258.5 749.5 L259.0 752.5 L250.0 750.0 L250.0 747.6 L249.9 747.8 L248.4 750.3 L245.8 751.8 L246.8 753.7 L248.4 755.2 L249.3 757.2 L251.9 756.1 L253.9 759.1 L256.6 756.7 L258.9 758.3 L260.3 756.4 L260.5 754.4 L259.5 752.0 L259.5 751.9 L259.5 750.4 L259.1 749.7ZM253.3 729.4 L253.6 727.5 L253.4 727.5 L251.2 727.5 L249.0 727.5 L247.2 726.1 L245.0 725.0 L244.8 723.0 L243.1 721.9 L240.3 723.4 L237.4 723.7 L234.7 724.9 L231.7 724.3 L233.2 726.8 L235.4 728.8 L238.2 730.2 L239.3 733.2 L240.6 735.9 L243.4 737.3 L246.1 738.2 L248.7 738.7 L251.5 738.1 L252.7 737.1 L251.2 734.7 L253.3 732.0ZM251.8 721.7 L249.1 723.6 L246.2 723.9 L244.8 723.0 L245.0 725.0 L247.2 726.1 L249.0 727.5 L251.2 727.5 L253.4 727.5 L253.6 727.5 L253.7 726.8 L251.0 724.4ZM362.5 415.5 L362.1 415.9 L362.8 420.0 L365.5 420.6 L367.8 418.7 L370.7 418.5 L372.7 419.0 L370.8 411.7 L363.9 413.5ZM286.8 594.3 L287.8 598.0 L285.4 599.9 L285.5 602.7 L288.2 604.3 L288.6 606.9 L290.9 608.5 L293.5 607.8 L295.8 609.4 L298.4 608.4 L300.2 606.5 L302.6 605.0 L302.0 601.4 L305.4 600.6 L306.2 599.4 L306.7 593.5 L306.4 593.6 L304.6 590.9 L300.0 594.0 L294.2 589.7 L294.1 589.7 L293.6 589.2 L292.0 588.0 L291.0 588.3 L289.5 589.4 L289.6 592.6ZM415.1 473.6 L417.9 473.4 L420.3 472.9 L420.5 472.0 L420.8 471.5 L420.9 470.6 L420.8 468.2 L422.0 466.8 L422.0 466.0 L422.3 465.0 L422.1 463.9 L422.0 464.0 L416.0 470.0 L410.0 468.0 L408.0 456.0 L403.8 452.8 L403.1 453.8 L402.8 456.3 L403.5 459.0 L402.2 461.3 L401.8 463.8 L402.3 466.4 L405.2 468.0 L404.4 471.1 L406.0 473.3 L407.0 475.6 L409.8 475.2 L412.7 475.6ZM204.3 548.3 L201.4 549.0 L198.5 549.8 L198.2 552.9 L194.3 553.8 L193.7 556.7 L192.5 559.3 L195.2 558.4 L197.9 557.0 L201.0 558.5 L203.5 556.6 L206.2 555.6 L209.3 556.5 L211.9 555.3 L214.7 554.4 L217.9 556.8 L220.5 554.9 L217.7 553.6 L217.3 550.5 L216.6 547.7 L212.7 547.3 L212.2 544.2 L209.9 546.3 L206.3 545.4ZM394.4 543.0 L391.9 541.4 L389.1 541.6 L386.7 540.4 L385.9 540.2 L385.0 542.5 L385.7 545.0 L386.8 547.5 L386.0 550.0 L383.9 550.4 L382.0 551.2 L381.2 553.7 L379.1 554.0 L379.1 554.0 L378.6 556.7 L381.6 556.1 L383.9 558.8 L386.7 559.5 L389.8 557.6 L392.7 557.7 L395.4 558.5 L395.8 559.0 L400.0 558.0 L400.0 558.0 L400.0 558.0 L404.4 557.0 L403.8 554.5 L402.0 552.1 L404.2 549.1 L403.4 546.5 L402.4 544.0 L400.1 542.3 L397.4 542.0ZM380.4 543.9 L380.5 547.2 L378.1 548.8 L379.1 551.4 L379.1 554.0 L381.2 553.7 L382.0 551.2 L383.9 550.4 L386.0 550.0 L386.8 547.5 L385.7 545.0 L385.0 542.5 L385.9 540.2 L384.0 539.8 L382.7 542.2ZM187.6 603.8 L187.9 600.7 L190.5 598.8 L190.9 595.9 L193.2 593.8 L192.6 590.4 L195.5 588.6 L196.0 585.7 L198.6 583.8 L197.8 580.3 L200.1 578.2 L201.0 575.5 L198.8 574.1 L197.7 571.7 L196.3 569.6 L194.9 567.5 L192.2 566.4 L191.5 563.7 L189.1 565.6 L188.8 569.1 L185.2 570.0 L183.6 572.5 L183.1 575.9 L182.0 578.7 L179.5 580.5 L178.3 583.3 L175.7 585.1 L175.5 586.8 L176.0 587.4 L176.0 590.0 L176.2 592.4 L175.9 594.9 L177.1 596.9 L179.1 598.8 L179.6 601.0 L179.3 603.5 L181.7 603.8 L184.7 602.5ZM302.2 487.5 L301.8 490.1 L302.7 492.5 L303.1 495.1 L304.2 497.5 L307.1 498.2 L308.5 500.4 L312.0 501.5 L314.9 500.6 L315.6 497.1 L319.5 497.3 L320.0 493.4 L322.7 492.3 L324.2 489.7 L327.9 489.7 L329.5 487.2 L330.2 484.6 L329.8 481.9 L328.1 480.5 L322.5 477.5 L320.1 478.3 L317.6 478.9 L316.5 478.7 L310.0 480.0 L307.2 480.6 L305.7 478.9 L303.3 478.3 L301.3 479.9 L303.0 482.2 L300.7 485.1ZM307.2 480.6 L310.0 480.0 L305.7 478.9ZM169.5 517.6 L166.7 518.1 L166.6 518.2 L177.5 520.0 L180.0 525.0 L170.0 532.5 L166.0 535.0 L164.1 532.6 L164.1 535.2 L166.6 537.1 L166.2 539.2 L167.2 539.4 L169.7 541.4 L172.6 542.1 L175.6 542.0 L178.8 541.4 L181.5 542.6 L181.5 539.6 L183.4 537.7 L183.7 537.3 L182.0 539.0 L180.0 541.0 L180.0 541.0 L179.9 541.0 L170.1 541.0 L170.0 541.0 L170.0 541.0 L167.0 538.0 L167.0 538.0 L167.0 538.0 L169.0 534.0 L169.0 534.0 L169.0 534.0 L175.4 530.2 L180.0 527.5 L180.0 527.5 L180.0 527.5 L185.4 534.3 L185.7 533.1 L187.4 531.0 L189.0 529.0 L188.4 526.1 L187.1 523.6 L183.1 523.1 L183.2 519.7 L182.3 517.0 L179.6 515.5 L176.6 513.9 L174.3 515.2 L172.0 516.7ZM292.3 741.0 L294.2 739.5 L295.8 738.2 L291.7 739.7ZM317.2 525.6 L314.2 525.9 L312.9 527.7 L314.1 528.8 L315.6 531.0 L317.8 531.2 L318.4 531.1 L318.3 530.7 L318.9 527.7ZM302.3 543.8 L305.1 544.8 L307.8 546.9 L310.7 547.1 L313.7 544.7 L316.4 547.5 L319.4 546.7 L319.7 543.6 L321.7 541.5 L323.7 539.4 L322.7 537.0 L322.9 534.1 L319.0 533.2 L318.4 531.1 L317.8 531.2 L315.6 531.0 L314.1 528.8 L312.9 527.7 L312.4 528.4 L309.4 528.7 L307.2 530.5 L305.0 532.2 L303.1 534.6 L299.3 533.3 L296.9 534.7 L295.5 538.0 L292.6 538.5 L293.3 541.8 L296.4 544.9 L299.3 544.7ZM345.2 433.8 L342.4 433.3 L341.0 436.2 L343.5 439.1 L343.7 441.9 L342.7 443.6 L348.3 445.4 L349.6 445.7 L350.3 443.8 L351.2 440.9 L354.2 439.7 L355.7 437.8 L349.4 434.0 L349.0 431.8 L347.8 431.5ZM512.6 448.4 L509.1 449.9 L510.7 453.5 L508.3 455.5 L510.4 457.3 L513.3 458.0 L514.9 460.3 L516.9 462.1 L518.8 464.2 L521.1 465.7 L523.8 466.0 L526.6 466.0 L529.3 465.7 L529.4 463.8 L528.3 461.4 L528.2 458.6 L528.0 455.9 L525.0 454.1 L524.6 451.4 L523.4 449.0 L524.7 445.7 L522.7 443.6 L518.8 441.6 L517.3 441.6 L516.0 441.9 L515.0 445.0 L512.4 445.4ZM214.6 348.3 L212.1 347.8 L209.6 347.2 L208.9 347.0 L202.5 355.0 L200.0 365.0 L207.5 367.5 L216.0 368.9 L215.8 367.1 L217.1 364.8 L218.7 362.5 L219.1 359.9 L219.2 358.1 L219.0 357.5 L215.9 350.3ZM340.6 572.8 L338.3 574.3 L335.8 575.6 L334.9 578.3 L335.3 580.5 L337.6 582.6 L338.9 583.1 L342.0 580.0 L343.9 570.4 L342.8 571.2ZM222.1 517.9 L223.5 515.3 L226.0 513.3 L225.6 509.5 L227.4 507.1 L230.2 505.3 L232.6 503.3 L233.0 500.0 L232.7 498.9 L230.0 500.0 L227.7 496.8 L225.0 497.7 L222.3 499.2 L219.7 498.4 L217.4 495.9 L214.7 496.8 L213.1 499.3 L209.9 499.1 L208.4 501.8 L205.6 502.3 L206.4 504.7 L204.4 506.9 L204.8 509.3 L205.8 512.0 L207.1 514.5 L207.4 517.5 L208.5 520.1 L209.6 522.7 L211.9 524.8 L214.4 525.7 L217.6 525.7 L219.5 523.4 L220.0 520.2ZM403.4 541.7 L402.4 544.0 L403.4 546.5 L404.2 549.1 L402.0 552.1 L403.8 554.5 L404.4 557.0 L408.2 556.2 L408.4 556.1 L408.6 556.1 L408.7 556.0 L408.9 555.9 L409.1 555.7 L409.2 555.6 L409.4 555.5 L409.5 555.3 L415.0 547.5 L415.0 547.5 L415.1 547.5 L417.2 546.6 L422.5 544.6 L421.9 544.1 L420.3 541.5 L418.1 539.7 L414.9 539.3 L412.4 537.8 L410.4 535.8 L408.2 536.2 L407.4 538.7 L406.4 541.0ZM306.0 776.9 L303.4 777.6 L300.7 778.3 L300.2 779.1 L305.0 777.5 L310.0 782.5 L312.3 782.7 L314.7 782.2 L316.5 784.7 L318.7 785.0 L321.0 785.0 L318.5 784.4 L317.1 782.5 L316.4 780.0 L313.4 779.9 L312.5 777.5 L314.3 775.3 L314.5 774.6 L312.9 772.9 L310.1 773.3 L307.9 774.8ZM297.5 786.2 L296.5 788.8 L296.2 790.2 L296.5 790.0 L299.5 790.0 L300.0 787.5 L298.2 782.1 L297.3 783.2ZM304.2 786.0 L304.9 785.0 L300.0 787.5 L302.3 787.1ZM243.0 669.3 L240.4 670.5 L238.4 673.0 L235.6 673.6 L233.7 676.3 L230.2 675.6 L227.6 676.8 L225.9 680.0 L222.8 680.0 L222.9 680.5 L225.7 681.3 L228.1 683.0 L230.5 684.6 L233.3 685.3 L235.7 686.8 L237.5 686.6 L239.7 684.7 L242.0 682.9 L241.9 679.3 L243.4 677.0 L245.4 675.0 L246.7 672.5 L249.1 670.8 L248.7 667.9 L246.3 669.5ZM263.1 661.1 L263.8 663.2 L264.9 664.9 L264.9 664.8 L264.8 664.6 L262.8 659.5 L262.3 659.3ZM269.5 672.5 L265.1 672.5 L265.0 672.5 L267.4 673.6ZM275.0 674.0 L277.6 675.0 L279.4 673.4 L278.1 672.5 L278.0 672.5 L270.4 672.5 L272.3 674.6ZM266.2 684.8 L269.1 684.4 L272.2 685.0 L273.3 682.4 L274.2 679.8 L277.8 678.8 L278.1 675.8 L279.6 673.5 L279.4 673.4 L277.6 675.0 L275.0 674.0 L272.3 674.6 L270.4 672.5 L269.5 672.5 L267.4 673.6 L265.0 672.5 L265.0 672.4 L265.0 665.4 L265.0 665.2 L265.0 665.0 L264.9 664.9 L263.8 663.2 L263.1 661.1 L262.3 659.3 L260.5 658.7 L258.0 660.4 L256.3 663.0 L252.9 663.4 L250.3 664.8 L248.7 667.7 L248.7 667.9 L249.1 670.8 L250.7 673.1 L251.5 676.0 L255.0 677.1 L255.3 680.4 L255.6 683.5 L259.3 684.5 L260.1 687.4 L260.8 687.6 L263.3 685.4ZM529.5 465.9 L529.5 465.9 L529.3 465.7 L526.6 466.0 L523.8 466.0 L521.1 465.7 L519.1 467.8 L516.9 469.6 L513.5 469.8 L512.4 473.2 L508.8 473.1 L508.2 476.0 L508.6 476.1 L510.7 477.3 L511.8 478.3 L513.0 476.3 L515.3 476.3 L517.5 476.0 L519.5 475.0 L522.0 475.0 L522.9 471.8 L525.8 472.6 L527.5 471.0 L527.4 472.8 L528.0 473.9 L528.9 471.5 L529.3 468.7ZM507.3 480.1 L509.4 479.3 L511.5 478.8 L511.7 478.5 L511.8 478.3 L510.7 477.3 L508.6 476.1 L508.2 476.0 L508.2 476.0 L508.1 476.9 L504.8 477.3 L505.2 480.0 L505.2 480.0ZM704.1 319.7 L706.6 322.2 L709.5 322.8 L712.4 323.1 L715.5 321.6 L716.5 322.4 L715.9 320.1 L716.6 319.0 L716.3 316.1 L715.2 315.1 L716.0 312.5 L714.0 314.5 L711.6 313.5 L703.6 315.2 L702.5 316.6 L700.0 316.0 L698.0 317.6 L697.5 317.4 L697.5 317.7 L698.2 320.1 L701.1 319.6ZM702.5 316.6 L703.6 315.2 L700.0 316.0ZM714.0 314.5 L716.0 312.5 L711.6 313.5ZM346.8 418.7 L349.5 419.3 L352.2 420.0 L354.8 419.9 L356.5 419.1 L355.0 416.0 L346.0 418.4 L345.9 418.5ZM528.0 473.9 L528.3 474.4 L529.0 476.0 L536.6 470.6 L536.6 470.6 L534.6 468.2 L531.6 468.0 L529.5 465.9 L529.3 468.7 L528.9 471.5ZM291.8 751.4 L290.9 749.2 L288.4 749.3 L285.8 750.6 L285.7 751.0 L292.0 752.0ZM326.3 540.1 L323.7 539.4 L321.7 541.5 L319.7 543.6 L319.4 546.7 L319.8 548.7 L320.6 550.7 L321.0 552.8 L322.6 555.6 L325.6 556.3 L328.3 557.3 L330.8 558.6 L333.3 557.4 L336.0 557.4 L335.7 554.5 L339.1 553.2 L338.0 550.7 L336.3 549.9 L335.0 548.0 L334.6 545.6 L334.8 545.3 L334.5 541.9 L333.3 540.9 L334.0 540.0 L331.7 539.6 L329.0 539.2ZM215.5 528.6 L213.9 531.0 L213.8 533.7 L211.9 536.2 L214.1 539.1 L213.1 541.7 L212.2 544.2 L212.7 547.3 L216.6 547.7 L217.3 550.5 L217.7 553.6 L220.5 554.9 L222.2 556.0 L224.0 556.9 L226.1 557.0 L226.2 554.0 L229.1 551.8 L227.5 548.3 L229.4 545.8 L227.4 543.7 L227.9 540.5 L225.6 538.5 L225.1 535.8 L223.7 533.5 L223.0 530.8 L222.0 528.7 L220.3 527.3 L218.4 526.1 L217.6 525.7 L214.4 525.7ZM629.7 400.5 L629.8 401.1 L629.9 401.0 L632.4 399.8 L635.3 400.1 L635.0 395.0 L629.0 397.5 L629.0 399.7ZM239.7 750.4 L240.4 751.6 L243.2 753.3 L242.5 756.0 L244.4 757.9 L245.5 760.2 L244.5 763.2 L245.2 764.1 L247.5 763.0 L248.7 760.3 L249.3 757.2 L248.4 755.2 L246.8 753.7 L245.8 751.8 L243.1 752.5 L240.8 751.0ZM348.1 514.8 L348.7 513.2 L348.0 511.5 L350.0 510.0 L349.4 508.0 L349.5 507.8 L348.7 504.8 L348.0 504.2 L347.0 512.0 L347.3 515.2ZM348.0 502.0 L347.9 501.3 L346.9 502.0 L345.8 504.3 L348.0 504.0ZM367.1 514.3 L368.5 511.7 L366.7 509.1 L367.9 506.5 L365.5 505.6 L363.1 504.3 L360.2 504.5 L357.6 503.9 L357.1 503.7 L358.0 510.0 L354.0 520.0 L356.0 525.0 L356.0 524.0 L362.9 525.4 L364.1 524.2 L366.1 523.4 L367.9 522.1 L367.0 519.5 L369.2 516.9ZM348.0 511.5 L348.7 513.2 L350.0 510.0ZM328.2 441.5 L327.4 438.5 L327.1 435.6 L327.4 434.8 L322.5 437.5 L325.8 443.0 L328.4 442.4ZM379.0 526.7 L376.3 527.0 L374.1 525.9 L372.6 523.4 L369.9 523.5 L367.9 522.1 L366.1 523.4 L364.1 524.2 L362.9 525.4 L366.0 526.0 L370.0 532.0 L366.0 540.0 L374.1 546.5 L375.8 546.4 L378.1 548.8 L380.5 547.2 L380.4 543.9 L382.7 542.2 L384.0 539.8 L382.6 537.2 L383.3 534.2 L382.9 531.5 L381.5 530.0 L380.0 528.5ZM260.2 766.5 L259.3 763.8 L256.8 764.7 L255.5 767.4 L252.3 767.4 L251.3 770.5 L248.4 770.9 L247.2 772.0 L247.1 772.6 L248.5 774.4 L250.7 776.0 L250.6 776.3 L250.9 776.4 L253.4 778.0 L256.0 779.3 L259.1 778.2 L260.7 775.6 L262.6 773.3 L264.5 771.1 L264.5 769.7 L263.1 767.4ZM274.1 763.3 L274.0 762.1 L272.0 762.0 L272.3 757.9 L271.1 757.1 L268.4 758.0 L269.0 760.0 L269.8 762.5 L269.2 765.0 L268.3 767.3 L270.0 767.5 L271.2 764.1ZM269.2 765.0 L269.8 762.5 L269.0 760.0 L268.4 758.0 L268.2 758.1 L265.9 756.0 L264.0 756.2 L263.8 756.5 L262.5 759.0 L261.4 756.4 L260.3 756.4 L258.9 758.3 L258.4 761.1 L259.3 763.8 L260.2 766.5 L263.1 767.4 L264.5 769.7 L266.2 767.1 L268.3 767.3ZM206.0 526.2 L203.8 528.4 L201.3 529.9 L201.7 532.9 L199.5 535.5 L201.2 538.6 L198.9 541.2 L198.0 544.0 L199.5 547.1 L198.5 549.8 L201.4 549.0 L204.3 548.3 L206.3 545.4 L209.9 546.3 L212.2 544.2 L213.1 541.7 L214.1 539.1 L211.9 536.2 L213.8 533.7 L213.9 531.0 L215.5 528.6 L214.4 525.7 L211.9 524.8 L208.6 524.7ZM238.2 730.2 L235.4 728.8 L233.2 726.8 L231.7 724.3 L231.4 724.2 L230.5 725.5 L231.7 726.8 L232.6 729.1 L233.5 731.3 L234.1 733.7 L234.6 736.1 L236.3 737.9 L237.5 740.0 L238.8 742.1 L238.9 744.6 L238.9 744.9 L240.9 744.6 L240.0 741.1 L242.2 739.5 L243.4 737.3 L240.6 735.9 L239.3 733.2ZM246.6 317.4 L249.0 316.9 L249.6 313.9 L252.1 311.7 L252.4 310.0 L247.5 310.0 L246.3 317.7ZM172.0 516.7 L174.3 515.2 L176.6 513.9 L176.4 512.7 L175.0 512.9 L172.3 511.7 L170.1 514.2 L167.3 512.4 L165.0 514.0 L163.7 514.8 L163.8 515.0 L164.0 517.5 L164.1 517.8 L166.6 518.2 L166.7 518.1 L169.5 517.6ZM163.9 496.0 L163.4 498.4 L165.5 500.0 L165.0 502.5 L163.4 504.9 L163.8 507.4 L165.2 510.0 L163.4 512.4 L163.7 514.8 L165.0 514.0 L167.3 512.4 L170.1 514.2 L172.3 511.7 L175.0 512.9 L176.4 512.7 L176.3 511.6 L176.1 509.4 L177.0 507.3 L175.8 504.6 L174.8 501.8 L171.5 500.6 L169.2 498.7 L169.9 494.7 L166.5 493.6 L166.4 493.4 L162.5 492.7 L162.1 494.3ZM331.0 516.4 L328.3 516.0 L325.7 515.4 L323.0 515.3 L320.6 513.3 L321.3 516.2 L319.1 518.2 L318.5 520.7 L317.3 523.0 L317.2 525.6 L318.9 527.7 L318.3 530.7 L318.4 531.1 L320.0 531.0 L322.6 531.3 L325.1 531.1 L327.4 529.6 L330.0 530.0 L332.0 520.0 L332.5 516.6ZM322.7 537.0 L323.7 539.4 L326.3 540.1 L329.0 539.2 L331.7 539.6 L334.0 540.0 L334.3 539.7 L334.0 536.0 L331.4 532.1 L331.3 532.0 L330.0 530.0 L327.4 529.6 L325.1 531.1 L322.6 531.3 L320.0 531.0 L318.4 531.1 L319.0 533.2 L322.9 534.1ZM306.0 558.9 L302.7 560.2 L300.6 558.2 L298.2 560.2 L297.3 562.8 L297.1 565.7 L297.0 568.7 L294.8 570.7 L293.8 573.2 L296.6 572.3 L298.6 575.1 L301.1 575.3 L303.6 575.6 L306.1 576.2 L308.6 576.4 L309.0 573.3 L312.1 571.7 L311.7 568.2 L314.2 566.3 L313.0 562.7 L310.3 562.6 L308.2 560.7ZM359.2 437.2 L361.2 440.1 L363.6 441.8 L366.7 442.0 L369.0 441.2 L370.6 439.5 L372.4 438.1 L373.6 436.1 L372.4 433.4 L372.1 430.3 L370.7 427.7 L368.6 425.6 L367.0 423.1 L365.5 420.6 L362.8 420.0 L364.0 427.4 L358.1 437.3ZM632.4 399.8 L629.9 401.0 L629.8 401.1 L630.0 402.5 L629.0 403.5 L629.0 406.1 L629.7 407.0 L629.4 409.8 L630.2 410.8 L636.0 410.0 L635.3 400.1ZM338.0 640.6 L339.0 638.3 L340.2 636.0 L341.0 633.6 L341.0 631.0 L342.2 629.6 L341.9 629.4 L340.5 630.5 L340.4 630.7 L340.2 630.9 L340.1 631.1 L340.0 631.3 L339.9 631.5 L339.8 631.7 L337.0 642.4 L337.0 642.6 L337.0 642.9 L337.0 643.1 L337.0 643.3 L337.0 643.6 L337.5 645.0 L337.8 643.0ZM219.1 359.9 L218.7 362.5 L220.7 363.6 L219.2 358.1ZM322.5 305.1 L323.8 302.4 L324.3 299.6 L322.2 296.8 L322.8 294.0 L322.5 293.3 L319.0 292.5 L314.0 304.0 L320.0 307.5 L320.5 306.7ZM450.9 476.6 L451.7 479.4 L450.5 482.4 L451.6 485.1 L454.3 486.9 L457.4 486.5 L460.6 486.0 L462.4 487.0 L460.0 475.0 L460.6 473.2 L459.4 471.0 L456.4 469.9 L455.5 467.3 L453.5 468.2 L451.5 468.5 L449.3 468.3 L449.4 471.1 L448.8 474.1ZM500.8 464.7 L501.5 466.2 L501.8 466.6 L501.8 466.9 L502.1 467.7 L502.2 470.4 L501.9 470.7 L502.5 472.0 L505.0 472.7 L505.5 474.1 L506.1 475.4 L508.2 476.0 L508.2 476.0 L508.8 473.1 L512.4 473.2 L513.5 469.8 L516.9 469.6 L519.1 467.8 L521.1 465.7 L518.8 464.2 L516.9 462.1 L514.9 460.3 L513.3 458.0 L510.4 457.3 L508.3 455.5 L505.7 456.1 L503.1 456.9 L502.1 459.4 L502.9 462.3ZM502.9 476.3 L504.8 477.3 L508.1 476.9 L508.2 476.0 L508.2 476.0 L508.2 476.0 L506.1 475.4 L505.5 474.1 L503.9 473.0 L502.3 475.8ZM477.6 457.3 L477.3 459.1 L476.5 461.4 L475.0 463.4 L475.0 466.0 L472.7 466.4 L470.7 466.1 L470.6 467.4 L475.0 467.5 L479.2 459.1 L478.8 458.3ZM473.2 459.5 L471.3 461.1 L468.5 460.6 L470.5 463.0 L470.7 465.8 L470.7 466.1 L472.7 466.4 L475.0 466.0 L475.0 463.4 L476.5 461.4 L477.3 459.1 L477.6 457.3 L477.2 457.0 L474.7 457.0ZM441.1 543.5 L439.4 545.8 L436.2 546.2 L435.3 549.4 L435.2 549.5 L438.6 549.1 L439.4 549.1 L439.6 549.0 L439.8 549.0 L440.0 548.9 L440.2 548.8 L440.3 548.7 L440.5 548.6 L442.1 547.3 L443.7 546.0 L443.9 545.9 L444.0 545.7 L444.2 545.5 L444.3 545.4 L444.4 545.2 L444.4 545.0 L444.5 544.8 L444.5 544.5 L444.6 544.3 L444.5 544.1 L444.5 543.9 L444.5 543.7 L444.4 543.5 L444.0 542.6 L443.4 542.3ZM229.1 720.1 L231.4 724.2 L231.7 724.3 L234.7 724.9 L237.4 723.7 L240.3 723.4 L243.1 721.9 L244.8 723.0 L244.7 722.1 L242.5 721.0 L240.3 720.8 L239.1 718.5 L237.0 718.1 L235.0 717.5 L233.2 716.3 L233.2 716.3 L229.6 717.0ZM253.1 716.1 L254.3 713.9 L254.8 711.6 L253.4 709.2 L251.5 707.4 L248.5 706.7 L247.0 704.4 L244.4 705.3 L242.3 707.0 L240.2 708.6 L237.3 709.0 L235.7 711.4 L234.2 713.8 L233.2 716.3 L235.0 717.5 L237.0 718.1 L239.1 718.5 L240.3 720.8 L242.5 721.0 L244.7 722.1 L244.8 723.0 L246.2 723.9 L249.1 723.6 L251.8 721.7 L252.8 720.9 L253.4 718.6ZM251.9 756.1 L249.3 757.2 L248.7 760.3 L247.5 763.0 L245.2 764.1 L246.0 765.3 L245.3 768.1 L247.5 770.0 L247.2 772.0 L248.4 770.9 L251.3 770.5 L252.3 767.4 L255.5 767.4 L256.8 764.7 L259.3 763.8 L258.4 761.1 L258.9 758.3 L256.6 756.7 L253.9 759.1ZM668.9 340.8 L671.6 340.5 L674.3 341.7 L676.9 341.0 L675.9 338.8 L676.7 336.4 L674.9 334.3 L675.7 331.9 L672.9 332.2 L670.5 331.6 L669.9 331.9 L666.0 336.0 L668.0 341.4ZM330.2 484.6 L329.5 487.2 L332.2 488.5 L333.9 491.2 L336.8 492.3 L340.0 492.8 L341.6 495.7 L344.4 496.9 L347.0 498.3 L347.8 499.0 L347.0 490.0 L348.2 487.8 L350.0 486.0 L345.5 484.2 L343.6 484.6 L341.8 483.4 L340.0 482.0 L336.1 481.6 L335.2 482.4 L332.6 483.2ZM341.8 483.4 L343.6 484.6 L345.5 484.2 L340.0 482.0ZM148.5 462.7 L147.0 460.7 L144.1 460.5 L141.7 462.2 L140.8 462.7 L149.0 464.3ZM392.1 501.9 L392.4 501.5 L394.4 499.6 L395.8 497.3 L397.0 494.8 L398.3 492.4 L398.9 489.6 L401.6 488.1 L402.2 485.3 L402.0 483.9 L399.8 481.8 L397.3 480.9 L394.7 479.9 L391.4 481.2 L388.7 480.6 L386.1 480.0 L383.6 478.9 L381.3 477.1 L377.6 478.5 L377.4 480.6 L376.0 482.3 L375.2 484.2 L376.0 486.6 L375.4 489.3 L376.1 491.8 L377.7 494.2 L377.8 496.7 L377.1 499.4 L379.4 501.6 L382.7 500.8 L385.3 502.2 L388.1 503.0 L390.9 503.8 L392.0 502.0 L392.0 502.0ZM534.7 424.9 L533.5 424.6 L533.5 426.8 L531.4 429.3 L533.2 432.2 L532.1 434.8 L531.4 437.5 L531.8 440.3 L534.2 441.9 L537.6 440.7 L540.0 442.2 L542.2 444.1 L544.5 442.9 L545.8 442.4 L539.0 437.5 L535.1 425.2ZM360.4 485.4 L363.3 484.6 L366.5 486.3 L369.5 486.2 L372.1 483.0 L375.2 484.2 L376.0 482.3 L377.4 480.6 L377.6 478.5 L375.1 476.8 L373.3 474.5 L370.4 473.2 L369.5 470.0 L367.0 471.7 L366.6 471.6 L364.0 476.0 L359.0 486.0 L358.9 486.4ZM325.1 305.5 L322.5 305.1 L320.5 306.7 L320.0 307.5 L322.5 309.0 L325.2 305.4ZM300.7 749.2 L303.4 747.4 L305.4 742.9 L303.4 741.4 L302.4 738.8 L299.0 738.9 L298.2 737.3 L295.8 738.2 L294.2 739.5 L292.3 741.0 L291.2 743.5 L292.4 746.2 L291.7 748.7 L294.6 750.0 L297.7 748.7ZM279.0 766.7 L277.5 772.5 L270.0 774.0 L271.0 765.0 L274.6 764.0 L274.1 763.3 L271.2 764.1 L270.0 767.5 L268.3 767.3 L268.2 767.6 L270.1 770.0 L269.0 772.6 L270.0 775.0 L270.4 776.9 L270.5 777.1 L271.1 777.5 L272.6 778.4 L272.8 778.9 L275.2 777.0 L275.5 776.4 L275.0 775.0 L276.5 774.7 L276.8 774.2 L279.4 774.1 L280.7 773.9 L282.4 771.7 L282.5 771.2 L282.5 770.7 L280.1 769.4ZM264.5 771.1 L267.2 772.3 L268.8 774.8 L270.4 776.9 L270.0 775.0 L269.0 772.6 L270.1 770.0 L268.2 767.6 L268.3 767.3 L266.2 767.1 L264.5 769.7ZM465.4 528.2 L465.7 528.1 L467.5 526.3 L470.0 526.0 L472.0 524.7 L474.0 523.7 L475.9 522.2 L478.1 522.1 L477.7 521.8 L478.4 518.6 L475.2 516.6 L475.5 513.5 L475.9 510.3 L475.5 507.4 L471.6 505.7 L471.5 502.6 L471.3 499.7 L469.0 499.2 L466.3 500.9 L466.1 503.9 L463.9 505.9 L462.5 508.3 L463.3 511.8 L461.8 514.1 L458.8 515.7 L459.0 518.8 L457.6 521.2 L458.4 523.7 L459.0 526.3 L459.3 528.9 L461.9 528.8 L464.5 527.7ZM337.7 429.9 L336.7 428.9 L336.1 428.3 L334.2 426.4 L333.9 426.7 L332.6 432.0 L327.4 434.8 L327.1 435.6 L327.4 438.5 L328.2 441.5 L328.4 442.4 L334.8 441.0 L342.7 443.6 L343.7 441.9 L343.5 439.1 L341.0 436.2 L342.4 433.3 L340.0 432.0 L338.0 430.2ZM245.3 511.6 L243.0 513.8 L242.9 516.8 L242.1 519.5 L242.1 522.1 L241.9 524.7 L244.1 526.9 L243.2 529.7 L244.3 532.1 L245.4 534.6 L246.8 537.0 L249.2 538.5 L251.5 540.0 L253.8 541.1 L256.4 541.6 L257.6 540.4 L259.6 538.2 L258.9 535.2 L260.1 532.8 L261.4 530.4 L261.6 527.6 L262.9 525.2 L263.2 522.6 L263.3 519.8 L260.3 519.0 L258.9 516.1 L256.5 514.5 L254.5 512.4 L251.7 511.3 L249.5 511.6 L247.4 511.9ZM225.9 718.6 L225.8 719.1 L228.3 720.5 L229.9 722.4 L230.0 725.0 L230.5 725.5 L231.4 724.2 L229.1 720.1 L226.8 719.4ZM217.2 674.9 L214.3 674.5 L211.1 675.0 L209.4 671.8 L207.5 671.7 L207.4 672.9 L208.6 675.0 L207.7 677.8 L209.3 679.7 L210.0 682.0 L212.2 683.8 L211.4 686.7 L212.1 689.0 L213.6 691.0 L216.2 690.0 L219.3 690.8 L219.5 688.0 L222.5 686.1 L221.4 682.8 L222.9 680.5 L222.8 680.0 L221.7 678.4 L218.8 678.1ZM247.4 619.4 L245.3 617.8 L245.1 620.8 L242.0 621.7 L240.1 623.5 L238.7 625.6 L237.8 628.1 L240.4 627.7 L242.2 630.5 L244.6 630.9 L247.1 630.5 L248.9 628.8 L250.8 627.3 L252.7 625.8 L254.1 623.9 L251.3 623.2 L250.4 619.9ZM294.8 570.7 L297.0 568.7 L297.1 565.7 L297.3 562.8 L298.2 560.2 L300.6 558.2 L300.7 555.3 L299.2 552.8 L298.4 550.1 L298.6 547.1 L296.4 544.9 L293.3 541.8 L292.0 543.1 L289.9 545.3 L290.3 548.8 L288.2 551.0 L285.4 552.9 L285.9 556.4 L283.9 558.7 L283.3 561.6 L282.0 564.3 L280.1 566.6 L283.0 568.1 L285.0 570.2 L286.7 572.6 L287.9 575.5 L289.2 575.9 L291.2 574.0 L293.8 573.2ZM536.4 450.8 L536.6 454.4 L534.6 456.7 L533.9 459.7 L530.1 460.7 L529.4 463.8 L529.3 465.7 L529.5 465.9 L531.6 463.8 L534.5 463.2 L537.5 462.9 L539.0 459.6 L542.4 460.2 L544.6 458.2 L546.0 457.8 L547.5 455.0 L546.0 442.5 L545.8 442.4 L544.5 442.9 L542.2 444.1 L541.4 447.0 L539.0 449.0ZM233.4 636.3 L231.4 634.0 L230.8 631.3 L229.5 629.2 L227.3 627.9 L224.7 627.1 L223.6 624.8 L220.9 625.7 L218.1 625.9 L215.4 623.5 L212.7 626.2 L209.9 624.8 L207.2 624.3 L204.4 624.9 L204.8 628.1 L202.8 630.4 L202.5 633.3 L200.9 635.8 L199.3 636.7 L198.4 637.7 L198.0 640.0 L197.7 642.0 L198.1 643.8 L196.2 645.0 L196.0 646.0 L196.1 648.6 L196.9 650.8 L199.5 650.0 L202.2 652.0 L205.0 651.9 L207.8 651.3 L210.5 653.0 L213.3 652.7 L216.1 651.5 L218.8 653.3 L221.6 653.5 L224.4 653.6 L227.2 651.2 L230.0 652.5 L232.1 651.0 L231.4 648.2 L234.2 647.0 L233.9 644.4 L231.8 642.1 L232.2 639.3ZM197.7 642.0 L198.0 640.0 L198.4 637.7 L199.3 636.7 L197.8 637.6 L197.4 640.5ZM358.0 346.1 L355.5 345.2 L354.2 345.5 L356.0 350.0 L359.3 347.5ZM684.9 342.5 L686.1 343.9 L696.5 338.1 L695.1 336.0 L696.0 333.1 L695.3 330.5 L694.7 327.9 L692.3 326.2 L689.4 328.4 L687.0 326.1 L684.1 328.1 L681.8 325.8 L679.1 326.2 L677.6 327.9 L677.3 330.3 L675.7 331.9 L674.9 334.3 L676.7 336.4 L675.9 338.8 L676.9 341.0 L680.1 344.3 L682.4 342.8ZM265.0 628.3 L266.3 630.0 L266.4 628.4 L266.6 625.9 L266.0 626.0ZM260.1 620.8 L258.0 622.3 L256.2 624.0 L256.4 626.6 L256.7 629.1 L258.2 631.3 L258.7 633.6 L266.0 630.0 L266.2 630.8 L266.3 630.0 L265.0 628.3 L266.0 626.0 L266.6 625.9 L266.9 622.8 L267.0 622.8 L267.0 622.8 L272.9 620.3 L273.1 620.0 L268.9 617.8 L264.0 617.7 L261.7 618.8ZM271.5 567.2 L268.7 567.7 L267.2 570.6 L264.0 570.1 L262.6 573.4 L259.7 573.6 L260.4 576.6 L259.2 579.3 L259.1 582.2 L261.3 583.1 L262.6 585.2 L264.8 586.1 L266.3 587.9 L269.1 587.2 L271.3 585.5 L273.4 583.6 L276.0 582.6 L278.2 580.9 L279.6 579.8 L279.5 579.3 L278.2 577.2 L277.5 574.9 L277.5 572.5 L276.5 570.0 L276.8 567.5 L277.0 565.7 L276.6 565.5 L273.8 565.9ZM283.0 568.1 L280.1 566.6 L277.0 565.7 L276.8 567.5 L276.5 570.0 L277.5 572.5 L277.5 574.9 L278.2 577.2 L279.5 579.3 L279.6 579.8 L280.4 579.1 L282.7 577.6 L285.4 576.7 L287.9 575.5 L286.7 572.6 L285.0 570.2ZM306.1 616.0 L305.1 616.5 L303.1 618.2 L300.3 617.4 L298.3 619.2 L296.0 620.0 L296.1 620.0 L305.9 620.0 L306.1 620.0 L306.4 620.0 L306.6 619.9 L306.8 619.8 L307.0 619.7 L307.2 619.6 L307.4 619.5 L307.5 619.3 L307.7 619.1 L308.5 618.1 L306.6 616.3ZM299.5 611.3 L298.4 608.4 L295.8 609.4 L293.5 607.8 L290.9 608.5 L288.6 606.9 L287.8 609.8 L286.4 612.4 L283.5 614.2 L283.5 617.6 L281.4 619.7 L282.0 620.6 L283.6 621.1 L284.1 620.9 L286.1 621.6 L288.0 622.3 L289.4 622.8 L289.6 622.8 L289.8 622.8 L290.0 622.8 L290.2 622.8 L290.4 622.8 L290.6 622.7 L290.8 622.6 L292.9 621.5 L293.6 620.3 L296.0 620.0 L298.3 619.2 L300.3 617.4 L303.1 618.2 L305.1 616.5 L306.1 616.0 L304.0 614.8 L302.2 612.6ZM464.3 489.7 L465.0 492.1 L467.1 493.8 L468.6 495.7 L468.2 498.6 L469.0 499.2 L471.3 499.7 L473.4 498.0 L475.8 497.1 L478.6 497.7 L481.0 496.9 L483.8 497.6 L486.0 495.9 L486.1 493.0 L485.0 490.2 L486.0 487.2 L485.9 487.0 L485.0 487.5 L472.5 491.0 L463.4 487.8ZM160.0 437.1 L157.9 438.6 L154.7 438.9 L152.7 440.6 L152.3 444.1 L149.5 444.8 L151.3 447.1 L154.9 446.7 L157.1 448.3 L158.7 450.1 L160.0 445.0 L166.0 436.0 L160.1 435.0ZM171.2 457.9 L173.3 456.0 L174.2 453.3 L174.2 453.2 L174.0 452.5 L170.4 458.2ZM271.4 423.9 L272.1 426.6 L274.9 426.4 L277.6 425.2 L277.9 425.4 L276.4 421.8 L270.8 420.7 L270.6 421.5ZM456.4 431.5 L456.0 433.7 L456.0 434.5 L457.6 437.2 L460.5 437.9 L463.2 439.1 L466.0 440.1 L470.2 438.7 L470.7 437.8 L469.3 435.4 L470.7 433.0 L472.3 430.6 L470.8 428.2 L469.2 426.0 L456.0 430.0 L456.0 431.1ZM201.1 617.3 L201.1 619.7 L202.0 622.0 L200.5 624.1 L198.1 625.1 L196.3 626.9 L194.0 628.0 L195.1 630.3 L196.7 632.2 L198.4 634.0 L200.0 636.0 L199.3 636.7 L200.9 635.8 L202.5 633.3 L202.8 630.4 L204.8 628.1 L204.4 624.9 L202.7 622.6 L202.9 619.5ZM197.6 642.3 L196.4 643.6 L196.2 645.0 L198.1 643.8 L197.7 642.0ZM199.3 636.7 L200.0 636.0 L198.4 634.0 L196.7 632.2 L195.1 630.3 L194.0 628.0 L192.0 626.1 L189.1 626.5 L188.0 625.7 L188.0 626.0 L189.7 627.9 L189.1 630.7 L190.5 632.7 L192.6 634.5 L192.1 637.3 L194.5 638.9 L194.5 641.5 L196.4 643.3 L196.4 643.6 L197.6 642.3 L197.7 642.0 L197.4 640.5 L197.8 637.6ZM200.1 614.9 L200.6 613.8 L199.7 611.8 L196.8 610.8 L194.9 608.6 L191.7 608.1 L189.5 606.2 L187.6 603.8 L184.7 602.5 L181.7 603.8 L179.3 603.5 L179.3 603.5 L179.8 605.8 L180.3 608.1 L182.0 610.0 L182.5 612.4 L182.9 614.9 L184.9 616.7 L185.7 619.0 L185.2 621.8 L188.4 623.2 L188.0 625.7 L189.1 626.5 L192.0 626.1 L194.0 628.0 L196.3 626.9 L198.1 625.1 L200.5 624.1 L202.0 622.0 L201.1 619.7 L201.1 617.3 L201.0 617.2 L201.0 617.0ZM270.7 792.3 L270.5 793.2 L269.0 795.0 L269.2 796.7 L270.2 796.1 L270.7 793.2ZM269.7 782.2 L270.0 782.5 L262.5 787.5 L262.1 787.1 L261.4 787.8 L258.5 788.7 L256.9 791.2 L257.1 791.7 L258.2 792.8 L259.0 795.0 L260.9 796.4 L262.2 798.1 L263.1 800.1 L264.4 801.8 L264.1 804.1 L265.1 802.9 L266.2 800.3 L267.5 797.7 L269.2 796.7 L269.0 795.0 L270.5 793.2 L270.7 792.3 L270.7 790.2 L273.1 787.8 L272.9 784.7 L273.9 782.8 L274.0 782.5 L273.5 780.4 L272.8 778.9 L272.7 778.9 L270.7 781.1ZM388.5 446.9 L391.1 448.0 L394.1 447.9 L396.9 448.3 L398.9 451.5 L400.8 450.6 L400.0 450.0 L388.0 442.0 L386.7 442.0 L386.0 445.0ZM229.6 717.0 L233.2 716.3 L233.2 716.3 L233.0 716.1 L230.8 715.4 L228.7 714.4 L226.2 714.8 L224.0 714.0 L224.1 714.6 L226.6 716.0 L225.9 718.6 L226.8 719.4 L229.1 720.1ZM224.6 697.4 L222.4 698.9 L222.5 701.4 L224.0 702.5 L223.4 704.8 L223.4 707.1 L224.8 709.4 L223.6 711.7 L223.6 711.7 L223.8 712.1 L224.0 714.0 L226.2 714.8 L228.7 714.4 L230.8 715.4 L233.0 716.1 L233.2 716.3 L234.2 713.8 L235.7 711.4 L234.9 708.7 L232.6 706.4 L234.6 702.9 L233.3 700.4 L231.7 697.9 L229.3 697.8 L226.9 697.4ZM221.0 705.9 L221.1 708.2 L222.5 710.0 L223.6 711.7 L223.6 711.7 L224.8 709.4 L223.4 707.1 L223.4 704.8 L224.0 702.5 L222.5 701.4 L222.6 701.9 L221.8 704.5ZM308.7 768.1 L310.0 769.8 L311.1 771.6 L312.9 772.9 L314.5 774.6 L315.0 772.8 L315.6 770.3 L315.0 767.5 L316.0 765.5 L317.4 763.9 L319.7 763.2 L321.9 762.4 L322.5 760.0 L324.4 758.6 L324.6 757.4 L324.3 754.6 L321.3 754.5 L318.7 756.2 L315.9 756.8 L315.9 756.8 L317.5 760.0 L310.0 767.5 L308.8 767.8ZM443.7 461.2 L446.7 458.8 L446.3 458.0 L445.0 457.9 L444.9 457.8 L440.0 458.0 L436.9 458.3 L435.3 459.8 L432.8 459.1 L432.5 459.3 L432.6 460.8 L434.6 462.6 L437.6 462.4 L439.2 464.7 L442.1 464.8 L443.7 467.0 L444.0 466.9 L443.6 464.0ZM432.5 459.3 L432.8 459.1 L435.3 459.8 L436.9 458.3 L432.4 458.6ZM433.2 488.2 L434.9 490.2 L435.7 493.1 L438.4 494.2 L440.2 496.1 L440.8 493.0 L444.4 492.0 L445.7 489.3 L446.7 486.5 L444.8 484.5 L442.5 482.9 L441.9 479.8 L438.3 479.2 L437.6 476.2 L434.9 476.3 L432.5 477.7 L430.4 479.5 L427.6 479.6 L427.6 482.7 L430.3 483.7 L430.3 487.4ZM235.9 596.4 L233.4 598.1 L230.5 598.8 L228.1 600.9 L229.8 603.2 L228.8 606.3 L230.6 608.6 L231.2 611.2 L233.6 612.6 L236.1 612.9 L238.6 613.2 L241.4 612.3 L243.8 613.3 L245.7 611.6 L246.7 609.3 L247.3 606.5 L250.0 605.5 L249.1 603.1 L247.2 601.2 L245.9 598.9 L244.9 596.6 L244.5 594.0 L242.1 595.8 L238.6 595.2ZM520.8 436.5 L522.8 434.4 L523.1 431.6 L523.0 428.6 L525.0 426.4 L524.6 423.4 L525.1 422.7 L517.5 421.0 L514.2 421.3 L513.6 422.2 L511.2 423.9 L511.0 427.4 L507.9 428.6 L508.6 429.3 L512.5 429.0 L517.5 437.5 L516.7 439.9 L517.3 441.6 L518.8 441.6 L519.4 438.9ZM341.6 495.7 L340.0 492.8 L336.8 492.3 L333.9 491.2 L332.2 488.5 L329.5 487.2 L327.9 489.7 L324.2 489.7 L322.7 492.3 L320.0 493.4 L319.5 497.3 L315.6 497.1 L314.9 500.6 L312.0 501.5 L314.0 503.7 L315.5 506.2 L317.7 508.2 L318.8 511.0 L320.6 513.3 L323.0 515.3 L325.7 515.4 L328.3 516.0 L331.0 516.4 L332.5 516.6 L334.0 506.0 L345.8 504.3 L346.9 502.0 L347.9 501.3 L347.6 499.6 L347.8 499.2 L347.8 499.0 L347.0 498.3 L344.4 496.9ZM295.0 762.5 L292.8 769.0 L293.3 769.0 L295.9 769.7 L296.8 770.6 L298.7 770.3 L298.2 768.2 L298.8 766.1 L297.1 760.3 L296.1 760.3 L294.3 762.2 L293.6 763.1ZM253.4 692.7 L251.0 694.3 L248.5 695.6 L248.1 698.5 L246.8 701.2 L247.0 704.4 L248.5 706.7 L251.5 707.4 L253.4 709.2 L254.8 711.6 L257.3 710.4 L259.5 708.5 L262.8 710.2 L265.0 708.4 L263.4 706.1 L263.7 703.3 L262.8 700.8 L263.5 697.9 L263.0 695.3 L263.2 692.6 L260.2 690.5 L260.8 687.6 L260.1 687.4 L258.1 689.5 L255.0 690.0ZM359.2 437.2 L358.1 437.3 L357.3 438.7 L355.7 437.8 L354.2 439.7 L351.2 440.9 L350.3 443.8 L349.6 445.7 L357.3 447.6 L359.0 454.0 L359.7 453.0 L362.4 452.2 L365.5 452.9 L366.2 450.2 L366.5 447.5 L367.6 444.9 L366.7 442.0 L363.6 441.8 L361.2 440.1ZM336.7 603.0 L336.8 603.0 L337.0 603.0 L337.2 603.0 L337.4 602.9 L337.6 602.8 L337.8 602.7 L338.0 602.6 L338.1 602.5 L338.3 602.4 L338.4 602.2 L338.6 602.0 L338.7 601.9 L338.8 601.7 L338.9 601.5 L338.9 601.2 L338.9 601.2 L336.8 601.7ZM219.4 693.9 L219.3 690.8 L216.2 690.0 L213.6 691.0 L213.6 691.1 L215.4 693.0 L214.2 696.1 L216.0 698.0 L216.1 698.4 L217.0 699.2 L219.2 700.6 L221.9 700.9 L222.5 701.4 L222.4 698.9 L220.5 696.5ZM222.5 701.4 L221.9 700.9 L219.2 700.6 L217.0 699.2 L216.1 698.4 L216.4 700.4 L217.5 702.4 L218.5 704.4 L221.0 705.7 L221.0 705.9 L221.8 704.5 L222.6 701.9ZM266.5 488.3 L263.0 488.0 L260.6 489.5 L258.6 491.6 L259.9 494.3 L259.7 497.3 L262.2 498.0 L264.1 500.1 L267.4 499.5 L268.5 503.0 L270.8 504.3 L274.3 503.2 L276.0 505.5 L277.2 502.9 L280.1 501.7 L281.4 499.2 L283.0 496.9 L280.5 495.2 L280.2 492.0 L277.6 490.3 L276.5 487.6 L274.5 485.5 L273.2 483.0 L270.0 483.2 L268.7 486.5ZM283.8 534.5 L280.9 535.1 L278.0 536.3 L275.0 536.4 L272.1 537.1 L269.1 537.1 L266.4 538.8 L263.5 539.6 L260.4 538.9 L257.6 540.4 L256.4 541.6 L256.8 543.6 L256.7 545.7 L257.1 547.7 L259.8 548.6 L262.7 549.2 L264.7 551.9 L267.2 553.4 L270.2 553.8 L273.1 553.6 L274.8 551.0 L278.0 551.3 L280.1 549.6 L282.5 548.3 L284.2 545.7 L285.6 545.0 L285.2 542.5 L285.0 540.0 L287.4 539.3 L289.3 537.6 L291.4 536.9 L289.9 535.0 L287.1 536.1ZM289.3 537.6 L287.4 539.3 L285.0 540.0 L285.2 542.5 L285.6 545.0 L286.6 544.5 L289.2 543.5 L292.0 543.1 L293.3 541.8 L292.6 538.5 L291.4 536.9ZM365.4 455.3 L368.0 455.0 L368.2 454.7 L368.0 454.4 L365.5 452.9 L362.4 452.2 L359.7 453.0 L359.0 454.0 L360.0 458.0 L365.1 456.1ZM367.0 471.7 L369.5 470.0 L368.8 468.0 L366.6 471.6ZM207.4 517.5 L207.1 514.5 L205.8 512.0 L204.8 509.3 L201.9 509.6 L199.1 510.3 L196.4 511.2 L193.4 511.1 L191.0 513.3 L188.3 514.6 L185.3 514.4 L182.4 514.6 L179.6 515.5 L182.3 517.0 L183.2 519.7 L183.1 523.1 L187.1 523.6 L188.4 526.1 L189.0 529.0 L191.4 530.0 L193.9 529.9 L196.2 531.1 L198.9 528.8 L201.3 529.9 L203.8 528.4 L206.0 526.2 L208.6 524.7 L211.9 524.8 L209.6 522.7 L208.5 520.1ZM300.6 694.0 L298.8 695.3 L297.7 697.2 L297.7 697.3 L301.6 693.9ZM297.9 698.1 L301.0 702.7 L304.5 704.3 L305.0 704.2 L300.0 700.0 L297.8 697.8ZM297.6 696.8 L297.7 697.2 L298.8 695.3 L300.6 694.0 L300.1 694.0 L297.5 693.8ZM179.5 580.5 L182.0 578.7 L183.1 575.9 L183.6 572.5 L185.2 570.0 L188.8 569.1 L189.1 565.6 L191.5 563.7 L190.7 561.4 L187.8 560.1 L185.3 563.1 L182.4 562.0 L179.5 561.6 L176.8 562.5 L174.1 564.3 L171.3 563.5 L169.3 563.2 L169.8 564.3 L170.3 566.3 L170.5 568.4 L172.0 570.0 L171.2 572.8 L173.1 575.0 L174.4 577.3 L173.1 580.2 L173.9 582.6 L174.1 585.2 L175.5 586.8 L175.7 585.1 L178.3 583.3ZM165.4 483.0 L166.7 483.5 L168.3 483.4 L166.7 481.2 L166.8 478.4 L166.6 475.7 L166.3 473.0 L165.4 470.5 L166.3 467.6 L164.6 465.3 L164.2 465.2 L161.8 464.8 L159.3 465.9 L157.7 465.9 L158.1 467.5 L156.8 470.1 L159.5 472.4 L158.9 475.0 L158.9 477.5 L159.0 480.0 L158.8 480.8 L159.8 481.7 L163.4 480.6ZM282.6 674.7 L285.1 673.8 L285.6 673.5 L283.3 673.1 L282.2 672.7 L280.5 673.2ZM277.8 678.8 L274.2 679.8 L273.3 682.4 L272.2 685.0 L272.4 687.8 L274.6 689.3 L274.8 689.5 L277.6 688.0 L277.6 688.0 L277.6 688.0 L281.5 689.5 L281.6 690.2 L282.2 693.9 L283.2 693.8 L286.0 693.4 L288.9 693.9 L291.6 695.0 L291.8 695.0 L294.6 694.0 L297.4 693.8 L298.2 691.1 L295.6 689.0 L295.7 686.4 L296.1 683.8 L294.0 682.0 L291.9 680.2 L289.8 678.3 L288.3 675.8 L286.4 673.7 L285.6 673.5 L285.1 673.8 L282.6 674.7 L280.5 673.2 L279.6 673.5 L278.1 675.8ZM424.8 487.7 L426.0 485.1 L427.6 482.7 L427.6 479.6 L426.3 477.5 L423.9 476.5 L422.0 474.9 L420.6 472.8 L420.3 472.9 L420.0 474.0 L418.5 475.9 L417.6 478.2 L416.0 480.0 L415.0 482.3 L413.7 484.5 L413.0 487.0 L410.4 486.3 L408.2 486.9 L407.3 487.8 L408.3 490.4 L410.7 491.6 L412.4 493.7 L414.8 493.7 L417.1 494.1 L419.4 494.5 L421.1 492.2 L423.7 490.5ZM412.7 475.6 L409.8 475.2 L407.0 475.6 L405.1 477.3 L404.9 480.0 L404.0 482.3 L402.0 483.9 L402.2 485.3 L403.5 487.9 L407.2 487.6 L407.3 487.8 L408.2 486.9 L410.4 486.3 L413.0 487.0 L413.7 484.5 L415.0 482.3 L416.0 480.0 L417.6 478.2 L418.5 475.9 L420.0 474.0 L420.3 472.9 L417.9 473.4 L415.1 473.6ZM374.4 562.5 L373.7 564.8 L374.9 567.2 L375.7 569.7 L375.4 572.3 L375.2 574.9 L376.5 577.0 L381.8 577.0 L382.0 577.0 L382.2 577.0 L382.4 576.9 L382.6 576.8 L382.8 576.7 L383.0 576.6 L383.2 576.5 L383.4 576.4 L383.5 576.2 L383.6 576.0 L383.7 575.8 L383.8 575.6 L383.9 575.4 L384.0 575.2 L384.0 575.0 L384.0 574.8 L384.0 572.1 L384.0 572.0 L384.0 572.0 L392.0 560.0 L392.0 560.0 L392.0 560.0 L395.8 559.0 L395.4 558.5 L392.7 557.7 L389.8 557.6 L386.7 559.5 L383.9 558.8 L381.6 556.1 L378.6 556.7 L378.0 559.1 L376.2 560.8ZM265.8 748.4 L266.0 752.4 L266.0 752.4 L266.0 752.5 L266.0 752.5 L266.0 752.5 L264.8 754.7 L266.3 756.0 L268.1 757.4 L268.4 758.0 L271.1 757.1 L272.3 757.9 L272.5 755.5 L266.4 751.5 L266.2 748.6ZM268.2 758.1 L268.4 758.0 L268.1 757.4 L266.3 756.0 L264.8 754.7 L264.0 756.2 L265.9 756.0ZM494.7 439.8 L494.3 437.1 L491.6 437.4 L488.8 435.9 L486.1 436.0 L483.4 438.7 L480.6 437.4 L477.9 438.0 L475.2 437.8 L477.8 438.6 L477.7 441.1 L480.0 442.5 L480.0 445.0 L482.5 445.5 L485.1 446.0 L487.2 447.9 L488.6 448.2 L489.6 447.0 L492.3 447.5 L492.4 444.7 L493.2 442.2ZM470.7 437.8 L470.2 438.7 L473.0 440.0 L473.1 443.6 L475.0 445.7 L477.0 447.7 L479.3 449.4 L481.8 448.5 L484.6 449.3 L487.3 449.7 L488.6 448.2 L487.2 447.9 L485.1 446.0 L482.5 445.5 L480.0 445.0 L480.0 442.5 L477.7 441.1 L477.8 438.6 L475.2 437.8 L475.1 437.8 L472.4 437.3ZM281.5 325.0 L283.5 323.1 L283.6 322.2 L282.6 320.1 L280.7 318.5 L280.4 316.2 L280.4 316.0 L274.0 316.0 L277.4 327.1 L279.3 326.5ZM684.9 342.5 L682.4 342.8 L680.1 344.3 L680.4 347.1 L682.5 346.0 L686.1 343.9ZM402.8 456.3 L403.1 453.8 L403.8 452.8 L400.8 450.6 L398.9 451.5 L396.9 448.3 L394.1 447.9 L391.1 448.0 L388.5 446.9 L388.3 449.5 L385.6 450.5 L384.2 452.3 L383.6 454.7 L383.8 457.7 L386.3 459.9 L387.7 462.4 L387.3 465.6 L390.3 466.6 L393.1 464.9 L396.1 465.3 L398.8 463.5 L401.8 463.8 L402.2 461.3 L403.5 459.0ZM187.5 552.5 L185.4 550.3 L184.5 547.6 L182.6 545.3 L181.5 542.6 L178.8 541.4 L175.6 542.0 L172.6 542.1 L169.7 541.4 L167.2 539.4 L166.2 539.2 L166.0 540.0 L165.5 542.5 L165.4 545.0 L165.8 547.5 L166.0 550.0 L167.2 552.4 L166.2 555.2 L166.6 557.8 L168.8 559.9 L169.0 562.5 L169.3 563.2 L171.3 563.5 L174.1 564.3 L176.8 562.5 L179.5 561.6 L182.4 562.0 L185.3 563.1 L187.8 560.1 L190.7 561.4 L191.0 560.4 L190.7 557.3 L187.1 556.0ZM256.4 504.7 L255.3 507.2 L254.4 509.8 L251.7 511.3 L254.5 512.4 L256.5 514.5 L258.9 516.1 L260.3 519.0 L263.3 519.8 L266.1 520.4 L268.2 519.2 L270.6 518.6 L272.5 516.7 L274.8 515.7 L276.4 513.3 L276.8 510.8 L276.8 508.2 L276.0 505.5 L274.3 503.2 L270.8 504.3 L268.5 503.0 L267.4 499.5 L264.1 500.1 L262.2 498.0 L259.7 497.3 L257.4 499.1 L256.3 501.6ZM315.9 756.8 L318.7 756.2 L321.3 754.5 L324.3 754.6 L324.8 752.5 L325.5 750.6 L327.0 749.0 L324.8 745.8 L322.1 745.7 L319.3 746.3 L316.8 745.1 L314.5 743.0 L311.7 743.2 L308.8 744.1 L306.4 742.4 L305.4 742.9 L303.4 747.4 L305.3 749.3 L306.9 751.1 L312.5 750.0 L315.9 756.8ZM270.0 432.0 L270.7 429.2 L272.1 426.6 L271.4 423.9 L270.6 421.5 L270.4 422.5 L270.0 422.5 L270.0 424.6 L268.5 432.0 L269.0 433.0ZM270.4 776.9 L268.8 774.8 L267.2 772.3 L264.5 771.1 L262.6 773.3 L260.7 775.6 L259.1 778.2 L256.0 779.3 L256.0 779.8 L265.0 777.5 L269.7 782.2 L270.7 781.1 L272.7 778.9 L271.1 777.5 L270.4 777.2ZM255.6 782.0 L256.8 784.1 L259.1 786.0 L258.5 788.7 L261.4 787.8 L262.1 787.1 L255.8 780.8ZM283.2 743.1 L281.3 742.8 L280.7 745.0 L274.7 752.6 L275.2 753.2 L280.0 750.0 L285.7 751.0 L285.8 750.6 L288.4 749.3 L285.6 748.5 L283.9 746.5ZM244.8 585.3 L246.9 587.0 L248.9 585.0 L251.9 585.2 L253.7 582.7 L256.2 582.0 L259.1 582.2 L259.2 579.3 L260.4 576.6 L259.7 573.6 L258.1 571.7 L258.0 572.0 L255.9 573.4 L254.4 575.5 L252.8 577.5 L250.0 578.0 L248.9 579.5 L248.1 581.1 L248.0 583.0 L245.7 582.3 L243.3 582.0 L241.1 582.8 L239.8 582.8 L239.8 582.9 L243.2 583.0ZM243.4 561.0 L241.1 563.2 L238.2 563.5 L235.3 563.7 L232.8 565.1 L229.8 565.1 L229.9 567.6 L229.0 569.8 L227.7 571.9 L229.4 574.1 L231.4 576.0 L234.8 576.1 L236.8 577.8 L239.2 579.2 L239.8 582.8 L241.1 582.8 L243.3 582.0 L245.7 582.3 L248.0 583.0 L248.1 581.1 L248.9 579.5 L250.0 578.0 L252.8 577.5 L254.4 575.5 L255.9 573.4 L258.0 572.0 L258.1 571.7 L257.9 571.5 L256.5 569.1 L255.5 566.5 L253.9 564.1 L251.7 562.2 L251.7 559.0 L249.1 560.4 L246.6 562.0ZM191.4 494.8 L193.4 496.8 L195.5 498.7 L198.1 499.3 L200.6 500.5 L203.4 500.4 L201.3 498.2 L200.6 495.7 L202.7 492.5 L200.3 490.4 L201.2 487.5 L199.5 485.2 L197.1 487.0 L194.4 487.2 L191.4 486.2 L188.7 486.0 L188.5 486.1 L188.5 486.9 L186.2 488.0 L186.2 488.1 L186.6 488.7 L187.0 488.5 L189.6 490.6 L191.5 492.0 L191.0 494.1ZM392.5 526.9 L389.8 527.2 L387.7 529.1 L385.7 531.2 L386.0 532.6 L386.0 535.1 L385.2 537.7 L386.0 540.0 L385.9 540.2 L386.7 540.4 L389.1 541.6 L391.9 541.4 L394.4 543.0 L397.4 542.0 L400.1 542.3 L402.4 544.0 L403.4 541.7 L406.4 541.0 L407.4 538.7 L408.2 536.2 L406.8 533.7 L404.6 531.9 L402.0 530.3 L401.7 527.1 L397.7 525.4 L395.3 526.7ZM383.3 534.2 L382.6 537.2 L384.0 539.8 L385.9 540.2 L386.0 540.0 L385.2 537.7 L386.0 535.1 L386.0 532.6 L385.7 531.2 L385.7 531.2 L382.9 531.5ZM375.6 502.2 L377.1 499.4 L377.8 496.7 L377.7 494.2 L376.1 491.8 L375.4 489.3 L376.0 486.6 L375.2 484.2 L372.1 483.0 L369.5 486.2 L366.5 486.3 L363.3 484.6 L360.4 485.4 L358.9 486.4 L356.0 496.0 L357.1 503.7 L357.6 503.9 L360.2 504.5 L363.1 504.3 L365.5 505.6 L367.9 506.5 L370.5 505.1 L372.4 502.8ZM260.6 489.5 L263.0 488.0 L266.5 488.3 L268.7 486.5 L270.0 483.2 L273.2 483.0 L273.4 481.3 L271.5 479.5 L269.7 477.6 L269.1 476.9 L267.5 477.3 L265.0 477.5 L264.4 480.0 L262.6 480.2 L261.5 481.5 L261.5 483.5 L259.1 484.2 L257.5 486.0 L255.8 488.0 L253.7 489.3 L253.5 489.4 L255.9 490.3 L258.6 491.6ZM253.2 489.3 L253.5 489.4 L253.7 489.3 L255.8 488.0 L257.5 486.0 L252.8 488.8ZM261.5 483.5 L261.5 481.5 L259.1 484.2ZM264.4 480.0 L265.0 477.5 L262.6 480.2ZM273.4 583.6 L271.3 585.5 L269.1 587.2 L266.3 587.9 L266.6 590.0 L268.5 591.5 L268.4 593.7 L271.6 596.5 L274.1 598.1 L275.7 598.1 L275.8 597.5 L275.3 595.0 L275.0 592.5 L276.1 590.3 L277.0 589.5 L277.0 587.0 L278.3 586.4 L278.4 585.9 L280.0 584.0 L279.8 581.6 L279.6 579.8 L278.2 580.9 L276.0 582.6ZM282.7 577.6 L280.4 579.1 L279.6 579.8 L279.8 581.6 L280.0 584.0 L278.4 585.9 L278.3 586.4 L286.0 583.0 L291.8 581.3 L288.8 579.1 L289.2 575.9 L287.9 575.5 L285.4 576.7ZM275.0 592.5 L275.3 595.0 L275.8 597.5 L275.7 598.1 L277.1 598.1 L280.1 597.9 L282.6 599.6 L285.4 599.9 L287.8 598.0 L286.8 594.3 L289.6 592.6 L289.5 589.4 L291.0 588.3 L283.0 591.0 L283.0 597.0 L277.0 592.0 L277.0 589.5 L276.1 590.3ZM363.9 413.5 L361.8 414.0 L362.1 415.9 L362.5 415.5ZM251.3 490.0 L249.0 491.0 L247.3 489.6 L247.2 489.4 L245.8 488.0 L245.4 488.3 L242.3 487.7 L239.3 487.6 L236.6 489.7 L236.5 492.3 L235.7 494.7 L233.6 496.6 L232.7 498.9 L233.0 500.0 L235.4 501.7 L238.2 502.7 L238.5 506.5 L242.1 506.8 L243.0 510.0 L245.3 511.6 L247.4 511.9 L249.5 511.6 L251.7 511.3 L254.4 509.8 L255.3 507.2 L256.4 504.7 L256.3 501.6 L257.4 499.1 L259.7 497.3 L259.9 494.3 L258.6 491.6 L255.9 490.3 L253.5 489.4ZM436.3 514.5 L435.3 516.9 L434.7 519.2 L435.0 521.8 L436.3 524.5 L436.6 524.4 L446.0 515.0 L446.0 515.0 L446.0 515.0 L450.9 518.7 L452.5 520.0 L452.5 520.0 L452.5 520.0 L457.3 529.6 L457.4 529.8 L457.5 530.0 L457.6 530.0 L459.3 528.9 L459.0 526.3 L458.4 523.7 L457.6 521.2 L454.5 520.8 L452.3 519.1 L450.9 516.2 L449.3 513.6 L446.7 512.5 L444.1 511.4 L441.6 510.0 L439.3 510.9 L438.4 513.4ZM339.8 679.9 L339.8 680.1 L339.9 680.3 L340.0 680.5 L340.2 680.6 L340.3 680.8 L340.5 680.9 L340.7 681.0 L340.8 681.2 L341.0 681.2 L341.2 681.3 L341.3 681.2 L342.0 680.0 L341.0 678.1 L340.7 678.5 L339.7 679.8ZM243.4 737.3 L242.2 739.5 L240.0 741.1 L240.9 744.6 L238.9 744.9 L238.5 747.2 L239.2 749.5 L239.7 750.4 L240.8 751.0 L243.1 752.5 L245.8 751.8 L248.4 750.3 L249.9 747.8 L250.0 747.6 L250.0 740.0 L251.8 740.6 L251.9 740.5 L251.5 738.1 L248.7 738.7 L246.1 738.2ZM280.4 316.2 L280.7 318.5 L282.6 320.1 L283.6 322.2 L283.6 322.2 L282.5 316.0 L280.4 316.0ZM324.3 754.6 L324.6 757.4 L324.4 758.6 L324.7 758.3 L327.6 759.1 L330.2 758.9 L332.5 757.5 L331.2 755.0 L332.9 752.5 L332.6 750.0 L333.6 748.0 L332.5 747.3 L330.0 750.0 L327.0 749.0 L325.5 750.6 L324.8 752.5ZM438.1 473.2 L437.6 476.2 L438.3 479.2 L441.9 479.8 L442.5 482.9 L444.8 484.5 L446.7 486.5 L449.3 486.4 L451.6 485.1 L450.5 482.4 L451.7 479.4 L450.9 476.6 L448.8 474.1 L449.4 471.1 L449.3 468.3 L446.6 468.0 L444.0 466.9 L443.7 467.0 L443.1 469.9 L441.4 472.0ZM436.2 546.2 L439.4 545.8 L441.1 543.5 L439.9 541.0 L436.7 540.2 L434.9 538.2 L434.6 534.9 L432.1 533.6 L431.5 530.5 L429.0 529.2 L429.4 532.4 L427.7 534.9 L427.1 537.8 L425.4 540.3 L423.6 542.8 L423.8 544.1 L424.0 544.0 L424.0 544.0 L424.0 544.0 L429.3 549.3 L429.4 549.4 L429.6 549.5 L429.8 549.6 L430.0 549.7 L430.2 549.8 L430.4 549.9 L430.6 549.9 L430.8 549.9 L431.0 549.9 L435.2 549.5 L435.3 549.4ZM282.4 708.5 L282.6 711.5 L284.5 712.4 L285.7 710.8 L283.9 708.0ZM298.8 776.2 L298.5 778.6 L298.8 779.6 L300.2 779.1 L300.7 778.3 L303.4 777.6 L306.0 776.9 L307.9 774.8 L310.1 773.3 L312.9 772.9 L311.1 771.6 L310.0 769.8 L308.7 768.1 L307.2 768.2 L300.0 770.0 L299.1 773.5 L299.3 773.9ZM239.8 582.9 L239.8 582.8 L238.8 582.8 L236.6 584.2 L234.2 582.6 L232.0 584.0 L230.9 586.4 L231.4 589.1 L229.5 591.3 L230.0 594.0 L227.7 594.9 L225.5 595.9 L223.3 596.9 L220.5 595.9 L220.2 595.9 L221.5 597.0 L223.3 599.1 L226.7 598.5 L228.1 600.9 L230.5 598.8 L233.4 598.1 L235.9 596.4 L238.6 595.2 L242.1 595.8 L244.5 594.0 L245.0 591.5 L245.9 589.2 L246.9 587.0 L244.8 585.3 L243.2 583.0ZM234.8 576.1 L231.4 576.0 L229.4 574.1 L227.7 571.9 L225.8 573.5 L223.2 574.0 L223.1 577.7 L220.9 578.9 L218.4 579.5 L217.9 582.2 L218.3 584.9 L218.9 587.5 L218.2 590.2 L218.3 592.8 L219.6 595.4 L220.2 595.9 L220.5 595.9 L223.3 596.9 L225.5 595.9 L227.7 594.9 L230.0 594.0 L229.5 591.3 L231.4 589.1 L230.9 586.4 L232.0 584.0 L234.2 582.6 L236.6 584.2 L238.8 582.8 L239.8 582.8 L239.2 579.2 L236.8 577.8ZM240.4 627.7 L237.8 628.1 L236.0 630.2 L232.8 629.4 L230.8 631.3 L231.4 634.0 L233.4 636.3 L232.2 639.3 L231.8 642.1 L233.9 644.4 L236.3 643.1 L238.8 643.0 L239.8 643.1 L249.2 638.4 L246.6 636.4 L248.8 633.2 L247.1 630.5 L244.6 630.9 L242.2 630.5ZM349.5 419.3 L346.8 418.7 L345.9 418.5 L340.4 420.7 L335.0 422.5 L336.7 428.9 L337.7 429.9 L354.3 427.6 L354.3 426.8 L354.3 426.1 L353.1 423.8 L356.2 421.6 L356.3 421.3 L356.9 419.9 L356.5 419.1 L354.8 419.9 L352.2 420.0ZM334.2 426.4 L336.1 428.3 L336.7 428.9 L335.1 422.9 L334.8 423.0 L334.2 425.6ZM338.0 430.2 L340.0 432.0 L342.4 433.3 L345.2 433.8 L347.8 431.5 L349.0 431.8 L348.5 428.4 L337.7 429.9ZM332.5 747.3 L333.6 748.0 L333.9 747.5 L332.5 745.0 L332.1 742.5 L330.4 740.2 L329.8 737.7 L330.0 735.0 L330.6 732.5 L330.7 732.1 L321.3 731.1 L321.1 732.0 L321.6 734.8 L321.9 737.7 L324.5 740.1 L324.2 743.1 L324.8 745.8 L327.0 749.0 L330.0 750.0ZM272.4 687.8 L272.2 685.0 L269.1 684.4 L266.2 684.8 L263.3 685.4 L260.8 687.6 L260.2 690.5 L263.2 692.6 L263.0 695.3 L263.5 697.9 L262.8 700.8 L263.7 703.3 L263.4 706.1 L265.0 708.4 L267.5 709.3 L270.0 710.0 L272.5 709.0 L274.8 707.6 L277.3 706.6 L278.5 704.0 L275.9 701.3 L275.9 698.6 L276.6 696.7 L274.6 696.2 L274.3 693.7 L273.8 690.1 L273.8 690.1 L273.8 690.0 L273.8 690.0 L274.8 689.5 L274.6 689.3ZM290.2 782.4 L290.3 785.5 L292.1 787.6 L293.4 789.8 L295.1 790.9 L296.2 790.2 L296.5 788.8 L297.5 786.2 L297.3 783.2 L298.2 782.1 L297.5 780.0 L289.8 781.9ZM298.8 779.6 L298.5 778.6 L298.8 776.2 L299.3 773.9 L299.1 773.5 L297.5 780.0ZM295.9 769.7 L293.3 769.0 L292.8 769.0 L292.5 770.0 L282.8 771.9 L284.6 773.1 L287.5 772.5 L296.8 770.6ZM255.6 782.0 L255.8 780.8 L255.0 780.0 L256.0 779.8 L256.0 779.3 L253.4 778.0 L250.9 776.4 L250.6 776.3 L250.0 778.7 L250.5 780.9 L252.5 782.5 L254.3 784.2 L254.3 786.9 L255.3 789.0 L256.4 791.1 L257.1 791.7 L256.9 791.2 L258.5 788.7 L259.1 786.0 L256.8 784.1ZM370.7 418.5 L367.8 418.7 L365.5 420.6 L367.0 423.1 L368.6 425.6 L370.7 427.7 L372.1 430.3 L372.4 433.4 L373.6 436.1 L376.1 436.1 L378.6 435.3 L381.0 435.8 L383.5 436.2 L383.6 435.8 L374.0 430.0 L373.0 420.0 L372.7 419.0ZM271.2 722.2 L270.2 722.7 L267.3 720.9 L265.0 722.5 L262.8 723.7 L262.3 724.9 L264.5 726.1 L265.7 726.6 L270.5 723.0 L271.7 722.8ZM260.1 723.4 L262.2 724.8 L262.3 724.9 L262.8 723.7 L265.0 722.5 L267.3 720.9 L270.2 722.7 L271.2 722.2 L269.5 720.7 L270.3 718.0 L271.1 715.3 L270.1 712.7 L270.0 710.0 L267.5 709.3 L265.0 708.4 L262.8 710.2 L259.5 708.5 L257.3 710.4 L254.8 711.6 L254.3 713.9 L253.1 716.1 L253.4 718.6 L252.8 720.9 L255.3 721.4 L257.1 723.7ZM714.9 330.6 L717.5 330.0 L716.9 323.2 L716.5 322.5 L716.5 322.4 L715.5 321.6 L712.4 323.1 L709.5 322.8 L706.6 322.2 L704.1 319.7 L701.1 319.6 L698.2 320.1 L696.3 322.4 L695.3 325.1 L694.7 327.9 L695.3 330.5 L696.0 333.1 L695.1 336.0 L696.5 338.1 L697.5 337.5 L710.0 332.5 L714.8 330.9ZM274.9 426.4 L272.1 426.6 L270.7 429.2 L270.0 432.0 L272.8 432.9 L274.5 435.0 L276.0 437.0 L277.5 436.4 L278.7 427.4 L277.9 425.4 L277.6 425.2ZM225.6 538.5 L227.9 540.5 L227.4 543.7 L229.4 545.8 L231.8 544.7 L234.6 544.5 L237.0 543.6 L239.2 541.9 L241.6 540.6 L244.7 541.4 L247.2 540.5 L249.2 538.5 L246.8 537.0 L245.4 534.6 L244.3 532.1 L241.6 532.1 L239.0 531.3 L236.2 532.8 L233.6 532.5 L230.9 532.7 L228.4 530.5 L225.6 532.1 L223.0 530.8 L223.7 533.5 L225.1 535.8ZM249.0 316.9 L251.7 317.3 L254.3 317.4 L257.0 316.3 L259.7 316.3 L262.3 318.0 L262.6 317.9 L262.5 317.5 L257.5 310.0 L252.4 310.0 L252.1 311.7 L249.6 313.9ZM301.3 479.9 L303.3 478.3 L300.0 477.5ZM426.3 527.3 L428.6 527.9 L431.0 526.1 L432.9 523.9 L435.0 521.8 L434.7 519.2 L435.3 516.9 L436.3 514.5 L433.4 515.0 L431.2 513.8 L429.9 510.3 L427.4 509.6 L425.0 508.8 L422.3 509.0 L420.6 510.6 L418.6 511.7 L417.0 513.4 L414.7 514.0 L414.2 517.1 L416.1 519.3 L417.4 521.7 L419.5 523.9 L419.2 526.9 L421.5 527.7 L424.1 526.0ZM309.2 727.8 L310.8 730.1 L313.8 731.4 L316.5 730.5 L317.3 730.1 L310.0 727.5 L306.0 715.0 L306.0 714.7 L305.3 715.1 L305.0 719.0 L306.7 727.3ZM266.3 587.9 L264.8 586.1 L262.6 585.2 L261.3 583.1 L259.1 582.2 L256.2 582.0 L253.7 582.7 L251.9 585.2 L248.9 585.0 L246.9 587.0 L245.9 589.2 L245.0 591.5 L244.5 594.0 L244.9 596.6 L245.9 598.9 L247.2 601.2 L249.1 603.1 L250.0 605.5 L252.9 605.8 L255.7 606.4 L256.8 603.2 L259.2 601.4 L262.0 599.9 L264.2 598.0 L266.8 596.3 L268.4 593.7 L268.5 591.5 L266.6 590.0ZM607.2 425.8 L605.6 423.1 L605.6 420.9 L604.0 421.4 L603.4 423.2 L602.5 425.0 L604.2 426.7 L605.0 428.8 L605.0 429.0 L605.6 428.6 L605.6 428.5ZM628.5 354.3 L631.1 356.2 L633.5 356.0 L634.0 355.0 L629.0 352.5 L626.6 354.9ZM443.2 503.9 L446.3 504.8 L448.7 502.4 L451.5 502.2 L454.1 500.8 L457.2 501.5 L459.9 500.7 L462.5 499.0 L465.7 500.6 L468.2 498.6 L468.6 495.7 L467.1 493.8 L465.0 492.1 L464.3 489.7 L463.4 487.8 L462.5 487.5 L462.4 487.0 L460.6 486.0 L457.4 486.5 L454.3 486.9 L451.6 485.1 L449.3 486.4 L446.7 486.5 L445.7 489.3 L444.4 492.0 L440.8 493.0 L440.2 496.1 L440.1 497.6 L440.6 500.0 L442.8 501.5ZM405.1 477.3 L407.0 475.6 L406.0 473.3 L404.4 471.1 L405.2 468.0 L402.3 466.4 L401.8 463.8 L398.8 463.5 L396.1 465.3 L393.1 464.9 L390.3 466.6 L387.3 465.6 L386.0 467.9 L384.6 470.1 L382.4 471.9 L383.9 475.6 L381.3 477.1 L383.6 478.9 L386.1 480.0 L388.7 480.6 L391.4 481.2 L394.7 479.9 L397.3 480.9 L399.8 481.8 L402.0 483.9 L404.0 482.3 L404.9 480.0ZM341.6 664.2 L341.6 661.8 L341.0 659.4 L340.4 658.7 L341.0 664.9 L341.0 665.1 L341.3 666.6 L341.3 666.5ZM339.8 652.3 L339.0 650.0 L339.6 647.7 L338.2 647.4 L340.0 653.7 L340.0 653.8 L340.0 653.8 L340.2 655.6 L340.7 654.6ZM309.0 573.3 L308.6 576.4 L309.2 576.8 L310.0 576.0 L318.8 581.3 L320.3 578.7 L322.8 577.0 L324.1 574.1 L326.3 572.1 L326.0 571.3 L323.1 571.6 L321.8 568.0 L318.8 568.5 L316.1 568.3 L314.2 566.3 L311.7 568.2 L312.1 571.7ZM698.2 320.1 L697.5 317.7 L695.3 317.7 L693.3 318.4 L693.3 318.4 L691.3 320.0 L689.1 321.1 L687.2 320.6 L685.7 321.1 L684.6 322.5 L683.1 322.0 L678.4 323.7 L678.4 323.7 L679.1 326.2 L681.8 325.8 L684.1 328.1 L687.0 326.1 L689.4 328.4 L692.3 326.2 L694.7 327.9 L695.3 325.1 L696.3 322.4ZM689.1 321.1 L691.3 320.0 L693.3 318.4 L693.3 318.4 L687.2 320.6ZM305.3 749.3 L303.4 747.4 L300.7 749.2 L301.7 751.8 L301.4 752.2 L306.9 751.1ZM534.2 441.9 L531.8 440.3 L529.5 440.9 L527.4 442.3 L525.2 443.2 L522.7 443.6 L524.7 445.7 L523.4 449.0 L524.6 451.4 L525.0 454.1 L528.0 455.9 L528.2 458.6 L528.3 461.4 L529.4 463.8 L530.1 460.7 L533.9 459.7 L534.6 456.7 L536.6 454.4 L536.4 450.8 L539.0 449.0 L541.4 447.0 L542.2 444.1 L540.0 442.2 L537.6 440.7ZM292.0 752.0 L295.0 752.5 L296.0 760.0 L295.8 760.2 L296.1 760.3 L297.1 760.3 L297.0 760.0 L300.0 752.5 L301.4 752.2 L301.7 751.8 L300.7 749.2 L297.7 748.7 L294.6 750.0 L291.7 748.7 L290.9 749.2 L291.8 751.4ZM206.0 606.0 L208.6 604.6 L211.7 603.8 L213.9 602.0 L214.1 599.7 L212.4 600.8 L210.3 601.7 L208.2 602.4 L206.1 603.3 L204.0 604.0 L203.4 606.5 L201.7 608.2 L200.0 610.0 L200.8 611.3 L202.3 610.5 L204.0 608.0ZM218.0 596.0 L216.0 598.0 L215.9 598.1 L218.2 598.2 L219.3 596.0ZM218.9 587.5 L218.3 584.9 L217.9 582.2 L218.4 579.5 L215.6 578.3 L212.9 576.9 L209.9 576.4 L207.0 576.2 L204.1 575.5 L201.0 575.5 L200.1 578.2 L197.8 580.3 L198.6 583.8 L196.0 585.7 L195.5 588.6 L192.6 590.4 L193.2 593.8 L190.9 595.9 L190.5 598.8 L187.9 600.7 L187.6 603.8 L189.5 606.2 L191.7 608.1 L194.9 608.6 L196.8 610.8 L199.7 611.8 L200.8 611.3 L200.0 610.0 L201.7 608.2 L203.4 606.5 L204.0 604.0 L206.1 603.3 L208.2 602.4 L210.3 601.7 L212.4 600.8 L214.1 599.7 L214.2 597.9 L215.9 598.1 L216.0 598.0 L218.0 596.0 L219.3 596.0 L219.6 595.4 L218.3 592.8 L218.2 590.2ZM605.6 423.1 L607.2 425.8 L605.6 428.5 L605.6 428.6 L610.0 426.0 L609.0 420.0 L605.6 420.9ZM174.2 453.3 L173.3 456.0 L171.2 457.9 L173.8 459.2 L175.7 461.5 L177.4 462.4 L174.2 453.2ZM330.2 484.6 L332.6 483.2 L335.2 482.4 L336.1 481.6 L331.9 481.3 L331.2 481.7 L329.0 481.0 L328.1 480.5 L329.8 481.9ZM376.2 560.8 L378.0 559.1 L378.6 556.7 L379.1 554.0 L379.1 554.0 L379.0 554.0 L377.3 555.6 L377.1 555.6 L372.0 560.0 L371.2 564.1 L371.4 564.5 L373.7 564.8 L374.4 562.5ZM379.1 554.0 L379.1 551.4 L378.1 548.8 L375.8 546.4 L374.1 546.5 L376.0 548.0 L379.0 554.0ZM489.8 448.4 L492.5 448.0 L492.7 448.2 L492.3 447.5 L489.6 447.0 L488.6 448.2ZM482.8 454.1 L480.0 455.0 L477.8 456.7 L477.6 457.3 L478.8 458.3 L479.2 459.1 L480.0 457.5 L484.1 455.8 L484.5 455.6ZM481.8 448.5 L479.3 449.4 L478.5 451.9 L477.6 454.4 L477.2 457.0 L477.6 457.3 L477.8 456.7 L480.0 455.0 L482.8 454.1 L484.5 455.6 L486.0 455.0 L492.4 457.5 L492.9 457.2 L494.4 455.3 L494.8 453.0 L494.6 452.8 L494.5 451.9 L493.6 450.1 L492.7 448.2 L492.5 448.0 L489.8 448.4 L488.6 448.2 L487.3 449.7 L484.6 449.3ZM317.3 523.0 L318.5 520.7 L319.1 518.2 L321.3 516.2 L320.6 513.3 L318.8 511.0 L317.7 508.2 L315.5 506.2 L314.0 503.7 L312.0 501.5 L308.5 500.4 L305.8 502.1 L304.6 505.0 L303.9 508.3 L301.4 510.1 L299.2 512.2 L297.9 515.0 L294.3 515.9 L293.6 519.2 L292.2 521.9 L288.9 523.1 L287.9 526.2 L289.1 528.2 L288.3 530.7 L290.2 532.6 L289.9 535.0 L291.4 536.9 L291.7 536.8 L294.0 536.0 L294.8 533.7 L294.0 531.2 L295.2 529.0 L295.1 526.6 L294.9 524.2 L296.0 522.0 L298.5 522.6 L300.4 524.7 L302.7 525.7 L305.2 526.4 L308.1 525.9 L310.0 528.0 L312.4 527.3 L312.9 527.7 L314.2 525.9 L317.2 525.6ZM299.3 533.3 L303.1 534.6 L305.0 532.2 L307.2 530.5 L309.4 528.7 L312.4 528.4 L312.9 527.7 L312.4 527.3 L310.0 528.0 L308.1 525.9 L305.2 526.4 L302.7 525.7 L300.4 524.7 L298.5 522.6 L296.0 522.0 L294.9 524.2 L295.1 526.6 L295.2 529.0 L294.0 531.2 L294.8 533.7 L294.0 536.0 L291.7 536.8 L291.4 536.9 L292.6 538.5 L295.5 538.0 L296.9 534.7ZM274.3 792.0 L272.1 794.0 L270.2 796.1 L269.2 796.7 L269.3 797.5 L270.7 799.9 L269.0 802.5 L270.1 805.0 L270.0 807.5 L270.0 808.2 L270.3 808.7 L272.5 810.0 L274.6 810.5 L276.8 811.1 L279.0 811.0 L281.0 809.5 L281.7 806.7 L283.4 804.9 L286.0 804.0 L287.4 802.2 L289.2 800.8 L291.0 799.4 L290.2 796.1 L292.5 795.0 L293.7 793.2 L294.7 791.2 L295.1 790.9 L293.4 789.8 L290.7 788.8 L287.6 790.3 L284.8 790.2 L282.1 788.3 L279.7 789.8 L277.7 792.0ZM265.1 802.9 L264.1 804.1 L264.0 804.7 L266.0 806.0 L268.6 806.6 L270.0 808.2 L270.0 807.5 L270.1 805.0 L269.0 802.5 L270.7 799.9 L269.3 797.5 L269.2 796.7 L267.5 797.7 L266.2 800.3ZM335.6 600.4 L334.3 601.7 L332.6 601.7 L328.0 604.0 L332.0 603.5 L335.9 603.0 L336.0 603.0 L336.1 603.0 L336.7 603.0 L336.8 601.7ZM316.3 607.9 L315.3 610.6 L315.5 611.6 L315.5 611.5 L317.7 611.1 L317.7 611.0 L317.9 610.8 L318.0 610.6 L318.0 610.4 L318.1 609.1 L318.3 608.7 L318.4 607.8 L320.0 606.0 L316.8 605.1 L316.8 605.1ZM443.6 464.0 L444.0 466.9 L446.6 468.0 L449.3 468.3 L451.5 468.5 L453.5 468.2 L455.5 467.3 L456.7 465.3 L456.8 465.1 L456.8 465.1 L455.9 462.7 L455.6 460.0 L455.0 457.5 L448.6 457.7 L447.5 458.1 L446.3 458.0 L446.7 458.8 L443.7 461.2ZM456.5 456.5 L456.0 457.5 L458.0 463.9 L458.3 463.6 L459.7 461.7 L457.4 459.7 L456.6 457.0ZM455.6 460.0 L455.9 462.7 L456.8 465.1 L456.8 465.1 L457.8 464.1 L455.0 457.5ZM431.3 497.6 L428.3 497.3 L425.5 498.3 L422.6 499.4 L422.7 501.8 L422.5 504.2 L423.7 506.6 L422.3 509.0 L425.0 508.8 L427.4 509.6 L429.9 510.3 L431.2 513.8 L433.4 515.0 L436.3 514.5 L438.4 513.4 L439.3 510.9 L441.6 510.0 L441.7 507.9 L442.7 506.0 L443.2 503.9 L442.8 501.5 L440.6 500.0 L440.1 497.6 L437.3 498.6 L434.2 497.0ZM263.9 329.0 L261.1 329.5 L259.4 332.5 L256.3 332.3 L253.8 333.7 L253.2 334.5 L255.0 335.0 L265.0 330.0 L264.8 328.8ZM265.4 741.6 L265.6 744.8 L265.8 748.4 L266.2 748.6 L265.7 741.6ZM147.8 445.3 L149.5 444.8 L152.3 444.1 L152.7 440.6 L154.7 438.9 L157.9 438.6 L160.0 437.1 L160.1 435.0 L145.0 432.5 L145.6 444.8ZM481.4 430.3 L479.8 432.9 L476.6 433.5 L475.4 436.6 L474.8 436.7 L474.8 437.6 L475.2 437.8 L477.9 438.0 L480.6 437.4 L483.4 438.7 L486.1 436.0 L488.8 435.9 L491.6 437.4 L494.3 437.1 L493.8 434.3 L495.9 432.1 L496.1 429.5 L495.4 428.4 L493.4 426.2 L491.0 424.9 L489.0 424.9 L488.5 425.5 L487.5 427.5 L486.8 426.8 L486.4 427.5 L485.0 428.8 L485.0 429.0 L484.6 429.1 L484.3 429.4ZM488.5 425.5 L489.0 424.9 L488.0 424.9 L486.8 426.8 L487.5 427.5ZM273.6 559.2 L272.3 559.4 L271.1 562.5 L268.3 562.8 L266.0 564.0 L263.6 564.8 L262.9 567.3 L261.6 569.2 L259.1 569.9 L258.1 571.7 L259.7 573.6 L262.6 573.4 L264.0 570.1 L267.2 570.6 L268.7 567.7 L271.5 567.2 L273.8 565.9 L276.6 565.5 L275.6 563.0 L273.5 561.2ZM270.2 553.8 L267.2 553.4 L264.7 551.9 L262.7 549.2 L259.8 548.6 L257.1 547.7 L254.7 549.4 L253.9 551.7 L252.7 554.0 L251.7 556.3 L251.7 559.0 L251.7 562.2 L253.9 564.1 L255.5 566.5 L256.5 569.1 L257.9 571.5 L258.1 571.7 L259.1 569.9 L261.6 569.2 L262.9 567.3 L263.6 564.8 L266.0 564.0 L268.3 562.8 L271.1 562.5 L272.3 559.4 L273.6 559.2 L273.7 558.0 L270.8 556.5ZM239.3 487.6 L242.3 487.7 L245.4 488.3 L245.8 488.0 L244.7 487.1 L243.7 486.9 L242.5 485.0 L237.3 484.7 L234.9 485.6 L233.6 485.4 L234.5 487.5 L236.6 489.7ZM233.4 484.9 L233.6 485.4 L234.9 485.6 L237.3 484.7 L233.3 484.4ZM385.9 518.9 L385.6 518.9 L383.3 519.8 L381.0 520.0 L382.0 521.9 L382.0 524.1 L383.6 522.6 L385.3 520.1ZM382.0 521.9 L381.0 520.0 L383.3 519.8 L385.6 518.9 L385.9 518.9 L386.6 517.4 L387.9 514.7 L388.5 511.4 L390.5 509.1 L392.8 507.1 L390.9 503.8 L388.1 503.0 L385.3 502.2 L382.7 500.8 L379.4 501.6 L377.1 499.4 L375.6 502.2 L372.4 502.8 L370.5 505.1 L367.9 506.5 L366.7 509.1 L368.5 511.7 L367.1 514.3 L369.2 516.9 L367.0 519.5 L367.9 522.1 L369.9 523.5 L372.6 523.4 L374.1 525.9 L376.3 527.0 L379.0 526.7 L381.4 524.7 L382.0 524.1ZM407.7 521.0 L408.4 518.1 L409.2 515.2 L411.2 513.2 L408.9 511.4 L406.8 509.5 L404.1 509.4 L401.3 509.8 L399.0 507.1 L396.3 506.6 L393.7 507.4 L393.9 508.8 L393.2 509.9 L393.2 510.3 L394.0 512.8 L394.3 515.4 L396.5 517.6 L395.7 519.7 L397.4 520.6 L400.0 521.0 L397.9 521.9 L396.4 522.1 L396.9 522.9 L397.7 525.4 L401.7 527.1 L402.8 524.5 L406.0 523.2ZM397.9 521.9 L400.0 521.0 L397.4 520.6 L395.7 519.7 L395.5 520.5 L396.4 522.1ZM499.4 505.3 L499.7 505.3 L501.2 503.6 L503.1 503.2 L505.0 502.5 L502.7 501.0 L502.0 498.7 L502.5 495.5 L501.2 493.4 L498.9 492.9 L497.6 493.5 L496.4 496.1 L494.5 498.3 L495.1 501.2 L497.6 503.1ZM461.8 531.3 L463.3 528.9 L465.4 528.2 L464.5 527.7 L461.9 528.8 L459.3 528.9 L457.6 530.0 L457.7 530.1 L457.8 530.3 L458.8 531.1 L459.0 531.0ZM680.1 344.3 L676.9 341.0 L674.3 341.7 L671.6 340.5 L668.9 340.8 L668.0 341.4 L669.0 344.0 L672.5 351.0 L680.4 347.1ZM290.0 695.0 L287.9 695.9 L286.0 697.0 L283.5 697.1 L282.5 700.1 L280.0 700.0 L281.3 702.4 L280.7 705.0 L279.8 706.9 L280.1 707.0 L282.4 708.5 L283.9 708.0 L281.7 704.7 L283.7 699.6 L284.9 698.8 L294.0 698.8 L295.0 698.0 L295.5 697.8 L295.9 697.0 L296.6 697.2 L296.6 697.2 L295.6 696.9 L294.1 695.3 L292.1 695.0 L291.8 695.0 L291.7 695.1 L291.6 695.0ZM294.6 694.0 L291.8 695.0 L292.1 695.0 L294.1 695.3 L295.6 696.9 L296.6 697.2 L297.6 696.8 L297.5 693.8 L297.4 693.8ZM283.2 693.8 L282.2 693.9 L282.2 693.9 L282.2 694.0 L279.0 697.2 L276.6 696.7 L275.9 698.6 L275.9 701.3 L278.5 704.0 L277.3 706.6 L279.8 706.9 L280.7 705.0 L281.3 702.4 L280.0 700.0 L282.5 700.1 L283.5 697.1 L286.0 697.0 L287.9 695.9 L290.0 695.0 L291.6 695.0 L288.9 693.9 L286.0 693.4ZM456.4 469.9 L459.4 471.0 L460.6 473.2 L462.5 467.5 L465.3 467.4 L465.0 467.2 L463.5 466.1 L461.6 467.1 L461.3 467.2 L459.0 467.0 L456.8 465.1 L456.7 465.3 L455.5 467.3ZM470.7 466.1 L470.4 466.1 L468.1 466.5 L466.9 467.2 L470.6 467.4ZM461.3 467.2 L461.6 467.1 L463.5 466.1 L465.0 467.2 L465.3 467.4 L466.8 467.3 L466.9 467.2 L468.1 466.5 L470.4 466.1 L470.7 466.1 L470.7 465.8 L470.5 463.0 L468.5 460.6 L468.5 460.6 L465.6 461.5 L462.6 461.4 L459.7 461.7 L458.3 463.6 L458.0 463.9 L459.0 467.0ZM338.9 601.0 L339.0 600.8 L338.9 600.6 L338.9 600.4 L338.9 600.2 L338.8 600.0 L338.4 599.0 L338.0 598.1 L338.0 598.0 L338.0 598.0 L343.8 594.4 L346.0 593.0 L346.0 593.0 L338.0 596.0 L337.1 598.1 L336.0 600.0 L335.6 600.4 L336.8 601.7 L338.9 601.2ZM355.2 590.7 L346.0 593.0 L346.1 593.0 L354.7 591.6 L354.6 591.0ZM335.3 580.5 L335.6 583.4 L332.4 584.7 L330.9 586.4 L334.0 589.0 L338.0 596.0 L334.0 588.0 L338.9 583.1 L337.6 582.6ZM478.6 497.7 L475.8 497.1 L473.4 498.0 L471.3 499.7 L471.5 502.6 L471.6 505.7 L475.5 507.4 L475.9 510.3 L475.5 513.5 L475.2 516.6 L478.4 518.6 L477.7 521.8 L478.1 522.1 L478.4 522.1 L480.7 521.7 L483.2 521.8 L485.0 520.0 L487.1 519.2 L488.6 517.7 L490.0 516.0 L490.1 513.4 L491.6 511.7 L492.9 509.9 L493.9 507.9 L496.5 507.0 L497.5 505.0 L499.4 505.3 L497.6 503.1 L495.1 501.2 L494.5 498.3 L492.0 496.3 L488.9 496.4 L486.0 495.9 L483.8 497.6 L481.0 496.9ZM201.8 476.2 L203.0 478.7 L205.5 478.7 L207.9 479.6 L210.5 477.6 L212.8 479.1 L214.1 478.7 L213.6 478.5 L213.3 478.6 L211.0 477.5 L202.5 469.0 L201.0 471.0 L198.6 471.5 L197.4 472.5 L197.6 472.7 L200.5 473.8ZM197.4 472.5 L198.6 471.5 L201.0 471.0 L202.5 469.0 L197.1 472.2ZM524.6 423.4 L525.0 426.4 L523.0 428.6 L523.1 431.6 L522.8 434.4 L520.8 436.5 L519.4 438.9 L518.8 441.6 L522.7 443.6 L525.2 443.2 L527.4 442.3 L529.5 440.9 L531.8 440.3 L531.4 437.5 L532.1 434.8 L533.2 432.2 L531.4 429.3 L533.5 426.8 L533.5 424.6 L525.1 422.7ZM178.8 466.5 L178.7 466.3 L177.4 462.4 L175.7 461.5 L173.8 459.2 L171.2 457.9 L170.4 458.2 L166.0 465.0 L167.8 468.5 L166.0 466.0 L164.6 465.3 L166.3 467.6 L165.4 470.5 L166.3 473.0 L166.6 475.7 L166.8 478.4 L166.7 481.2 L168.3 483.4 L169.1 483.3 L170.9 482.6 L173.4 481.5 L176.2 482.5 L178.9 482.5 L179.8 481.8 L172.0 474.0 L170.7 472.3 L180.0 470.0 L178.8 466.6ZM323.8 302.4 L322.5 305.1 L325.1 305.5 L325.2 305.4 L327.5 302.5 L326.0 294.0 L324.1 293.6 L322.8 294.0 L322.2 296.8 L324.3 299.6ZM355.5 345.2 L358.0 346.1 L359.3 347.5 L362.5 345.0 L359.0 336.0 L351.0 337.5 L354.2 345.5ZM495.4 428.4 L497.1 426.1 L496.3 423.1 L496.9 422.0 L494.2 421.5 L494.0 422.0 L491.5 422.5 L489.8 423.8 L489.0 424.9 L491.0 424.9 L493.4 426.2ZM485.6 420.9 L485.6 424.0 L488.0 424.9 L489.0 424.9 L489.8 423.8 L491.5 422.5 L494.0 422.0 L494.2 421.5 L485.0 420.0 L485.0 420.5ZM486.0 487.2 L485.0 490.2 L486.1 493.0 L486.0 495.9 L488.9 496.4 L492.0 496.3 L494.5 498.3 L496.4 496.1 L497.6 493.5 L498.9 492.9 L497.8 492.7 L497.5 490.0 L498.2 487.4 L499.4 485.2 L502.1 484.1 L503.7 482.2 L505.0 480.0 L505.2 480.0 L505.2 480.0 L504.8 477.3 L502.9 476.3 L502.3 475.8 L500.0 480.0 L485.9 487.0ZM470.8 428.2 L472.4 425.5 L472.7 425.5 L472.5 425.0 L469.2 426.0ZM248.9 628.8 L247.1 630.5 L248.8 633.2 L246.6 636.4 L249.2 638.4 L250.0 638.0 L255.5 635.3 L256.2 634.6 L258.0 634.0 L258.0 634.0 L258.7 633.6 L258.2 631.3 L256.7 629.1 L256.4 626.6 L256.2 624.0 L254.1 623.9 L252.7 625.8 L250.8 627.3ZM426.3 477.5 L427.6 479.6 L430.4 479.5 L432.5 477.7 L434.9 476.3 L437.6 476.2 L438.1 473.2 L441.4 472.0 L443.1 469.9 L443.7 467.0 L442.1 464.8 L439.2 464.7 L437.6 462.4 L434.6 462.6 L432.6 460.8 L430.6 463.1 L426.8 462.2 L425.0 464.9 L422.4 466.2 L422.0 466.8 L421.9 468.1 L421.5 470.1 L420.8 471.5 L420.6 472.8 L422.0 474.9 L423.9 476.5ZM420.8 471.5 L421.5 470.1 L421.9 468.1 L422.0 466.8 L420.8 468.2 L420.9 470.6ZM277.9 290.9 L277.0 289.5 L275.0 289.0 L274.0 295.0 L277.5 296.0 L278.7 291.3ZM209.6 347.2 L212.1 347.8 L214.6 348.3 L214.9 348.1 L212.5 342.5 L208.9 347.0ZM276.4 513.3 L274.8 515.7 L277.4 516.9 L280.0 518.2 L282.1 520.0 L283.9 522.2 L285.3 524.9 L287.9 526.2 L288.9 523.1 L292.2 521.9 L293.6 519.2 L294.3 515.9 L297.9 515.0 L299.2 512.2 L301.4 510.1 L303.9 508.3 L304.6 505.0 L305.8 502.1 L308.5 500.4 L307.1 498.2 L304.2 497.5 L303.1 495.1 L300.1 494.3 L297.3 495.4 L294.3 494.3 L291.5 494.8 L288.6 494.9 L285.8 496.4 L283.0 496.9 L281.4 499.2 L280.1 501.7 L277.2 502.9 L276.0 505.5 L276.8 508.2 L276.8 510.8ZM327.8 574.5 L326.3 572.1 L324.1 574.1 L322.8 577.0 L320.3 578.7 L318.8 581.3 L320.0 582.0 L328.0 584.0 L330.9 586.4 L332.4 584.7 L335.6 583.4 L335.3 580.5 L334.9 578.3 L332.6 576.9 L330.1 575.9ZM241.6 701.4 L239.2 700.7 L236.9 699.5 L234.9 697.4 L232.2 697.4 L231.7 697.9 L233.3 700.4 L234.6 702.9 L232.6 706.4 L234.9 708.7 L235.7 711.4 L237.3 709.0 L240.2 708.6 L242.3 707.0 L244.4 705.3 L247.0 704.4 L246.8 701.2 L244.8 699.0ZM435.0 521.8 L432.9 523.9 L431.0 526.1 L428.6 527.9 L429.0 529.2 L431.5 530.5 L432.1 533.6 L434.6 534.9 L434.9 538.2 L436.7 540.2 L439.9 541.0 L441.1 543.5 L443.4 542.3 L444.0 542.6 L441.2 535.5 L441.1 535.3 L441.0 535.1 L440.9 535.0 L440.7 534.8 L440.5 534.6 L436.0 531.0 L436.0 531.0 L436.0 530.9 L436.0 525.1 L436.0 525.0 L436.0 525.0 L436.6 524.4 L436.3 524.5ZM238.6 613.2 L236.1 612.9 L233.6 612.6 L231.2 611.2 L229.0 612.9 L227.9 615.3 L227.5 618.0 L225.1 619.7 L224.0 622.0 L223.6 624.8 L224.7 627.1 L227.3 627.9 L229.5 629.2 L230.8 631.3 L232.8 629.4 L236.0 630.2 L237.8 628.1 L238.7 625.6 L240.1 623.5 L242.0 621.7 L245.1 620.8 L245.3 617.8 L243.8 613.3 L241.4 612.3ZM258.4 741.3 L259.5 742.5 L259.5 738.4 L259.0 739.0ZM252.7 737.1 L251.5 738.1 L251.9 740.5 L251.8 740.6 L257.5 742.5 L258.5 749.5 L259.1 749.7 L259.5 750.4 L259.5 748.8 L259.1 748.0 L259.5 747.4 L259.5 742.5 L258.4 741.3 L259.0 739.0 L259.5 738.4 L259.5 737.8 L259.3 737.3 L257.1 737.1 L254.9 737.5ZM631.1 356.2 L628.5 354.3 L626.6 354.9 L624.0 357.5 L631.0 361.0 L633.5 356.0ZM441.6 510.0 L444.1 511.4 L446.7 512.5 L449.3 513.6 L450.9 516.2 L452.3 519.1 L454.5 520.8 L457.6 521.2 L459.0 518.8 L458.8 515.7 L461.8 514.1 L463.3 511.8 L462.5 508.3 L463.9 505.9 L466.1 503.9 L466.3 500.9 L469.0 499.2 L468.2 498.6 L465.7 500.6 L462.5 499.0 L459.9 500.7 L457.2 501.5 L454.1 500.8 L451.5 502.2 L448.7 502.4 L446.3 504.8 L443.2 503.9 L442.7 506.0 L441.7 507.9ZM406.8 533.7 L408.2 536.2 L410.4 535.8 L413.2 535.1 L414.6 532.9 L416.0 530.7 L418.5 529.7 L419.2 526.9 L419.5 523.9 L417.4 521.7 L416.1 519.3 L414.2 517.1 L414.7 514.0 L411.2 513.2 L409.2 515.2 L408.4 518.1 L407.7 521.0 L406.0 523.2 L402.8 524.5 L401.7 527.1 L402.0 530.3 L404.6 531.9Z" fill="#ebd6cc" stroke="#fff" stroke-width="0.72" stroke-opacity="0.92"/>
<path d="M272.4 735.5 L272.9 738.5 L274.6 739.9 L276.5 741.2 L277.7 743.1 L280.2 742.6 L281.6 741.3 L282.7 737.0 L282.0 731.3 L281.5 727.6 L280.3 727.3 L277.6 725.0 L274.8 727.9 L272.0 726.5 L272.8 729.5 L271.7 732.6ZM285.0 735.8 L286.2 733.6 L286.3 731.3 L286.0 728.9 L285.9 726.6 L283.1 728.1 L281.5 727.6 L282.0 731.3 L282.0 731.3 L283.7 736.8ZM264.3 728.3 L266.9 727.0 L265.7 726.6 L262.4 729.0 L262.8 729.9 L263.4 730.7 L263.3 731.3 L263.9 732.9 L264.5 731.6ZM306.4 727.2 L304.2 725.7 L302.1 727.8 L298.8 727.8 L296.6 729.7 L297.9 731.8 L296.5 734.4 L297.8 736.5 L298.2 737.3 L299.0 737.0 L307.0 729.0 L306.7 727.3ZM304.5 704.3 L301.9 704.1 L302.7 706.9 L301.2 709.7 L301.8 712.5 L304.6 715.5 L305.3 715.1 L306.0 705.0 L304.5 704.3ZM284.5 712.4 L279.6 719.0 L279.9 721.2 L271.7 722.8 L272.2 723.2 L271.1 726.0 L272.0 726.5 L274.8 727.9 L277.6 725.0 L280.3 727.3 L281.5 727.6 L283.1 728.1 L285.9 726.6 L286.4 726.3 L285.8 723.7 L287.6 721.5 L287.8 719.1 L288.1 716.6 L286.6 714.7 L285.1 712.7ZM293.8 715.8 L290.7 715.4 L288.1 716.6 L287.8 719.1 L287.6 721.5 L285.8 723.7 L286.4 726.3 L288.7 727.8 L291.7 727.5 L294.0 729.0 L296.6 729.7 L298.8 727.8 L302.1 727.8 L304.2 725.7 L304.6 723.2 L304.3 720.6 L304.5 718.1 L304.6 715.5 L301.8 712.5 L299.2 713.8 L296.6 715.0ZM291.2 738.7 L289.2 737.6 L287.1 736.6 L285.0 735.8 L283.7 736.8 L283.7 737.0 L290.8 740.0 L291.7 739.7ZM297.8 736.5 L296.5 734.4 L297.9 731.8 L296.6 729.7 L294.0 729.0 L291.7 727.5 L288.7 727.8 L286.4 726.3 L285.9 726.6 L286.0 728.9 L286.3 731.3 L286.2 733.6 L285.0 735.8 L287.1 736.6 L289.2 737.6 L291.2 738.7 L291.7 739.7 L295.8 738.2 L296.0 738.0ZM268.7 741.4 L270.8 739.7 L272.9 738.5 L272.4 735.5 L271.7 732.6 L272.8 729.5 L272.0 726.5 L271.1 726.0 L266.9 727.0 L264.3 728.3 L264.5 731.6 L263.9 732.9 L264.5 734.5 L264.9 734.5 L264.9 734.5 L265.0 734.5 L265.1 736.2 L265.4 737.0 L265.7 741.6 L266.2 741.6ZM298.3 699.6 L299.4 702.3 L301.9 704.1 L304.5 704.3 L304.5 704.3 L301.0 702.7 L297.9 698.1ZM273.9 751.5 L274.2 749.3 L271.8 748.0 L269.0 749.6 L266.6 748.7 L266.2 748.6 L266.4 751.5 L272.5 755.5 L274.7 752.6ZM280.2 742.6 L277.7 743.1 L276.0 744.8 L274.6 746.7 L274.2 749.3 L273.9 751.5 L274.7 752.6 L280.7 745.0 L281.3 742.8ZM301.9 704.1 L299.4 702.3 L298.3 699.6 L297.9 698.1 L297.5 697.5 L296.6 697.2 L295.5 697.8 L295.0 698.8 L294.0 698.8 L292.8 699.6 L290.8 701.5 L288.0 702.4 L286.3 704.6 L285.2 707.6 L283.9 708.0 L285.7 710.8 L284.5 712.4 L285.1 712.7 L286.6 714.7 L288.1 716.6 L290.7 715.4 L293.8 715.8 L296.6 715.0 L299.2 713.8 L301.8 712.5 L301.2 709.7 L302.7 706.9ZM271.1 726.0 L272.2 723.2 L271.7 722.8 L270.5 723.0 L265.7 726.6 L266.9 727.0ZM304.6 723.2 L304.2 725.7 L306.4 727.2 L306.7 727.3 L305.0 719.0 L305.3 715.1 L304.6 715.5 L304.5 718.1 L304.3 720.6ZM269.0 749.6 L271.8 748.0 L274.2 749.3 L274.6 746.7 L276.0 744.8 L277.7 743.1 L276.5 741.2 L274.6 739.9 L272.9 738.5 L270.8 739.7 L268.7 741.4 L266.2 741.6 L265.7 741.6 L266.2 748.6 L266.6 748.7ZM285.2 707.6 L286.3 704.6 L288.0 702.4 L290.8 701.5 L292.8 699.6 L294.0 698.8 L284.9 698.8 L283.7 699.6 L281.7 704.7 L283.9 708.0Z" fill="#d1a088" stroke="#fff" stroke-width="0.72" stroke-opacity="0.92"/>
<path d="M312.7 690.0 L315.1 688.9 L315.2 688.8 L315.2 688.6 L312.0 689.4 L308.8 690.1 L310.2 690.8ZM307.9 693.2 L310.3 692.0 L312.6 690.2 L315.2 690.2 L315.2 688.8 L315.1 688.9 L312.7 690.0 L310.2 690.8 L308.8 690.1 L307.9 690.3 L305.0 691.0 L301.6 693.9 L302.8 693.8 L305.0 691.9ZM322.0 729.0 L319.2 728.9 L317.3 730.1 L320.0 731.0 L321.3 731.1ZM323.6 686.3 L320.0 687.5 L320.0 687.5 L322.5 688.0ZM325.4 693.5 L326.6 690.9 L327.5 688.1 L330.6 687.5 L330.9 687.3 L330.9 687.2 L330.9 687.0 L330.9 686.8 L330.9 686.6 L330.8 686.4 L330.8 686.2 L330.7 686.0 L330.6 685.8 L330.5 685.6 L330.3 685.4 L330.2 685.3 L330.0 685.2 L329.8 685.0 L329.8 685.0 L328.6 684.9 L326.5 685.7 L325.7 685.6 L324.0 686.2 L323.6 686.3 L322.5 688.0 L320.0 687.5 L320.0 687.5 L316.2 688.4 L315.7 688.5 L315.2 688.8 L315.2 690.2 L317.6 693.6 L320.4 693.4 L322.9 694.7ZM310.3 715.1 L313.1 715.7 L315.9 714.7 L317.8 712.5 L319.0 709.8 L316.5 708.0 L316.1 704.8 L314.4 702.5 L311.9 702.9 L309.5 703.7 L306.9 703.7 L305.0 704.2 L306.0 705.0 L306.0 714.7 L307.3 714.0ZM333.3 698.9 L330.9 700.9 L327.9 700.3 L326.9 703.0 L326.1 705.7 L325.4 708.5 L327.3 710.8 L330.2 711.7 L332.1 714.0 L334.0 712.1 L335.5 710.8 L335.6 709.8 L336.0 707.5 L337.2 705.6 L338.0 703.5 L338.0 701.3 L337.3 701.1 L336.0 698.5ZM322.9 694.7 L320.4 693.4 L317.6 693.6 L317.9 696.2 L317.0 698.4 L315.3 700.3 L314.4 702.5 L316.1 704.8 L316.5 708.0 L319.0 709.8 L321.3 710.3 L323.3 709.3 L325.4 708.5 L326.1 705.7 L326.9 703.0 L327.9 700.3 L326.9 697.8 L324.1 697.0ZM310.3 692.0 L307.9 693.2 L305.0 691.9 L302.8 693.8 L301.6 693.9 L297.7 697.3 L297.8 697.8 L300.0 700.0 L305.0 704.2 L306.9 703.7 L309.5 703.7 L311.9 702.9 L314.4 702.5 L315.3 700.3 L317.0 698.4 L317.9 696.2 L317.6 693.6 L315.2 690.2 L312.6 690.2ZM319.0 709.8 L317.8 712.5 L315.9 714.7 L315.7 717.6 L317.7 719.5 L319.1 721.6 L320.9 723.6 L321.6 726.0 L322.3 728.5 L324.6 727.2 L326.6 725.5 L329.7 726.0 L331.2 724.4 L329.5 722.4 L331.0 720.0 L331.6 719.0 L331.6 719.0 L331.8 718.7 L332.2 718.1 L333.3 716.1 L332.1 714.0 L330.2 711.7 L327.3 710.8 L325.4 708.5 L323.3 709.3 L321.3 710.3ZM335.5 695.4 L336.0 698.5 L337.3 701.1 L338.0 701.3 L338.0 701.1 L340.6 699.7 L339.5 696.8 L341.0 695.0 L341.4 692.8 L342.8 691.0 L343.1 690.2 L338.1 692.0 L338.0 692.0 L337.9 692.0 L337.6 691.9 L337.4 692.8ZM331.2 730.1 L329.1 727.4 L331.8 725.1 L331.2 724.4 L329.7 726.0 L326.6 725.5 L324.6 727.2 L322.3 728.5 L322.0 729.0 L321.3 731.1 L330.7 732.1ZM319.2 728.9 L322.0 729.0 L322.3 728.5 L321.6 726.0 L320.9 723.6 L319.1 721.6 L317.7 719.5 L315.7 717.6 L315.9 714.7 L313.1 715.7 L310.3 715.1 L307.3 714.0 L306.0 714.7 L306.0 715.0 L310.0 727.5 L317.3 730.1ZM337.6 691.9 L333.2 690.8 L330.1 690.0 L330.0 690.0 L330.0 689.9 L330.8 687.6 L330.9 687.4 L330.9 687.3 L330.6 687.5 L327.5 688.1 L326.6 690.9 L325.4 693.5 L322.9 694.7 L324.1 697.0 L326.9 697.8 L327.9 700.3 L330.9 700.9 L333.3 698.9 L336.0 698.5 L335.5 695.4 L337.4 692.8ZM333.3 716.1 L333.3 716.1 L334.9 714.3 L335.3 712.0 L335.5 710.8 L334.0 712.1 L332.1 714.0Z" fill="#b66944" stroke="#fff" stroke-width="0.72" stroke-opacity="0.92"/>
<path d="M259.0 644.0 L259.0 644.0 L259.2 644.0 L259.5 643.9 L259.7 643.9 L259.9 644.0 L260.1 644.0 L260.3 644.1 L260.5 644.2 L260.7 644.3 L260.9 644.4 L261.0 644.6 L261.2 644.7 L261.3 644.9 L261.4 645.1 L261.5 645.3 L261.6 645.5 L261.7 645.7 L261.7 645.9 L261.7 646.1 L261.7 646.3 L261.0 654.9 L261.0 655.0 L261.0 655.0 L264.8 664.6 L264.9 664.8 L265.0 665.0 L265.0 665.2 L265.0 665.4 L265.0 672.4 L265.0 672.5 L265.1 672.5 L288.8 672.5 L289.0 672.5 L289.3 672.5 L289.5 672.6 L289.7 672.7 L289.9 672.8 L290.0 672.9 L290.2 673.0 L290.4 673.1 L290.5 673.3 L290.7 673.5 L300.0 687.5 L300.0 687.5 L300.0 687.5 L305.0 691.0 L305.0 691.0 L305.0 691.0 L320.0 687.5 L320.0 687.5 L328.0 684.8 L328.2 684.8 L328.4 684.7 L328.6 684.7 L328.8 684.7 L329.1 684.7 L329.3 684.8 L329.5 684.9 L329.7 684.9 L329.8 685.0 L330.0 685.2 L330.2 685.3 L330.3 685.4 L330.5 685.6 L330.6 685.8 L330.7 686.0 L330.8 686.2 L330.8 686.4 L330.9 686.6 L330.9 686.8 L330.9 687.0 L330.9 687.2 L330.9 687.4 L330.8 687.6 L330.0 689.9 L330.0 690.0 L330.1 690.0 L337.9 692.0 L338.0 692.0 L338.1 692.0 L343.4 690.0 L343.5 690.0 L343.5 689.9 L343.0 681.6 L343.0 681.5 L342.9 681.5 L341.7 681.4 L341.4 681.4 L341.2 681.3 L341.0 681.2 L340.8 681.2 L340.7 681.0 L340.5 680.9 L340.3 680.8 L340.2 680.6 L340.0 680.5 L339.9 680.3 L339.8 680.1 L339.8 679.9 L339.7 679.7 L339.7 679.5 L339.6 679.2 L339.6 679.0 L339.7 678.8 L339.7 678.6 L339.8 678.4 L339.9 678.2 L340.0 678.0 L340.1 677.8 L340.2 677.7 L340.4 677.5 L340.6 677.4 L340.8 677.3 L343.0 676.0 L343.0 676.0 L343.0 675.9 L341.0 665.1 L341.0 664.9 L340.0 653.8 L340.0 653.8 L340.0 653.7 L337.0 643.6 L337.0 643.3 L337.0 643.1 L337.0 642.9 L337.0 642.6 L337.0 642.4 L339.8 631.7 L339.9 631.5 L340.0 631.3 L340.1 631.1 L340.2 630.9 L340.4 630.7 L340.5 630.5 L344.2 627.5 L344.4 627.3 L344.6 627.2 L344.8 627.1 L345.0 627.0 L345.3 627.0 L345.5 627.0 L351.9 626.5 L352.0 626.5 L352.1 626.5 L358.7 624.5 L358.8 624.5 L358.8 624.5 L358.9 624.3 L358.9 624.1 L359.0 623.9 L359.1 623.7 L359.3 623.6 L359.4 623.4 L359.6 623.3 L359.7 623.1 L359.9 623.0 L360.0 623.0 L360.0 623.0 L367.9 616.1 L368.0 616.0 L368.1 615.9 L377.0 610.3 L377.1 610.2 L377.3 610.1 L377.5 610.0 L377.7 610.0 L377.9 610.0 L378.1 610.0 L378.4 610.0 L378.6 610.0 L378.8 610.1 L379.0 610.1 L379.2 610.2 L379.3 610.3 L379.5 610.4 L379.7 610.6 L379.8 610.7 L379.9 610.9 L380.0 611.0 L380.0 611.0 L390.0 600.0 L390.0 600.0 L399.9 590.1 L400.1 589.9 L440.0 560.0 L440.0 560.0 L440.0 560.0 L451.5 543.7 L451.7 543.5 L451.8 543.3 L462.0 534.0 L462.0 534.0 L462.0 534.0 L457.8 530.3 L457.7 530.1 L457.5 530.0 L457.4 529.8 L457.3 529.6 L452.5 520.0 L452.5 520.0 L452.5 520.0 L446.0 515.0 L446.0 515.0 L446.0 515.0 L436.0 525.0 L436.0 525.0 L436.0 525.1 L436.0 530.9 L436.0 531.0 L436.0 531.0 L440.5 534.6 L440.7 534.8 L440.9 535.0 L441.0 535.1 L441.1 535.3 L441.2 535.5 L444.4 543.5 L444.5 543.7 L444.5 543.9 L444.5 544.1 L444.6 544.3 L444.5 544.5 L444.5 544.8 L444.4 545.0 L444.4 545.2 L444.3 545.4 L444.2 545.5 L444.0 545.7 L443.9 545.9 L443.7 546.0 L440.5 548.6 L440.3 548.7 L440.2 548.8 L440.0 548.9 L439.8 549.0 L439.6 549.0 L439.4 549.1 L431.0 549.9 L430.8 549.9 L430.6 549.9 L430.4 549.9 L430.2 549.8 L430.0 549.7 L429.8 549.6 L429.6 549.5 L429.4 549.4 L429.3 549.3 L424.0 544.0 L424.0 544.0 L424.0 544.0 L415.1 547.5 L415.0 547.5 L415.0 547.5 L409.5 555.3 L409.4 555.5 L409.2 555.6 L409.1 555.7 L408.9 555.9 L408.7 556.0 L408.6 556.1 L408.4 556.1 L408.2 556.2 L400.0 558.0 L400.0 558.0 L392.0 560.0 L392.0 560.0 L392.0 560.0 L384.0 572.0 L384.0 572.0 L384.0 572.1 L384.0 574.8 L384.0 575.0 L384.0 575.2 L383.9 575.4 L383.8 575.6 L383.7 575.8 L383.6 576.0 L383.5 576.2 L383.4 576.4 L383.2 576.5 L383.0 576.6 L382.8 576.7 L382.6 576.8 L382.4 576.9 L382.2 577.0 L382.0 577.0 L381.8 577.0 L374.1 577.0 L374.0 577.0 L374.0 577.0 L370.0 580.0 L370.0 580.0 L358.5 590.6 L358.3 590.7 L358.1 590.8 L358.0 590.9 L357.8 591.0 L357.6 591.1 L357.4 591.1 L346.1 593.0 L346.0 593.0 L346.0 593.0 L338.0 598.0 L338.0 598.0 L338.0 598.1 L338.8 600.0 L338.9 600.2 L338.9 600.4 L338.9 600.6 L339.0 600.8 L338.9 601.0 L338.9 601.2 L338.9 601.5 L338.8 601.7 L338.7 601.9 L338.6 602.0 L338.4 602.2 L338.3 602.4 L338.1 602.5 L338.0 602.6 L337.8 602.7 L337.6 602.8 L337.4 602.9 L337.2 603.0 L337.0 603.0 L336.8 603.0 L336.1 603.0 L335.9 603.0 L328.1 604.0 L327.9 604.0 L320.1 606.0 L320.0 606.0 L320.0 606.0 L318.4 607.8 L318.4 607.8 L318.4 607.9 L318.1 610.0 L318.1 610.2 L318.0 610.4 L318.0 610.6 L317.9 610.8 L317.7 611.0 L317.6 611.1 L317.5 611.3 L317.3 611.4 L317.1 611.6 L310.0 616.0 L310.0 616.0 L310.0 616.0 L307.7 619.1 L307.5 619.3 L307.4 619.5 L307.2 619.6 L307.0 619.7 L306.8 619.8 L306.6 619.9 L306.4 620.0 L306.1 620.0 L305.9 620.0 L296.1 620.0 L296.0 620.0 L296.0 620.0 L290.8 622.6 L290.6 622.7 L290.4 622.8 L290.2 622.8 L290.0 622.8 L289.8 622.8 L289.6 622.8 L289.4 622.8 L289.2 622.7 L280.0 620.0 L280.0 620.0 L276.0 619.0 L276.0 619.0 L276.0 619.0 L267.0 622.8 L266.9 622.8 L266.9 622.9 L266.0 632.9 L266.0 633.0 L266.0 633.1 L266.8 634.7 L266.9 634.9 L267.0 635.1 L267.0 635.3 L267.0 635.5 L267.0 635.8 L267.0 636.0 L266.9 636.2 L266.9 636.4 L266.8 636.6 L266.7 636.8 L266.6 637.0 L266.4 637.2 L266.2 637.3 L266.1 637.5 L266.0 637.5 L266.0 637.5 L259.0 644.0ZM273.8 690.0 L273.8 690.1 L274.6 696.1 L274.6 696.2 L274.7 696.2 L278.9 697.2 L279.0 697.2 L279.0 697.2 L282.2 694.0 L282.2 694.0 L282.2 693.9 L281.5 689.6 L281.5 689.5 L281.5 689.5 L277.6 688.0 L277.6 688.0 L277.6 688.0 L273.8 690.0ZM259.5 735.0 L259.5 735.1 L259.5 751.9 L259.5 752.0 L259.5 752.1 L262.5 759.0 L262.5 759.0 L262.5 759.0 L266.0 752.5 L266.0 752.5 L266.0 752.4 L265.0 734.6 L265.0 734.5 L264.9 734.5 L259.6 735.0ZM167.0 538.0 L167.0 538.0 L170.0 541.0 L170.0 541.0 L170.1 541.0 L179.9 541.0 L180.0 541.0 L180.0 541.0 L186.0 535.0 L186.0 535.0 L186.0 535.0 L180.0 527.5 L180.0 527.5 L180.0 527.5 L169.0 534.0 L169.0 534.0 L169.0 534.0 L167.0 538.0ZM160.0 484.0 L160.0 484.1 L161.0 492.4 L161.0 492.5 L161.1 492.5 L169.9 494.0 L170.0 494.0 L170.0 494.0 L173.8 490.2 L173.9 490.1 L174.1 490.0 L174.3 489.8 L185.0 484.0 L185.0 484.0 L184.9 484.0 L180.0 482.5 L180.0 482.5 L179.9 482.5 L160.1 484.0Z" fill="#b66944"/>
<path d="M50.0 415.0 L48.9 418.0 L51.0 421.0 L50.7 424.0 L49.4 427.0 L50.0 430.0 L52.0 432.3 L53.4 435.0 L55.6 437.1 L56.3 440.2 L59.0 442.0 L60.0 445.0 L63.2 445.5 L66.3 446.6 L69.6 446.8 L72.5 448.7 L76.2 446.9 L79.3 448.0 L82.5 448.4 L85.6 449.4 L88.5 451.6 L91.8 451.7 L95.0 452.0 L98.4 451.0 L101.2 449.1 L104.1 447.3 L106.4 444.7 L109.0 442.5 L111.7 440.9 L114.6 440.1 L117.5 439.0 L120.3 437.7 L123.2 437.3 L126.2 436.7 L129.2 436.7 L131.9 434.7 L135.0 435.0 L133.4 432.4 L131.7 430.0 L130.3 427.3 L127.9 425.3 L126.4 422.7 L125.0 420.0 L123.4 417.3 L124.0 414.2 L122.5 411.4 L122.4 408.5 L123.6 405.3 L122.5 402.5 L122.6 400.2 L122.5 398.0 L119.2 399.1 L115.9 399.5 L112.4 398.7 L109.2 400.0 L105.8 400.0 L102.3 399.7 L99.1 400.8 L95.6 400.3 L92.5 403.0 L89.1 403.0 L85.6 401.5 L82.3 402.3 L79.0 403.2 L75.7 404.5 L72.5 405.6 L69.0 405.0 L66.1 406.1 L63.8 408.4 L60.8 409.2 L58.1 410.6 L56.0 413.2 L52.6 413.4Z" fill="#ebd6cc" stroke="#fff" stroke-width="0.8"/>
<path d="M160.0 484.0 L161.0 492.5 L170.0 494.0 L174.0 490.0 L185.0 484.0 L180.0 482.5Z" fill="#c6896c" stroke="#fbe3d6" stroke-width="0.8"/>
<path d="M162.5 517.5 L160.0 527.5 L166.0 535.0 L170.0 532.5 L180.0 525.0 L177.5 520.0Z" fill="#d1a088" stroke="#fbe3d6" stroke-width="0.8"/>
<path d="M169.0 534.0 L167.0 538.0 L170.0 541.0 L180.0 541.0 L186.0 535.0 L180.0 527.5Z" fill="#b66944" stroke="#fbe3d6" stroke-width="0.8"/>
<path d="M277.0 587.0 L277.0 592.0 L283.0 597.0 L283.0 591.0 L292.0 588.0 L300.0 594.0 L306.0 590.0 L305.0 580.0 L296.0 580.0 L286.0 583.0Z" fill="#dab29f" stroke="#fbe3d6" stroke-width="0.8"/>
<path d="M306.0 580.0 L307.0 590.0 L306.0 602.0 L313.0 604.0 L320.0 606.0 L328.0 604.0 L336.0 600.0 L338.0 596.0 L334.0 589.0 L328.0 584.0 L320.0 582.0 L310.0 576.0Z" fill="#d1a088" stroke="#fbe3d6" stroke-width="0.8"/>
<path d="M345.0 560.0 L344.0 570.0 L342.0 580.0 L334.0 588.0 L338.0 596.0 L346.0 593.0 L358.0 590.0 L370.0 580.0 L374.0 577.0 L366.0 574.0 L358.0 574.0 L350.0 560.0Z" fill="#d1a088" stroke="#fbe3d6" stroke-width="0.8"/>
<path d="M236.0 645.0 L246.0 647.0 L252.0 653.0 L258.5 650.0 L260.0 643.0 L266.0 642.0 L267.0 634.0 L266.0 630.0 L258.0 634.0 L250.0 638.0Z" fill="#d1a088" stroke="#fbe3d6" stroke-width="0.8"/>
<path d="M266.9 622.8 L266.0 633.0 L268.8 638.8 L283.8 638.8 L290.3 643.4 L297.0 642.5 L304.4 643.4 L305.3 638.8 L307.0 624.7 L306.0 620.0 L296.0 620.0 L290.0 623.0 L280.0 620.0 L276.0 619.0Z" fill="#9d3402" stroke="#fbe3d6" stroke-width="0.8"/>
<path d="M318.4 607.8 L321.0 612.5 L326.9 613.4 L328.8 621.0 L332.5 621.0 L334.4 616.0 L340.0 616.0 L343.8 620.0 L345.0 627.0 L352.0 626.5 L358.8 624.5 L356.0 616.0 L350.0 608.0 L340.0 603.0 L336.0 603.0 L328.0 604.0 L320.0 606.0Z" fill="#9d3402" stroke="#fbe3d6" stroke-width="0.8"/>
<path d="M291.0 647.0 L289.4 655.6 L297.8 661.0 L298.8 669.7 L312.0 671.5 L322.0 674.0 L321.0 661.0 L315.6 650.0 L312.8 640.6 L306.0 640.6 L297.0 643.4Z" fill="#9d3402" stroke="#fbe3d6" stroke-width="0.8"/>
<path d="M307.0 620.0 L306.0 638.8 L314.7 641.5 L337.0 642.5 L340.0 631.0 L346.0 626.0 L343.8 620.0 L340.0 616.0 L334.4 616.0 L332.5 621.0 L328.8 621.0 L326.9 613.4 L321.0 612.5 L318.4 607.8 L318.0 611.0 L310.0 616.0Z" fill="#b66944" stroke="#fbe3d6" stroke-width="0.8"/>
<path d="M312.8 640.6 L315.6 650.0 L321.0 661.0 L322.0 670.6 L330.6 672.5 L336.0 680.0 L343.0 676.0 L341.0 665.0 L340.0 653.8 L337.0 643.4Z" fill="#b66944" stroke="#fbe3d6" stroke-width="0.8"/>
<path d="M262.0 642.5 L261.0 655.0 L265.0 665.0 L265.0 672.5 L278.0 672.5 L293.0 672.5 L297.8 668.8 L297.8 661.0 L289.4 655.6 L291.0 647.0 L290.3 644.4 L283.8 638.8 L268.8 638.8 L266.0 637.5 L259.0 644.0Z" fill="#b66944" stroke="#fbe3d6" stroke-width="0.8"/>
<path d="M293.0 672.5 L290.0 672.5 L295.0 680.0 L300.0 687.5 L305.0 691.0 L320.0 687.5 L335.0 682.5 L336.0 680.0 L330.6 673.4 L322.0 674.0 L312.0 671.5 L298.8 669.7Z" fill="#b66944" stroke="#fbe3d6" stroke-width="0.8"/>
<path d="M330.0 690.0 L338.0 692.0 L343.5 690.0 L343.0 681.5 L337.0 681.0 L332.0 684.0Z" fill="#9d3402" stroke="#fbe3d6" stroke-width="0.8"/>
<path d="M338.0 598.0 L340.0 603.0 L350.0 608.0 L356.0 616.0 L356.0 624.0 L360.0 623.0 L368.0 616.0 L379.0 609.0 L376.0 598.0 L372.0 583.0 L370.0 580.0 L358.0 591.0 L346.0 593.0Z" fill="#b66944" stroke="#fbe3d6" stroke-width="0.8"/>
<path d="M370.0 580.0 L373.0 584.0 L377.0 600.0 L380.0 611.0 L390.0 600.0 L400.0 590.0 L396.0 584.0 L390.0 580.0 L384.0 577.0 L374.0 577.0Z" fill="#b66944" stroke="#fbe3d6" stroke-width="0.8"/>
<path d="M384.0 572.0 L384.0 577.0 L390.0 580.0 L396.0 584.0 L400.0 590.0 L420.0 575.0 L440.0 560.0 L452.0 543.0 L445.0 545.0 L440.0 549.0 L430.0 550.0 L424.0 544.0 L415.0 547.5 L409.0 556.0 L400.0 558.0 L392.0 560.0Z" fill="#9d3402" stroke="#fbe3d6" stroke-width="0.8"/>
<path d="M436.0 525.0 L436.0 531.0 L441.0 535.0 L445.0 545.0 L450.0 545.0 L462.0 534.0 L457.5 530.0 L452.5 520.0 L446.0 515.0Z" fill="#b66944" stroke="#fbe3d6" stroke-width="0.8"/>
<path d="M273.8 690.0 L274.6 696.2 L279.0 697.2 L282.2 694.0 L281.5 689.5 L277.6 688.0Z" fill="#b66944" stroke="#fbe3d6" stroke-width="0.8"/>
<path d="M330.0 690.0 L338.0 692.0 L343.5 690.0 L343.0 681.5 L337.0 681.0 L332.0 684.0Z" fill="#9d3402" stroke="#fbe3d6" stroke-width="0.8"/>
<path d="M259.5 735.0 L259.5 752.0 L262.5 759.0 L266.0 752.5 L265.0 734.5Z" fill="#b66944" stroke="#fbe3d6" stroke-width="0.8"/>
<path d="M271.0 765.0 L270.0 774.0 L277.5 772.5 L280.0 762.5Z" fill="#d1a088" stroke="#fbe3d6" stroke-width="0.8"/>
<path d="M282.5 767.5 L282.5 772.0 L292.5 770.0 L295.0 762.5Z" fill="#d1a088" stroke="#fbe3d6" stroke-width="0.8"/>
<path d="M297.5 780.0 L300.0 787.5 L310.0 782.5 L305.0 777.5Z" fill="#d1a088" stroke="#fbe3d6" stroke-width="0.8"/>
<path d="M547.5 455.0 L541.0 467.5 L529.0 476.0 L537.5 481.0 L553.0 480.0 L551.0 460.0Z" fill="#8c8c8c" stroke="#8c8c8c" stroke-width="0.8"/>
<path d="M180.0 131.0 L182.1 129.1 L183.7 126.7 L185.2 124.3 L187.5 122.5 L189.8 123.4 L191.9 124.8 L194.0 126.0 L196.9 127.6 L200.1 126.3 L202.9 127.5 L206.0 127.5 L209.3 127.3 L212.5 127.8 L215.6 128.7 L218.7 129.4 L222.0 129.7 L225.0 131.0 L228.2 131.0 L231.2 130.6 L234.2 129.8 L237.2 129.2 L240.0 127.5 L242.5 126.7 L244.8 125.2 L247.3 124.4 L250.0 124.0 L252.3 122.3 L255.2 121.7 L257.5 120.0 L259.8 118.1 L263.2 118.1 L264.7 114.9 L267.1 113.4 L270.0 112.5 L272.3 110.6 L274.8 108.9 L278.0 108.4 L280.0 106.0 L282.3 104.3 L285.3 103.9 L287.5 102.0 L290.0 99.0 L289.5 95.7 L290.2 92.5 L290.3 89.2 L291.0 85.9 L289.8 82.7 L290.3 79.4 L290.4 76.1 L291.1 72.9 L290.7 69.6 L289.9 66.3 L289.7 63.1 L290.4 59.8 L289.8 56.5 L290.2 53.3 L290.0 50.0 L286.6 49.9 L283.2 50.1 L279.8 48.9 L276.3 50.3 L272.9 51.2 L269.5 51.0 L266.1 49.1 L262.7 51.2 L259.3 51.1 L255.9 51.0 L252.4 49.1 L249.0 51.0 L245.6 49.2 L242.2 49.4 L238.8 50.7 L235.4 49.3 L232.0 50.7 L228.5 50.7 L225.1 49.3 L221.7 49.9 L218.3 50.5 L214.9 50.4 L211.5 49.3 L208.0 48.8 L204.6 49.9 L201.2 50.3 L197.8 50.7 L194.4 50.8 L191.0 51.1 L187.6 49.3 L184.1 49.0 L180.7 51.0 L177.3 50.7 L173.9 51.2 L170.5 50.4 L167.1 51.1 L163.7 50.9 L160.2 51.1 L156.8 49.7 L153.4 50.7 L150.0 50.0 L150.5 53.4 L149.4 56.8 L150.5 60.1 L151.1 63.5 L149.7 66.9 L149.6 70.2 L148.8 73.6 L150.1 77.0 L149.6 80.4 L150.1 83.8 L148.8 87.1 L150.8 90.5 L150.8 93.9 L150.9 97.2 L150.7 100.6 L151.3 104.0 L151.2 107.4 L150.5 110.8 L150.2 114.1 L150.7 117.5 L149.3 120.9 L150.2 124.2 L149.9 127.6 L150.0 131.0 L153.3 131.8 L156.7 131.4 L160.0 131.8 L163.3 130.4 L166.7 132.3 L170.0 130.7 L173.3 132.0 L176.7 130.0Z" fill="#dedede" stroke="#fff" stroke-width="0.95"/>
<path d="M287.5 102.0 L288.6 104.6 L289.8 107.1 L290.0 110.0 L291.4 112.4 L292.9 114.8 L294.5 117.1 L295.0 120.0 L296.8 122.5 L298.1 125.4 L301.4 126.8 L303.0 129.4 L304.0 132.5 L306.3 134.7 L306.6 137.8 L308.0 140.4 L307.8 143.8 L310.0 146.0 L313.2 144.9 L316.4 147.1 L319.5 146.6 L322.7 145.2 L325.9 144.9 L329.1 145.4 L332.3 145.5 L335.5 145.5 L338.6 144.8 L341.8 146.9 L345.0 146.0 L345.9 142.6 L345.2 139.2 L343.9 135.8 L345.1 132.4 L345.9 129.1 L346.1 125.7 L344.1 122.3 L345.1 118.9 L344.1 115.5 L345.6 112.1 L343.7 108.7 L345.2 105.3 L344.4 101.9 L345.7 98.6 L343.7 95.2 L344.6 91.8 L345.2 88.4 L345.0 85.0 L341.6 83.9 L338.1 85.0 L334.7 84.1 L331.2 86.0 L327.8 85.2 L324.4 84.8 L320.9 85.0 L317.5 86.0 L314.1 83.8 L310.6 85.5 L307.2 85.9 L303.8 85.8 L300.3 85.5 L296.9 84.2 L293.4 85.6 L290.0 85.0 L291.1 87.8 L291.0 90.6 L290.5 93.4 L289.3 96.2 L290.0 99.0Z" fill="#dedede" stroke="#fff" stroke-width="0.95"/>
<path d="M257.5 120.0 L255.1 122.3 L252.9 124.8 L251.0 127.5 L250.9 131.0 L252.5 133.9 L254.4 136.8 L255.0 140.0 L257.3 141.7 L258.3 144.7 L260.6 146.4 L262.6 148.4 L265.0 150.0 L266.4 152.6 L268.5 154.5 L271.8 155.2 L273.4 157.6 L275.0 160.0 L273.3 162.8 L273.0 165.9 L274.1 169.2 L272.5 172.0 L275.3 172.8 L277.4 174.8 L280.0 176.0 L282.4 177.5 L284.1 179.7 L285.5 182.1 L287.5 184.0 L290.4 183.9 L293.1 183.0 L296.0 183.0 L296.9 186.2 L298.7 189.0 L300.0 192.0 L302.2 190.2 L304.4 188.4 L306.0 186.0 L307.6 188.3 L308.5 191.0 L309.3 193.7 L311.0 196.0 L314.4 195.7 L317.3 193.8 L320.1 191.8 L324.0 193.0 L327.2 192.1 L330.0 190.0 L328.0 187.8 L327.5 184.7 L325.5 182.5 L324.8 179.2 L323.1 176.5 L321.0 174.0 L321.5 171.3 L320.5 168.7 L321.0 166.0 L318.3 164.2 L315.1 163.1 L313.0 160.3 L310.0 159.0 L312.4 156.8 L314.0 154.0 L312.5 151.4 L311.8 148.4 L310.0 146.0 L309.0 143.2 L307.9 140.5 L307.3 137.5 L304.2 135.7 L304.0 132.5 L302.4 129.9 L300.1 127.7 L299.3 124.5 L297.1 122.3 L295.0 120.0 L294.6 117.1 L293.1 114.7 L290.8 112.7 L290.0 110.0 L289.4 107.3 L288.9 104.5 L287.5 102.0 L285.2 103.7 L282.5 104.7 L280.0 106.0 L277.8 108.0 L275.3 109.8 L272.5 110.8 L270.0 112.5 L266.9 113.0 L264.8 115.2 L262.6 117.1 L260.6 119.5Z" fill="#dedede" stroke="#fff" stroke-width="0.95"/>
<path d="M225.0 131.0 L225.4 134.1 L227.4 136.8 L227.5 140.0 L230.1 141.8 L232.7 143.7 L235.5 145.4 L236.9 148.8 L240.0 150.0 L241.6 152.7 L243.6 155.2 L245.0 158.0 L245.5 160.9 L247.3 163.1 L249.0 165.4 L250.0 168.0 L253.3 169.1 L256.6 169.2 L260.0 169.0 L263.0 170.8 L265.6 173.0 L267.5 176.0 L269.8 173.8 L272.5 172.0 L272.2 168.8 L273.6 166.0 L274.1 162.9 L275.0 160.0 L272.6 158.4 L270.3 156.7 L269.5 153.5 L266.6 152.4 L265.0 150.0 L262.8 148.2 L260.7 146.3 L259.0 144.0 L256.7 142.3 L255.0 140.0 L253.3 137.1 L252.8 133.8 L252.8 130.4 L251.0 127.5 L253.6 125.4 L255.2 122.4 L257.5 120.0 L254.8 121.0 L252.4 122.4 L250.0 124.0 L247.5 125.0 L245.3 126.5 L242.4 126.4 L240.0 127.5 L236.9 127.7 L233.9 128.4 L230.8 128.7 L228.0 130.2Z" fill="#dedede" stroke="#fff" stroke-width="0.95"/>
<path d="M266.0 662.0 L266.1 664.5 L267.8 666.5 L268.0 669.0 L270.3 668.7 L272.7 668.3 L275.0 668.0 L275.3 665.6 L274.2 663.4 L274.0 661.0 L271.3 661.4 L268.7 661.5Z" fill="#ebd6cc" stroke="#fff" stroke-width="0.8"/>
<path d="M392.0 560.0 L393.1 562.8 L394.7 565.3 L396.0 568.0 L394.9 571.0 L394.0 574.0 L395.2 576.4 L396.9 578.4 L399.0 580.0 L399.1 582.7 L398.8 585.4 L398.0 588.0" fill="none" stroke="#fbe6da" stroke-width="0.9"/>
<path d="M409.0 556.0 L410.1 559.2 L412.0 562.0 L410.9 565.0 L410.0 568.0 L413.1 568.6 L416.0 570.0 L417.6 572.8 L420.0 575.0" fill="none" stroke="#fbe6da" stroke-width="0.9"/>
<path d="M424.0 544.0 L424.6 546.7 L424.9 549.5 L426.0 552.0 L428.3 554.2 L431.0 556.0 L433.1 557.2 L434.1 559.5 L436.0 561.0" fill="none" stroke="#fbe6da" stroke-width="0.9"/>
<path d="M55.0 421.0 L58.0 418.0 L62.0 419.0 L63.0 424.0 L60.0 427.0 L55.0 428.0Z" fill="#8c8c8c"/>
</g>
<path d="M227.0 195.0 L229.0 193.7 L230.5 191.9 L230.9 189.2 L233.0 188.0 L235.1 187.0 L235.2 184.2 L238.1 184.0 L238.8 181.7 L240.0 180.0 L241.3 178.0 L244.1 177.4 L245.9 175.9 L246.5 173.2 L248.6 171.9 L250.0 170.0 L252.4 168.8 L255.0 169.7 L257.5 169.3 L260.0 169.0 L261.9 170.7 L264.3 171.9 L265.4 174.5 L267.5 176.0 L270.0 175.8 L272.5 174.8 L275.0 177.3 L277.5 176.4 L280.0 176.0 L282.1 177.1 L283.3 178.9 L283.7 181.6 L286.9 181.6 L287.5 184.0 L289.6 183.9 L291.7 182.9 L293.8 182.5 L296.0 183.0 L296.2 185.2 L297.6 186.8 L298.9 188.3 L300.0 190.0 M227.0 195.0 L227.9 197.2 L229.4 198.9 L232.3 199.3 L232.2 202.3 L235.2 202.7 L236.0 205.0 L235.7 207.4 L237.4 209.1 L238.9 210.8 L238.3 213.4 L240.0 215.0 L240.8 217.6 L243.5 218.2 L244.7 220.3 L247.5 220.9 L248.2 223.5 L250.0 225.0 L251.6 226.7 L253.4 228.3 L255.0 230.0 L256.9 231.5 L257.3 233.9 L258.9 235.5 L260.0 237.5 L262.5 240.0 L265.2 240.0 L266.2 243.3 L268.7 243.6 L271.4 243.6 L273.4 245.0 L274.8 247.5 L277.5 247.5 M310.0 222.5 L307.6 223.6 L305.1 223.8 L302.5 223.6 L299.9 222.9 L297.5 224.0 L295.2 225.4 L292.5 225.3 L289.6 224.7 L287.4 226.5 L285.0 227.5 L283.3 229.0 L283.2 231.4 L281.7 232.9 L281.0 235.0 L281.1 237.6 L281.3 240.1 L282.5 242.5 L281.0 244.3 L279.7 246.4 L277.5 247.5 M190.0 257.0 L192.8 256.2 L194.9 258.4 L197.3 259.4 L200.3 257.7 L202.2 260.9 L205.0 260.0 L207.5 260.3 L210.0 258.9 L212.5 260.6 L215.0 260.2 L217.5 259.7 L220.0 260.0 L221.0 261.7 L221.4 263.7 L222.5 265.4 L222.5 267.5 L224.5 266.5 L226.0 264.6 L228.6 264.4 L230.0 262.5 L232.5 262.6 L235.0 262.1 L237.5 263.5 L240.0 263.6 L242.5 261.6 L245.0 262.5 L245.7 260.4 L245.9 258.1 L247.3 256.3 L247.5 254.0 L249.9 252.8 L252.4 252.4 L255.0 252.5 L255.8 250.7 L256.0 248.7 L256.3 246.7 L257.5 245.0 L259.0 243.4 L258.6 241.2 L258.9 239.2 L260.0 237.5 M205.0 260.0 L204.5 262.7 L206.4 264.9 L207.7 267.3 L206.7 270.1 L207.5 272.5 L209.8 272.6 L211.7 274.2 L213.8 275.1 L216.4 274.3 L217.9 277.1 L220.4 276.7 L222.5 277.5 L224.0 279.2 L224.1 281.7 L224.5 284.0 L226.4 285.5 L227.5 287.5 L229.2 289.5 L229.1 292.3 L230.7 294.3 L230.4 297.2 L232.5 299.0 L234.7 300.1 L235.3 302.5 L236.4 304.6 L239.5 304.9 L240.0 307.5 L239.5 310.0 L239.8 312.5 L240.0 315.0 L242.0 314.0 L244.1 313.0 L245.0 310.4 L247.5 310.0 L249.9 309.0 L252.5 309.0 L255.0 309.0 L257.2 309.1 L259.1 308.4 L261.0 307.5 L261.6 309.5 L262.7 311.4 L263.2 313.4 L263.6 315.5 L264.0 317.5 L266.3 317.4 L268.7 318.3 L271.0 317.5 M277.5 247.5 L277.2 250.2 L274.8 251.5 L274.9 254.4 L272.5 255.9 L270.6 257.5 L270.0 260.0 L268.0 261.7 L268.6 264.1 L266.6 265.8 L268.7 268.8 L266.6 270.4 L266.0 272.5 L266.4 275.0 L266.2 277.7 L268.9 279.7 L267.2 282.7 L268.0 285.1 L269.0 287.5 L269.2 290.0 L270.0 292.2 L272.9 293.5 L274.3 295.5 L272.7 298.8 L275.5 300.1 L276.0 302.5 L275.6 305.0 L275.8 307.5 L275.2 310.0 L276.0 312.5 L275.0 314.8 L272.2 315.4 L271.0 317.5 M277.5 247.5 L279.9 248.0 L281.1 250.2 L283.7 250.4 L285.0 252.5 L284.8 255.0 L283.8 257.4 L283.0 259.9 L284.0 262.5 L285.5 263.8 L286.4 265.8 L289.1 265.5 L290.0 267.5 L291.9 266.7 L293.8 265.8 L295.9 265.4 L297.5 264.0 L300.2 264.9 L300.2 268.2 L302.1 269.9 L303.5 272.0 L305.0 273.9 L307.5 275.0 L310.1 275.7 L312.4 276.8 L312.6 280.6 L315.9 280.5 L317.5 282.5 L318.9 284.1 L320.8 285.3 L322.1 287.1 L325.1 286.6 L326.0 289.0 L328.1 290.4 L330.5 290.2 L332.6 291.3 L335.0 291.0 L336.4 289.4 L337.3 287.4 L339.0 286.0 M271.0 317.5 L273.1 319.0 L272.0 321.8 L272.3 323.9 L275.1 325.1 L275.0 327.5 L276.5 329.2 L276.6 331.9 L278.0 333.6 L280.0 335.0 L278.3 336.5 L277.6 338.5 L277.0 340.6 L276.0 342.5 M276.0 342.5 L278.4 342.5 L280.7 342.2 L282.9 340.7 L285.2 340.2 L287.8 342.3 L290.0 341.0 L288.6 343.0 L287.0 344.9 L284.0 344.8 L282.6 346.9 L279.8 347.1 L279.3 350.3 L277.6 352.0 L275.0 352.5 L272.2 352.7 L270.8 355.3 L268.0 355.5 L265.8 356.7 L263.8 358.3 L261.7 359.7 L259.5 360.9 L257.5 362.5 L257.1 364.8 L256.6 367.1 L253.8 368.1 L254.6 371.0 L252.5 372.5 L252.6 374.7 L253.5 376.6 L255.5 377.9 L256.0 380.0 L258.1 381.8 L260.5 381.6 L263.0 381.2 L265.3 381.8 L267.9 380.6 L270.0 382.5 L270.6 384.3 L271.1 386.1 L272.5 387.5 L270.0 387.6 L268.5 389.5 L265.9 389.2 L264.0 390.5 L262.5 392.5 L261.8 395.0 L260.5 397.3 L259.4 399.7 L260.0 402.5 L261.4 404.4 L260.3 407.0 L262.6 408.7 L262.5 411.0 L260.0 411.4 L257.5 411.0 L255.1 409.3 L252.6 409.1 L250.0 410.0 L247.5 410.8 L245.0 409.3 L242.5 410.0 L240.2 411.4 L239.3 413.4 L239.2 415.9 L238.7 418.1 L237.5 420.0 L235.4 419.8 L233.9 421.7 L231.9 421.9 L230.0 422.5 L229.0 420.1 L230.2 417.4 L229.0 415.0 L231.2 413.7 L233.3 412.4 L236.0 412.5 L235.3 409.9 L237.5 407.6 L237.7 405.1 L235.9 402.3 L237.5 400.0 L236.0 397.9 L234.0 397.2 L231.6 397.3 L229.7 396.2 L227.5 396.0 L225.3 395.5 L224.8 392.8 L222.2 392.9 L221.0 391.0 L218.6 391.3 L216.7 392.8 L214.3 393.3 L212.5 395.0 L210.7 397.2 L210.0 399.7 L211.4 402.7 L210.0 405.0 L209.4 407.8 L210.3 410.3 L211.5 412.6 L211.7 415.3 L212.3 417.8 L214.0 420.0 L216.0 422.5 L213.8 424.2 L214.4 427.2 L212.1 428.8 L212.1 431.6 L210.0 433.3 L210.0 436.0 L208.4 437.1 L207.5 439.1 L205.9 440.2 L204.0 441.0 M290.0 341.0 L292.5 340.6 L294.3 342.6 L296.7 342.4 L299.1 342.2 L300.9 344.3 L303.1 344.8 L305.6 344.2 L307.5 346.0 L307.7 348.6 L310.4 349.4 L310.9 351.8 L312.5 353.4 L314.0 355.0 L313.4 357.5 L312.0 359.8 L311.1 362.2 L310.7 364.8 L311.0 367.5 L310.2 369.5 L307.5 370.2 L307.7 372.8 L305.6 373.8 L305.0 376.0 L302.9 377.4 L301.0 379.0 L298.2 378.9 L296.0 380.0 L297.6 382.3 L297.3 384.9 L296.0 387.7 L297.5 390.0 L297.2 392.5 L294.7 393.5 L293.5 395.4 L292.5 397.5 L292.1 399.9 L294.8 401.2 L295.9 403.0 L295.4 405.5 L296.0 407.5 L298.4 408.7 L300.7 409.9 L303.7 408.6 L306.0 410.0 L307.4 408.2 L308.3 406.1 L308.9 403.8 L311.0 402.5 L309.3 400.8 L309.4 398.0 L307.7 396.3 L306.9 394.1 L305.0 392.5 L306.6 390.7 L306.2 388.2 L307.3 386.2 L309.4 384.6 L308.9 382.0 L310.0 380.0 L312.2 380.6 L314.2 381.6 L316.1 382.7 L318.3 383.3 L320.0 385.0 L322.5 383.7 L325.0 384.9 L327.5 386.2 L330.0 384.3 L332.5 383.8 L335.0 385.0 L337.1 383.9 L338.9 382.2 L341.0 381.0 L342.9 382.6 L343.4 385.1 L345.4 386.6 L346.0 389.0 L348.4 387.9 L350.5 390.7 L352.8 390.6 L355.1 390.8 L357.5 390.0 L359.4 389.6 L361.1 388.4 L363.1 387.9 L365.0 387.5 L367.5 388.0 L370.2 387.2 L372.5 388.4 L375.0 389.0 L376.5 391.2 L379.9 390.7 L382.0 392.1 L383.5 394.4 L385.1 396.5 L387.5 397.5 L389.2 399.3 L391.9 398.6 L393.2 401.4 L395.5 401.6 L397.9 401.8 L400.0 402.5 L400.4 404.7 L401.4 406.9 L400.3 409.4 L400.4 411.6 L402.5 413.6 L402.0 416.0 M122.5 400.0 L125.0 399.7 L127.5 400.3 L130.0 400.8 L132.5 400.9 L135.1 399.4 L137.5 401.0 L140.0 401.2 L142.5 400.2 L145.0 401.7 L147.5 402.5 L150.0 401.8 L152.5 401.0 L155.3 400.7 L157.5 402.2 L160.2 402.2 L162.6 403.2 L165.2 403.6 L167.5 405.0 L168.1 407.6 L170.0 409.4 L171.6 411.3 L173.6 412.9 L175.0 415.0 L175.2 417.7 L176.4 419.8 L178.3 421.5 L180.0 423.4 L181.5 425.2 L182.5 427.5 L184.4 429.0 L187.2 429.1 L188.2 432.1 L190.6 432.9 L192.6 434.3 L195.0 435.0 L196.1 437.3 L198.6 437.4 L200.3 438.8 L201.5 440.9 L204.0 441.0 M204.0 441.0 L204.7 443.6 L201.7 445.3 L201.5 447.7 L201.3 450.1 L201.0 452.5 L198.9 453.0 L198.4 455.5 L196.8 456.6 L195.0 457.5 L196.2 459.4 L198.6 460.6 L199.6 462.7 L199.6 465.4 L200.2 467.8 L202.5 469.0 M202.5 469.0 L201.0 471.0 L198.6 471.5 L196.7 473.0 L195.1 474.8 L192.5 475.0 L191.8 476.8 L192.2 479.1 L190.4 480.5 L190.0 482.5 L188.5 484.2 L188.5 486.9 L186.1 488.0 L185.0 490.0 L186.2 491.9 L186.9 494.1 L188.1 496.1 L190.0 497.5 L188.8 499.4 L188.4 501.9 L185.7 502.8 L185.0 505.0 L183.0 504.7 L181.7 503.3 L180.0 502.5 L179.0 504.9 L177.8 507.3 L177.3 509.8 L177.5 512.5 L175.0 512.9 L172.3 511.7 L170.1 514.2 L167.3 512.4 L165.0 514.0 M202.5 469.0 L204.8 470.1 L206.0 472.3 L207.9 473.8 L210.1 475.0 L211.0 477.5 L213.3 478.6 L216.2 478.1 L217.9 480.6 L220.3 481.5 L223.3 480.7 L225.1 483.3 L227.5 484.0 L230.0 484.2 L232.4 485.3 L234.9 485.6 L237.5 484.6 L240.1 483.4 L242.5 485.0 L243.7 486.9 L246.4 487.3 L247.3 489.6 L249.0 491.0 L251.3 490.0 L253.7 489.3 L255.8 488.0 L257.5 486.0 L258.9 484.2 L261.5 483.5 L261.4 480.4 L264.4 480.0 L265.0 477.5 L267.5 477.3 L270.0 476.7 L272.3 475.3 L275.0 476.0 L277.0 477.7 L278.0 480.1 L279.0 482.5 L281.1 481.3 L283.6 482.6 L285.7 481.1 L288.0 481.1 L290.3 481.4 L292.5 481.0 L294.4 480.1 L296.6 479.9 L298.2 478.6 L300.0 477.5 L302.7 477.4 L305.1 478.3 L307.2 480.6 L310.0 480.0 L312.4 478.8 L314.9 478.4 L317.6 478.9 L320.1 478.3 L322.5 477.5 L325.0 478.1 L327.1 479.3 L329.0 481.0 L331.2 481.7 L333.5 480.3 L335.7 480.9 L337.9 480.8 L340.0 482.0 L341.8 483.4 L343.6 484.6 L346.1 484.1 L348.3 484.6 L350.0 486.0 M350.0 486.0 L351.9 484.4 L351.7 481.6 L353.0 479.7 L354.1 477.6 L356.0 476.0 L356.1 474.0 L356.4 472.0 L356.0 470.0 L355.7 467.5 L357.7 466.0 L359.6 464.5 L358.4 461.7 L360.0 460.0 L362.6 459.7 L364.4 458.1 L365.4 455.3 L368.0 455.0 L369.3 453.0 L371.1 451.8 L372.8 450.4 L375.1 450.1 L377.0 449.0 L378.6 447.1 L380.0 445.0 L381.9 443.4 L384.0 442.0 L385.3 439.8 L386.5 437.6 L387.0 435.0 L385.4 433.2 L383.6 431.9 L380.9 432.2 L379.3 430.4 L376.9 430.1 L375.0 429.0 L374.1 427.1 L374.1 425.1 L374.6 423.0 L374.0 421.0 L376.1 421.0 L378.0 420.0 L380.7 419.3 L383.0 420.9 L385.4 422.1 L388.0 422.0 L390.6 422.6 L392.7 420.5 L395.2 421.0 L397.6 420.4 L400.0 420.0 L401.3 418.1 L402.0 416.0 M402.0 416.0 L404.0 418.0 L406.1 417.7 L408.0 418.3 L410.1 417.8 L412.0 419.0 L414.3 418.6 L416.0 417.1 L418.0 416.0 L418.0 412.0 L417.8 409.9 L418.0 407.9 L419.5 406.1 L419.0 404.0 M429.0 329.0 L429.3 331.3 L429.9 333.6 L430.7 335.7 L430.7 338.1 L432.5 340.0 L434.9 340.6 L434.6 343.9 L436.7 344.8 L438.9 345.6 L440.0 347.5 L438.3 349.1 L436.1 349.8 L433.5 349.6 L432.4 352.3 L430.0 352.5 L430.8 354.3 L431.4 356.2 L431.8 358.1 L432.5 360.0 L434.3 361.5 L436.1 362.9 L437.6 364.6 L439.5 366.0 L441.2 367.5 L443.3 368.6 L444.1 371.2 L446.0 372.5 L443.3 371.9 L441.0 372.7 L438.9 373.9 L436.7 374.7 L434.2 374.8 L432.6 377.8 L430.0 377.5 L428.3 379.3 L426.2 380.6 L423.5 381.0 L422.0 383.3 L420.4 385.2 L417.9 385.9 L416.0 387.5 L416.0 389.8 L417.0 391.9 L418.0 394.0 L418.0 396.3 L417.3 398.7 L418.6 400.8 L419.0 403.0 M419.0 403.0 L421.2 403.2 L423.4 402.8 L425.6 401.7 L427.8 401.8 L430.0 403.0 L432.4 403.5 L434.6 404.4 L435.7 407.0 L437.8 408.1 L440.0 409.0 L442.2 408.8 L443.9 407.1 L446.3 407.3 L447.8 405.4 L450.0 405.0 L452.5 404.5 L455.0 404.8 L457.5 404.4 L460.0 404.0 L462.7 404.8 L464.9 402.8 L467.6 403.8 L470.0 402.5 L472.1 401.6 L474.6 401.6 L476.6 400.6 L478.5 399.5 L480.0 397.5 L481.5 399.7 L483.5 401.2 L486.2 401.7 L487.3 404.5 L490.0 405.0 L492.2 404.4 L494.4 403.9 L496.2 402.1 L498.5 401.8 L500.3 400.0 L503.3 401.9 L505.0 400.0 L506.3 398.2 L506.4 396.0 L507.7 394.2 L507.2 391.7 L508.8 390.0 L510.9 389.0 L511.6 386.6 L514.2 386.1 L515.0 383.8 L516.9 382.3 L518.7 380.8 L521.0 380.0 M529.0 352.5 L530.0 356.0 L529.1 358.2 L526.7 359.0 L526.0 361.4 L524.0 362.5 L524.1 364.3 L522.7 365.7 L522.5 367.5 L523.1 369.5 L523.9 371.4 L526.1 372.7 L526.0 375.0 L525.4 377.0 L524.1 378.6 L522.5 380.0 L521.0 381.0 M521.0 380.0 L520.5 382.5 L521.7 385.0 L521.0 387.5 L520.8 389.8 L522.8 391.1 L522.9 393.3 L524.0 395.0 L524.5 397.5 L525.0 400.0 L523.2 401.5 L521.8 403.5 L520.0 405.0 L518.5 406.1 L516.9 407.2 L515.0 407.5 L513.6 409.6 L512.7 412.1 L509.4 412.6 L508.8 415.3 L507.5 417.5 L504.9 417.5 L502.6 418.9 L499.9 418.5 L497.7 420.6 L495.0 420.0 L494.0 422.0 L491.5 422.5 L489.8 423.8 L488.5 425.5 L487.5 427.5 L485.9 425.9 L483.8 426.1 L481.7 426.0 L480.0 425.0 L480.0 427.5 L478.6 429.3 L477.4 431.2 L476.7 433.3 L475.0 435.0 L474.8 437.6 L477.8 438.6 L477.7 441.1 L480.0 442.5 L480.0 445.0 L482.5 445.5 L485.1 446.0 L487.2 447.9 L489.8 448.4 L492.5 448.0 L494.2 450.1 L494.6 452.8 L496.1 455.0 L495.8 457.9 L497.5 460.0 L497.4 462.9 L500.0 464.6 L501.8 466.6 L501.1 469.8 L502.5 472.0 M418.0 416.0 L419.1 417.8 L419.7 420.1 L422.0 421.1 L423.8 422.5 L424.0 425.0 L426.3 425.4 L426.9 428.4 L429.1 428.9 L431.0 430.0 L432.0 431.9 L432.9 433.8 L432.3 436.1 L434.4 437.7 L434.0 440.0 L435.5 441.5 L437.6 442.4 L439.1 443.9 L440.0 446.0 L439.5 448.3 L437.4 449.7 L436.5 451.7 L436.0 454.0 L433.6 454.6 L431.6 455.9 L429.7 457.2 L428.0 459.0 M428.0 459.0 L430.5 460.0 L432.8 459.1 L435.3 459.8 L437.6 457.6 L440.0 458.0 L442.5 457.2 L445.0 457.9 L447.5 458.1 L450.0 457.2 L452.5 457.6 L455.0 457.5 L455.6 460.0 L455.9 462.7 L456.8 465.1 L459.0 467.0 L461.3 467.2 L463.5 466.1 L465.9 467.9 L468.1 466.5 L470.4 466.1 L472.7 466.4 L475.0 466.0 L475.0 463.4 L476.5 461.4 L477.3 459.1 L477.8 456.7 L480.0 455.0 L482.8 454.1 L485.0 456.0 L487.2 457.8 L489.9 457.5 L492.5 457.5 L493.4 460.0 L494.5 462.2 L496.6 463.9 L497.0 466.6 L499.4 468.0 L500.8 470.1 L502.5 472.0 L505.0 472.7 L506.1 475.4 L508.6 476.1 L510.7 477.3 L512.5 479.0 M428.0 459.0 L425.8 460.1 L424.7 462.2 L422.6 463.5 L422.0 466.0 L421.9 468.1 L421.5 470.1 L420.5 472.0 L420.0 474.0 L418.5 475.9 L417.6 478.2 L416.0 480.0 L415.0 482.3 L413.7 484.5 L413.0 487.0 L410.4 486.3 L408.2 486.9 L406.4 488.7 L404.5 490.3 L401.8 489.1 L400.0 491.0 L399.0 492.7 L398.1 494.6 L396.8 496.1 L396.0 498.0 L395.0 499.7 L393.5 500.9 L392.0 502.0 L393.0 504.2 L393.6 506.5 L393.9 508.8 L392.5 511.1 L391.4 513.5 L392.4 515.7 L393.0 518.0 L395.2 519.4 L397.4 520.6 L400.0 521.0 L397.9 521.9 L395.6 522.3 L394.0 524.0 L392.6 522.6 L391.2 521.3 L389.1 520.7 L388.0 519.0 L385.6 518.9 L383.3 519.8 L381.0 520.0 L382.0 521.9 L382.0 524.2 L382.5 526.3 L384.0 528.0 L385.5 530.2 L386.0 532.6 L386.0 535.1 L385.2 537.7 L386.0 540.0 L385.0 542.5 L385.7 545.0 L386.8 547.5 L386.0 550.0 L383.9 550.4 L382.0 551.2 L381.2 553.7 L379.0 554.0 M350.0 486.0 L348.2 487.8 L347.0 490.0 L348.0 492.3 L348.1 494.7 L348.4 497.1 L347.6 499.6 L348.0 502.0 L348.0 504.1 L349.9 505.8 L349.4 508.0 L350.0 510.0 L348.0 511.5 L349.2 514.3 L346.5 515.5 L346.1 517.7 L346.0 520.0 L348.1 521.5 L349.2 523.7 L350.0 526.0 L351.8 527.1 L353.1 528.5 L353.8 530.4 L355.0 532.0 L353.6 533.6 L352.4 535.4 L350.8 536.8 L349.0 538.0 L347.4 539.8 L345.9 541.6 L344.7 543.6 L344.0 546.0 L343.4 548.1 L344.7 550.0 L344.3 552.1 L345.0 554.0 M187.0 625.0 L189.1 626.5 L192.0 626.1 L194.0 628.0 L196.3 626.9 L198.1 625.1 L200.5 624.1 L202.0 622.0 L201.1 619.7 L201.1 617.2 L200.1 614.9 L201.3 612.2 L200.0 610.0 L201.7 608.2 L203.4 606.5 L204.0 604.0 L206.1 603.3 L208.2 602.4 L210.3 601.7 L212.4 600.8 L214.3 599.6 L216.0 598.0 L218.0 596.0 L220.5 595.9 L223.3 596.9 L225.5 595.9 L227.7 594.9 L230.0 594.0 L229.5 591.3 L231.4 589.1 L230.9 586.4 L232.0 584.0 L234.2 582.6 L236.6 584.2 L238.8 582.8 L241.1 582.8 L243.3 582.0 L245.7 582.3 L248.0 583.0 L248.1 581.1 L248.9 579.5 L250.0 578.0 L252.8 577.5 L254.4 575.5 L255.9 573.4 L258.0 572.0 L259.1 569.9 L261.6 569.2 L262.9 567.3 L263.6 564.8 L266.0 564.0 L268.3 562.8 L271.1 562.5 L272.3 559.4 L275.0 559.0 L277.1 558.7 L279.0 558.0 M279.0 558.0 L280.0 555.8 L280.7 553.5 L283.6 552.5 L284.0 550.0 L285.3 547.6 L285.6 545.1 L285.2 542.5 L285.0 540.0 L287.4 539.3 L289.3 537.6 L291.7 536.8 L294.0 536.0 L294.8 533.7 L294.0 531.2 L295.2 529.0 L295.1 526.6 L294.9 524.2 L296.0 522.0 L298.5 522.6 L300.4 524.7 L302.7 525.7 L305.2 526.4 L308.1 525.9 L310.0 528.0 L312.4 527.3 L314.1 528.8 L315.6 531.0 L317.8 531.2 L320.0 531.0 L322.6 531.3 L325.1 531.1 L327.4 529.6 L330.0 530.0 L331.3 532.0 L333.0 533.7 L334.0 536.0 L335.4 538.3 L333.3 540.9 L335.8 543.1 L334.6 545.6 L335.0 548.0 L336.3 549.9 L338.3 550.8 L339.8 552.3 L342.0 553.0 L345.0 554.0 M345.0 554.0 L347.0 554.9 L347.9 557.3 L350.0 558.0 L352.5 558.6 L354.2 560.4 L356.0 562.0 L356.0 564.5 L357.6 566.2 L359.1 568.0 L360.0 570.0 L362.3 570.9 L364.4 572.1 L366.0 574.0 M366.0 574.0 L367.8 573.2 L369.0 571.6 L370.0 570.0 L371.6 567.7 L371.7 565.1 L370.2 562.2 L372.0 560.0 L373.6 558.4 L375.0 556.4 L377.3 555.6 L379.0 554.0 M379.0 554.0 L380.9 554.7 L383.0 555.1 L384.3 557.0 L386.0 558.0 L387.8 559.2 L389.9 559.7 L392.0 560.0 L394.1 559.8 L396.0 558.9 L397.9 558.1 L400.0 558.0 L402.0 556.5 L404.5 557.2 L406.6 555.8 L409.0 556.0 L410.2 554.3 L411.9 552.9 L413.4 551.5 L413.0 548.6 L415.0 547.5 L416.9 545.7 L419.7 546.3 L421.3 543.7 L424.0 544.0 L425.0 546.0 L426.6 547.4 L428.8 548.2 L430.0 550.0 L432.4 548.9 L435.0 549.1 L437.4 548.1 L440.0 549.0 L442.0 548.0 L443.2 546.1 L445.0 545.0 L446.8 543.8 L448.2 542.2 L450.0 541.0 M366.0 574.0 L367.6 575.7 L369.8 576.1 L371.7 577.1 L374.0 577.0 L371.8 578.2 L370.0 580.0 L369.2 582.6 L366.7 583.0 L365.5 585.1 L363.1 585.6 L362.0 587.8 L359.6 588.5 L358.0 590.0 L355.7 590.8 L353.0 589.8 L350.9 591.5 L348.3 590.9 L346.0 592.0 L343.9 592.7 L341.8 593.6 L339.5 594.0 L338.0 596.0 L337.1 598.1 L336.0 600.0 L334.3 601.7 L331.8 601.7 L329.7 602.3 L328.0 604.0 L326.0 604.6 L324.2 605.7 L321.9 605.3 L320.0 606.0 L319.0 607.5 L318.1 609.1 L318.0 611.0 L315.5 611.5 L314.0 613.5 L312.2 615.0 L310.0 616.0 L307.3 615.4 L305.1 616.5 L303.1 618.2 L300.3 617.4 L298.3 619.2 L296.0 620.0 L293.6 620.3 L292.3 622.6 L290.0 623.0 L288.0 622.3 L286.1 621.6 L284.1 620.9 L281.6 621.8 L280.0 620.0 L278.1 619.3 L276.0 619.0 M279.0 558.0 L279.1 560.5 L279.7 563.0 L277.1 565.1 L276.8 567.5 L276.5 570.0 L277.5 572.5 L277.5 574.9 L278.2 577.2 L279.5 579.3 L279.8 581.6 L280.0 584.0 L278.4 585.9 L278.0 588.6 L276.1 590.3 L275.0 592.5 L275.3 595.0 L275.8 597.5 L275.4 600.0 L274.3 602.5 L275.0 605.0 L273.0 606.3 L271.5 608.1 L270.0 610.0 L272.2 610.1 L274.3 610.6 L276.0 612.0 L276.3 614.3 L275.1 616.7 L276.0 619.0 M276.0 619.0 L273.9 620.2 L271.9 621.6 L270.6 624.1 L268.8 625.7 L266.0 626.0 L265.0 628.3 L266.7 630.6 L267.3 632.9 L265.4 635.2 L266.0 637.5 L264.4 639.2 L261.8 640.0 L261.2 642.9 L259.0 644.0 L260.6 646.0 L258.7 648.6 L260.5 650.5 L259.7 653.0 L261.0 655.0 L261.0 657.3 L262.2 659.2 L263.1 661.1 L263.8 663.2 L265.0 665.0 L265.4 667.5 L265.8 670.0 L265.0 672.5 L267.4 673.6 L270.2 672.2 L272.3 674.6 L275.0 674.0 L277.6 675.0 L279.9 672.9 L282.6 674.7 L285.1 673.8 L287.5 672.7 L290.0 672.5 L291.2 674.4 L293.4 675.6 L293.3 678.4 L295.0 680.0 L295.4 682.4 L296.8 684.2 L298.7 685.6 L300.0 687.5 L301.2 689.3 L303.0 690.3 L305.0 691.0 M260.0 727.5 L261.7 725.9 L262.8 723.7 L265.0 722.5 L267.3 720.9 L270.2 722.7 L272.6 721.5 L274.8 719.5 L277.5 720.0 L279.2 718.5 L278.7 716.0 L280.5 714.5 L281.0 712.5 L282.2 709.9 L279.5 707.6 L280.7 705.0 L281.3 702.4 L280.0 700.0 L282.5 700.1 L283.5 697.1 L286.0 697.0 L287.9 695.9 L290.0 695.0 L292.1 695.0 L294.1 695.3 L295.6 696.9 L297.5 697.5 L298.8 695.3 L300.9 693.8 L302.9 692.4 L305.0 691.0 M305.0 691.0 L307.2 689.3 L310.2 690.8 L312.7 690.0 L315.1 688.9 L317.3 687.4 L320.0 687.5 L322.5 688.0 L324.1 685.5 L326.5 685.7 L328.6 684.9 L331.1 685.2 L332.4 681.8 L335.0 682.5 L337.5 682.9 L339.7 681.8 L342.0 681.0 M215.0 697.5 L217.0 699.2 L219.2 700.6 L221.9 700.9 L224.0 702.5 L223.4 704.8 L223.4 707.1 L224.8 709.4 L223.6 711.7 L224.0 714.0 L226.2 714.8 L228.7 714.4 L230.8 715.4 L233.0 716.1 L235.0 717.5 L237.0 718.1 L239.1 718.5 L240.3 720.8 L242.5 721.0 L244.7 722.1 L245.0 725.0 L247.2 726.1 L249.0 727.5 L251.2 727.5 L253.4 727.5 L255.6 727.7 L257.8 727.6 L260.0 727.5 L261.9 728.9 L263.4 730.7 L262.8 733.7 L265.0 735.0 L262.8 736.1 L260.7 737.2 L259.0 739.0 L258.4 741.3 L260.4 743.4 L260.5 745.7 L259.1 748.0 L260.3 750.2 L260.0 752.5 L261.6 754.3 L264.5 754.5 L266.3 756.0 L268.1 757.4 L269.0 760.0 L269.8 762.5 L269.2 765.0 L268.2 767.6 L270.1 770.0 L269.0 772.6 L270.0 775.0 L270.4 777.2 L272.6 778.4 L273.5 780.3 L274.0 782.5 L273.2 784.6 L273.7 787.2 L272.4 789.1 L271.1 791.0 L270.5 793.2 L269.0 795.0 L269.3 797.5 L270.7 799.9 L269.0 802.5 L270.1 805.0 L270.0 807.5 M194.0 628.0 L195.1 630.3 L196.7 632.2 L198.4 634.0 L200.0 636.0 L198.4 637.7 L198.0 640.0 L197.6 642.3 L196.0 644.0 L194.7 645.8 L194.0 648.0 M527.5 334.5 L529.8 334.3 L531.5 336.2 L533.8 336.0 L535.7 335.1 L537.8 334.8 L540.0 335.0 L542.1 335.0 L544.0 334.6 L546.0 334.0 M571.0 346.5 L571.4 348.7 L569.6 350.6 L571.3 353.0 L570.0 355.0 L569.4 357.5 L569.9 360.0 L570.2 362.5 L569.2 365.0 L570.0 367.5 M570.0 381.0 L570.1 379.0 L571.1 377.1 L571.0 375.0 L572.2 373.2 L572.6 371.0 L574.4 369.6 L575.0 367.5 L577.7 368.3 L579.9 365.8 L582.4 365.7 L585.0 366.0 L586.8 367.8 L589.2 368.1 L590.9 370.1 L593.9 369.1 L595.2 371.7 L597.3 372.9 L600.0 372.5 L602.4 372.3 L604.6 371.7 L606.6 370.7 L608.3 369.2 L610.0 367.5 L611.6 366.0 L613.3 364.8 L615.9 365.4 L617.5 364.0 L619.9 365.0 L622.4 365.5 L625.1 363.9 L627.4 366.1 L630.0 365.0 L629.5 367.4 L628.2 369.2 L626.3 370.7 L625.0 372.5 L626.6 373.8 L628.9 373.2 L630.7 374.1 L632.5 375.0 L633.4 377.5 L635.6 378.9 L637.9 380.1 L639.0 382.5 L640.0 386.0 M625.0 338.0 L627.5 337.7 L630.0 338.3 L632.6 337.6 L634.9 339.5 L637.5 339.0 L640.1 337.9 L642.6 338.3 L644.9 340.8 L647.5 340.2 L650.0 340.0 L652.5 340.1 L654.7 339.2 L656.9 338.6 L658.8 336.5 L661.7 338.3 L663.8 336.8 L666.0 336.0 L666.8 333.4 L669.1 332.4 L671.3 331.2 L673.3 329.8 L674.9 328.1 L675.0 324.9 L677.5 324.0 L679.4 322.1 L681.7 321.6 L684.6 322.5 L686.3 320.3 L689.1 321.1 L691.3 320.0 L693.3 318.4 L695.3 316.9 L698.0 317.6 L700.0 316.0 L702.5 316.6 L704.4 314.2 L706.8 314.1 L709.1 313.8 L711.4 313.4 L714.0 314.5 L716.0 312.5 L715.2 315.1 L717.6 317.4 L715.9 320.1 L716.5 322.5 L718.0 324.9 L717.7 327.5 L717.5 330.0 L714.9 330.6 L714.0 333.3 L712.5 335.2 L710.0 336.0 M696.0 350.0 L693.6 350.4 L691.7 348.3 L689.1 349.6 L686.9 349.0 L684.9 346.9 L682.5 347.5 L680.0 348.4 L678.4 350.3 L677.0 352.7 L675.4 354.7 L672.5 355.0 L671.5 357.0 L669.6 358.7 L669.4 361.0 L668.5 363.1 L669.3 365.8 L667.5 367.5 L665.4 369.0 L664.1 371.3 L662.3 373.2 L660.1 374.4 L657.8 375.7 L656.0 377.5 L656.8 379.8 L657.3 382.1 L659.0 384.0 L660.6 382.2 L662.2 380.5 L663.9 378.8 L666.0 377.5 M666.0 377.5 L668.7 377.8 L671.2 377.4 L673.9 377.6 L676.5 377.4 L679.1 377.2 L681.2 373.9 L684.0 375.0 M659.0 384.0 L656.0 385.0 L654.0 386.6 L654.6 389.4 L654.2 391.8 L653.1 393.8 L651.6 395.7 L650.0 397.5 L649.6 399.9 L649.3 402.3 L647.4 404.4 L647.2 406.8 L647.4 409.4 L645.4 411.4 L646.0 414.0 M646.0 414.0 L647.9 414.7 L650.1 414.8 L652.0 415.3 L654.0 416.0 L655.3 417.9 L656.0 420.0 M630.0 413.0 L631.9 412.1 L634.1 412.5 L636.0 411.6 L638.0 411.0 L640.1 411.5 L642.1 412.3 L644.2 412.7 L646.0 414.0 M626.0 408.0 L625.9 410.5 L628.1 412.6 L627.7 415.2 L628.6 417.5 L627.1 420.4 L629.0 422.5" fill="none" stroke="#7e7e7e" stroke-width="1.8" stroke-linejoin="round" stroke-linecap="round"/>
<path d="M157.5 84.0 L158.1 82.2 L158.7 80.4 L160.0 79.0 L162.4 78.1 L163.9 75.5 L166.8 75.3 L169.0 74.0 L169.2 71.9 L169.1 69.8 L170.5 68.0 L171.0 66.0 L173.2 64.4 L175.6 65.3 L177.9 64.0 L180.2 63.8 L182.6 64.5 L185.0 64.5 L186.9 63.9 L188.0 62.0 L190.0 61.5 L191.8 60.2 L194.1 60.3 L196.3 60.2 L198.0 58.5 L200.0 58.2 L201.9 57.3 L204.2 58.0 L206.0 56.5 L208.5 56.6 L210.1 58.8 L212.5 59.0 L214.5 57.8 L216.5 56.7 L218.6 55.9 L221.0 56.0 L222.6 57.5 L223.3 59.7 L225.0 61.0 L227.7 61.5 L229.3 63.8 L231.4 65.3 L234.0 65.9 L236.0 67.5 L237.7 69.1 L240.4 69.5 L242.2 71.0 L243.8 72.8 L245.0 75.0 L246.8 76.7 L249.3 77.3 L251.5 78.3 L253.2 80.2 L255.5 81.1 L257.5 82.5 L259.1 84.1 L259.4 86.6 L260.9 88.4 L262.5 90.0 L264.9 90.5 L266.4 92.6 L268.5 93.7 L269.9 95.8 L272.5 96.0 L273.0 97.8 L274.4 99.2 L275.0 101.0 L277.7 102.1 L279.8 99.2 L282.5 99.8 L285.1 100.4 L287.4 98.3 L290.0 99.0 L292.0 97.8 L293.3 95.5 L296.3 96.0 L298.4 95.1 L300.1 93.5 L302.6 93.1 L304.0 91.0 L306.5 90.5 L309.0 91.5 L311.5 91.2 L314.0 91.0 L315.8 89.3 L317.5 87.5 L320.0 88.0 L322.3 89.7 L324.7 90.5 L327.5 89.8 L329.9 90.9 L332.5 91.0 L335.1 91.6 L335.5 94.6 L337.3 96.1 L338.3 98.5 L341.0 99.0 L340.0 101.2 L341.6 103.5 L341.3 105.8 L340.5 108.0 L342.4 110.2 L341.0 112.5 L340.1 114.8 L339.9 117.5 L339.1 119.9 L338.2 122.2 L336.0 124.0 L333.6 125.1 L333.1 128.2 L331.0 129.6 L328.9 130.9 L326.1 131.5 L325.0 134.0 L324.9 136.6 L323.1 138.3 L321.9 140.3 L321.0 142.5 L318.7 142.2 L316.7 143.1 L314.7 143.7 L313.2 145.9 L311.0 146.0 L311.9 147.9 L312.8 149.9 L312.5 152.3 L314.0 154.0 L312.1 155.2 L311.8 157.7 L310.0 159.0 L312.4 159.3 L314.1 160.7 L315.9 161.8 L317.4 163.6 L319.0 165.1 L321.0 166.0 L321.5 168.0 L322.0 170.0 L321.2 172.0 L321.0 174.0 L322.4 176.0 L323.1 178.3 L323.4 180.9 L325.5 182.5 L323.8 184.1 L322.5 186.0 L320.6 187.0 L318.5 187.9 L316.5 188.8 L315.5 191.5 L312.3 190.4 L311.0 192.5 L310.2 190.5 L309.1 188.8 L307.8 187.2 L306.0 186.0 L304.1 187.5 L302.1 188.8 L300.0 190.0 L302.1 191.6 L301.6 194.3 L304.2 195.7 L305.2 197.8 L305.8 200.0 L306.0 202.5 L307.0 205.0 L306.5 207.5 L307.3 210.0 L307.5 212.5 L306.0 215.0 L307.7 216.5 L308.8 218.3 L309.3 220.5 L310.0 222.5 L310.7 220.3 L313.2 219.6 L314.0 217.5 L314.9 219.6 L317.2 220.8 L318.1 222.9 L319.1 224.9 L320.2 226.9 L321.0 229.0 L323.6 228.5 L325.4 231.2 L327.6 232.2 L330.4 231.2 L332.7 231.9 L335.0 232.5 L337.3 233.7 L338.8 235.6 L339.8 237.9 L341.0 240.0 L343.5 240.6 L344.7 243.3 L347.8 242.8 L350.2 243.7 L350.9 247.3 L353.6 247.4 L356.3 247.6 L357.8 249.9 L360.0 251.0 L359.2 252.8 L357.3 253.6 L356.0 255.0 L353.4 255.8 L352.0 257.9 L350.8 260.0 L350.3 262.6 L348.4 264.2 L347.3 266.4 L345.0 267.5 L343.6 269.8 L343.7 272.5 L342.4 274.8 L343.1 277.6 L342.0 280.0 L341.5 282.6 L339.0 284.1 L337.5 286.2 L337.5 289.0 L339.0 290.9 L341.1 291.8 L343.1 292.8 L345.2 293.6 L347.5 294.0 L350.1 294.6 L351.9 296.7 L354.4 297.6 L357.1 298.1 L359.3 299.5 L361.2 301.4 L363.4 302.7 L365.0 305.2 L367.5 306.0 L368.8 308.5 L371.8 308.5 L373.0 311.1 L375.0 312.6 L377.2 313.8 L380.0 314.0 L382.3 314.4 L384.6 314.7 L386.8 315.5 L389.0 316.1 L391.2 316.9 L393.0 318.9 L394.9 320.4 L397.5 320.0 L399.4 321.7 L401.9 321.4 L403.9 322.7 L406.0 323.9 L408.8 322.6 L410.5 325.0 L412.4 326.4 L415.0 326.0 L417.2 327.3 L419.5 327.7 L422.0 327.4 L424.5 327.1 L426.5 329.3 L429.0 329.0 L430.8 327.4 L433.3 326.8 L435.0 325.0 L435.9 327.5 L438.8 327.6 L440.5 329.1 L441.3 331.8 L443.5 332.7 L446.3 332.8 L447.5 335.0 L450.2 335.6 L452.3 337.2 L453.0 340.5 L455.3 341.7 L458.5 341.6 L460.0 344.0 L462.5 345.0 L465.0 345.4 L467.5 344.5 L470.0 343.6 L472.5 344.0 L474.6 345.0 L477.2 344.7 L479.5 345.2 L480.5 348.7 L483.0 348.7 L485.3 349.2 L487.5 350.0 L490.0 351.3 L492.5 349.8 L495.0 351.1 L497.5 351.0 L500.0 349.1 L502.5 350.0 L504.7 350.8 L506.5 352.1 L508.5 353.2 L510.0 355.0 L512.5 354.8 L514.9 353.9 L517.5 354.0 L520.0 353.2 L522.3 351.9 L525.0 352.0 L526.9 352.7 L529.0 352.5 L530.5 349.0 L529.9 346.7 L529.8 344.3 L529.5 342.0 L529.0 340.0 L528.8 337.8 L527.5 336.0 L527.3 333.8 L528.7 331.6 L527.5 329.4 L527.6 327.2 L527.5 325.0 L528.4 322.9 L528.4 320.5 L530.0 318.8 L529.5 316.9 L528.7 315.0 L528.8 313.0 L530.2 311.5 L532.4 311.7 L534.0 310.5 L535.9 309.4 L538.0 309.3 L540.0 308.8 L542.0 309.7 L544.1 310.1 L546.2 310.6 L546.9 312.3 L547.1 314.2 L547.5 316.0 L546.9 318.2 L545.9 320.4 L547.0 322.9 L545.6 325.0 L546.3 326.7 L547.5 328.2 L548.0 330.0 L547.2 332.1 L546.0 334.0 L546.6 335.8 L547.8 337.2 L548.8 338.8 L550.8 340.3 L552.6 342.0 L555.0 343.0 L557.6 343.0 L560.0 342.0 L561.9 342.6 L563.7 343.7 L565.6 344.3 L567.5 345.0 L571.0 346.5 L573.3 345.5 L575.7 345.0 L577.7 343.4 L580.0 342.5 L582.5 342.9 L585.0 343.1 L587.3 344.8 L589.9 344.3 L592.4 345.2 L594.8 345.7 L597.6 344.0 L600.0 345.0 L602.5 344.9 L605.2 345.7 L607.6 345.1 L609.9 342.7 L612.4 342.3 L615.0 343.0 L617.3 341.5 L620.0 342.5 L622.3 341.2 L624.7 340.1 L627.6 341.1 L630.0 340.0 L627.6 339.1 L625.0 339.0 L625.7 336.6 L623.7 334.6 L624.8 332.2 L624.0 330.0 L622.6 328.5 L620.3 328.1 L619.6 325.6 L617.5 325.0 L615.5 323.9 L613.1 324.8 L611.0 324.0 L611.9 322.0 L610.8 320.0 L611.0 318.0 L611.0 316.0 L613.0 317.8 L615.4 317.8 L618.1 316.2 L620.2 317.4 L622.5 318.0 L624.7 317.0 L626.6 315.6 L628.5 314.2 L630.8 313.5 L633.5 313.6 L634.7 310.7 L637.5 311.0 L639.2 309.3 L640.6 307.4 L641.5 304.9 L644.0 304.0 L646.1 303.3 L648.3 303.5 L650.4 302.9 L652.5 302.5 L652.5 300.2 L655.2 299.2 L655.7 297.1 L656.0 295.0 L658.6 295.6 L659.9 292.4 L662.2 292.2 L664.1 290.8 L667.0 292.2 L668.6 290.1 L671.0 290.0 L671.3 287.7 L672.8 286.2 L674.8 284.8 L675.0 282.5 L677.6 281.8 L678.6 278.9 L680.4 277.2 L683.8 277.5 L685.0 275.0 L686.8 276.4 L688.5 277.9 L691.2 277.9 L692.5 280.0 L695.3 279.5 L697.4 281.7 L700.0 281.7 L702.5 282.5 L703.7 280.0 L707.0 280.1 L708.4 277.9 L710.0 276.0 L712.5 275.8 L714.1 273.3 L717.1 274.2 L719.0 272.5 L721.0 273.6 L720.9 276.2 L722.8 277.3 L724.0 279.0 L725.4 280.5 L726.3 282.4 L727.5 284.0 L730.0 282.5 L729.5 285.1 L731.1 287.4 L731.0 290.0 L730.8 292.6 L728.5 294.0 L728.1 296.4 L727.2 298.6 L725.0 300.0 L727.2 299.0 L729.4 298.7 L731.6 299.1 L733.8 299.5 L736.0 300.0 L738.5 300.2 L740.3 302.3 L743.1 301.8 L745.2 303.2 L747.5 304.0 L749.1 305.4 L750.0 307.2 L751.0 309.0 L751.4 311.1 L750.7 313.1 L750.0 315.0 L748.8 317.0 L746.4 317.4 L745.0 319.0 L743.6 321.1 L743.2 323.7 L741.3 325.4 L740.0 327.5 L740.3 330.2 L743.4 331.2 L743.0 334.3 L745.0 336.0 L743.1 335.0 L741.4 333.6 L740.1 331.6 L737.6 331.5 L736.0 330.0 L733.8 330.0 L731.5 329.4 L729.2 328.6 L727.0 330.5 L724.8 329.0 L722.5 330.0 L720.1 330.4 L718.2 331.6 L716.4 333.3 L714.4 334.4 L712.7 336.2 L710.0 336.0 L709.1 338.5 L707.6 340.2 L704.5 340.5 L703.9 343.2 L702.4 345.0 L700.0 346.0 L699.1 347.8 L697.0 348.3 L696.0 350.0 L695.0 352.5 L695.6 355.0 L696.6 357.5 L696.0 360.0 L696.4 362.6 L695.8 365.1 L694.9 367.5 L695.4 370.2 L694.0 372.5 L691.5 373.3 L689.2 374.4 L686.2 373.2 L684.0 375.0 L683.5 377.8 L685.5 379.7 L687.2 381.7 L686.0 384.8 L688.7 386.5 L689.0 389.0 L688.3 391.3 L688.1 393.8 L686.3 395.5 L685.0 397.5 L684.0 399.7 L682.8 401.8 L682.6 404.3 L680.7 406.1 L681.0 408.9 L679.2 410.7 L677.5 412.5 L677.5 415.0 L676.0 416.8 L675.9 419.3 L674.0 421.0 L671.4 421.5 L669.4 420.2 L667.1 419.8 L665.0 418.5 L662.8 417.9 L660.5 417.7 L658.3 416.8 L656.0 417.0 L655.7 419.0 L655.6 421.0 L655.2 423.0 L656.0 425.0 L655.7 427.6 L655.3 430.1 L652.8 432.2 L654.7 435.2 L652.4 437.3 L652.5 440.0 L651.8 442.4 L653.4 444.9 L650.7 447.1 L650.3 449.5 L650.9 452.0 L650.3 454.3 L649.8 456.7 L651.6 459.3 L650.2 461.6 L650.0 464.0 L648.5 465.5 L646.5 466.5 L645.0 468.0 L644.0 470.0 L643.0 468.3 L641.4 467.2 L640.0 466.0 L637.7 467.1 L636.0 469.0 L636.5 466.7 L636.6 464.3 L635.2 462.0 L634.6 459.7 L634.9 457.3 L636.0 455.0 L634.8 453.1 L633.2 451.3 L634.4 448.4 L632.8 446.6 L632.2 444.4 L631.0 442.5 L631.2 440.0 L631.3 437.5 L630.5 435.0 L628.9 432.6 L631.2 429.9 L630.9 427.5 L630.0 425.0 L630.0 422.5 L628.5 424.5 L626.9 426.4 L625.1 428.2 L625.0 431.3 L622.5 432.5 L620.8 434.1 L620.5 436.6 L619.6 438.7 L617.5 440.0 L615.9 441.5 L613.5 441.6 L612.2 443.6 L610.0 444.0 L609.9 441.6 L609.9 439.2 L608.1 437.3 L607.5 435.0 L606.2 433.2 L605.4 431.0 L605.0 428.8 L604.2 426.7 L602.5 425.0 L603.4 423.2 L604.0 421.3 L603.6 419.1 L605.0 417.5 L607.0 416.0 L609.3 415.7 L611.9 416.2 L614.0 415.0 L614.9 413.2 L616.4 411.7 L617.5 410.0 L618.8 407.5 L621.0 406.4 L623.4 405.7 L626.1 405.4 L628.2 404.2 L630.0 402.5 L629.7 400.5 L628.3 398.9 L628.2 396.9 L627.5 395.0 L629.4 394.3 L631.2 393.7 L632.9 392.4 L635.0 392.5 L637.0 391.1 L636.9 388.4 L639.7 387.5 L640.0 385.0 L637.5 387.5 L635.1 386.1 L632.4 388.7 L630.0 387.3 L627.5 386.1 L625.0 387.0 L622.5 385.6 L620.0 387.3 L617.5 387.8 L615.0 388.1 L612.5 385.9 L610.0 388.2 L607.5 387.1 L605.0 388.5 L602.5 387.4 L600.0 387.5 L597.6 385.9 L594.9 388.2 L592.6 385.9 L590.0 386.6 L587.6 385.3 L585.1 385.6 L582.5 386.0 L580.1 385.9 L578.8 383.2 L576.2 383.5 L573.6 384.0 L571.5 383.2 L570.0 381.0 L570.0 378.8 L569.9 376.5 L569.4 374.2 L568.9 372.0 L569.5 369.8 L570.0 367.5 L568.9 365.5 L568.9 362.9 L567.5 361.0 L565.9 363.2 L562.9 363.2 L561.0 365.0 L560.4 362.6 L557.3 362.1 L557.8 358.8 L555.9 357.4 L554.0 356.0 L551.7 355.8 L549.7 357.4 L547.5 357.5 L545.3 356.8 L543.4 355.8 L542.1 353.2 L539.6 353.3 L537.5 352.5 L536.1 354.6 L534.4 356.4 L533.1 358.5 L531.0 360.0 L531.7 362.7 L531.0 365.2 L528.6 367.3 L529.0 370.0 L530.3 371.7 L529.9 374.1 L532.1 375.4 L532.5 377.5 L534.9 377.2 L537.0 378.4 L539.4 377.8 L541.6 378.8 L543.5 380.9 L546.0 380.0 L546.5 382.0 L547.6 383.6 L549.0 385.0 L546.7 384.8 L544.3 384.2 L542.0 384.3 L539.8 385.7 L537.5 386.0 L536.3 388.0 L536.6 390.6 L535.0 392.5 L532.9 392.9 L531.3 394.3 L529.1 394.6 L527.5 396.0 L528.1 398.3 L529.5 400.2 L530.0 402.5 L532.8 402.9 L533.2 406.5 L536.7 406.1 L538.1 408.4 L540.0 410.0 L540.9 412.4 L541.4 414.9 L540.5 417.6 L540.3 420.2 L542.8 422.4 L542.5 425.0 L542.8 427.3 L544.5 429.2 L544.4 431.7 L545.6 433.7 L546.0 436.0 L547.7 437.0 L549.0 438.3 L550.0 440.0 L550.9 442.5 L548.8 445.0 L550.0 447.5 L550.8 450.0 L548.8 452.5 L550.0 455.0 L548.8 457.7 L550.7 460.0 L551.9 462.4 L552.0 464.9 L552.6 467.4 L552.1 469.9 L553.2 472.4 L553.0 474.9 L552.5 477.5 L550.1 478.6 L547.5 478.1 L544.8 477.6 L542.4 478.4 L540.0 479.8 L537.5 480.0 L535.3 479.2 L533.3 477.9 L531.0 477.3 L529.0 476.0 L528.3 474.4 L527.4 472.8 L527.5 471.0 L525.8 472.6 L522.9 471.8 L522.0 475.0 L519.5 475.0 L517.5 476.0 L515.3 476.3 L513.0 476.3 L511.5 478.8 L509.4 479.3 L507.3 480.1 L505.0 480.0 L503.7 482.2 L502.1 484.1 L499.4 485.2 L498.2 487.4 L497.5 490.0 L497.8 492.7 L501.2 493.4 L502.5 495.5 L502.0 498.7 L502.7 501.0 L505.0 502.5 L503.1 503.2 L501.2 503.6 L499.7 505.3 L497.5 505.0 L496.5 507.0 L493.9 507.9 L492.9 509.9 L491.6 511.7 L490.1 513.4 L490.0 516.0 L488.6 517.7 L487.1 519.2 L485.0 520.0 L483.2 521.8 L480.7 521.7 L478.4 522.1 L475.9 522.2 L474.0 523.7 L472.0 524.7 L470.0 526.0 L467.5 526.3 L465.7 528.1 L463.3 528.9 L461.8 531.3 L459.0 531.0 L456.8 532.4 L456.6 535.3 L453.5 536.0 L452.7 538.4 L452.0 540.9 L450.0 542.5 L449.2 544.7 L447.5 546.0 L445.2 546.7 L443.6 548.1 L442.5 550.0 L441.7 552.5 L440.1 554.2 L437.4 554.9 L435.7 556.5 L434.4 558.6 L432.5 560.0 L431.0 562.2 L428.3 562.8 L427.4 565.7 L424.9 566.5 L422.5 567.5 L420.7 569.2 L417.9 569.6 L416.6 571.9 L414.3 572.9 L413.2 575.4 L411.8 577.5 L409.9 579.0 L407.5 580.0 L404.8 580.5 L403.5 582.7 L402.5 585.1 L401.3 587.4 L398.6 587.9 L396.4 589.0 L395.0 591.0 L393.9 593.4 L393.1 595.8 L390.9 597.5 L390.0 600.0 L387.4 600.6 L386.9 603.7 L385.5 605.7 L383.1 606.6 L381.0 607.8 L378.9 608.8 L376.4 608.8 L374.7 610.9 L371.9 610.0 L370.0 611.6 L367.8 612.5 L366.2 614.3 L364.8 616.2 L362.5 617.0 L360.4 618.8 L360.3 621.7 L358.8 623.8 L356.4 623.1 L354.5 625.2 L352.3 625.5 L349.9 624.2 L347.9 625.9 L345.6 625.6 L343.4 626.9 L342.5 629.2 L341.0 631.0 L341.0 633.6 L340.2 636.0 L339.0 638.3 L338.0 640.6 L337.8 643.0 L337.4 645.4 L339.6 647.6 L339.0 650.0 L339.8 652.3 L340.7 654.6 L339.3 657.3 L341.0 659.4 L341.6 661.8 L341.6 664.2 L341.3 666.5 L340.0 668.8 L340.7 670.9 L339.6 673.5 L340.1 675.7 L340.9 677.9 L342.0 680.0 L340.7 682.3 L341.1 684.5 L343.0 686.6 L343.5 688.7 L342.8 691.0 L341.4 692.8 L341.0 695.0 L339.5 696.8 L340.6 699.7 L338.0 701.1 L338.0 703.5 L337.2 705.6 L336.0 707.5 L335.6 709.8 L335.3 712.0 L334.9 714.3 L333.3 716.1 L332.2 718.1 L331.0 720.0 L329.5 722.4 L331.8 725.1 L329.1 727.4 L331.2 730.1 L330.6 732.5 L330.0 735.0 L329.8 737.7 L330.4 740.2 L332.1 742.5 L332.5 745.0 L333.9 747.5 L332.6 750.0 L332.9 752.5 L331.2 755.0 L332.5 757.5 L330.2 758.9 L327.6 759.1 L324.7 758.3 L322.5 760.0 L321.9 762.4 L319.7 763.2 L317.4 763.9 L316.0 765.5 L315.0 767.5 L315.6 770.3 L315.0 772.8 L314.3 775.3 L312.5 777.5 L313.4 779.9 L316.4 780.0 L317.1 782.5 L318.5 784.4 L321.0 785.0 L318.7 785.0 L316.5 784.7 L314.7 782.2 L312.3 782.7 L310.0 782.5 L308.3 784.1 L305.7 783.9 L304.2 786.0 L302.3 787.1 L300.0 787.5 L299.5 790.0 L296.5 790.0 L294.7 791.2 L293.7 793.2 L292.5 795.0 L290.2 796.1 L291.0 799.4 L289.2 800.8 L287.4 802.2 L286.0 804.0 L283.4 804.9 L281.7 806.7 L281.0 809.5 L279.0 811.0 L276.8 811.1 L274.6 810.5 L272.5 810.0 L270.3 808.7 L268.6 806.6 L266.0 806.0 L264.0 804.7 L264.4 801.8 L263.1 800.1 L262.2 798.1 L260.9 796.4 L259.0 795.0 L258.2 792.8 L256.4 791.1 L255.3 789.0 L254.3 786.9 L254.3 784.2 L252.5 782.5 L250.5 780.9 L250.0 778.7 L250.7 776.0 L248.5 774.4 L247.1 772.6 L247.5 770.0 L245.3 768.1 L246.0 765.3 L244.5 763.2 L245.5 760.2 L244.4 757.9 L242.5 756.0 L243.2 753.3 L240.4 751.6 L239.2 749.5 L238.5 747.2 L238.9 744.6 L238.8 742.1 L237.5 740.0 L236.3 737.9 L234.6 736.1 L234.1 733.7 L233.5 731.3 L232.6 729.1 L231.7 726.8 L230.0 725.0 L229.9 722.4 L228.3 720.5 L225.8 719.1 L226.6 716.0 L224.1 714.6 L223.8 712.1 L222.5 710.0 L221.1 708.2 L221.0 705.7 L218.5 704.4 L217.5 702.4 L216.4 700.4 L216.0 698.0 L214.2 696.1 L215.4 693.0 L213.6 691.1 L212.1 689.0 L211.4 686.7 L212.2 683.8 L210.0 682.0 L209.3 679.7 L207.7 677.8 L208.6 675.0 L207.4 672.9 L207.6 670.3 L204.4 668.9 L204.7 666.3 L204.0 664.0 L203.9 661.4 L202.9 659.1 L202.1 656.7 L198.7 655.6 L198.4 653.0 L197.0 651.0 L196.1 648.6 L196.0 646.0 L196.4 643.3 L194.5 641.5 L194.5 638.9 L192.1 637.3 L192.6 634.5 L190.5 632.7 L189.1 630.7 L189.7 627.9 L188.0 626.0 L188.4 623.2 L185.2 621.8 L185.7 619.0 L184.9 616.7 L182.9 614.9 L182.5 612.4 L182.0 610.0 L180.3 608.1 L179.8 605.8 L179.3 603.5 L179.6 601.0 L179.1 598.8 L177.1 596.9 L175.9 594.9 L176.2 592.4 L176.0 590.0 L176.0 587.4 L174.1 585.2 L173.9 582.6 L173.1 580.2 L174.4 577.3 L173.1 575.0 L171.2 572.8 L172.0 570.0 L170.5 568.4 L170.3 566.3 L169.8 564.3 L169.0 562.5 L168.8 559.9 L166.6 557.8 L166.2 555.2 L167.2 552.4 L166.0 550.0 L165.8 547.5 L165.4 545.0 L165.5 542.5 L166.0 540.0 L166.6 537.1 L164.1 535.2 L164.1 532.4 L162.8 530.1 L162.5 527.5 L162.7 525.0 L164.2 522.6 L164.9 520.2 L164.0 517.5 L163.8 515.0 L163.4 512.4 L165.2 510.0 L163.8 507.4 L163.4 504.9 L165.0 502.5 L165.5 500.0 L163.4 498.4 L163.9 496.0 L162.1 494.3 L162.8 491.7 L161.0 490.0 L160.4 487.5 L159.1 485.2 L158.2 482.8 L159.0 480.0 L158.9 477.5 L158.9 475.0 L159.5 472.4 L156.8 470.1 L158.1 467.5 L157.5 465.0 L156.2 463.8 L155.2 462.3 L154.0 461.0 L154.0 462.8 L153.3 464.4 L152.5 466.0 L152.4 468.3 L151.2 470.6 L153.7 472.9 L152.5 475.2 L152.5 477.5 L151.2 479.4 L150.2 481.4 L151.3 484.1 L150.0 486.0 L149.3 488.3 L146.1 488.3 L144.5 489.9 L144.0 492.4 L142.5 494.0 L141.0 496.2 L137.8 494.8 L136.4 497.3 L133.6 496.9 L131.9 498.7 L130.0 500.0 L127.5 499.0 L125.0 501.0 L122.5 499.1 L120.0 500.8 L117.5 500.3 L115.0 500.0 L113.1 498.0 L110.7 497.1 L107.6 497.9 L105.3 496.8 L103.2 495.3 L101.0 494.0 L99.5 492.3 L97.6 491.0 L95.5 489.9 L94.2 488.0 L93.6 485.3 L92.4 483.3 L90.0 482.5 L87.2 481.7 L86.6 478.8 L85.2 476.6 L81.9 476.3 L81.8 472.9 L78.5 472.6 L77.5 470.0 L76.5 467.6 L75.1 465.4 L74.0 463.1 L72.5 461.0 L74.1 459.1 L76.0 457.5 L78.2 458.2 L80.3 459.3 L82.5 460.0 L84.4 459.0 L86.7 458.8 L88.4 457.5 L90.4 456.6 L92.5 456.0 L94.2 453.7 L97.2 454.3 L99.4 453.0 L101.4 451.3 L104.0 451.0 L105.8 449.2 L107.1 447.1 L107.7 444.6 L109.0 442.5 L107.2 444.1 L105.0 445.0 L103.0 445.9 L101.4 447.6 L99.4 448.4 L97.1 448.4 L95.0 449.0 L92.4 449.9 L90.0 448.6 L87.5 448.1 L84.8 449.2 L82.5 447.5 L80.4 446.1 L77.4 446.6 L75.9 443.9 L73.6 442.7 L71.0 442.5 L69.3 440.6 L66.6 439.6 L65.8 436.9 L64.0 435.0 L63.3 432.8 L64.3 430.3 L62.0 428.4 L62.5 426.0 L59.9 425.8 L57.3 426.0 L55.0 427.5 L55.3 425.0 L55.0 422.5 L57.0 421.7 L58.1 419.8 L60.0 419.0 L62.7 419.4 L65.0 418.0 L67.5 417.5 L68.9 415.2 L69.3 412.7 L69.0 410.0 L71.3 409.0 L73.6 410.9 L75.9 411.3 L78.2 408.7 L80.6 409.6 L82.9 410.8 L85.2 409.0 L87.5 410.0 L89.9 411.3 L92.6 409.9 L94.9 411.6 L97.5 411.0 L99.0 409.9 L100.8 409.7 L102.5 409.0 L105.2 409.7 L107.4 407.5 L109.9 407.3 L112.5 407.5 L114.5 406.5 L116.3 405.0 L117.9 403.3 L120.1 402.7 L122.5 402.5 L122.5 400.0 L120.5 398.4 L121.5 395.2 L119.7 393.5 L119.2 391.1 L116.2 390.0 L116.0 387.5 L116.2 385.2 L113.7 383.6 L114.3 381.2 L114.0 379.0 L113.0 377.0 L110.9 376.3 L109.4 374.2 L107.1 373.9 L105.0 373.0 L103.4 371.9 L102.0 370.5 L100.0 370.0 L99.6 367.2 L102.5 365.3 L102.2 362.6 L102.5 360.0 L101.5 358.1 L101.9 355.7 L99.8 354.2 L101.0 351.6 L99.0 350.0 L96.8 349.6 L94.5 349.8 L92.3 348.6 L90.0 349.0 L88.3 347.4 L86.2 346.1 L85.0 344.0 L86.2 341.9 L85.2 339.2 L87.6 337.5 L87.5 335.0 L88.6 332.7 L91.1 331.7 L93.5 330.6 L94.3 328.0 L96.1 326.4 L96.9 323.9 L99.0 322.5 L99.2 319.6 L100.7 317.7 L102.3 315.9 L104.9 314.7 L106.0 312.5 L108.5 312.4 L111.0 312.5 L112.2 314.4 L112.7 316.8 L115.5 317.6 L116.0 320.0 L118.1 318.5 L120.8 319.1 L122.6 316.6 L124.9 315.9 L127.5 316.2 L130.0 316.0 L132.0 314.3 L134.6 314.4 L136.8 313.4 L139.4 313.9 L141.7 313.3 L144.0 312.5 L143.9 310.2 L145.7 308.6 L146.0 306.5 L145.9 304.2 L147.5 302.5 L150.0 301.3 L149.9 298.0 L151.2 295.9 L152.5 293.8 L155.0 292.5 L157.1 291.1 L159.4 290.0 L161.1 288.2 L162.5 286.0 L163.9 284.0 L165.3 281.9 L166.4 279.5 L169.5 279.0 L171.0 277.0 L172.5 275.0 L172.8 272.7 L174.3 270.9 L174.5 268.5 L176.6 266.8 L176.7 264.5 L176.1 261.9 L177.5 260.0 L180.1 260.1 L181.1 256.8 L183.8 257.1 L185.7 255.7 L187.6 254.3 L190.0 254.0 L189.3 251.8 L190.5 249.7 L190.0 247.5 L190.3 244.6 L193.1 243.6 L195.6 242.3 L195.1 238.9 L197.5 237.5 L198.2 234.9 L200.6 233.5 L201.8 231.3 L203.5 229.4 L205.4 227.6 L206.0 225.0 L205.0 222.7 L205.4 220.3 L205.4 218.0 L204.6 215.7 L207.2 213.3 L206.0 211.0 L207.9 209.8 L209.1 208.0 L208.8 205.1 L212.0 204.8 L212.5 202.5 L214.8 201.9 L216.3 200.0 L218.7 199.5 L220.1 197.5 L221.7 195.7 L223.4 194.2 L226.0 194.0 L226.0 190.0 L223.6 190.4 L221.2 190.5 L219.2 189.2 L217.1 187.6 L214.9 187.3 L212.5 187.5 L211.9 185.2 L210.4 183.5 L208.3 182.2 L207.5 180.0 L205.3 179.0 L202.9 178.5 L201.1 176.7 L198.5 176.6 L196.0 176.5 L194.0 175.0 L192.3 173.2 L190.8 170.9 L187.5 171.2 L186.7 168.1 L184.0 167.5 L182.7 165.0 L183.4 162.5 L183.3 160.0 L184.0 157.5 L184.0 155.1 L183.8 152.8 L182.6 150.8 L180.7 149.1 L181.5 146.4 L179.2 144.8 L179.0 142.5 L178.4 140.1 L180.6 138.0 L180.0 135.6 L180.4 133.4 L180.0 131.0 L181.9 129.6 L184.1 128.5 L184.4 125.8 L186.8 124.9 L187.5 122.5 L189.1 120.9 L190.6 119.2 L190.6 116.7 L192.4 115.2 L193.1 113.0 L194.0 111.0 L192.5 109.7 L191.1 108.4 L190.4 106.3 L189.0 105.0 L187.5 103.7 L187.5 101.3 L186.0 100.0 L183.4 99.5 L181.1 98.5 L179.1 97.1 L177.5 95.0 L176.9 92.9 L175.0 91.8 L174.0 90.0 L171.8 91.1 L169.6 91.6 L167.4 91.8 L165.0 91.0 L162.6 90.0 L160.1 89.4 L157.5 89.0 L157.8 86.5Z" fill="none" stroke="#7e7e7e" stroke-width="1.8" stroke-linejoin="round"/>
<path d="M262.5 291L267.5 289L271 294L269 299L262.5 297.5Z" fill="#f4f4f4" stroke="#7e7e7e" stroke-width="1"/>
<path d="M642.5 679.0 L645.0 676.5 L647.0 677.5 L647.5 687.5 L645.0 694.0 L641.0 694.0 L641.5 686.0Z" fill="#ebd6cc" stroke="#7e7e7e" stroke-width="1.6" stroke-linejoin="round"/>
<path d="M638.0 697.5 L641.0 694.0 L645.0 695.5 L645.5 705.0 L642.5 711.0 L638.0 710.0 L637.5 703.0Z" fill="#ebd6cc" stroke="#7e7e7e" stroke-width="1.6" stroke-linejoin="round"/>
<path d="M636.0 712.5 L641.0 712.5 L640.5 720.0 L640.0 727.5 L637.5 732.5 L635.0 731.0 L634.5 720.0Z" fill="#ebd6cc" stroke="#7e7e7e" stroke-width="1.6" stroke-linejoin="round"/>
<path d="M646.0 710.0 L647.5 709.0 L647.0 716.0 L646.5 721.0 L645.5 716.0Z" fill="#ebd6cc" stroke="#7e7e7e" stroke-width="1.6" stroke-linejoin="round"/>
<ellipse cx="633" cy="748" rx="3" ry="4" fill="#ebd6cc" stroke="#7e7e7e" stroke-width="1.2"/>
<circle cx="665.7" cy="710.0" r="1.4" fill="#7e7e7e"/>
<circle cx="627.5" cy="727.5" r="1.2" fill="#7e7e7e"/>
<circle cx="640.0" cy="784.5" r="1.6" fill="#7e7e7e"/>
<circle cx="649.0" cy="806.0" r="1.6" fill="#7e7e7e"/>
<circle cx="655.0" cy="814.0" r="1.8" fill="#7e7e7e"/>
<circle cx="658.5" cy="810.0" r="1.8" fill="#7e7e7e"/>
<circle cx="660.5" cy="647.0" r="0.7" fill="#7e7e7e"/>
<circle cx="660.5" cy="801.0" r="0.7" fill="#7e7e7e"/>
<circle cx="657.0" cy="805.0" r="1.0" fill="#7e7e7e"/>
<circle cx="160.3" cy="751.0" r="0.9" fill="#7e7e7e"/>
<circle cx="184.0" cy="745.6" r="0.9" fill="#7e7e7e"/>
<circle cx="170.0" cy="806.2" r="0.9" fill="#7e7e7e"/>
</svg>
</body></html>
